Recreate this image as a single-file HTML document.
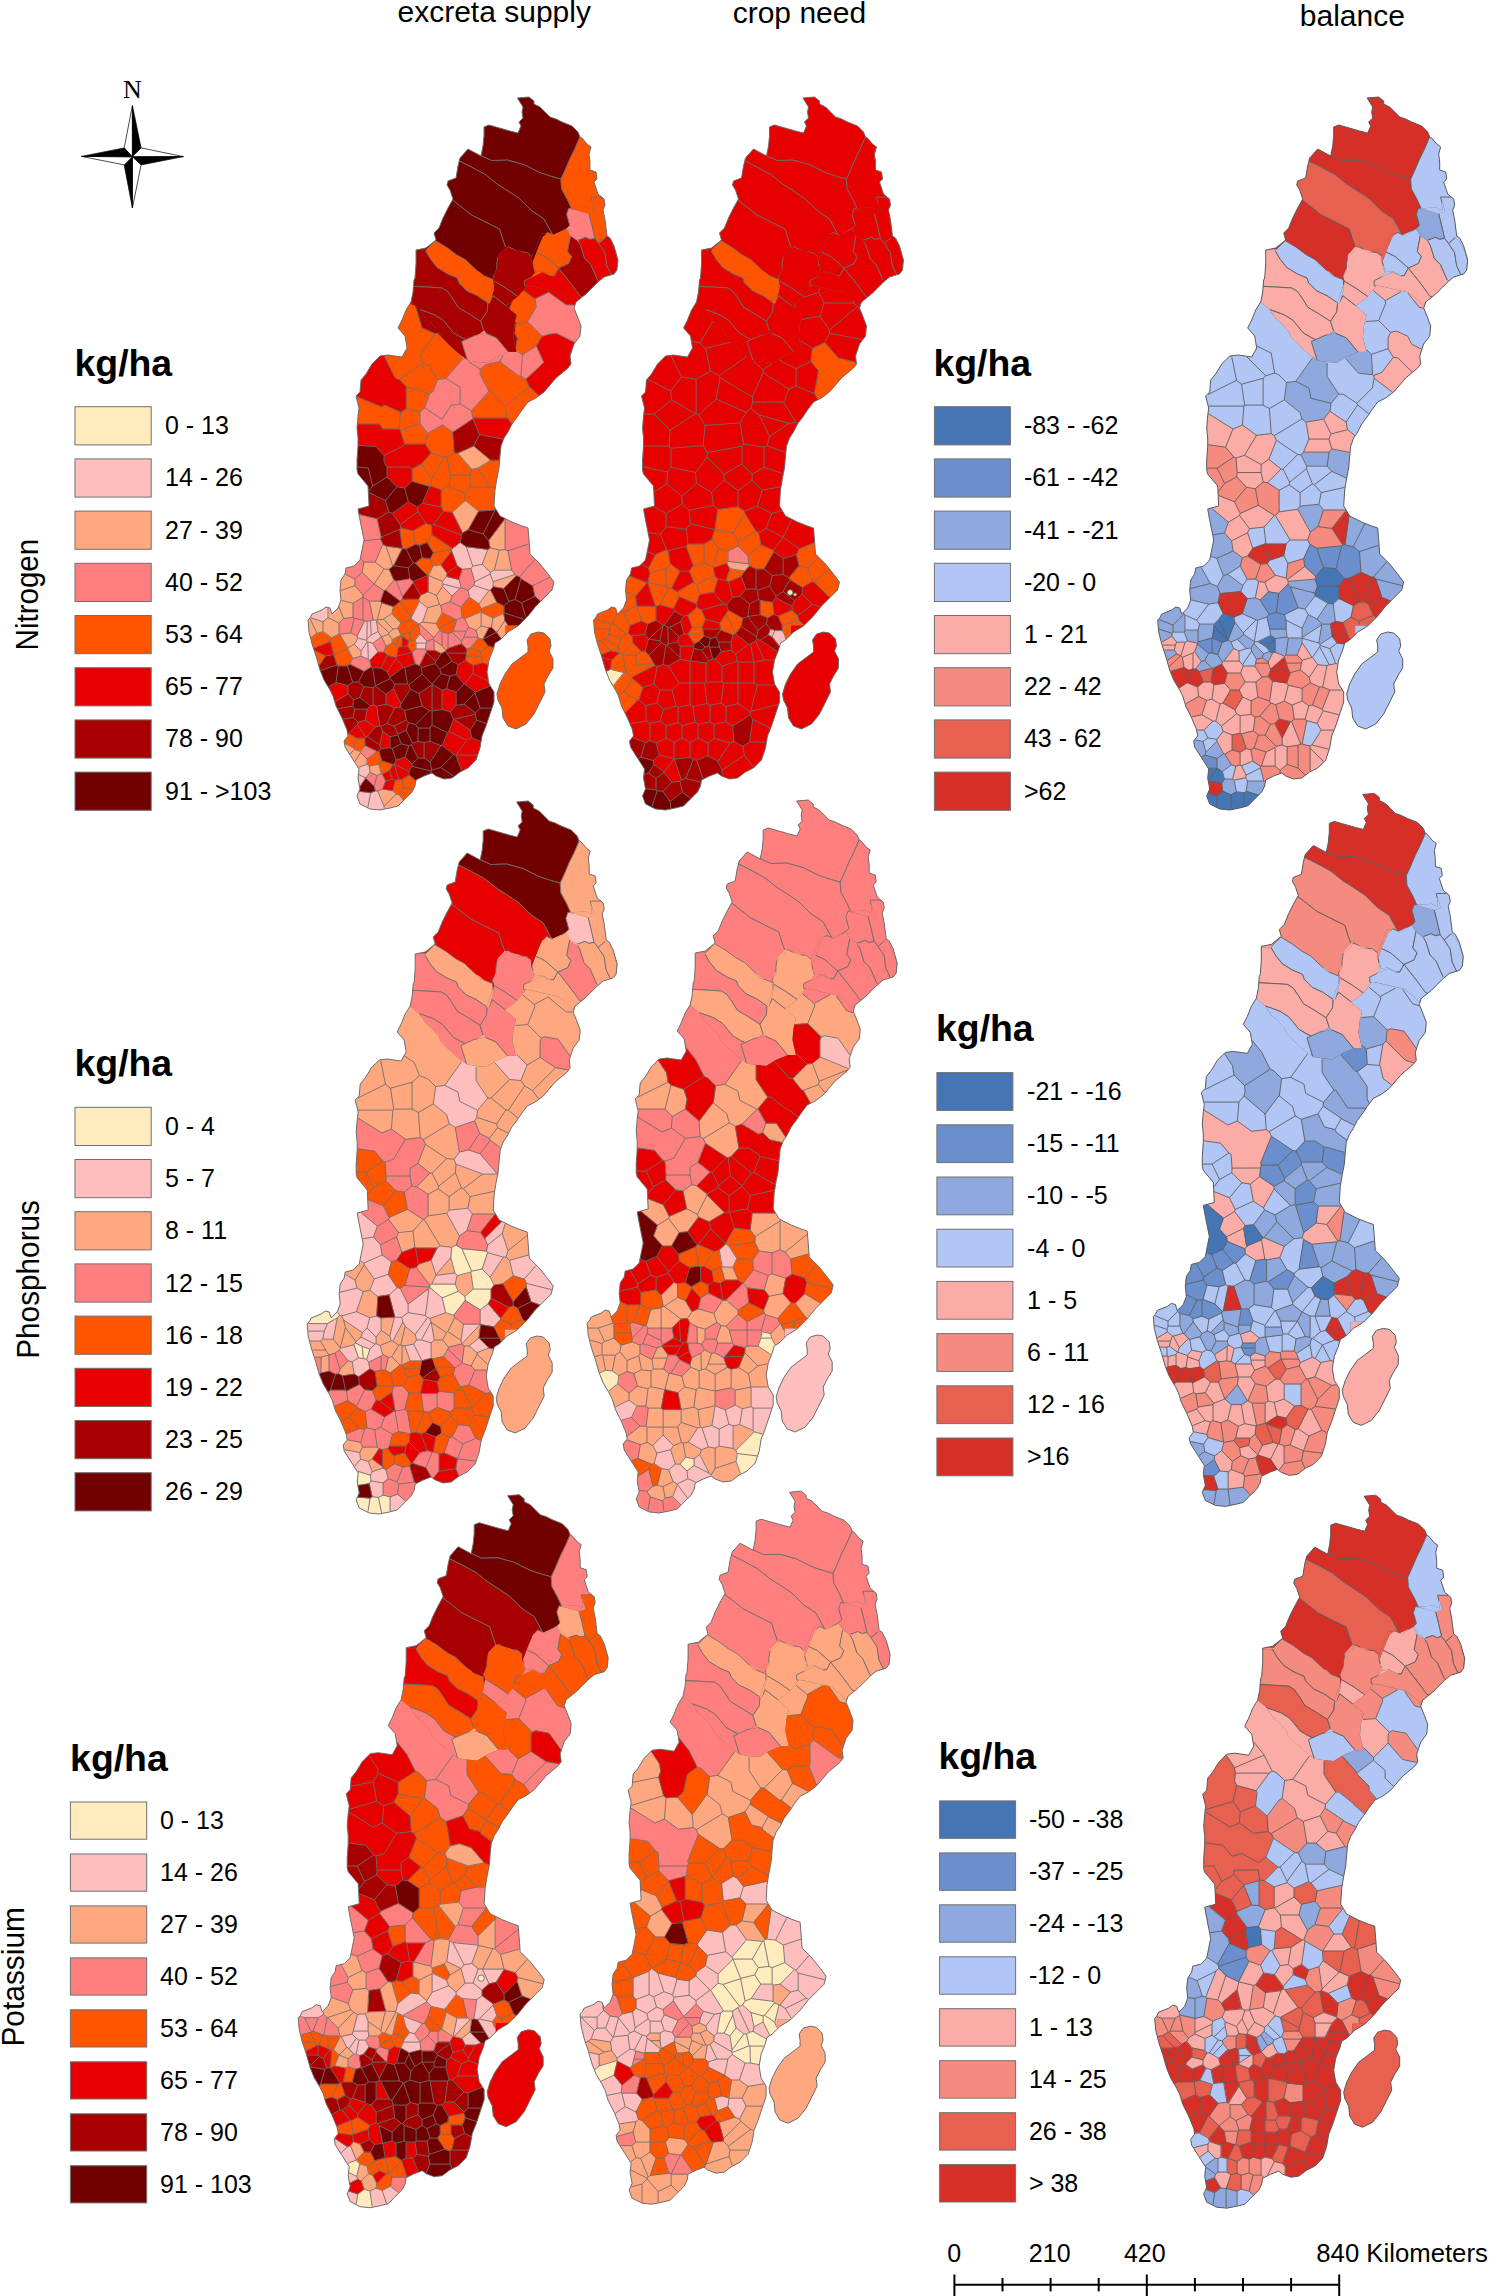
<!DOCTYPE html><html><head><meta charset="utf-8"><style>
html,body{margin:0;padding:0;background:#fff;}
svg{display:block;font-family:"Liberation Sans",sans-serif;}
</style></head><body>
<svg width="1489" height="2296" viewBox="0 0 1489 2296" xmlns="http://www.w3.org/2000/svg">
<defs><path id="swe" d="M517.4,98 L522,97.6 L529,97 L534,101 L534,104 L540,107 L545,112 L550,117 L556,119 L562,122 L572,126 L578,132 L580,137 L582,138 L587,144 L591,147 L589,154 L590,162 L590,170 L596,172 L597,179 L594,182 L598,194 L604,199 L605,205 L603,210 L605,220 L607,236 L610,238 L614,246 L618,260 L617,270 L614,274 L604,277 L598,282 L586,294 L576,302 L574,308 L578,318 L581,326 L580,336 L574,344 L572,350 L570,356 L571,364 L568,368 L556,378 L544,392 L536,398 L528,402 L522,410 L518,416 L512,424 L508,432 L504,438 L501,446 L500,456 L499,468 L497,478 L495,490 L494,506 L500,516 L512,522 L522,526 L528,528 L529,540 L530,554 L540,564 L548,574 L554,582 L552,590 L544,598 L536,606 L528,616 L518,626 L508,632 L500,640 L495,643 L493,650 L489,660 L487,672 L489,684 L494,692 L494,702 L490,714 L486,726 L482,736 L480,748 L476,760 L468,768 L460,772 L452,778 L444,779 L436,776 L432,773 L424,776 L416,780 L415,786 L412,792 L404,800 L398,806 L390,808 L380,810 L370,809 L360,804 L357,796 L360,789 L358,778 L359,769 L352,758 L345,747 L344,741 L348,736 L347,730 L342,718 L336,706 L333,696 L330,690 L324,680 L320,670 L316,656 L312,644 L309,632 L308,620 L310,618 L312,614 L322,610 L326,607 L330,608 L332,614 L338,608 L341,600 L340,590 L341,580 L345,574 L346,568 L354,566 L360,560 L362,550 L364,540 L362,530 L360,520 L358,509 L369,506 L368,486 L358,474 L357,470 L357,460 L358,446 L358,438 L357,428 L358,416 L359,408 L356,396 L360,392 L361,380 L366,374 L372,364 L380,356 L388,355 L402,357 L407,348 L406,342 L405,336 L398,328 L402,320 L406,310 L411,302 L413,292 L414,280 L415,278 L416,264 L416,250 L426,248 L436,240 L434,233 L439,228 L443,218 L448,208 L453,199 L450,190 L447,185 L448,181 L456,178 L458,166 L460,158 L468,149 L481,156 L483,146 L484,136 L484,127 L489,125 L496,127 L510,131 L518,133 L521,126 L519,122 L523,118 L522,112 L523,107Z M538,632 L544,633 L550,639 L551,646 L549,651 L553,659 L553,668 L548,676 L544,684 L545,692 L540,702 L534,714 L526,724 L516,729 L508,726 L503,718 L502,708 L498,700 L497,694 L500,684 L505,674 L512,664 L520,658 L528,652 L528,646 L527,640 L531,634Z"/><clipPath id="cl"><use href="#swe"/></clipPath></defs>
<g transform="translate(0,0)"><g clip-path="url(#cl)"><use href="#swe" fill="#FF5500"/><path d="M451.2,90 592.2,90 580.1,136.7 575.1,148.4 570.1,158.5 565,170.6 561,179.1 551.9,176.6 539.8,172.6 523.7,164.5 507.6,160.1 491.5,160.5 480.4,155.5 471.3,140.4Z" fill="#730000" stroke="#6e6e6e" stroke-width="0.9"/><path d="M451.2,150.4 471.3,140.4 480.4,155.5 491.5,160.5 507.6,160.1 523.7,164.5 539.8,172.6 551.9,176.6 561,179.1 561.6,188.7 567.6,199.8 571.7,208.9 567,214.9 570.5,227.4 552.9,235.5 543.9,218.9 531.8,210.9 519.7,198.8 507.6,190.7 497.5,184.3 485.4,174.6 471.3,167 459.2,160.9Z" fill="#730000" stroke="#6e6e6e" stroke-width="0.9"/><path d="M439.1,190.7 443.1,174.6 459.2,160.9 471.3,167 485.4,174.6 497.5,184.3 507.6,190.7 519.7,198.8 531.8,210.9 543.9,218.9 552.9,235.5 541.9,233.5 535.8,249.2 531.8,257.2 519.7,251.2 505.6,247.2 502.6,239.1 499.5,229 483.4,221 471.3,214.9 461.3,206.9 450.8,198.8Z" fill="#730000" stroke="#6e6e6e" stroke-width="0.9"/><path d="M414.9,231 431,210.9 450.8,198.8 461.3,206.9 471.3,214.9 483.4,221 499.5,229 502.6,239.1 505.6,247.2 498.5,255.2 497.5,267.3 493.9,276.4 493.9,284.4 479.4,272.3 467.3,266.3 451.2,258.2 435.1,251.2 419,249.2Z" fill="#730000" stroke="#6e6e6e" stroke-width="0.9"/><path d="M580.1,136.7 612.4,120.2 612.4,198.8 592.2,198.8 593.2,210.9 586.2,207.9 571.7,208.9 567.6,199.8 561.6,188.7 561,179.1 565,170.6 570.1,158.5 575.1,148.4Z" fill="#FF5500" stroke="#6e6e6e" stroke-width="0.9"/><path d="M590.8,197.1 611,197.1 611,236.4 605.9,237.4 598.9,243.5 594.8,238.4 591.8,225.3 588.8,213.2 594.8,211.2Z" fill="#FF5500" stroke="#6e6e6e" stroke-width="0.9"/><path d="M568.7,208.2 574.7,209.2 588.8,213.2 591.8,225.3 594.8,238.4 589.8,239.4 585.8,237.4 577.7,240.4 570.7,234.4 566.6,228.4 569.7,225.3 566.6,214.3Z" fill="#FF7F7F" stroke="#6e6e6e" stroke-width="0.9"/><path d="M547.5,232.4 554.5,235.4 566.6,228.4 570.7,235.4 568.7,245.5 567.6,251.5 571.7,256.6 568.7,263.6 558.6,268.1 545.5,256.6 535.9,252 539.9,242.5 542.5,236.4Z" fill="#FF5500" stroke="#6e6e6e" stroke-width="0.9"/><path d="M535.9,252 545.5,256.6 558.6,268.1 554.5,275.7 550.5,275.7 542.5,271.7 535.4,272.7 532.4,261.6Z" fill="#FF5500" stroke="#6e6e6e" stroke-width="0.9"/><path d="M570.7,235.4 577.7,240.4 580.7,245.5 584.8,258.6 590.8,264.6 597.9,280.7 604.9,295.8 590.8,300.9 578.7,295.8 575.7,290 568.7,280.7 558.6,268.1 568.7,263.6 571.7,256.6 567.6,251.5 568.7,245.5Z" fill="#A80000" stroke="#6e6e6e" stroke-width="0.9"/><path d="M577.7,240.4 585.8,237.4 589.8,239.4 594.8,238.4 598.9,243.5 604.9,252.5 606.9,265.6 612,276.2 600.9,281.7 597.9,280.7 590.8,264.6 584.8,258.6 580.7,245.5Z" fill="#E60000" stroke="#6e6e6e" stroke-width="0.9"/><path d="M598.9,243.5 605.9,237.4 610,240.4 615,250.5 618,260.6 617,270.7 612,276.2 606.9,265.6 604.9,252.5Z" fill="#E60000" stroke="#6e6e6e" stroke-width="0.9"/><path d="M493.1,276.3 496.7,271.4 496.7,264.2 497.9,256.9 503.9,252.1 508.2,246.5 518.3,251.5 527.3,252.5 532.4,256.6 532.4,261.6 535.4,272.7 532.4,276.7 526.9,285.9 518.4,296.8 506.4,288.4 494.3,281.1Z" fill="#A80000" stroke="#6e6e6e" stroke-width="0.9"/><path d="M524.3,280.7 532.4,276.7 542.5,271.7 550.5,275.7 554.5,275.7 558.6,268.1 568.6,280.7 575,289 580,296 590,300 576,302 574,306 568,300 558.9,292.8 544.8,289.8 532.7,286.8 524.6,285.8Z" fill="#E60000" stroke="#6e6e6e" stroke-width="0.9"/><path d="M425.4,250.6 435.5,240.6 446.8,247.4 456.5,254.7 465.3,259.5 481.4,274.8 493.5,279.6 494.3,284.5 491.1,294.1 487.9,303 477.4,295.8 466.9,290.9 458.9,282.9 457.2,278 447.6,274 437.1,267.5 430.6,259.5Z" fill="#FF5500" stroke="#6e6e6e" stroke-width="0.9"/><path d="M505,625 565,625 565,740 505,740 500,725 495.6,705 495.6,690 498,675 505,660Z" fill="#FF5500" stroke="#6e6e6e" stroke-width="0.9"/><path d="M405,250 425.4,250.6 430.6,259.5 437.1,267.5 447.6,274 457.2,278 458.9,282.9 466.9,290.9 477.4,295.8 487.9,303 487.2,311.7 480.8,321.3 477.5,319.2 469,313.8 458.2,307.4 452.8,298.8 447.5,291.3 442.1,288 426,287 405,286Z" fill="#A80000" stroke="#6e6e6e" stroke-width="0.9"/><path d="M405,286 426,287 442.1,288 447.5,291.3 452.8,298.8 458.2,307.4 469,313.8 477.5,319.2 480.8,321.3 484,331 479.7,334.2 467.9,340.7 461.4,337.5 453.9,333.2 448.5,326.7 443.2,320.3 434.6,314.9 426,311.7 419.5,309.5 411.5,303.1 405,303Z" fill="#A80000" stroke="#6e6e6e" stroke-width="0.9"/><path d="M419.5,309.5 426,311.7 434.6,314.9 443.2,320.3 448.5,326.7 453.9,333.2 461.4,337.5 467.9,340.7 462.5,341.8 467.7,360.9 458.2,353.6 448.5,345 441,337.5 438.9,332.1 432.4,324.6 426,319.2Z" fill="#A80000" stroke="#6e6e6e" stroke-width="0.9"/><path d="M461.6,341.5 474.9,335.5 485.8,333.1 496.7,337.9 508.8,352.4 496.7,357.3 487,363.3 474.9,362.1 467.7,360.9Z" fill="#FF7F7F" stroke="#6e6e6e" stroke-width="0.9"/><path d="M493.1,295.6 506.4,305.9 517.2,315 514.8,324.6 513.6,336.7 517.2,352.4 508.8,352.4 496.7,337.9 485.8,333.1 484,331 480.8,321.3 487.2,311.7 487.9,303 489.4,302.9Z" fill="#A80000" stroke="#6e6e6e" stroke-width="0.9"/><path d="M494.3,281.1 506.4,288.4 518.4,296.8 506.4,305.9 493.1,295.6 489.4,302.9 493.1,290.8Z" fill="#A80000" stroke="#6e6e6e" stroke-width="0.9"/><path d="M592.4,201.4 592,201.5 592.8,210.3 586.2,207.5 570.4,208.6 570.3,208.9 574.6,209.6 588.8,213.7 595.3,211.5Z" fill="#FF5500"/><path d="M532,256.8 532,263.5 532.1,263.5 536.3,252.2 540.3,242.6 542.8,236.7 546.3,233.9 541.6,233 535.4,249 531.7,256.5Z" fill="#730000"/><path d="M618.4,260 614.4,245.9 610.3,237.7 608.5,236.5 605,237.2 609.6,240.7 614.6,250.7 618.1,262.4 618.2,262.4Z" fill="#E60000"/><path d="M498,257.4 504.2,252.4 508,247.4 505.5,246.7 498.1,255Z" fill="#A80000"/><path d="M494.3,284.6 493.9,284.5 490.7,294 487.3,303.4 489.7,303.3 493.5,290.9Z" fill="#FF5500"/><path d="M535,272.6 531.1,277.8 542.5,272.1 550.4,276.1 552.2,276.1 542.5,271.3 535.7,272.2 534,265.8 533.2,266Z" fill="#FF5500"/><path d="M486.5,333.3 484.1,330.5 479.5,333.9 477.1,335.2 477.1,335.4Z" fill="#FF7F7F"/><path d="M415.6,249.7 415.6,250.7 425.6,251 426.8,249.7 419.7,248.9Z" fill="#A80000"/><path d="M567.2,228.5 566.4,228.8 570.4,235.7 579.1,241.9 579.5,241.4 571,234.1Z" fill="#FF7F7F"/><path d="M476.6,270.5 476.5,270.7 481.2,275.1 484.9,276.6 485,276.5 479.6,272Z" fill="#FF5500"/><path d="M518.2,251.9 522.8,252.4 522.8,252.3 519.8,250.8 513.1,248.9 512.9,249.3Z" fill="#A80000"/><path d="M562,231.5 561.7,231 552.8,235.1 554.6,235.9Z" fill="#FF5500"/><path d="M497.1,267.4 497.1,267.4 493.8,275.5 494.1,275.7 497.1,271.5Z" fill="#A80000"/><path d="M493.8,277.5 493.5,277.5 493.5,282.1 494,285 494.2,285 494.7,281.1Z" fill="#730000"/><path d="M605.8,276 605.3,275.4 599,280.7 597.1,280.1 597.8,281.6 596.2,283 596.7,283.6Z" fill="#E60000"/><path d="M515.6,346.6 516.7,351.4 522.4,355.2 536.7,346.4 536.7,346.1 542.6,336 528,321.5 536.6,307.2 535.4,298.8 523.6,290 522.8,290.7 518.2,296.6 511.7,301.5 509.1,308.6 516.9,315.1 514.9,322.8 515.6,323.3 514.1,332.6 516.9,338.3ZM518.5,375.5 500,361.1 486,364.1 479.8,369 479.8,374.8 488.6,391.2 471,410.7 472.7,418.4 507.2,418.4 511.9,424.9 512.3,424.2 518.2,416.2 522.2,410.2 528.2,402.2 536.2,398.3 539.6,395.7 529.4,386.2 526.1,378.9 521.1,375.8ZM504.4,612.8 504.4,605.9 496.8,602.1 481.3,608.3 479.3,603.7 469.2,596.5 460.6,606.9 461.8,617.9 464.5,619.1 480.8,612.1 480.9,612.3 493,618.4 504,613.6ZM381.1,406.3 355.6,395.7 358.7,408 357.7,416 357,424.4 379.2,424.4 382.7,429.4 398.9,429.4 399.8,430.3 404.5,444.4 424.8,444.4 430.7,452.8 421.4,463.4 411.8,468.8 411.8,481.5 429.6,486.9 430.7,486.5 440.8,489.9 440.8,507.1 443.2,511.8 452.3,512.6 465.5,501.1 478.5,511.5 495.1,510.4 496.7,509.9 494.3,505.9 495.3,490 495.6,488.4 497.3,478.1 499.3,468 500,459.8 490.6,459.8 477.8,467.8 471.9,469 457.8,452.9 454.6,452.4 453,431.9 442.6,424.6 427.6,432.9 420.4,423.3 420.4,411.8 425,408.1 429.7,394 433.1,391.9 437.9,379.8 446.1,378.6 463.6,358.3 462.8,356.7 458.4,353.4 448.7,344.8 441.3,337.3 440.5,335.4 437.9,333 435.3,333.3 422.3,327.4 415.9,306.3 414.2,304.9 410.1,302.9 405.7,309.9 401.7,319.9 397.6,328 404.7,336.1 406.7,347.9 401.8,356.7 388,354.7 383.3,355.3 394.5,377.6 396.5,379.3 399.3,379.8 405.8,386.9 405.8,408.7 400.7,411.7 385,404.8ZM466.9,648.8 466,653 465.7,656 465.2,660.7 473.1,665.7 482.8,663.2 488.5,665.1 489.3,660.1 493.3,650.1 494.1,647.2 488.5,645.8 483.1,639 483,639 478.3,637.7 470.2,647.7ZM441.8,632.1 448.2,633.9 452.6,632.7 453.4,631.2 457.3,619.6 456,619.2 442.1,612.3 435.6,623.6 438.6,628.4 439.3,630.7ZM399.4,529.3 402.1,548.6 406.1,549.4 415.3,544.8 419.6,545.7 427,542.9 432.9,552.7 430,558.6 421.9,557.2 414.6,563 427.4,575.8 428.1,575.8 428.7,575.6 433.4,566.2 441.1,565.1 452,551.4 452.1,549.7 452.9,548.2 432.3,534.5 431.6,525.2 426,523 413,530.5 400.5,527.3ZM391.3,613.8 400.5,623 397.4,628.4 400.7,635 400.6,635 391.8,639.3 391.8,642.9 385.8,645.9 383.7,652.1 387.2,655.7 396,657.9 397.2,656.2 398.5,648.1 402.3,646.3 402.5,637.1 408.3,640.9 407,646.1 411.7,652.5 412.1,652.7 416.4,649.2 416.4,643 415.7,640.2 420.3,634.1 419,623.7 418.5,623.5 411.7,618.8 411.5,617.9 419.8,601.4 418.8,598.8 402,598.8 400.1,600.9 400,601.2 393.2,606.4ZM399,778.8 395,780.1 392.3,790.8 395.9,794.4 399.4,795.3 403.5,801 404.2,800.2 412.2,792.2 415.3,786.1 416.2,780.4 409.1,774.4 401.9,779.2ZM393.5,764.3 382,760.4 379.3,751 376.9,751.3 366.7,758.9 366.7,764.6 369.2,766.6 378.6,764.7 381,774.1 382.1,774.4 389.7,770.6ZM344.1,743.5 353.3,748 354.3,749.8 360.4,751.9 365.3,745.7 365.3,737.8 356.8,737.8 348.9,733 347.2,733.2 347.7,735.9 343.7,740.9ZM310.1,637.6 311.7,644.1 313.3,648.8 330.2,642.1 333.3,654.4 333.2,654.6 336.8,665.2 338.2,666.3 347.5,666.3 350.3,664.2 353.1,658.5 348.2,648.7 348.4,648 340.1,634.1 339,633.7 331.6,637.4 323.1,631.3 316.9,633.1ZM315.7,656.1 318.8,666.9 326.2,655.8 313.5,649.4Z" fill="#FF5500"/><path d="M515.3,574 492.8,581.5 492.8,587 503.8,588.8 517.1,575.5ZM488.3,540.3 489.8,547.7 487.5,549.2 481.9,564.2 490.4,572.7 494.5,570.4 512.1,570.4 508.2,550.6 505.4,549.4 505.4,518.4 504.9,518.1ZM501.2,639.3 505.3,635.1 505.3,625.3 508.7,625.3 505.1,620.5 504,613 493,617.7 481.3,611.9 481,611.4 464.1,618.7 468.4,627.4 475.8,630.6 477.7,637.2 478.2,638.3 483,639.6 489.1,628.1 491.3,627.7 496.2,632.6 496.6,632.8ZM481,609.1 497.2,602.6 490.8,589.7 489,590.1 478.7,603.8ZM471.7,469.7 478.1,468.4 491.2,460.2 473.7,445.6 457.2,453.1ZM462.5,533.4 468.5,529.9 479,511.1 465.5,500.3 451.9,512.2ZM427.8,575.3 427.8,591.6 420.4,594.8 418.3,599.1 419.2,601.6 427.2,607.9 422.5,621.9 418.7,623.6 433.9,638 439.9,630.6 439.1,628.2 436.3,623.6 442.5,612.7 441.1,605.4 450.5,601.9 452.4,596 442.8,586.4 443.4,584.1 442.8,581.5 446.9,576.6 447.4,573 441,564.5 433,565.6 428.2,575.1ZM433.9,650.3 441.1,653.9 445.6,651.6 446,650.4 442.5,645.7 433.6,639.7ZM399.7,794.7 396.2,793.8 392.8,790.4 382.3,788.7 377.3,791.1 383.8,806.2 383.8,809.6 390.1,808.3 398.2,806.3 403.9,800.5ZM361.7,572.2 373.7,584.2 373.7,584.2 383.8,590.9 386,590.4 394.3,580 389.6,569.5 392.9,566.5 394,566 402.9,548.1 386.1,545.8 382.6,544 375,561.8 363.8,561.8ZM373,620.2 376.1,620.7 376.1,620.9 377.8,631.7 381.1,637.1 381.3,637.2 385.9,646.5 392.4,643.3 392.4,639.7 401,635.5 401.4,635.1 398.1,628.4 401.3,622.9 392,613.6 393.8,606.4 381.8,602.4 380.5,600.8 369.1,600.8ZM381.6,774 379.1,764 368.9,766 370,772.4 376.9,775.9ZM351.7,758.2 354.2,762.1 357.9,767.8 367.3,764.6 367.3,759 360.9,752.5 360.5,751.3 354.7,749.3 353.7,747.6 344,742.7 344.7,747.1 349.5,754.6ZM340.7,600 340.6,600.2 338.4,606.1 337.7,607.8 332.1,613.4 330.2,607.7 327.7,607.1 327.7,617.5 323,621.4 310.1,617.1 309.8,617.8 307.7,619.9 308.7,632 310.2,638.2 317.1,633.6 323,631.9 331.6,638.1 339.3,634.2 339.3,623.2 343.7,618.8 353.3,617.6 353.3,603.5 363.1,597.4 363.3,597.4 363.3,595 355.3,585.6 355.3,578.9 344.9,573.7 340.7,579.9 339.7,590ZM347.5,648.7 352.6,658.9 361.3,656.4 361.3,651 354.7,644.2 358.5,638 357.3,635.8 350.7,632.5 339.4,634.1 347.7,648.1Z" fill="#FFA77F"/><path d="M473.7,585.2 467.8,590.4 469,597.1 479.1,604.3 489.3,590.7 490.8,590.3 493.4,586.8 493.4,582 515.7,574.5 511.9,569.8 494.3,569.8 490.5,572 482.6,564.1 488.2,549.1 466.4,546.4 460.2,542 452.2,548.1 451.5,549.5 451.4,551.4 456.8,565.8 462.3,569.7 470.7,568.7 474.4,581.8ZM442.2,581.3 442.8,584.1 442.2,586.6 452.1,596.5 460.1,588.5 461.7,587.9 459.2,579.3 446.5,576.1ZM423,622.3 427.9,607.7 419.3,600.9 410.9,617.8 411.2,619.1 418.2,624.1 418.7,624.2 419.4,624ZM415.8,649.3 425.6,649.3 426.7,643.1 427.4,641 419.9,633.5 415,640 415.8,643.1ZM358.8,791 356.7,796 359.8,804.2 367.6,808.1 369.9,809.3 380,810.3 384.4,809.4 384.4,806.1 377.9,791 375.5,790.4 370.7,792.5ZM373.2,619.6 370.4,620.4 367.2,620.9 364.4,620.7 356.7,636 357.8,638 353.9,644.3 360.7,651.3 360.7,656.4 368.1,659.6 369.7,660.8 378.4,652.1 373.2,643.4 381.7,636.9 378.4,631.5 376.7,620.8 376.6,620.2ZM359.5,788 366,778.3 366.1,778.2 370.5,772.3 369.5,766.1 367.1,764.1 357.5,767.3 358.7,769.1 358.1,774.3 357.7,778ZM321.9,609.7 311.8,613.8 309.8,617.7 323.1,622.1 328.3,617.7 328.3,607.3 325.9,606.7Z" fill="#FFBEBE"/><path d="M574.6,304.2 574.9,306.3 576.8,300.7 576.4,300.5ZM521.8,291.9 522,292.1 524,290.5 523.8,289.4ZM513.3,336.7 515.9,348.1 515.9,348.1 517.6,338.2 514.7,332.5 516.3,323.1 515.1,322.1 514.5,324.5ZM509.6,309 512.6,300.8 505.9,305.9ZM501.3,446.1 504,439 479.7,434.1 473,418.1 452.4,431.9 454,452.9 457.7,453.5 473.6,446.3 490.6,460.4 499.9,460.4 500.3,456ZM449.9,711.8 453.4,719.5 453.9,719.6 470.2,730.5 477,720.3 475.4,714.1 475.7,712.7 464.1,703.9 456,704.9ZM445.4,650.3 445.1,651.4 446.6,653.3 451.9,661.3 458.3,665 465.8,660.8 466.3,656.1 466.6,653.1 467.4,648.9 461.7,643.2 447.8,647.9ZM418.6,693.3 421.8,706.3 429.5,710.8 432.1,711.2 442.4,709.7 442.4,690 432.1,684.2 431.9,684.5ZM425.8,652 419,665.4 421.4,667.8 435.5,663.8 436,661.8 441.5,653.4 434.3,649.8 425.8,649.8ZM430.1,741 424.1,742.2 418.1,741 412.6,743.2 411,744.7 417.9,758.4 424,758.4 430.2,762.5 441.5,745.5ZM411.6,302.8 410.2,302.8 409.7,303.4 415.2,306 415.2,306 421.8,327.9 435.2,334 437.7,333.6 441,336.6 439.2,331.9 432.6,324.4 426.2,319 419.7,309.3 415.4,305.8ZM401.8,599.4 418.8,599.4 421,595 413.1,581.9 402.2,596.4ZM394.6,683.7 393.1,688.8 400.9,704.4 410.9,689.3 409,684.7 407.7,683.7ZM373,705.2 376.3,706.5 379.5,725.8 375.1,726.6 367,736.3 365.6,737 364.7,738 364.7,745.8 377,751.9 379.3,751.6 381.3,748.9 380.2,745 382.8,731.8 390,737.2 398,735.1 398.3,734.3 406.3,730.3 408.9,722.6 406.7,719.8 404.8,710.3 400.4,706.7 394.6,707.7 386.4,704 386.4,694.1 375.3,685.9 373,687.4 364.1,686.4 358.7,681.7 352.6,681.7 347.7,685.4 347.7,693.9 334.4,701.9 335.7,706.1 341.7,718.1 342.2,719.3 346.7,730.1 347.3,733.8 348.9,733.6 357.7,724.8 358.4,722.4 365.5,720.4 367.4,708.8 354.9,708.8 352.9,705.9 353.8,699.8 359.6,697.8 370.4,706ZM358.7,514.8 376.8,519.3 380.8,537.3 380,539.1 382.5,544.6 386,546.3 402.4,548.7 402.7,548.7 400,529.4 401,527.8 400.5,524.6 392.7,512.9 389,511.8 385.6,500.5 368,491.6 368.7,505.8 357.7,508.8ZM325.6,655.6 318.6,666.1 319.7,670.1 320.1,671 337.4,665.2 333.8,654.3Z" fill="#A80000"/><path d="M543.3,362.3 525.5,379 528.9,386.6 539.1,396 544.2,392.2 556.2,378.2 568.2,368.2 571.3,364.1 570.3,356 574.3,344.1 575.6,342.4 556.9,333.1 551.4,333.5 551.2,333.4 542,335.8 536.1,345.9 536.1,346.3ZM575,303.3 574,305.3 575.2,305.3 575.3,305ZM559,292.5 544.9,289.5 532.8,286.5 526.6,285.7 523.3,290 523.4,290.6 535.1,299.4 548.5,292.7 566.3,305.3 573.7,305.3 568.2,299.8ZM512.2,424.3 507.5,417.8 472.7,417.8 472.6,418.6 479.2,434.6 503.7,439.5 504.3,438.1 508.3,432.2ZM458,664.5 455.8,674.6 464,684.3 464.6,684.3 475.3,692.3 490.7,686.1 489.3,683.9 488.8,681.2 487.3,672 488.6,664.5 482.8,662.6 473.2,665 465.6,660.2ZM448.5,731.2 447.2,732.6 442,745.6 453.5,754.8 455.6,755.4 461.5,771.6 468.2,768.2 476.3,760.2 477.9,755.2 480.3,748.1 481.4,741.6 471.9,737.3 470.4,729.9 454.1,719.1 453.5,718.9ZM422.2,503.1 417.2,506.8 408.4,501.4 392.1,513.1 399.9,524.8 400.4,527.9 413.1,531.1 426,523.7 431,525.6 431.8,534.9 452.5,548.7 460.4,542.6 461.7,535.3 462.9,533 452.4,512 443.6,511.3 441.4,507 441.4,489.5 430.7,485.9 429.3,486.3ZM446.3,576.7 459.1,579.9 462.7,569.3 457.3,565.4 451.8,550.7 440.5,564.8 446.8,573.1ZM441.8,690 441.8,709.7 450.3,712.1 456.4,705.3 456.4,691.8 446.6,688.6ZM383,428.8 379.5,423.8 357,423.8 356.7,428 357.7,438 357.7,445.6 375.7,446.9 383.7,455.7 383.7,461.6 386.7,467.2 386.8,477.1 396.7,487.1 404.7,488.3 412.4,481.4 412.4,469.2 421.8,463.9 431.4,452.9 425.1,443.8 404.9,443.8 400.3,429.9 399.2,428.8ZM412.8,582.5 420.5,595.4 428.4,592 428.4,575.3 427.4,575.2 412.8,581.4ZM384.1,651.7 377.9,651.7 369.4,660.3 370.8,667.2 372.5,668.3 381,668.3 386.8,672.2 390,677.7 403.6,667.5 404.8,667.9 415.6,663.9 412.3,652.1 412.1,652.1 407.7,646 409,640.6 401.9,636 401.7,645.9 398,647.7 396.7,655.9 395.8,657.2 387.5,655.1ZM392.9,791.1 395.5,780.6 399.1,779.4 402,779.8 409.4,774.9 409.4,771.7 412.4,766.4 412.4,764 405.2,756.7 395.9,759.8 393.9,763.9 392.9,764.2 389.3,770.2 381.7,774 385.2,781 381.9,789.2ZM399.6,379.3 396.8,378.7 395,377.2 383.9,355.2 379.9,355.7 371.8,363.8 365.8,373.8 360.7,379.9 359.7,391.9 355.7,395.9 355.8,396.4 381.1,406.9 385,405.4 400.8,412.4 406.4,409.1 406.4,386.7ZM385.8,694.1 385.8,704.4 394.6,708.3 400.5,707.3 401.2,703.7 393.5,688.3ZM380.8,749.2 390.4,748 390.4,736.7 382.4,730.7 379.6,745ZM375.4,727.1 380.2,726.3 376.9,706.1 373.1,704.5 370.3,705.4 366.8,708.9 364.9,719.9 357.9,721.9 357.2,724.5 348.3,733.4 356.6,738.4 365.2,738.4 366,737.4 367.4,736.7ZM332.7,696.1 334.6,702.4 348.3,694.2 348.3,685.3 335.9,682.2 327.7,686.8 329.7,690.1ZM313.8,650.2 325.7,656.2 333.8,654.9 333.9,654.4 330.6,641.2 313.1,648.3Z" fill="#E60000"/><path d="M520,576.4 516.6,575.2 503.6,588.2 493,586.4 490.3,590 496.6,602.6 503.8,606.3 503.8,612.7 503.4,613.3 504.5,620.7 507.9,625.3 519.1,625.3 528.2,616.2 536.2,606.2 541.2,601.2 535.3,596 533.2,585.5 521.2,578.4ZM461.2,535.1 459.8,542.5 466.2,547 487.8,549.7 490.4,548 488.9,540.5 505.5,518.4 500.2,515.8 496.4,509.4 495,509.8 478.4,510.9 468.1,529.5 462.4,532.8ZM488.2,646.3 493.9,647.8 495.3,643.2 500.2,640.2 501.6,638.8 497,632.4 496.6,632.1 491.5,627.1 488.7,627.5 482.5,639.3ZM337.1,664.7 319.9,670.4 323.7,680.1 328,687.3 336,682.8 348.1,685.9 352.8,682.3 358.4,682.3 363.9,687 373.1,688 375.3,686.6 386.1,694.7 393.7,689 395,684.3 407.5,684.3 408.6,685.1 410.2,689.3 400.6,703.7 399.9,707.1 404.3,710.6 406.2,720 408.2,722.7 405.8,729.9 397.8,733.9 397.6,734.6 389.8,736.6 389.8,747.4 380.8,748.6 378.8,751.3 381.5,760.9 393.1,764.7 394.3,764.3 396.3,760.3 405,757.4 411.8,764.2 411.8,766.3 408.8,771.5 408.8,774.9 416.1,781 416.3,780.2 424.1,776.3 431.2,773.6 432,773.3 435.9,776.3 444,779.3 452.1,778.3 454.3,776.7 460.2,772.3 462,771.3 456.1,754.9 453.8,754.3 442.7,745.4 447.7,732.9 449,731.6 454,719.2 450.4,711.6 442.1,709.2 432.1,710.6 429.7,710.3 422.3,705.9 419.3,693.6 432.3,684.9 442.1,690.5 446.6,689.2 455.8,692.3 455.8,705.5 463.9,704.5 475.1,712.9 474.8,714.1 476.3,720.2 469.8,730 471.3,737.7 481.3,742.2 482.3,736.1 486.3,726.1 487.1,723.7 490.3,714.1 494.3,702 494.3,691.9 490.4,685.6 475.4,691.6 464.8,683.7 464.3,683.7 456.4,674.5 458.6,664.5 452.3,660.8 447,652.9 445.5,651 440.9,653.3 435.4,661.5 435,663.3 421.6,667.1 419.6,665.1 415.3,663.4 404.8,667.3 403.5,666.9 390.2,676.8 387.3,671.8 381.1,667.7 372.6,667.7 371.1,666.7 364,670.7 350,663.7 347.3,665.7 338.4,665.7ZM412.9,743.7 418.1,741.6 424.1,742.8 430.1,741.6 440.6,745.8 430,761.7 424.2,757.8 418.3,757.8 411.8,744.8ZM393.5,565.5 392.6,566 388.8,569.3 393.7,580.2 396.3,581.5 409.8,579.3 413,582 428,575.6 415.5,563.1 422.1,557.9 430.3,559.2 433.6,552.7 427.3,542.1 419.5,545.1 415.3,544.1 406,548.7 402.4,548.1 402.2,548.1ZM357.7,445 357.7,446 356.7,460 356.7,470 357.7,474.1 367.7,486.1 368,491.7 368,492.3 385.1,500.9 388.5,512.3 392.5,513.5 408.4,502.2 417.3,507.5 422.6,503.5 430,486.4 412,481 404.5,487.7 397,486.5 387.4,476.9 387.3,467 384.3,461.5 384.3,455.5 376,446.3ZM380,601.2 381.5,602.9 393.5,606.9 400.5,601.6 400.8,601 385.9,589.8 383.6,590.4ZM366,777.6 365.6,777.7 359.4,787.1 359.7,789 358.6,791.6 370.8,793.1 375.9,790.9 374.5,786.2ZM352.3,706 354.5,709.4 367.2,709.4 370.9,705.6 359.7,697.2 353.3,699.3Z" fill="#730000"/><path d="M575.4,304.7 574.3,304.7 573.9,305.5 573.1,304.7 566.5,304.7 548.6,292 534.8,298.8 536,307 527.3,321.6 542.1,336.4 551.1,334 551.4,334.1 556.8,333.7 575.2,342.9 580.3,336.1 581.3,326 578.3,317.9 574.3,308ZM512.1,521.7 504.8,518.1 504.8,549.8 507.6,551 511.5,570.2 515,574.6 516.5,575.8 519.6,576.9 520.8,578.8 532.6,585.9 534.7,596.3 540.8,601.6 552.3,590.2 554.3,581.9 548.2,573.8 540.2,563.8 530.3,553.9 529.6,543.7 529.3,540 528.3,527.8 522.1,525.7ZM419.8,411.5 419.8,423.5 427.4,433.7 442.5,425.3 452.7,432.4 473.1,418.8 473.3,418.1 471.7,410.9 489.3,391.3 480.4,374.6 480.4,369.3 486.2,364.7 499.8,361.8 518.2,376.1 520.9,376.4 525.9,379.4 544,362.4 536.5,345.8 522.4,354.5 516.5,350.6 516.8,352.1 508.7,352.1 503.2,354.3 496.6,357 486.9,363 486.1,362.9 474.9,361.8 467.8,360.6 461.7,355.9 462.8,358.2 445.8,378.1 437.5,379.3 432.6,391.5 429.2,393.6 424.5,407.7ZM450,601.4 440.4,605 441.9,612.9 455.8,619.8 456.5,620 452.8,630.9 452.2,632.2 448.2,633.3 442,631.5 439.5,630.1 433.8,637.2 419.3,623.4 418.4,623.7 419.7,634.1 426.7,641.2 426.1,643 425.1,648.7 416,648.7 411.7,652.2 415,663.9 419.6,665.7 426.4,652.1 426.4,650.4 434.5,650.4 434.3,640.8 442,646.1 445.6,650.9 448.2,648.4 461.5,643.9 467,649.4 470.5,648.2 478.8,638.1 478.3,637 476.3,630.1 468.9,627 464.7,618.6 462.3,617.5 461.2,607.1 469.6,597 468.4,590.6 474.2,585.5 475.1,581.8 471.1,568.1 462.1,569.1 458.6,579.5 460.9,587.6 459.7,588 451.8,595.9ZM396.4,580.9 393.8,579.6 385.4,590.2 400.4,601.5 402.5,599.2 402.7,596.7 413.4,582.5 413.4,581.5 410,578.6ZM377.9,652.3 384.2,652.3 386.4,646.1 381.8,636.7 381.2,636.5 372.4,643.2ZM377.7,791.6 382.5,789.2 385.8,781 382.3,773.9 381.2,773.5 377,775.2 370.1,771.8 365.5,778 374,786.5 375.3,790.9ZM344.7,573.9 344.5,574.2 354.7,579.3 354.7,585.9 362.7,595.2 362.7,596.9 352.7,603.2 352.7,617.1 343.5,618.2 338.7,623 338.7,634.3 339.8,634.7 350.6,633.1 357.2,636.4 364.7,621.3 367.2,621.6 370.5,621 373.6,620.1 369.8,601.4 380.6,601.4 384.2,590.5 374.2,583.8 362.4,572 364.3,562.4 375.4,562.4 383.1,544.4 380.7,539.1 381.4,537.3 377.3,518.8 358.6,514.1 359.7,520.1 363.7,540 363.6,540.7 361.7,549.9 360,558.3 359.7,559.9 353.8,565.7 345.7,567.8ZM360.4,752.8 367,759.5 377.6,751.5 365,745.2 360,751.4ZM368.4,659.1 361,655.9 352.6,658.3 349.6,664.2 364.1,671.4 371.4,667.2 370,660.2Z" fill="#FF7F7F"/><path d="M325.8,655.9 314.8,650.4M319.3,665.5 325.8,655.9M317,633.4 310.1,618.8M311,637.4 317,633.4M323,621.8 328,617.6M328,617.6 328,608.1M310.8,617.7 323,621.8M314,648.2 330.4,641.7M330.4,641.7 331.6,637.8M331.6,637.8 323,631.6M323,631.6 317,633.4M323,631.6 323,621.8M331.6,637.8 339,634M339,634 339,623.1M339,623.1 328,617.6M355,585.7 355,579.1M355,579.1 345.5,574.3M340.7,590.5 355,585.7M379.3,424.1 382.8,429.1M382.8,429.1 399,429.1M399,429.1 400.7,412.1M400.7,412.1 385,405.1M385,405.1 381.1,406.6M381.1,406.6 356.7,396.5M357.9,424.1 379.3,424.1M320.8,670.4 337,665M337,665 333.5,654.6M333.5,654.6 325.8,655.9M354.5,749.6 353.5,747.8M353.5,747.8 345,743.6M350.1,754 354.5,749.6M330.4,641.7 333.6,654.4M333.6,654.4 347.9,648.7M347.9,648.7 348,648M348,648 339.8,634.4M339.8,634.4 339,634M336,682.5 338.3,666M338.3,666 337,665M328.6,686.6 336,682.5M338.3,666 347.4,666M347.4,666 350,664M350,664 352.8,658.5M352.8,658.5 347.9,648.7M348,694 348,685.5M348,685.5 336,682.5M335.3,701.7 348,694M348,694 353.5,699.6M353.5,699.6 359.7,697.5M359.7,697.5 364,686.7M364,686.7 358.5,682M358.5,682 352.7,682M352.7,682 348,685.5M352.7,682 347.4,666M339.8,634.4 350.7,632.8M350.7,632.8 354.1,618.2M354.1,618.2 353,617.3M353,617.3 343.6,618.5M343.6,618.5 339,623.1M343.6,618.5 339,607M353,617.3 353,603.3M353,603.3 341.5,600.4M348,648 354.3,644.2M354.3,644.2 358.2,638M358.2,638 357,636M357,636 350.7,632.8M355,585.7 363,595.1M363,595.1 374,584.1M374,584.1 362,572.1M362,572.1 355,579.1M362,572.1 364,562.1M364,562.1 360.8,558.9M353,603.3 363,597.1M363,597.1 363,595.1M352.8,658.5 361,656.2M361,656.2 361,651.1M361,651.1 354.3,644.2M353.3,717.4 354.7,709.1M354.7,709.1 352.6,705.9M352.6,705.9 338.1,708.8M343.1,719.1 353.3,717.4M352.6,705.9 353.5,699.6M354.9,761.4 360.6,752.7M360.6,752.7 360.3,751.5M360.3,751.5 354.5,749.6M358.5,682 364,671M364,671 350,664M370.7,792.8 359.6,791.4M367.8,807.2 370.7,792.8M348.8,733.3 357.4,724.7M357.4,724.7 358.2,722.2M358.2,722.2 353.3,717.4M348.2,733.4 348.8,733.3M354.1,618.2 363,620.2M363,620.2 363,597.1M357,636 364.5,621M364.5,621 363,620.2M380.4,539.1 381.1,537.3M381.1,537.3 377.1,519M377.1,519 359.6,514.7M364.5,540.7 380.4,539.1M372.6,486.1 368.4,468.2M368.4,468.2 357.6,466.9M368.8,491 372.6,486.1M353.5,747.8 356.7,738.1M356.7,738.1 348.8,733.3M365.8,778 359,774.6M360.1,786.5 365.8,778M360.3,751.5 365,745.6M365,745.6 365,738.1M365,738.1 356.7,738.1M358.6,767.2 367,764.4M367,764.4 367,759.1M367,759.1 360.6,752.7M364,671 371,667M371,667 369.7,660.4M369.7,660.4 368.3,659.3M368.3,659.3 361,656.2M354.7,709.1 367,709.1M367,709.1 370.5,705.6M370.5,705.6 359.7,697.5M358.2,638 366.5,640.3M366.5,640.3 366.9,639.2M366.9,639.2 367.2,621.3M367.2,621.3 364.5,621M358.2,722.2 365.2,720.2M365.2,720.2 367,709.1M361,651.1 367.4,641.6M367.4,641.6 366.5,640.3M365,738.1 365.8,737.2M365.8,737.2 357.4,724.7M364,686.7 373,687.7M373,687.7 375.3,686.2M375.5,685.8 372.5,668M372.5,668 371,667M365.8,737.2 367.2,736.5M367.2,736.5 375.2,726.9M375.2,726.9 365.2,720.2M367.2,621.3 370.5,620.7M370.5,620.7 373.2,619.9M373.2,619.9 369.4,601.1M369.4,601.1 363,597.1M368.3,659.3 367.8,641.9M367.8,641.9 367.4,641.6M370.5,705.6 373,704.9M373,704.9 373,687.7M375.2,726.9 379.9,726M379.9,726 376.6,706.3M376.6,706.3 373,704.9M365,745.6 377.1,751.6M377.1,751.6 379.1,751.3M379.1,751.3 381,748.8M381,748.8 379.9,745M379.9,745 367.2,736.5M384.1,806.1 377.7,791.3M377.7,791.3 375.5,790.7M375.5,790.7 370.7,792.8M384.1,808.6 384.1,806.1M367,759.1 377.1,751.6M369.4,601.1 380.4,601.1M380.4,601.1 383.9,590.6M383.9,590.6 374,584.1M365.9,778 370.2,772.2M370.2,772.2 369.2,766.3M369.2,766.3 367,764.4M375.5,790.7 374.2,786.3M374.2,786.3 365.9,778M364,562.1 375.2,562.1M375.2,562.1 382.8,544.4M382.8,544.4 380.4,539.1M367.8,641.9 372.8,643.3M372.8,643.3 381.3,636.8M381.3,636.8 378.1,631.6M378.1,631.6 371.2,635M371.2,635 366.9,639.2M369.7,660.4 378.1,652M378.1,652 372.8,643.3M369.2,766.3 378.9,764.3M378.9,764.3 381.8,760.7M381.8,760.7 379.1,751.3M371.2,635 370.5,620.7M374.2,786.3 376.9,775.5M376.9,775.5 370.2,772.2M372.6,486.1 387.1,477M387.1,477 387,467.1M387,467.1 384,461.6M384,461.6 384,455.6M384,455.6 375.8,446.6M375.8,446.6 358.6,445.4M384,455.6 403.5,445.9M403.5,445.9 404.7,444.1M404.7,444.1 400,430.1M400,430.1 399,429.1M400.7,412.1 406.1,408.9M406.1,408.9 406.1,386.8M406.1,386.8 399.5,379.6M399.5,379.6 396.6,379M396.6,379 394.7,377.4M394.7,377.4 384.1,356.1M374,584.1 384.1,569M384.1,569 375.2,562.1M377.1,519 388.8,512M388.8,512 385.4,500.7M385.4,500.7 368.9,492.5M378.1,631.6 376.4,620.8M376.3,620.4 373.2,619.9M372.5,668 381.1,668M381.1,668 387.4,655.4M387.4,655.4 384,652M384,652 378.1,652M384,652 386,646.1M386,646.1 381.5,636.9M383.9,590.6 385.8,590.1M385.8,590.1 393.9,580M393.9,580 389.2,569.4M389.2,569.4 384.1,569M375.5,685.8 390.1,678.5M390.1,678.5 390.1,677.3M390.1,677.3 387.1,672M387.1,672 381.1,668M379.9,745 382.6,731.2M382.6,731.2 380.8,726.3M380.8,726.3 379.9,726M376.9,775.5 381.2,773.8M381.2,773.8 378.9,764.3M399.5,379.6 422.9,363.1M422.9,363.1 420,354.9M420,354.9 435.2,333.6M435.2,333.6 422.1,327.7M422.1,327.7 416,307.5M411.7,304 411,303.7M376.3,620.4 377.3,619.9M377.3,619.9 381.7,602.6M381.7,602.6 380.4,601.1M382.8,544.4 386.1,546.1M386.1,546.1 402.4,548.4M402.4,548.4 399.7,529.3M399.7,529.3 381.1,537.3M377.7,791.3 382.3,789M382.3,789 385.5,781M385.5,781 382.1,774.1M382.1,774.1 381.2,773.8M392.7,790.7 396.1,794.1M396.1,794.1 399.5,795M399.5,795 403.7,788.1M403.7,788.1 402,779.5M402,779.5 399.1,779.1M399.1,779.1 395.2,780.4M395.2,780.4 392.7,790.7M395.2,780.4 392.4,779.3M392.4,779.3 385.5,781M382.3,789 392.7,790.7M389.2,569.4 392.8,566.2M392.8,566.2 386.1,546.1M385.4,500.7 396.9,486.8M396.9,486.8 387.1,477M381.7,602.6 393.4,606.6M393.4,606.6 400.3,601.4M400.4,601.1 385.8,590.1M376.4,620.8 389.1,632.9M389.1,632.9 393,629.1M393,629.1 383.3,619.2M383.3,619.2 377.3,619.9M399.7,529.3 400.7,527.7M400.7,527.7 400.2,524.7M400.2,524.7 392.5,513.2M392.5,513.2 388.8,512M381.5,636.9 388.4,634.2M388.4,634.2 389.1,632.9M381,748.8 390.1,747.7M390.1,747.7 390.1,736.8M390.1,736.8 382.6,731.2M376.6,706.3 386.1,704.2M386.1,704.2 386.1,694.3M386.1,694.3 375.3,686.2M380.8,726.3 386.8,723.6M386.8,723.6 394.6,708M394.6,708 386.1,704.2M382.1,774.1 389.5,770.4M389.5,770.4 393.1,764.4M393.1,764.4 381.8,760.7M383.3,619.2 391.7,613.7M391.7,613.7 393.4,606.6M386,646.1 392.1,643.1M392.1,643.1 392.1,639.5M392.1,639.5 388.4,634.2M386.1,694.3 393.4,688.8M393.4,688.8 394.8,684M394.8,684 390.1,678.5M392.4,779.3 389.5,770.4M387,467.1 409.6,467M409.6,467 412.1,469M412.1,469 421.6,463.6M421.6,463.6 431,452.9M431,452.9 425,444.1M425,444.1 404.7,444.1M393.1,764.4 394.1,764.1M394.1,764.1 396.1,760.1M396.1,760.1 392.2,748.5M392.2,748.5 390.1,747.7M387.1,672 396.2,658.4M396.2,658.4 395.9,657.5M395.9,657.5 387.4,655.4M393.9,580 396.3,581.2M396.3,581.2 409.9,578.9M409.9,578.9 408.3,567.8M408.3,567.8 393.7,565.7M393.7,565.7 392.8,566.2M393,629.1 397.8,628.4M397.8,628.4 400.9,622.9M400.9,622.9 391.7,613.7M394.6,708 400.3,707M400.3,707 400.9,703.8M400.9,703.8 393.4,688.8M392.1,639.5 400.8,635.3M401,635 397.8,628.4M390.1,736.8 397.8,734.9M397.8,734.9 398.1,734.1M398.1,734.1 394.1,726.1M394.1,726.1 386.8,723.6M395.9,657.5 397,656.1M397,656.1 398.2,647.9M398.2,647.9 396.1,645.1M396.1,645.1 392.1,643.1M394.8,684 407.6,684M407.6,684 404.8,667.6M404.8,667.6 403.5,667.2M403.5,667.2 390.1,677.3M392.5,513.2 408.4,501.8M408.4,501.8 404.6,488M404.6,488 396.9,486.8M393.7,565.7 402.4,548.4M400.9,622.9 411.4,619M411.4,619 411.2,617.8M411.2,617.8 400.3,601.4M403.5,667.2 396.2,658.4M400.4,601.1 402.2,599.1M402.2,599.1 402.5,596.6M402.5,596.6 396.3,581.2M399.1,779.1 394.1,764.1M384.1,806.1 396.1,794.1M403.1,800 399.5,795M396.1,645.1 400.8,635.3M392.2,748.5 401.4,743.9M401.4,743.9 397.8,734.9M394.1,726.1 406.4,719.9M406.4,719.9 404.5,710.4M404.5,710.4 400.3,707M404.6,488 412.1,481.3M412.1,481.3 412.1,469M404.8,667.6 415.3,663.7M415.3,663.7 412,652.3M411.9,652.3 397,656.1M401.1,635.1 410.2,632M410.2,632 418.4,623.8M418.4,623.8 411.4,619M398.2,647.9 402,646.1M402,646.1 402.2,636.5M402.2,636.5 401.1,635.1M400.9,703.8 410.6,689.3M410.6,689.3 408.8,684.9M408.8,684.9 407.6,684M396.1,760.1 405.1,757.1M405.1,757.1 408.8,745.8M408.8,745.8 401.4,743.9M440.7,767.5 431.7,770.1M431.7,770.1 431.2,771.1M431.2,771.1 431.1,772.7M453.6,776.1 440.7,767.5M431.2,771.1 412.1,766.3M412.1,766.3 409.1,771.6M409.1,771.6 409.1,774.8M409.1,774.8 415.4,780M400.2,524.7 418,511.4M418,511.4 417.3,507.1M417.3,507.1 408.4,501.8M400,430.1 420.1,423.4M420.1,423.4 420.1,411.7M420.1,411.7 406.1,408.9M398.1,734.1 406.1,730.1M406.1,730.1 408.5,722.7M408.5,722.7 406.4,719.9M408.3,567.8 413.1,563.1M413.1,563.1 406.1,549.1M406.1,549.1 402.4,548.4M411.9,652.3 407.3,646.1M407.3,646.1 402,646.1M417.3,507.1 422.4,503.3M422.4,503.3 429.6,486.6M429.6,486.6 412.1,481.3M403.7,788.1 413.3,788.1M409.1,774.8 402,779.5M408.8,745.8 411.4,744.8M411.4,744.8 412.7,743.4M412.7,743.4 406.1,730.1M411.2,617.8 419.4,601.4M419.4,601.4 418.6,599.1M418.6,599.1 402.2,599.1M402.5,596.6 413.1,582.4M413.1,582.4 413.1,581.6M413.1,581.6 409.9,578.9M418.6,599.1 420.6,595M420.6,595 413.1,582.4M404.5,710.4 422.1,706.1M422.1,706.1 418.9,693.5M418.9,693.5 410.6,689.3M407.3,646.1 408.7,640.8M408.7,640.8 402.2,636.5M394.1,764.1 409.1,771.6M412.1,766.3 412.1,764.1M412.1,764.1 405.1,757.1M406.1,549.1 415.3,544.4M415.3,544.4 413,530.8M413,530.8 400.7,527.7M413.1,581.6 427.5,575.5M427.5,575.5 415.1,563.1M415.1,563.1 413.1,563.1M408.5,722.7 415.7,724.5M415.7,724.5 429.6,710.6M429.6,710.6 422.1,706.1M408.7,640.8 410,640.1M410,640.1 410.2,632M412,652.3 416.1,649M416.1,649 416.1,643.1M416.1,643.1 415.3,640.1M415.3,640.1 410,640.1M408.8,684.9 422.2,674.1M422.2,674.1 421.5,667.5M421.5,667.5 419.4,665.4M419.4,665.4 415.3,663.7M415.3,640.1 419.9,634M419.9,634 418.7,623.9M412.1,764.1 418.1,758.1M418.1,758.1 411.4,744.8M420.1,411.7 424.8,407.9M424.8,407.9 429.5,393.8M429.5,393.8 406.1,386.8M425,444.1 427.5,433.3M427.5,433.3 420.1,423.4M413,530.8 426,523.4M426,523.4 418,511.4M418.7,623.9 419.3,623.7M419.3,623.7 422.7,622.1M422.7,622.1 427.5,607.8M427.5,607.8 419.4,601.4M415.1,563.1 422,557.5M422,557.5 419.5,545.4M419.5,545.4 415.3,544.4M429.5,393.8 432.8,391.7M432.8,391.7 437.7,379.6M437.7,379.6 429.4,366.2M429.4,366.2 422.9,363.1M419.5,545.4 427.2,542.5M427.2,542.5 432.1,534.7M432.1,534.7 431.3,525.4M431.3,525.4 426,523.4M420.6,595 428.1,591.8M428.1,591.8 428.1,575.5M428.1,575.5 427.5,575.5M412.7,743.4 418.1,741.3M418.1,741.3 418.1,728.1M418.1,728.1 415.7,724.5M416.1,649 425.4,649M425.4,649 426.4,643.1M426.4,643.1 416.1,643.1M426.4,643.1 427.1,641.1M427.1,641.1 419.9,634M418.9,693.5 432.1,684.7M432.2,684.1 422.2,674.1M418.1,758.1 424.1,758.1M424.1,758.1 424.1,742.5M424.1,742.5 418.1,741.3M429.6,486.6 430.7,486.2M430.7,486.2 431.6,479M431.6,479 421.6,463.6M427.5,607.8 439.5,604.4M439.5,604.4 436.5,595.4M436.5,595.4 428.1,591.8M473,418.1 471.4,410.8M471.4,410.8 460.1,403.9M460.1,403.9 451,405.3M451,405.3 442.1,419.4M442.1,419.4 424.8,407.9M427.5,433.3 442.6,424.9M442.6,424.9 452.7,432M452.7,432 472.9,418.6M431.3,525.4 433.6,524.1M433.6,524.1 443.4,511.5M443.4,511.5 441.1,507M441.1,507 422.4,503.3M428.4,575.4 433.2,565.9M433.2,565.9 430.2,558.9M430.2,558.9 422,557.5M431,452.9 444.5,457.1M444.5,457.1 446.8,457.1M446.8,457.1 454.3,452.6M454.3,452.6 452.7,432M431.7,770.1 430.1,762.1M430.1,762.1 424.1,758.1M435.2,333.6 437.8,333.3M437.8,333.3 439.2,334.6M437.7,379.6 446,378.4M446,378.4 463.2,358.3M441.1,507 441.1,489.7M441.1,489.7 430.7,486.2M419.4,665.4 426.1,652M426.1,652 426.1,650.1M426.1,650.1 425.4,649M436.5,595.4 442.5,586.5M442.5,586.5 443.1,584.1M443.1,584.1 442.5,581.4M442.5,581.4 428.4,575.4M427.1,641.1 433.1,639.1M433.1,639.1 433.8,637.6M433.8,637.6 419.3,623.7M426.1,650.1 434.2,650.1M434.2,650.1 433.9,640.3M433.9,640.3 433.1,639.1M429.6,710.6 432.1,710.9M432.1,710.9 432.1,684.7M418.1,728.1 430.1,728.1M430.1,728.1 432.1,725.1M432.1,725.1 432.1,710.9M421.5,667.5 435.2,663.6M435.2,663.6 435.7,661.6M435.7,661.6 426.1,652M440.7,767.5 453.7,754.5M453.7,754.5 442.3,745.5M442.3,745.5 441,745.7M441,745.7 430.1,762.1M424.1,742.5 430.1,741.3M430.1,741.3 430.1,728.1M430.2,558.9 433.3,552.7M433.3,552.7 427.2,542.5M432.1,725.1 447.4,732.7M447.4,732.7 448.8,731.4M448.8,731.4 453.6,719.2M453.6,719.2 450.2,711.8M450.2,711.8 442.1,709.5M442.1,709.5 432.1,710.9M441,745.7 430.1,741.3M431.6,479 444.5,457.1M460.1,387.2 446,378.4M460.1,403.9 460.1,387.2M433.3,552.7 451.8,549.6M451.8,549.6 452.5,548.3M452.5,548.3 432.1,534.7M432.2,684.1 441,673.6M441,673.6 439.9,669.2M439.9,669.2 435.2,663.6M433.8,637.6 439.6,630.5M439.6,630.5 438.9,628.3M438.9,628.3 436,623.6M436,623.6 422.7,622.1M436,623.6 442.2,612.7M442.2,612.7 440.7,605.2M440.7,605.2 439.5,604.4M442.3,745.5 447.4,732.7M435.7,661.6 441.1,653.5M441.1,653.5 434.2,650.1M433.9,640.3 442.2,645.9M442.2,645.9 441.9,631.8M441.9,631.8 439.6,630.5M452.5,548.3 460.2,542.4M460.2,542.4 461.4,535.2M461.4,535.2 433.6,524.1M441.1,489.7 449.2,486.3M449.2,486.3 450.3,475.1M450.3,475.1 446.8,457.1M433.2,565.9 440.9,564.8M440.9,564.8 451.7,551.3M451.7,551.3 451.8,549.6M441.1,653.5 445.4,651.4M445.4,651.4 445.7,650.4M445.7,650.4 442.2,645.9M442.1,709.5 442.1,690.2M442.1,690.2 432.2,684.5M442.1,690.2 446.6,688.9M446.6,688.9 449.8,676.1M449.8,676.1 441,673.6M439.9,669.2 452.1,661.1M452.1,661.1 446.8,653.1M446.8,653.1 445.4,651.4M440.7,605.2 450.2,601.7M450.2,601.7 452.1,596.1M452.1,596.1 442.5,586.5M441.9,631.8 448.2,633.6M448.2,633.6 452.4,632.4M452.4,632.4 453.1,631.1M453.1,631.1 456.9,619.8M456.9,619.8 455.9,619.5M455.9,619.5 438.9,628.3M442.5,581.4 446.6,576.5M446.6,576.5 447.1,573.1M447.1,573.1 440.9,564.8M445.7,650.4 448,648.1M448,648.1 448.2,633.6M450.2,711.8 456.1,705.2M456.1,705.2 456.1,692M456.1,692 446.6,688.9M443.4,511.5 452.2,512.3M452.2,512.3 465.5,500.7M465.5,500.7 464.5,493.3M464.5,493.3 449.2,486.3M461.4,535.2 462.6,533M462.6,533 452.2,512.3M450.3,475.1 470.1,475M470.1,475 471.8,469.3M471.8,469.3 457.7,453.2M457.7,453.2 454.3,452.6M451.7,551.3 457.1,565.6M457.1,565.6 462.3,569.4M462.3,569.4 470.9,568.4M470.9,568.4 472.8,566.2M472.8,566.2 466.3,546.7M466.3,546.7 460.2,542.4M455.9,619.5 442.2,612.7M453.7,754.5 455.9,755.2M456,755.1 466.5,740.3M466.5,740.3 448.8,731.4M447.1,573.1 457.1,565.6M452.1,596.1 459.9,588.3M459.9,588.3 443.1,584.1M446.8,653.1 466.3,653.1M466.3,653.1 467.1,649M467.1,649 461.6,643.5M461.6,643.5 448,648.1M461.5,770.6 455.9,755.2M449.8,676.1 456.1,674.5M456.1,674.5 458.3,664.6M458.3,664.6 452.1,661.1M477,755.1 456,755.1M459.9,588.3 461.3,587.8M461.3,587.8 459,579.5M459,579.5 446.6,576.5M456.9,619.8 462.1,617.7M462.1,617.7 460.9,607M460.9,607 450.2,601.7M459,579.5 462.3,569.4M460.9,607 469.3,596.9M469.3,596.9 468.1,590.5M468.1,590.5 461.3,587.8M461.6,643.5 461.4,641.3M461.4,641.3 452.4,632.4M456.1,692 464.2,684M464.2,684 456.1,674.5M480.5,741.5 471.6,737.5M471.6,737.5 466.5,740.3M471.4,410.8 488.9,391.3M488.9,391.3 480.1,374.7M480.1,374.7 480.1,369.1M480.1,369.1 468.4,361.6M463.7,358.6 463.2,358.3M466.3,546.7 487.8,549.4M487.8,549.4 490.1,547.9M490.1,547.9 488.6,540.4M488.6,540.4 483.2,533.9M483.2,533.9 468.3,529.7M468.3,529.7 462.6,533M453.1,631.1 466.3,631.1M466.3,631.1 468.7,627.2M468.7,627.2 464.5,618.8M464.5,618.8 462.1,617.7M464.2,684 464.7,684M464.7,684 473.1,673.5M473.1,673.5 473.1,665.3M473.1,665.3 465.6,660.6M465.6,660.6 458.3,664.6M471.6,737.5 470.1,730.1M470.1,730.1 454,719.3M465.6,660.6 466,656.1M466,656.1 466.3,653.1M464.5,493.3 470.1,487M470.1,487 470.1,475M468.1,590.5 473.9,585.4M473.9,585.4 474.7,581.8M474.7,581.8 470.9,568.4M468.3,529.7 478.6,511.2M478.6,511.2 465.5,500.7M461.4,641.3 463.9,637.1M463.9,637.1 466.3,631.1M467.1,649 470.4,647.9M470.4,647.9 478.4,638M478.4,638 478,637.1M478,637.1 463.9,637.1M454,719.3 475.1,714.1M475.1,714.1 475.4,712.8M475.4,712.8 464,704.2M464,704.2 456.1,705.2M464,704.2 475.1,693M475.1,693 475.3,692M475.3,692 464.7,684M457.7,453.2 473.7,445.9M473.7,445.9 479.5,434.4M479.5,434.4 472.9,418.6M471.8,469.3 477.9,468.1M477.9,468.1 490.7,460.1M490.7,460.1 473.7,445.9M464.5,618.8 480.9,611.8M480.9,611.8 481.2,608.7M481.2,608.7 479,603.9M479,603.9 469.3,596.9M478,637.1 476,630.4M476,630.4 468.7,627.2M478.6,511.2 495.1,510.1M495.1,510.1 495.7,509.9M494.7,488.2 490.2,487M490.2,487 470.1,487M475.4,712.8 480.1,708.1M480.1,708.1 475.1,693M473,418.1 507.3,418.1M507.3,418.1 505,406.5M505,406.5 492.1,392.2M492.1,392.2 488.9,391.3M490.2,487 477.9,468.1M475.1,714.1 476.7,720.2M476.7,720.2 486.2,723.4M491.3,708.1 480.1,708.1M470.1,730.1 476.7,720.2M524,290.6 535.1,299M535.1,299 548.6,292.3M548.6,292.3 566.4,305M566.4,305 572.2,305M480.1,369.1 486.1,364.4M486.1,364.4 486.1,363.8M505,406.5 529.2,386.4M529.2,386.4 525.9,379.1M525.9,379.1 521,376.1M521,376.1 518.4,375.8M518.4,375.8 499.9,361.5M499.9,361.5 486.1,364.4M472.8,566.2 482.2,564.2M482.2,564.2 487.8,549.4M474.7,581.8 490.2,574M490.2,574 490.4,572.3M490.4,572.3 482.2,564.2M479,603.9 489.1,590.4M489.1,590.4 473.9,585.4M490.7,460.1 499.1,460.1M503,439.1 479.5,434.4M466,656.1 481.3,656.1M481.3,656.1 480.5,652M480.5,652 470.4,647.9M476,630.4 481.1,626.2M481.1,626.2 481.1,612.1M475.3,692 489.7,686.2M487.9,680.9 473.1,673.5M473.1,665.3 482.8,662.9M482.8,662.9 481.3,656.1M517.3,338.3 514.6,332.9M515,328.9 515.9,323.2M516.1,345 517.3,338.3M478.4,638 482.9,639.3M482.9,639.3 488.9,627.8M488.9,627.8 481.1,626.2M490.4,572.3 494.4,570.1M494.4,570.1 499.4,550M499.4,550 490.1,547.9M480.5,652 488.4,646.1M488.4,646.1 482.9,639.3M481.1,612.1 493,618M493,618 503.8,613.4M503.8,613.4 504.1,612.8M504.1,612.8 504.1,606.1M504.1,606.1 496.8,602.4M496.8,602.4 481.2,608.7M487.6,664.5 482.8,662.9M511.5,423.7 507.3,418.1M483.2,533.9 495.1,510.1M489.1,590.4 490.6,590.1M490.6,590.1 493.1,586.7M493.1,586.7 493.1,581.7M493.1,581.7 490.2,574M493.2,647.3 488.4,646.1M488.9,627.8 491.4,627.4M491.4,627.4 493,618M488.6,540.4 504.7,519M496.8,602.4 490.6,590.1M482.9,639.3 496.4,632.3M496.4,632.3 491.4,627.4M500.8,638.3 496.8,632.6M496.8,632.6 496.4,632.3M505.1,549.6 507.9,550.8M507.9,550.8 528.7,543.9M505.1,519.2 505.1,549.6M493.1,581.7 515.2,574.4M515.2,574.4 511.7,570.1M511.7,570.1 494.4,570.1M507.6,624.4 504.8,620.6M504.8,620.6 496.8,632.6M504.8,620.6 503.8,613.4M538.7,395.2 529.2,386.4M499.4,550 505.1,549.6M499.9,361.5 502.9,355.4M509.7,307.9 511.6,302.7M511.7,570.1 507.9,550.8M504.1,606.1 508.9,601.4M508.9,601.4 503.7,588.5M503.7,588.5 493.1,586.7M508.9,601.4 515,599.5M515,599.5 521,578.6M521,578.6 519.8,576.6M519.8,576.6 516.6,575.6M516.6,575.6 503.7,588.5M515.9,323.2 527.6,321.5M527.6,321.5 536.3,307.1M536.3,307.1 535.1,299M516.6,575.6 515.2,574.4M519.8,576.6 534.7,559.6M523.8,619.3 504.1,612.8M521,376.1 522.4,354.9M522.4,354.9 517.7,351.7M525.8,617.4 521.6,602.8M521.6,602.8 515,599.5M522.4,354.9 536.4,346.2M536.4,346 542.2,336.1M542.2,336.1 527.6,321.5M521.6,602.8 535,596.2M535,596.2 532.9,585.7M532.9,585.7 521,578.6M525.9,379.1 543.7,362.4M543.7,362.4 536.4,346.2M532.9,585.7 549.7,577.3M540.3,600.8 535,596.2M556.8,333.4 574.6,342.2M542.2,336.1 551.1,333.7M551.4,333.8 556.8,333.4" fill="none" stroke="#6e6e6e" stroke-width="0.9"/></g><use href="#swe" fill="none" stroke="#6e6e6e" stroke-width="1"/></g><g transform="translate(285.5,0)"><g clip-path="url(#cl)"><use href="#swe" fill="#E60000"/><path d="M451.2,90 592.2,90 580.1,136.7 575.1,148.4 570.1,158.5 565,170.6 561,179.1 551.9,176.6 539.8,172.6 523.7,164.5 507.6,160.1 491.5,160.5 480.4,155.5 471.3,140.4Z" fill="#E60000" stroke="#6e6e6e" stroke-width="0.9"/><path d="M451.2,150.4 471.3,140.4 480.4,155.5 491.5,160.5 507.6,160.1 523.7,164.5 539.8,172.6 551.9,176.6 561,179.1 561.6,188.7 567.6,199.8 571.7,208.9 567,214.9 570.5,227.4 552.9,235.5 543.9,218.9 531.8,210.9 519.7,198.8 507.6,190.7 497.5,184.3 485.4,174.6 471.3,167 459.2,160.9Z" fill="#E60000" stroke="#6e6e6e" stroke-width="0.9"/><path d="M439.1,190.7 443.1,174.6 459.2,160.9 471.3,167 485.4,174.6 497.5,184.3 507.6,190.7 519.7,198.8 531.8,210.9 543.9,218.9 552.9,235.5 541.9,233.5 535.8,249.2 531.8,257.2 519.7,251.2 505.6,247.2 502.6,239.1 499.5,229 483.4,221 471.3,214.9 461.3,206.9 450.8,198.8Z" fill="#E60000" stroke="#6e6e6e" stroke-width="0.9"/><path d="M414.9,231 431,210.9 450.8,198.8 461.3,206.9 471.3,214.9 483.4,221 499.5,229 502.6,239.1 505.6,247.2 498.5,255.2 497.5,267.3 493.9,276.4 493.9,284.4 479.4,272.3 467.3,266.3 451.2,258.2 435.1,251.2 419,249.2Z" fill="#E60000" stroke="#6e6e6e" stroke-width="0.9"/><path d="M580.1,136.7 612.4,120.2 612.4,198.8 592.2,198.8 593.2,210.9 586.2,207.9 571.7,208.9 567.6,199.8 561.6,188.7 561,179.1 565,170.6 570.1,158.5 575.1,148.4Z" fill="#E60000" stroke="#6e6e6e" stroke-width="0.9"/><path d="M590.8,197.1 611,197.1 611,236.4 605.9,237.4 598.9,243.5 594.8,238.4 591.8,225.3 588.8,213.2 594.8,211.2Z" fill="#E60000" stroke="#6e6e6e" stroke-width="0.9"/><path d="M568.7,208.2 574.7,209.2 588.8,213.2 591.8,225.3 594.8,238.4 589.8,239.4 585.8,237.4 577.7,240.4 570.7,234.4 566.6,228.4 569.7,225.3 566.6,214.3Z" fill="#E60000" stroke="#6e6e6e" stroke-width="0.9"/><path d="M547.5,232.4 554.5,235.4 566.6,228.4 570.7,235.4 568.7,245.5 567.6,251.5 571.7,256.6 568.7,263.6 558.6,268.1 545.5,256.6 535.9,252 539.9,242.5 542.5,236.4Z" fill="#E60000" stroke="#6e6e6e" stroke-width="0.9"/><path d="M535.9,252 545.5,256.6 558.6,268.1 554.5,275.7 550.5,275.7 542.5,271.7 535.4,272.7 532.4,261.6Z" fill="#E60000" stroke="#6e6e6e" stroke-width="0.9"/><path d="M570.7,235.4 577.7,240.4 580.7,245.5 584.8,258.6 590.8,264.6 597.9,280.7 604.9,295.8 590.8,300.9 578.7,295.8 575.7,290 568.7,280.7 558.6,268.1 568.7,263.6 571.7,256.6 567.6,251.5 568.7,245.5Z" fill="#E60000" stroke="#6e6e6e" stroke-width="0.9"/><path d="M577.7,240.4 585.8,237.4 589.8,239.4 594.8,238.4 598.9,243.5 604.9,252.5 606.9,265.6 612,276.2 600.9,281.7 597.9,280.7 590.8,264.6 584.8,258.6 580.7,245.5Z" fill="#E60000" stroke="#6e6e6e" stroke-width="0.9"/><path d="M598.9,243.5 605.9,237.4 610,240.4 615,250.5 618,260.6 617,270.7 612,276.2 606.9,265.6 604.9,252.5Z" fill="#E60000" stroke="#6e6e6e" stroke-width="0.9"/><path d="M493.1,276.3 496.7,271.4 496.7,264.2 497.9,256.9 503.9,252.1 508.2,246.5 518.3,251.5 527.3,252.5 532.4,256.6 532.4,261.6 535.4,272.7 532.4,276.7 526.9,285.9 518.4,296.8 506.4,288.4 494.3,281.1Z" fill="#E60000" stroke="#6e6e6e" stroke-width="0.9"/><path d="M524.3,280.7 532.4,276.7 542.5,271.7 550.5,275.7 554.5,275.7 558.6,268.1 568.6,280.7 575,289 580,296 590,300 576,302 574,306 568,300 558.9,292.8 544.8,289.8 532.7,286.8 524.6,285.8Z" fill="#E60000" stroke="#6e6e6e" stroke-width="0.9"/><path d="M425.4,250.6 435.5,240.6 446.8,247.4 456.5,254.7 465.3,259.5 481.4,274.8 493.5,279.6 494.3,284.5 491.1,294.1 487.9,303 477.4,295.8 466.9,290.9 458.9,282.9 457.2,278 447.6,274 437.1,267.5 430.6,259.5Z" fill="#FF5500" stroke="#6e6e6e" stroke-width="0.9"/><path d="M505,625 565,625 565,740 505,740 500,725 495.6,705 495.6,690 498,675 505,660Z" fill="#E60000" stroke="#6e6e6e" stroke-width="0.9"/><path d="M405,250 425.4,250.6 430.6,259.5 437.1,267.5 447.6,274 457.2,278 458.9,282.9 466.9,290.9 477.4,295.8 487.9,303 487.2,311.7 480.8,321.3 477.5,319.2 469,313.8 458.2,307.4 452.8,298.8 447.5,291.3 442.1,288 426,287 405,286Z" fill="#E60000" stroke="#6e6e6e" stroke-width="0.9"/><path d="M405,286 426,287 442.1,288 447.5,291.3 452.8,298.8 458.2,307.4 469,313.8 477.5,319.2 480.8,321.3 484,331 479.7,334.2 467.9,340.7 461.4,337.5 453.9,333.2 448.5,326.7 443.2,320.3 434.6,314.9 426,311.7 419.5,309.5 411.5,303.1 405,303Z" fill="#E60000" stroke="#6e6e6e" stroke-width="0.9"/><path d="M419.5,309.5 426,311.7 434.6,314.9 443.2,320.3 448.5,326.7 453.9,333.2 461.4,337.5 467.9,340.7 462.5,341.8 467.7,360.9 458.2,353.6 448.5,345 441,337.5 438.9,332.1 432.4,324.6 426,319.2Z" fill="#E60000" stroke="#6e6e6e" stroke-width="0.9"/><path d="M461.6,341.5 474.9,335.5 485.8,333.1 496.7,337.9 508.8,352.4 496.7,357.3 487,363.3 474.9,362.1 467.7,360.9Z" fill="#E60000" stroke="#6e6e6e" stroke-width="0.9"/><path d="M493.1,295.6 506.4,305.9 517.2,315 514.8,324.6 513.6,336.7 517.2,352.4 508.8,352.4 496.7,337.9 485.8,333.1 484,331 480.8,321.3 487.2,311.7 487.9,303 489.4,302.9Z" fill="#E60000" stroke="#6e6e6e" stroke-width="0.9"/><path d="M494.3,281.1 506.4,288.4 518.4,296.8 506.4,305.9 493.1,295.6 489.4,302.9 493.1,290.8Z" fill="#E60000" stroke="#6e6e6e" stroke-width="0.9"/><path d="M592.4,201.4 592,201.5 592.8,210.3 586.2,207.5 570.4,208.6 570.3,208.9 574.6,209.6 588.8,213.7 595.3,211.5Z" fill="#E60000"/><path d="M532,256.8 532,263.5 532.1,263.5 536.3,252.2 540.3,242.6 542.8,236.7 546.3,233.9 541.6,233 535.4,249 531.7,256.5Z" fill="#E60000"/><path d="M618.4,260 614.4,245.9 610.3,237.7 608.5,236.5 605,237.2 609.6,240.7 614.6,250.7 618.1,262.4 618.2,262.4Z" fill="#E60000"/><path d="M498,257.4 504.2,252.4 508,247.4 505.5,246.7 498.1,255Z" fill="#E60000"/><path d="M494.3,284.6 493.9,284.5 490.7,294 487.3,303.4 489.7,303.3 493.5,290.9Z" fill="#FF5500"/><path d="M535,272.6 531.1,277.8 542.5,272.1 550.4,276.1 552.2,276.1 542.5,271.3 535.7,272.2 534,265.8 533.2,266Z" fill="#E60000"/><path d="M486.5,333.3 484.1,330.5 479.5,333.9 477.1,335.2 477.1,335.4Z" fill="#E60000"/><path d="M415.6,249.7 415.6,250.7 425.6,251 426.8,249.7 419.7,248.9Z" fill="#E60000"/><path d="M567.2,228.5 566.4,228.8 570.4,235.7 579.1,241.9 579.5,241.4 571,234.1Z" fill="#E60000"/><path d="M476.6,270.5 476.5,270.7 481.2,275.1 484.9,276.6 485,276.5 479.6,272Z" fill="#FF5500"/><path d="M518.2,251.9 522.8,252.4 522.8,252.3 519.8,250.8 513.1,248.9 512.9,249.3Z" fill="#E60000"/><path d="M562,231.5 561.7,231 552.8,235.1 554.6,235.9Z" fill="#E60000"/><path d="M497.1,267.4 497.1,267.4 493.8,275.5 494.1,275.7 497.1,271.5Z" fill="#E60000"/><path d="M493.8,277.5 493.5,277.5 493.5,282.1 494,285 494.2,285 494.7,281.1Z" fill="#E60000"/><path d="M605.8,276 605.3,275.4 599,280.7 597.1,280.1 597.8,281.6 596.2,283 596.7,283.6Z" fill="#E60000"/><path d="M568.2,368.2 571.3,364.1 571.1,362.1 553,357.6 539.4,342 526.7,348 524.9,361.4 532.6,371 528.5,393.6 532.5,400.1 536.2,398.3 544.2,392.2 556.2,378.2ZM510.5,554.7 513.2,565.5 503.1,577.7 504.2,579.9 516.9,587.9 526.5,582.1 528.4,582.3 544.3,598.1 552.3,590.2 554.3,581.9 548.2,573.8 544.3,568.9 540.2,563.8 530.3,553.9 529.4,542 513.5,548.6ZM496.3,625.5 496.4,630.6 499,635.3 500.2,640.2 505.3,635.1 505.3,625.3 519.8,625.3 514.3,620.6 513.7,619.6 512.5,615.5 506.7,609.7 492.2,615.9ZM474.3,614.9 482.2,618.2 488.8,614.6 487.3,601.9 474.3,600ZM339.9,591.7 340.7,600 337.7,607.8 332.1,613.4 332.1,613.4 330.2,607.7 325.9,606.7 321.9,609.7 311.8,613.8 309.8,617.8 307.7,619.9 308.5,629.1 308.7,632 311.7,644.1 315.5,655.4 325.5,651.3 333.3,653 333.3,653.1 325.6,660 324.6,669.6 337.9,672.8 327.1,685.8 329.7,690.1 332.7,696.1 335.7,706.1 339.4,713.6 352.4,700.6 353.4,700.3 357.8,687.2 347.1,678 346.8,677.2 370.4,665.4 368.8,663.9 363.8,655 359.6,650.8 355.7,650.8 347.8,643 346.8,635.8 343.1,633.1 344.9,625.6 356.1,621.1 362,624.5 370.8,620.6 370.8,606.7 374.7,605.2 388,608.9 393.9,597 410.9,604.3 414.4,594.7 428.6,592.7 432.6,578.7 429.4,575.2 428.2,567.8 441.5,563.4 442.9,561.5 442.9,551.2 452.5,546.4 462.2,556.1 462.8,564 463.5,566.1 470.5,569.4 478.7,569.4 488.6,551.9 488.2,550.1 475.8,544.6 473.4,532.4 470.9,531.3 459.4,512.9 459.2,511 452.7,506.3 431.8,509.3 429,529.2 428.7,529.5 425.9,539.3 418.5,543.7 402.2,543.7 400.2,546.3 407.4,565.4 403.4,571 407.7,581.8 391.7,591.5 386.4,588 394.9,571 385.1,563.6 382.9,550.6 380.9,549.3 369.6,554.3 362.6,568.3 364.1,573.4 362,582.2 361.8,582.3 343.6,575.5 340.7,579.9 339.7,590ZM361.8,582.9 369.5,605.8 351.5,605.8 350.5,596ZM456.2,576.6 459.4,570.8 444.2,568.3 440.1,580.6 443,582.2ZM440.4,613.4 433.8,623.1 434.7,629.1 435,630.2 447.6,635.3 449.9,634.3 450.4,634.1 455.8,626.5 457.6,618.1 442.5,609.7ZM406.4,627 402.2,634.1 408.5,644.5 413.7,641.4 419.1,635.9 418.3,634 417.6,629 417.1,627.1 420.4,619.2 416.3,609.9 411.4,606.8 401.8,615.2Z" fill="#FF5500"/><path d="M360.7,379.9 359.7,391.9 355.7,395.9 358.7,408 357.9,414.1 357.7,416 356.7,428 357.7,438 357.7,446 357.7,446.1 356.7,460 356.7,470 357.7,474.1 367.7,486.1 368,492.4 368.7,505.8 368.1,505.9 357.7,508.8 359.7,520.1 363.7,540 359.7,559.9 353.8,565.7 345.7,567.8 344.7,573.9 343.3,576 361.1,582.7 349.9,595.9 351,606.4 370.2,606.4 370.2,620.5 377.5,625.4 378.7,625.4 389.1,611.5 397.6,616.3 394.9,621.8 398.1,633.9 393.1,636.7 391.3,641.6 394.3,646.2 394.3,657.8 394.5,659.1 382.8,665.6 377.5,664.5 371.7,666 369.9,665 346.1,676.9 346.6,678.3 357.1,687.4 353,699.8 352.1,700 339.2,713 341.7,718.1 344.3,724.2 346.7,730.1 347.7,735.9 346.3,737.7 359.7,742.7 364.5,740.8 370.5,743.2 373.4,754.8 367.7,760.5 368.2,764.4 378.3,772 378.3,772.5 386.3,782.5 394.5,781.7 396.1,779.9 389.3,759.2 404.5,757.7 407.6,759.9 411.3,760.5 422.6,756 432.1,761.7 436.3,770.2 436.3,776.4 444,779.3 452.1,778.3 460.2,772.3 468.2,768.2 468.7,767.7 476.3,760.2 480.3,748.1 481.3,742.1 482.3,736.1 485.4,728.4 486.3,726.1 490.3,714.1 493.5,704.5 494.3,702 494.3,691.9 489.3,683.9 487.3,672 489.3,660.1 489.3,660.1 492.6,651.8 474.9,639.9 471.2,639.1 469.6,640.7 465,643.8 463,643.8 450.3,633.5 449.7,633.7 447.3,634.7 445.3,642 445.3,650 435.7,651.3 429.4,658.7 427.1,658.7 423,660.4 420.5,662.6 405.4,660.7 408.9,648.3 408.4,646.1 408.9,644.1 402.9,634.1 407.1,627.1 402.5,615.4 411.5,607.6 415.8,610.3 419.7,619.2 416.4,627 417.1,629.4 435.3,629.4 434.4,623.3 440.9,613.7 442.9,610.1 441.5,605 447.1,597.9 454.6,596.4 460.6,589.1 456.2,575.9 443.1,581.5 440.8,580.3 444.7,568.6 441.4,562.8 427.5,567.4 428.8,575.4 431.9,578.9 428.1,592.1 414,594.2 410.6,603.5 393.7,596.2 387.7,608.2 374.7,604.5 370.3,606.3 362.4,582.6 362.5,582.5 364.8,573.4 363.2,568.3 370.1,554.7 380.8,549.9 382.4,551 384.6,563.9 394.2,571.2 385.7,588.2 391.7,592.2 408.5,582.1 404.1,571.1 408,565.5 400.9,546.4 402.5,544.3 418.7,544.3 426.4,539.7 429.3,529.8 429.5,529.5 432.4,509.8 452.5,506.9 458.7,511.3 458.8,513.1 470.5,531.8 472.9,532.9 475.3,545 487.7,550.5 488.1,552 497.6,558.8 511,555 514,549.1 529.5,542.6 529.3,540 528.3,527.8 522.1,525.7 512.1,521.7 506.7,519 500.2,515.8 497.2,510.7 494.3,505.9 495.3,490 495.9,486.7 497.3,478.1 499.3,468 500.3,456 500.6,452.7 501.3,446.1 504.3,438.1 508.3,432.2 512.3,424.2 512.8,423.5 518.2,416.2 522.2,410.2 528.2,402.2 533.1,399.8 529.1,393.5 533.3,370.9 525.5,361.2 527.2,348.4 539.2,342.8 552.7,358.1 571.1,362.7 570.3,356 574.3,344.1 577.4,339.9 580.3,336.1 581.3,326 578.3,317.9 574.3,308 576.8,300.7 576.4,300.5 573.9,305.5 568.2,299.8 568,299.6 559,292.5 544.9,289.5 534,286.8 532.8,286.5 526.6,285.7 518.2,296.6 516.8,297.7 510.8,302.2 508.1,304.2 505.9,305.9 509.5,308.9 516.9,315.1 515.8,319.4 514.5,324.5 513.3,336.7 514.2,340.6 516.8,352.1 508.7,352.1 496.6,357 492.7,359.4 490.2,361 486.9,363 474.9,361.8 467.8,360.6 465.4,358.7 461.8,356 458.4,353.4 448.7,344.8 441.3,337.3 439.2,331.9 432.6,324.4 428,320.5 426.2,319 419.7,309.3 411.6,302.8 410.2,302.8 405.7,309.9 401.7,319.9 397.6,328 404.7,336.1 405.6,341.3 405.7,342 406.7,347.9 401.8,356.7 388,354.7 379.9,355.7 371.8,363.8 365.8,373.8ZM464.5,715.6 467,719.5 463.8,741.9 457.5,745.9 448.8,741.2 447.5,726.3ZM526.4,581.5 516.6,587.4 516.3,593.9 509,600.7 506.5,605.7 490.2,597.5 486.8,602.1 488.2,614.6 492.6,616.4 506.6,610.4 511.9,615.8 513.2,619.9 513.9,621 518.8,625.3 519.1,625.3 528.2,616.2 535.5,607.2 536.2,606.2 544.7,597.7 528.7,581.7ZM346.3,636.2 347.3,643.3 355.5,651.4 359.7,651.4 363.3,639 359.8,634.1 362.3,624 356.1,620.5 344.4,625.2 342.4,633.3ZM325.2,669.6 326.1,660.3 334.1,653.2 333.7,652.5 325.4,650.6 315.3,654.8 315.7,656.1 316.2,657.9 319.7,670.1 320.5,672Z" fill="#E60000"/><path d="M423.8,647.2 427,659.3 429.7,659.3 436.2,651.7 434.3,647 433.2,642 430.2,636.9 425,638.2 418.7,635.5 413.3,640.9 408.3,643.9 407.8,646.1 408.4,648.6 416.5,650.6 419.8,647.3 423.3,646.2ZM359.7,789 356.7,796 359.8,804.2 366.1,807.4 369.9,809.3 380,810.3 385.4,809.2 390.1,808.3 398.2,806.3 404.2,800.2 405.6,798.8 397,791.6 384.6,800.9 377.5,791 371.8,790.5 370.7,789.6 359.6,788.4ZM363.5,773.2 368.8,764.3 368.3,760.4 355.5,756.8 352.1,758.7 358.7,769.1 358.1,774.7Z" fill="#730000"/><path d="M442.3,610.3 457,618.4 455.2,626.3 449.8,633.9 462.8,644.4 465.1,644.4 470,641.2 471.4,639.8 474.6,640.5 492.4,652.3 493.3,650.1 494.4,646.1 486.9,636.4 483.4,634.7 485.1,629.8 489.4,630.9 497,630.9 496.9,625.4 492.9,615.9 488.4,614.1 482.2,617.6 474.9,614.5 474.9,600.7 487.2,602.5 490.4,598.3 506.8,606.5 509.5,601.1 516.9,594.2 517.2,587.4 504.7,579.4 503.8,577.7 513.9,565.7 511,554.3 497.7,558.2 488.2,551.4 478.3,568.8 470.7,568.8 463.7,565.6 458.7,570.9 455.7,576.3 459.9,589 454.2,595.9 446.8,597.3 440.8,604.9ZM457.5,746.6 464.3,742.3 467.6,719.3 464.7,714.8 446.8,725.9 448.3,741.6ZM417,628.8 417.7,634.1 418.5,636.1 424.9,638.8 429.9,637.6 432.7,642.2 433.7,647.2 435.6,651.9 445.9,650.5 445.9,642.1 447.9,634.8 435.5,629.8 435.2,628.8ZM358.1,774 357.7,778 359.7,789 370.4,790.2 371.6,791.1 377.2,791.6 384.5,801.8 397,792.4 405.2,799.2 412.2,792.2 415.3,786.1 415.9,782.4 416.3,780.2 417.7,779.5 424.1,776.3 432,773.3 435.9,776.3 436.9,776.7 436.9,770 432.5,761.3 422.6,755.4 411.2,759.9 407.9,759.3 404.7,757.1 388.6,758.7 388.5,759 395.5,779.8 394.2,781.1 386.6,781.9 378.9,772.2 378.9,771.7 368.4,763.8 363.1,772.6ZM416.3,650 408.4,647.9 404.6,661.2 420.7,663.2 423.3,660.9 427.6,659.2 424.3,647 423.6,645.4 419.5,646.8ZM378.4,624.8 377.7,624.8 370.6,620 361.7,624 359.2,634.2 362.7,639.1 359.2,651.2 363.4,655.4 368.4,664.3 369.7,665.6 371.6,666.7 377.5,665.1 382.9,666.3 395.1,659.4 394.9,657.7 394.9,646 391.9,641.5 393.6,637.1 398.8,634.2 395.5,621.8 398.3,616.1 389,610.7ZM352.4,759.2 355.6,757.4 368.1,761 374.1,755 371,742.7 364.5,740.2 359.7,742.1 346.7,737.2 343.7,740.9 344.7,747.1 351.7,758.2Z" fill="#A80000"/><path d="M320.3,671.4 323.7,680.1 327.5,686.4 338.9,672.4 324.9,669Z" fill="#FFEBBE"/><path d="M444.2,568.9 459.1,571.4 464.1,566 463.3,563.7 442.5,561.1 440.9,563.1Z" fill="#FFA77F"/><path d="M442.3,550.9 442.3,561.6 463.4,564.3 462.8,555.8 452.7,545.7Z" fill="#FF7F7F"/><path d="M486.5,636.9 494.2,646.8 495.3,643.2 500.2,640.2 500.7,639.7 499.6,635.1 496.8,630.3 489.5,630.3 484.7,629.1 482.6,635Z" fill="#FFBEBE"/><path d="M315.1,640.8 325.5,651M325.5,651 333.5,652.7M333.5,652.7 332.8,647.3M332.8,647.3 319.7,638.5M319.7,638.5 315.1,640.8M319.7,638.5 323.1,634.5M323.1,634.5 323.8,629.1M323.8,629.1 309.4,629.1M312,641.4 315.1,640.8M323.8,629.1 325.2,624.3M325.2,624.3 309.7,619.1M332.8,647.3 336,637.7M336,637.7 323.1,634.5M324.9,669.4 325.9,660.1M325.9,660.1 317.2,657.9M321.2,671.3 324.9,669.4M325.2,624.3 327,623.1M327,623.1 331.4,614.2M350.2,596 361.6,582.6M361.6,582.6 344.3,576.1M340.8,591.9 350.2,596M368.5,414.1 386.3,399.9M386.3,399.9 385.1,390.9M385.1,390.9 362.3,379.4M358.8,414.1 368.5,414.1M324.9,669.4 338.4,672.6M338.4,672.6 341,671.8M341,671.8 336.8,655.1M336.8,655.1 336.1,654.3M336.1,654.3 333.7,653.1M333.7,653.1 325.9,660.1M316.2,654.7 325.5,651M371.7,790.8 370.5,789.9M370.5,789.9 360.6,788.8M366.4,806.5 371.7,790.8M336.1,654.3 347.5,643.1M347.5,643.1 346.5,636M346.5,636 342.8,633.2M342.8,633.2 340.8,633.6M340.8,633.6 336,637.7M340.8,633.6 327,623.1M355.5,757.1 359.7,742.4M359.7,742.4 347.4,737.8M353,758.5 355.5,757.1M327.9,685.3 338.4,672.6M332.5,693.6 338.5,692M338.5,692 346.9,678.2M346.9,678.2 346.5,677.1M346.5,677.1 342.2,672.3M342.2,672.3 341,671.8M342.8,633.2 344.7,625.4M344.7,625.4 338,612M338,612 335.3,611.6M352.3,700.3 338.5,692M340,712.6 352.3,700.3M342.2,672.3 350.5,664.1M350.5,664.1 350.6,655.1M350.6,655.1 336.8,655.1M344.7,625.4 356.1,620.8M356.1,620.8 351.2,606.1M351.2,606.1 338,612M351.2,606.1 350.2,596M350.6,655.1 355.6,651.1M355.6,651.1 347.5,643.1M346.5,636 359.5,634.2M359.5,634.2 362,624.2M362,624.2 356.1,620.8M351.2,606.1 369.9,606.1M369.9,606.1 362,582.5M362.2,582.3 364.5,573.4M364.5,573.4 362.9,568.3M362.9,568.3 356.7,564.2M355.6,651.1 359.5,651.1M359.5,651.1 363,639.1M363,639.1 359.5,634.2M350.5,664.1 368.6,664.1M368.6,664.1 363.6,655.2M363.6,655.2 359.5,651.1M352.3,700.3 353.2,700.1M353.2,700.1 357.5,687.3M357.5,687.3 346.9,678.2M346.5,677.1 369.9,665.4M369.9,665.4 368.6,664.1M345.1,723.9 360.5,720.9M360.5,720.9 360.5,705.6M360.5,705.6 353.2,700.1M359,774.1 363.3,772.9M363.3,772.9 368.4,764.3M368.4,764.3 368,760.6M368,760.6 355.5,757.1M362,624.2 370.5,620.4M370.5,620.4 370.5,606.5M370.5,606.5 369.9,606.1M369.8,554.5 380.8,549.6M380.8,549.6 375,534.3M375,534.3 363.1,532.5M362.2,551.9 369.8,554.5M360.5,705.6 371.3,702.9M371.3,702.9 374.5,690M374.5,690 368.5,684M368.5,684 357.5,687.3M359.7,742.4 364.5,740.5M364.5,740.5 364.5,723.3M364.5,723.3 360.5,720.9M369.9,665.4 371.7,666.3M371.7,666.3 377.5,664.8M377.5,664.8 380.4,645.3M380.4,645.3 375.8,642.7M375.8,642.7 363.6,655.2M368.5,684 371.7,666.3M364.5,723.3 374.8,721.2M374.8,721.2 377.8,709.3M377.8,709.3 371.3,702.9M375.8,642.7 374.4,640.9M374.4,640.9 363.2,639.1M362.9,568.3 369.8,554.5M381.2,484.1 382,472.1M382,472.1 357.6,466.6M368.9,492 381.2,484.1M364.5,573.4 380.6,568.1M380.6,568.1 384.8,563.8M384.8,563.8 382.7,550.8M382.7,550.8 380.8,549.6M363.2,639.1 377.5,625.5M377.6,625.1 370.5,620.4M377.6,625.1 378.6,625.1M378.6,625.1 389.1,611.1M389.1,611.1 387.8,608.6M387.8,608.6 374.7,604.8M374.7,604.8 370.5,606.5M368,760.6 373.7,754.9M373.7,754.9 370.8,743M370.8,743 364.5,740.5M370.5,778.4 363.3,772.9M370.5,789.9 370.5,778.4M371.7,790.8 377.4,791.3M377.4,791.3 386.4,782.2M386.4,782.2 378.6,772.4M378.6,772.4 370.5,778.4M375,534.3 380.6,526.7M380.6,526.7 380.6,513.6M380.6,513.6 368.9,506.6M374.7,604.8 383.1,588.1M383.1,588.1 380.6,586.4M380.6,586.4 362.2,582.3M378.6,772.4 378.6,771.9M378.6,771.9 368.4,764.3M383.6,446.1 384.7,430.3M384.7,430.3 368.5,414.1M358.6,446.1 383.6,446.1M382,472.1 385.5,467.5M385.5,467.5 385.5,448.2M385.5,448.2 383.6,446.1M380.6,513.6 396.9,503.8M396.9,503.8 396.4,496.3M396.4,496.3 381.2,484.1M374.4,640.9 377.5,625.5M370.8,743 380.6,738.1M380.6,738.1 380.6,725.6M380.6,725.6 374.8,721.2M374.5,690 386.6,690M386.6,690 393.6,683M393.6,683 382.9,665.9M382.9,665.9 377.5,664.8M378.6,771.9 388.9,759M388.6,758.6 373.7,754.9M396.4,496.3 410.9,483.4M410.9,483.4 410.1,472.4M410.1,472.4 385.5,467.5M385.5,448.2 417.6,445.7M417.6,445.7 419.6,425.4M419.6,425.4 413,414.9M413,414.9 410.6,413.6M410.6,413.6 409.8,413.6M409.8,413.6 384.7,430.3M382.7,550.8 400.5,546.3M400.5,546.3 402.4,544M402.4,544 401,529.2M401,529.2 380.6,526.7M409.8,413.6 386.3,399.9M380.6,586.4 380.6,568.1M380.4,645.3 381.2,645M381.2,645 382.8,644.1M382.8,644.1 382.3,627M382.3,627 378.6,625.1M384.6,801.4 377.4,791.3M385.3,808.3 384.6,801.4M384.6,801.4 397,792M397,792 394.4,781.4M394.4,781.4 386.4,782.2M383.1,588.1 386.1,588.1M386.1,588.1 394.6,571.1M394.6,571.1 384.8,563.8M388.6,758.6 388.6,742.1M388.6,742.1 380.6,738.1M377.8,709.3 390.6,706.1M390.6,706.1 386.6,690M394.4,781.4 395.8,779.8M395.8,779.8 388.9,759M385.1,390.9 396.1,377.1M396.1,377.1 385.5,355.9M414.3,343.1 427.5,321.2M406.5,341.3 414.3,343.1M387.8,608.6 393.8,596.6M393.8,596.6 391.7,591.8M391.7,591.8 386.1,588.1M382.3,627 384,627.4M384,627.4 395.2,621.8M395.2,621.8 397.9,616.2M397.9,616.2 389.1,611.1M380.6,725.6 392.6,722.6M392.6,722.6 392.6,707.3M392.6,707.3 390.6,706.1M382.8,644.1 391.6,641.6M391.6,641.6 393.4,636.9M393.4,636.9 384,627.4M382.9,665.9 394.8,659.3M394.8,659.3 394.6,657.7M394.6,657.7 381.2,645M388.9,759 404.6,757.4M404.6,757.4 404.6,742.1M404.6,742.1 396.6,738.1M396.6,738.1 388.6,742.1M397.9,616.2 402.2,615.3M402.2,615.3 411.5,607.2M411.5,607.2 410.7,603.9M410.7,603.9 393.8,596.6M392.6,707.3 404.6,704.9M404.6,704.9 404.6,683M404.6,683 393.6,683M404.6,683 404.6,661.2M404.6,661.2 394.8,659.3M396.6,738.1 396.6,725.6M396.6,725.6 392.6,722.6M401,529.2 405,523.6M405,523.6 403.8,510.2M403.8,510.2 396.9,503.8M410.6,413.6 410.6,379.2M410.6,379.2 396.1,377.1M394.6,657.7 394.6,646.1M394.6,646.1 391.6,641.6M397,792 404.7,798.4M415,782.2 400.2,778.5M400.2,778.5 395.8,779.8M394.6,571.1 403.8,571.1M403.8,571.1 407.7,565.4M407.7,565.4 400.5,546.3M393.4,636.9 398.4,634.1M398.4,634.1 395.2,621.8M394.6,646.1 408.1,646.1M408.1,646.1 408.6,644.1M408.6,644.1 402.5,634.1M402.5,634.1 398.4,634.1M404.6,661.2 405,661M405,661 408.6,648.3M408.6,648.3 408.1,646.1M391.7,591.8 408.1,581.9M408.1,581.9 403.8,571.1M402.4,544 418.6,544M418.6,544 426.2,539.5M426.2,539.5 429,529.6M429,529.6 405,523.6M400.2,778.5 407.8,759.6M407.8,759.6 404.6,757.4M458.8,755.3 436.6,770.1M436.6,770.1 436.6,775.6M468.1,767 458.8,755.3M410.1,472.4 421.6,457M421.6,457 421.6,452.6M421.6,452.6 417.6,445.7M403.8,510.2 427.9,505.4M427.9,505.4 426.1,492.5M426.1,492.5 410.9,483.4M402.5,634.1 406.7,627.1M406.7,627.1 402.2,615.3M410.7,603.9 414.2,594.4M414.2,594.4 411.1,584.3M411.1,584.3 408.1,581.9M396.6,725.6 409.5,722.3M409.5,722.3 407.5,706.6M407.5,706.6 404.6,704.9M404.6,742.1 412.6,738.1M412.6,738.1 412.6,724.4M412.6,724.4 409.5,722.3M407.7,565.4 418.6,563.3M418.6,563.3 418.6,544M413,414.9 430.6,399.2M430.6,399.2 434.6,377.7M434.6,377.7 433.7,375.8M433.7,375.8 425,371M425,371 410.6,379.2M421.6,452.6 456.6,446.2M456.6,446.2 458.1,444M458.1,444 454.5,422.9M454.5,422.9 419.6,425.4M406.7,627.1 416.7,627.1M416.7,627.1 420.1,619.2M420.1,619.2 416,610.1M416,610.1 411.5,607.2M411.1,584.3 429.1,575.3M429.1,575.3 427.8,567.6M427.8,567.6 427.1,566.7M427.1,566.7 418.6,563.3M402.5,634.1 418,634.1M418,634.1 417.3,629.1M417.3,629.1 416.7,627.1M408.6,648.3 416.4,650.3M416.4,650.3 419.7,647M419.7,647 413.5,641.2M413.5,641.2 408.6,644.1M413.5,641.2 418.7,635.8M418.7,635.8 418,634.1M404.6,683 419.1,683M419.1,683 420.6,682M420.6,682 420.6,662.9M420.6,662.9 405,661M425,371 420,348.4M420,348.4 414.3,343.1M416,610.1 437.9,603.9M437.9,603.9 428.4,592.4M428.4,592.4 414.2,594.4M407.8,759.6 411.3,760.2M411.3,760.2 422.6,755.7M422.6,755.7 422.6,743.1M422.6,743.1 412.6,738.1M436.6,770.1 432.3,761.5M432.3,761.5 422.6,755.7M411.3,760.2 417.4,778.6M426.1,492.5 438.6,480M438.6,480 438.6,474.1M438.6,474.1 421.6,457M407.5,706.6 421.6,703.5M421.6,703.5 419.1,683M420.6,662.9 423.2,660.7M423.2,660.7 416.4,650.3M429.3,529.4 432.1,509.5M432.1,509.5 427.9,505.4M427.1,566.7 433.1,548.7M433.1,548.7 426.2,539.5M423.2,660.7 427.2,659M427.2,659 424.1,647.1M424.1,647.1 423.4,645.8M423.4,645.8 419.7,647M412.6,724.4 424.6,721.7M424.6,721.7 424.6,705.3M424.6,705.3 421.6,703.5M423.4,645.8 425,638.5M425,638.5 418.7,635.8M427.2,659 429.6,659M429.6,659 435.8,651.6M435.8,651.6 434,647.1M434,647.1 424.1,647.1M420,348.4 444.9,342.2M428.4,592.4 432.2,578.8M432.2,578.8 429.1,575.3M425,638.5 430.1,637.2M430.1,637.2 435.2,630M435.2,630 435,629.1M435,629.1 417.3,629.1M420.6,682 436.6,682M436.6,682 436.6,666.1M436.6,666.1 429.6,659M435,629.1 434.1,623.2M434.1,623.2 420.1,619.2M422.6,743.1 428.6,738.6M428.6,738.6 428.6,724.4M428.6,724.4 424.6,721.7M433.7,375.8 461.1,356.6M458.8,755.3 457.5,746.3M457.5,746.3 448.5,741.4M448.5,741.4 444.9,742.7M444.9,742.7 432.3,761.5M444.9,742.7 428.6,738.6M432.1,509.5 452.6,506.6M452.6,506.6 452.6,490.5M452.6,490.5 438.6,480M433.1,548.7 442.6,551.1M442.6,551.1 452.6,546.1M452.6,546.1 452.6,540.5M452.6,540.5 447.6,533M447.6,533 429.3,529.4M454.5,422.9 460.8,412.2M460.8,412.2 430.6,399.2M427.8,567.6 441.3,563.2M441.3,563.2 442.6,561.4M442.6,561.4 442.6,551.1M432.2,578.8 440.5,580.4M440.5,580.4 444.4,568.6M444.4,568.6 441.3,563.2M434,647.1 433,642.1M433,642.1 430.1,637.2M437.9,603.9 441.1,604.9M441.1,604.9 447,597.6M447,597.6 443,581.9M443,581.9 440.5,580.4M435.2,630 447.6,634.9M447.6,634.9 449.8,634M449.8,634 440.7,613.6M440.7,613.6 434.1,623.2M440.7,613.6 442.6,610.1M442.6,610.1 441.1,604.9M424.6,705.3 435.6,703.1M435.6,703.1 438.1,683M438.1,683 436.6,682M433,642.1 445.6,642.1M445.6,642.1 447.6,634.9M435.8,651.6 445.6,650.2M445.6,650.2 445.6,642.1M428.6,724.4 440.6,721.7M440.6,721.7 440.6,706.4M440.6,706.4 435.6,703.1M436.6,666.1 451.6,661.1M451.6,661.1 450.2,654.1M450.2,654.1 445.6,650.2M448.5,741.4 447.1,726.1M447.1,726.1 440.6,721.7M460.8,412.2 465.2,408.2M465.2,408.2 467.3,402.1M467.3,402.1 466.8,397M466.8,397 434.6,377.7M438.6,474.1 456.6,464M456.6,464 456.6,446.2M447.1,726.1 464.6,715.2M464.6,715.2 464.8,711.9M464.8,711.9 452.6,703.7M452.6,703.7 440.6,706.4M438.1,683 452.6,683M452.6,683 452.6,662.1M452.6,662.1 451.6,661.1M466.8,397 477.6,372.8M477.6,372.8 477.6,369.7M477.6,369.7 468.2,361.6M458.1,444 478.6,447M478.6,447 481.4,445.8M481.4,445.8 484.2,436.4M484.2,436.4 473.4,414.8M473.4,414.8 465.2,408.2M452.6,490.5 466.6,480M466.6,480 466.6,474.1M466.6,474.1 456.6,464M450.2,633.9 455.5,626.4M455.5,626.4 457.3,618.3M457.3,618.3 442.6,610.1M447.6,533 459.1,513M459.1,513 458.9,511.1M458.9,511.1 452.6,506.6M450.2,654.1 462.9,644.1M462.9,644.1 450.2,633.9M444.4,568.6 459,571M459,571 463.8,565.9M463.8,565.9 463.1,563.9M463.1,563.9 442.6,561.4M452.6,703.7 452.6,683M463.1,563.9 462.5,556M462.5,556 452.6,546.1M452.6,540.5 470.7,531.5M470.7,531.5 459.1,513M466.6,474.1 478.6,467.4M478.6,467.4 478.6,447M458.9,511.1 471.9,506.2M471.9,506.2 476.7,490.1M476.7,490.1 466.6,480M443,581.9 456,576.3M456,576.3 459,571M452.6,662.1 468.2,662.1M468.2,662.1 465,644.1M465,644.1 462.9,644.1M457.5,746.3 464,742.1M464,742.1 467.3,719.4M467.3,719.4 464.6,715.2M447,597.6 454.4,596.1M454.4,596.1 460.3,589.1M460.3,589.1 456,576.3M457.3,618.3 462.3,616.4M462.3,616.4 464.1,603.9M464.1,603.9 454.4,596.1M460.3,589.1 470.6,589.1M470.6,589.1 470.6,569.1M470.6,569.1 463.8,565.9M470.6,569.1 478.5,569.1M478.5,569.1 488.3,551.8M488.3,551.8 487.9,550.3M487.9,550.3 475.6,544.8M475.6,544.8 462.5,556M475.6,544.8 473.1,532.6M473.1,532.6 470.7,531.5M464.8,711.9 465.3,711.4M465.3,711.4 471.9,685M471.9,685 468.6,683M468.6,683 452.6,683M480.4,742.1 464,742.1M477.6,369.7 486.4,363.8M455.5,626.4 471,636.5M471,636.5 472.5,630.4M472.5,630.4 462.3,616.4M465,644.1 469.8,640.9M469.8,640.9 471.3,639.4M471.3,639.4 471,636.5M484.5,728 467.3,719.4M464.1,603.9 473.1,599.3M473.1,599.3 472,590.3M472,590.3 470.6,589.1M468.6,683 468.6,662.4M468.6,662.4 468.2,662.1M468.6,662.4 478.9,660.1M478.9,660.1 469.8,640.9M492.5,704.6 465.3,711.4M476.7,490.1 494.9,486.8M497.3,473.6 478.6,467.4M473.1,532.6 480.6,528.5M480.6,528.5 486.3,513.3M486.3,513.3 471.9,506.2M472,590.3 484.1,586.3M484.1,586.3 486.8,575.5M486.8,575.5 478.5,569.1M478.9,660.1 488.4,660.1M491.7,651.5 474.8,640.2M474.8,640.2 471.3,639.4M472.5,630.4 480.7,623.7M480.7,623.7 482.2,617.9M482.2,617.9 474.6,614.7M474.6,614.7 462.3,616.4M474.6,614.7 474.6,600.4M474.6,600.4 473.1,599.3M473.4,414.8 503.7,423.4M503.7,423.4 510.4,422.4M510.4,422.4 498.2,402.1M498.2,402.1 467.3,402.1M471.9,685 488.9,685M482.2,617.9 488.4,614.4M488.4,614.4 487.1,602.2M487.1,602.2 474.6,600.4M474.8,640.2 483,634.8M483,634.8 484.9,629.4M484.9,629.4 480.7,623.7M528.6,582 543.9,597.3M543.6,569.5 528.6,582M568.5,303 571.8,306.6M571.8,306.6 573.5,307.5M568,300.9 568.5,303M499.8,452.4 481.4,445.8M486.3,513.3 496.3,511M487.1,602.2 490.3,597.9M490.3,597.9 490.6,596.1M490.6,596.1 484.1,586.3M498.2,402.1 503.5,389M503.5,389 477.6,372.8M487.9,550.3 497.7,537.3M497.6,537 480.6,528.5M484.9,629.4 489.4,630.6M489.4,630.6 496.7,630.6M496.7,630.6 496.6,625.4M496.6,625.4 492.6,616.1M492.6,616.1 488.4,614.4M486.7,636.6 483,634.8M493.6,645.6 486.7,636.6M503.5,389 510.6,386M510.6,386 510.6,368.6M510.6,368.6 493.5,360M486.8,575.5 497.6,574.5M497.6,574.5 497.6,558.5M497.6,558.5 488.3,551.8M484.2,436.4 503.7,423.4M504.4,630.2 499.3,635.2M499.3,635.2 500.2,639M514.1,620.8 510.4,624.4M518.3,624.4 514.1,620.8M499.3,635.2 496.7,630.6M489.4,630.6 486.7,636.6M497.6,537 506.3,519.8M492.6,616.1 506.6,610.1M506.6,610.1 506.6,606.1M506.6,606.1 490.3,597.9M512,423 510.4,422.4M497.6,558.5 510.8,554.7M510.8,554.7 513.7,548.8M513.7,548.8 497.7,537.3M513.7,548.8 528.6,542.7M496.6,625.4 513.4,619.7M513.4,619.7 512.2,615.7M512.2,615.7 506.6,610.1M514.1,620.8 513.4,619.7M509.6,307.8 509.1,304.8M532.3,399.2 528.8,393.6M528.8,393.6 510.6,386M490.6,596.1 497.5,591.5M497.5,591.5 504.4,579.7M504.4,579.7 503.4,577.7M503.4,577.7 497.6,574.5M503.4,577.7 513.5,565.6M513.5,565.6 510.8,554.7M510.6,368.6 525.2,361.3M525.2,361.3 526.9,348.2M526.9,348.2 515.2,340.9M526.9,348.2 539.3,342.4M539.3,342.4 544.2,333.2M544.2,333.2 543.9,329.9M543.9,329.9 534.8,316.3M534.8,316.3 516.7,319.3M506.6,606.1 509.2,600.9M509.2,600.9 497.5,591.5M509.2,600.9 516.6,594.1M516.6,594.1 516.9,587.5M516.9,587.5 504.4,579.7M534.6,606.8 527.1,604.5M527.1,604.5 512.2,615.7M527.1,604.5 516.6,594.1M533.4,292.4 533.9,287.7M518.7,297.3 533.4,292.4M509.1,304.8 509.5,304.3M516.9,587.5 526.4,581.8M526.4,581.8 522.5,568.2M522.5,568.2 513.5,565.6M528.8,393.6 532.9,370.9M532.9,370.9 525.2,361.3M534.8,316.3 538.6,303M538.6,303 533.4,292.4M570.2,362.2 552.8,357.9M552.8,357.9 539.3,342.4M522.5,568.2 532.9,557.8M528.6,582 526.4,581.8M538.6,303 568.5,303M543.9,329.9 571.8,306.6M576.5,339.6 544.2,333.2" fill="none" stroke="#6e6e6e" stroke-width="0.9"/><circle cx="504.6" cy="592.5" r="2.8" fill="#FFEBBE" stroke="#6e6e6e" stroke-width="0.9"/><circle cx="509.6" cy="594.5" r="1.6" fill="#FFEBBE" stroke="#6e6e6e" stroke-width="0.9"/></g><use href="#swe" fill="none" stroke="#6e6e6e" stroke-width="1"/></g><g transform="translate(849.7,0)"><g clip-path="url(#cl)"><use href="#swe" fill="#B2C6F5"/><path d="M451.2,90 592.2,90 580.1,136.7 575.1,148.4 570.1,158.5 565,170.6 561,179.1 551.9,176.6 539.8,172.6 523.7,164.5 507.6,160.1 491.5,160.5 480.4,155.5 471.3,140.4Z" fill="#D62F27" stroke="#5e5e5e" stroke-width="0.9"/><path d="M451.2,150.4 471.3,140.4 480.4,155.5 491.5,160.5 507.6,160.1 523.7,164.5 539.8,172.6 551.9,176.6 561,179.1 561.6,188.7 567.6,199.8 571.7,208.9 567,214.9 570.5,227.4 552.9,235.5 543.9,218.9 531.8,210.9 519.7,198.8 507.6,190.7 497.5,184.3 485.4,174.6 471.3,167 459.2,160.9Z" fill="#D62F27" stroke="#5e5e5e" stroke-width="0.9"/><path d="M439.1,190.7 443.1,174.6 459.2,160.9 471.3,167 485.4,174.6 497.5,184.3 507.6,190.7 519.7,198.8 531.8,210.9 543.9,218.9 552.9,235.5 541.9,233.5 535.8,249.2 531.8,257.2 519.7,251.2 505.6,247.2 502.6,239.1 499.5,229 483.4,221 471.3,214.9 461.3,206.9 450.8,198.8Z" fill="#E8604F" stroke="#5e5e5e" stroke-width="0.9"/><path d="M414.9,231 431,210.9 450.8,198.8 461.3,206.9 471.3,214.9 483.4,221 499.5,229 502.6,239.1 505.6,247.2 498.5,255.2 497.5,267.3 493.9,276.4 493.9,284.4 479.4,272.3 467.3,266.3 451.2,258.2 435.1,251.2 419,249.2Z" fill="#D62F27" stroke="#5e5e5e" stroke-width="0.9"/><path d="M580.1,136.7 612.4,120.2 612.4,198.8 592.2,198.8 593.2,210.9 586.2,207.9 571.7,208.9 567.6,199.8 561.6,188.7 561,179.1 565,170.6 570.1,158.5 575.1,148.4Z" fill="#B2C6F5" stroke="#5e5e5e" stroke-width="0.9"/><path d="M590.8,197.1 611,197.1 611,236.4 605.9,237.4 598.9,243.5 594.8,238.4 591.8,225.3 588.8,213.2 594.8,211.2Z" fill="#B2C6F5" stroke="#5e5e5e" stroke-width="0.9"/><path d="M568.7,208.2 574.7,209.2 588.8,213.2 591.8,225.3 594.8,238.4 589.8,239.4 585.8,237.4 577.7,240.4 570.7,234.4 566.6,228.4 569.7,225.3 566.6,214.3Z" fill="#8FA9DE" stroke="#5e5e5e" stroke-width="0.9"/><path d="M547.5,232.4 554.5,235.4 566.6,228.4 570.7,235.4 568.7,245.5 567.6,251.5 571.7,256.6 568.7,263.6 558.6,268.1 545.5,256.6 535.9,252 539.9,242.5 542.5,236.4Z" fill="#B2C6F5" stroke="#5e5e5e" stroke-width="0.9"/><path d="M535.9,252 545.5,256.6 558.6,268.1 554.5,275.7 550.5,275.7 542.5,271.7 535.4,272.7 532.4,261.6Z" fill="#B2C6F5" stroke="#5e5e5e" stroke-width="0.9"/><path d="M570.7,235.4 577.7,240.4 580.7,245.5 584.8,258.6 590.8,264.6 597.9,280.7 604.9,295.8 590.8,300.9 578.7,295.8 575.7,290 568.7,280.7 558.6,268.1 568.7,263.6 571.7,256.6 567.6,251.5 568.7,245.5Z" fill="#FCACA6" stroke="#5e5e5e" stroke-width="0.9"/><path d="M577.7,240.4 585.8,237.4 589.8,239.4 594.8,238.4 598.9,243.5 604.9,252.5 606.9,265.6 612,276.2 600.9,281.7 597.9,280.7 590.8,264.6 584.8,258.6 580.7,245.5Z" fill="#B2C6F5" stroke="#5e5e5e" stroke-width="0.9"/><path d="M598.9,243.5 605.9,237.4 610,240.4 615,250.5 618,260.6 617,270.7 612,276.2 606.9,265.6 604.9,252.5Z" fill="#B2C6F5" stroke="#5e5e5e" stroke-width="0.9"/><path d="M493.1,276.3 496.7,271.4 496.7,264.2 497.9,256.9 503.9,252.1 508.2,246.5 518.3,251.5 527.3,252.5 532.4,256.6 532.4,261.6 535.4,272.7 532.4,276.7 526.9,285.9 518.4,296.8 506.4,288.4 494.3,281.1Z" fill="#FCACA6" stroke="#5e5e5e" stroke-width="0.9"/><path d="M524.3,280.7 532.4,276.7 542.5,271.7 550.5,275.7 554.5,275.7 558.6,268.1 568.6,280.7 575,289 580,296 590,300 576,302 574,306 568,300 558.9,292.8 544.8,289.8 532.7,286.8 524.6,285.8Z" fill="#FCACA6" stroke="#5e5e5e" stroke-width="0.9"/><path d="M425.4,250.6 435.5,240.6 446.8,247.4 456.5,254.7 465.3,259.5 481.4,274.8 493.5,279.6 494.3,284.5 491.1,294.1 487.9,303 477.4,295.8 466.9,290.9 458.9,282.9 457.2,278 447.6,274 437.1,267.5 430.6,259.5Z" fill="#B2C6F5" stroke="#5e5e5e" stroke-width="0.9"/><path d="M505,625 565,625 565,740 505,740 500,725 495.6,705 495.6,690 498,675 505,660Z" fill="#B2C6F5" stroke="#5e5e5e" stroke-width="0.9"/><path d="M405,250 425.4,250.6 430.6,259.5 437.1,267.5 447.6,274 457.2,278 458.9,282.9 466.9,290.9 477.4,295.8 487.9,303 487.2,311.7 480.8,321.3 477.5,319.2 469,313.8 458.2,307.4 452.8,298.8 447.5,291.3 442.1,288 426,287 405,286Z" fill="#FCACA6" stroke="#5e5e5e" stroke-width="0.9"/><path d="M405,286 426,287 442.1,288 447.5,291.3 452.8,298.8 458.2,307.4 469,313.8 477.5,319.2 480.8,321.3 484,331 479.7,334.2 467.9,340.7 461.4,337.5 453.9,333.2 448.5,326.7 443.2,320.3 434.6,314.9 426,311.7 419.5,309.5 411.5,303.1 405,303Z" fill="#FCACA6" stroke="#5e5e5e" stroke-width="0.9"/><path d="M419.5,309.5 426,311.7 434.6,314.9 443.2,320.3 448.5,326.7 453.9,333.2 461.4,337.5 467.9,340.7 462.5,341.8 467.7,360.9 458.2,353.6 448.5,345 441,337.5 438.9,332.1 432.4,324.6 426,319.2Z" fill="#FCACA6" stroke="#5e5e5e" stroke-width="0.9"/><path d="M461.6,341.5 474.9,335.5 485.8,333.1 496.7,337.9 508.8,352.4 496.7,357.3 487,363.3 474.9,362.1 467.7,360.9Z" fill="#8FA9DE" stroke="#5e5e5e" stroke-width="0.9"/><path d="M493.1,295.6 506.4,305.9 517.2,315 514.8,324.6 513.6,336.7 517.2,352.4 508.8,352.4 496.7,337.9 485.8,333.1 484,331 480.8,321.3 487.2,311.7 487.9,303 489.4,302.9Z" fill="#FCACA6" stroke="#5e5e5e" stroke-width="0.9"/><path d="M494.3,281.1 506.4,288.4 518.4,296.8 506.4,305.9 493.1,295.6 489.4,302.9 493.1,290.8Z" fill="#FCACA6" stroke="#5e5e5e" stroke-width="0.9"/><path d="M592.4,201.4 592,201.5 592.8,210.3 586.2,207.5 570.4,208.6 570.3,208.9 574.6,209.6 588.8,213.7 595.3,211.5Z" fill="#B2C6F5"/><path d="M532,256.8 532,263.5 532.1,263.5 536.3,252.2 540.3,242.6 542.8,236.7 546.3,233.9 541.6,233 535.4,249 531.7,256.5Z" fill="#E8604F"/><path d="M618.4,260 614.4,245.9 610.3,237.7 608.5,236.5 605,237.2 609.6,240.7 614.6,250.7 618.1,262.4 618.2,262.4Z" fill="#B2C6F5"/><path d="M498,257.4 504.2,252.4 508,247.4 505.5,246.7 498.1,255Z" fill="#FCACA6"/><path d="M494.3,284.6 493.9,284.5 490.7,294 487.3,303.4 489.7,303.3 493.5,290.9Z" fill="#B2C6F5"/><path d="M535,272.6 531.1,277.8 542.5,272.1 550.4,276.1 552.2,276.1 542.5,271.3 535.7,272.2 534,265.8 533.2,266Z" fill="#B2C6F5"/><path d="M486.5,333.3 484.1,330.5 479.5,333.9 477.1,335.2 477.1,335.4Z" fill="#8FA9DE"/><path d="M415.6,249.7 415.6,250.7 425.6,251 426.8,249.7 419.7,248.9Z" fill="#FCACA6"/><path d="M567.2,228.5 566.4,228.8 570.4,235.7 579.1,241.9 579.5,241.4 571,234.1Z" fill="#8FA9DE"/><path d="M476.6,270.5 476.5,270.7 481.2,275.1 484.9,276.6 485,276.5 479.6,272Z" fill="#B2C6F5"/><path d="M518.2,251.9 522.8,252.4 522.8,252.3 519.8,250.8 513.1,248.9 512.9,249.3Z" fill="#FCACA6"/><path d="M562,231.5 561.7,231 552.8,235.1 554.6,235.9Z" fill="#B2C6F5"/><path d="M497.1,267.4 497.1,267.4 493.8,275.5 494.1,275.7 497.1,271.5Z" fill="#FCACA6"/><path d="M493.8,277.5 493.5,277.5 493.5,282.1 494,285 494.2,285 494.7,281.1Z" fill="#D62F27"/><path d="M605.8,276 605.3,275.4 599,280.7 597.1,280.1 597.8,281.6 596.2,283 596.7,283.6Z" fill="#B2C6F5"/><path d="M522.1,525.7 515.4,523 512.1,521.7 500.2,515.8 499.3,514.2 494.9,545 503.4,547.1 509.5,551.8 510.9,572.4 521.7,577.4 523.6,577.4 525.8,579.2 532.1,597.9 541.1,601.3 552.3,590.2 553.4,585.8 554.3,581.9 548.2,573.8 540.2,563.8 530.3,553.9 529.7,545.1 529.3,540 528.3,527.8ZM496.6,357 495,358 508.9,373.5 523.2,375 522,354.2 515.9,348.1 516.8,352.1 508.7,352.1ZM499.3,468 500.3,456 500.7,452.3 482,448.5 479.1,451.8 453.7,451.8 450.9,454.8 456.7,466.4 477.4,466.4 482,471.6 497.2,478.6 497.3,478.1ZM477.7,362.1 474.9,361.8 467.8,360.6 463.1,357 445.8,381.1 436.6,382.3 434.3,400 450.2,412.8 451.9,419.2 456.3,422.4 474.1,419.4 480.5,411.4 481.7,403.5 489.4,394.1 477.7,376.5ZM425.1,638.7 425.1,638.7 425.1,652.4 435,656.6 436.4,655.4 447.5,655.4 452.7,642.8 452.7,638.1 452.6,637.9 471.6,625.4 468.8,643.1 470.2,644.8 482.7,636.6 482.7,635 481,624.2 486,621.5 483.8,603.5 477.9,602.8 467.3,618.7 458.5,614.2 452.1,628.3 452.1,637.7 438.8,637.7 437.7,636.9 436.7,628.8 419.8,628.8 420.6,635.5ZM450.2,506 447.6,509.2 460.6,532.6 468.5,526.8 474.1,510 469.3,503.8ZM468.1,586.1 465.6,578.8 438.1,581.1 438.1,584.2 440.3,587 448.2,608.1 455.3,609.4 465.7,596 465.7,593.1ZM351.2,661.4 345.5,669.2 349.5,671.8 362.4,668.6 363.5,668.9 372.3,664.4 372.9,662.1 374.4,661.3 384.3,648.4 381.6,642.1 387.7,639.6 396.5,648.9 401.2,648.2 401.6,651.3 406.6,659.6 412.4,658.1 418.6,662.2 423.4,652.7 419.8,651.3 413.9,653.2 404.6,643.7 405.2,642 404.9,641.3 394.3,634.4 393.9,632.8 385.1,621.6 378.1,639.5 378.1,639.7 378.1,640 371.9,642.3 367.9,654.3 362.6,652.8 359,652.8 347.5,643.6 344.5,651.6ZM405.7,597.6 397.3,598.4 392.2,613.8 406.3,620.1 408.2,620.4 417.3,617.4 419.8,614.4 410.7,599.8ZM414.3,780.8 397.7,780.8 396.1,791.6 409.1,795.3 412.2,792.2 415.3,786.1 415.9,782.6ZM361.7,530.1 362.7,535 363.7,540 360.4,556.4 366.8,558.5 373.2,575.6 367.6,586 360.9,583.2 351.3,566.4 345.7,567.8 344.7,573.9 340.7,579.9 339.8,588.6 339.7,590 340.7,600 359,604.6 368.5,602.8 370.7,593.9 391.4,591.8 393.5,585.5 378.5,574.2 390.9,566.3 393,557.6 383.8,550.8 382.1,540.7 375.2,532.9 379.1,522.1 361.8,507.7 357.7,508.8 359.7,520.1ZM381.4,795.2 387,791.9 384.6,779.9 382.9,778.8 374.6,778.8 371.5,783.1 372.6,791.4ZM351.4,757.6 355.4,755.4 367,758.7 367,768.3 372.7,772 382,765 375.3,753.8 374,753.6 367.4,740.6 356.3,751.7 353.7,741.2 344.8,739.5 343.7,740.9 344.7,747.1ZM321.9,609.7 311.8,613.8 309.8,617.8 307.7,619.9 308.4,628.9 308.7,632 311.4,643 322.5,636.4 322.8,633.5 323.5,632.4 334.3,632.4 337.8,641.3 347.7,643.5 348.6,642.1 362.3,638.3 362.9,637.9 364.6,626.4 364.6,623.8 349.6,623.8 348.1,629.8 335.6,629.8 335.5,614.8 334.6,613.9 333.9,611.6 332.1,613.4 330.2,607.7 325.9,606.7ZM327.4,654 324.9,649.8 313.6,649.8 315.7,656.1 317.1,661Z" fill="#8FA9DE"/><path d="M477.9,603.4 483.6,604.1 489.7,598.7 489.7,586.2 495.3,578.5 486.4,568.5 473.4,567.2 465.6,576.1 465.1,579.1 467.4,586.1 465.1,593 465.1,596.1ZM425.7,652.4 425.7,638.8 425.7,638.4 420.9,635 407.6,641.6 416.8,647.8 419.6,651.8 422.9,653.2ZM367.2,807.9 369.9,809.3 380,810.3 390.1,808.3 394.4,807.2 398.2,806.3 409.6,794.9 396.4,791.1 394.3,792.4 386.6,791.5 381.3,794.5 372.8,790.8 367.3,795.4 358.2,792.4 356.7,796 359.8,804.2ZM373.2,612.9 368.6,619.3 364,623.9 364,626.4 362.3,637.9 372.2,642.8 378.7,640.4 378.7,639.8 378.7,639.7 385.5,622.3 384.4,616.9ZM357.7,778 358.3,781.4 358.8,781.3 372,783.5 375.1,779.2 372.9,771.4 367.4,767.8 357.9,767.8 358.7,769.1Z" fill="#4575B5"/><path d="M514.5,324.5 513.3,336.7 516.2,349.2 521.4,354.4 522.6,374.4 509.2,373 495.5,357.7 486.9,363 477.1,362 477.1,376.7 488.7,394.1 481.1,403.2 479.9,411.5 496.1,422.3 497.7,429.9 505.6,436.2 508.3,432.2 512.3,424.2 518.2,416.2 519.6,414.2 522.2,410.2 528.2,402.2 536.2,398.3 543.8,392.5 524.7,378.1 524.3,375.6 532.5,372.5 543.9,357.3 538.7,348.6 538.7,337.9 541.1,332.8 546.5,331.3 557.8,336.4 561.9,344.6 572.4,349.8 574.3,344.1 580.3,336.1 581.3,326 578.3,317.9 574.4,308.2 569.5,306.8 557.8,292.3 552,291 535.7,300.1 523.3,290 518.2,296.6 505.9,305.9 516.9,315.1 515.3,321.6ZM483.2,603.6 485.4,621.6 493.3,622.9 501.7,617.2 504,605.6 489.4,598.2ZM360.7,379.9 359.7,391.9 355.7,395.9 358.2,406.2 358.7,408 358,413.6 383.1,429.3 392.7,425.4 406.8,435.6 421.5,433.9 424.3,435.8 426.4,440.3 418.7,459.4 430.8,469.1 417.4,482.7 429.1,490.5 429.1,512.2 448.1,509.5 450.6,506.5 469.1,504.5 473.6,510.3 496.9,510.3 494.3,505.9 495.3,490 495.8,487.3 497.3,478 482.3,471.1 477.7,465.8 457.1,465.8 451.6,454.9 454.1,452.3 459.5,439.1 456.7,421.9 452.4,418.9 450.8,412.4 434.9,399.7 437.2,382.9 446.2,381.7 463.6,357.3 458.4,353.4 448.7,344.8 441.3,337.3 439.2,331.9 432.6,324.4 426.2,319 419.7,309.3 411.6,302.8 410.2,302.8 405.7,309.9 401.7,319.9 397.6,328 404.7,336.1 405.7,342 406.3,345.7 406.7,347.9 401.8,356.7 396.6,355.9 388,354.7 381.8,355.5 379.9,355.7 371.8,363.8 365.8,373.8ZM436.1,620.3 436.1,629.1 437.2,637.2 438.6,638.3 452.1,638.3 452.1,642.8 462.2,657.6 462.6,657.7 467.8,665 477.3,666 479.6,665.1 486.1,663.9 488.6,664.5 489.3,660.1 493.3,650.1 495.1,643.8 487.6,642.7 482.5,636 470.3,644 469.5,642.9 472.5,624.1 452.7,637.1 452.7,628.4 458.8,615 467.5,619.5 478.5,603.1 465.3,595.6 455.1,608.7 448.4,607.5 434.3,614.5ZM452.1,744.2 460,746.4 462.4,745.3 471.9,730.1 467.5,723 456.8,720.4ZM417.2,563.7 425.6,575.4 436.8,578.5 438.3,563.6 454.3,558.9 460.7,544.3 458,539.7 440.6,539.7 425.8,515.1 424.6,515.2 414.1,526.9 399.6,528.3 397.6,532.7 403,548.8 416.1,543.9 416.8,544.3 436,544.3 433.8,555.3 419.4,560.1ZM392.5,613.3 383.8,616.9 384.9,622.4 393.4,633.1 393.8,634.7 404.4,641.7 404.5,642 403.9,643.8 413.8,653.9 420.2,651.7 417.2,647.3 408.8,641.7 421.2,635.5 420.4,629 417.4,616.7 408.2,619.8 406.5,619.5ZM396.1,775.2 395.8,777.5 384,779.9 386.4,792.1 394.4,793.1 396.7,791.6 398.2,781.4 414.5,781.4 411.1,767.9 411.4,766.4 403.1,760.9 391.3,765.6ZM397.4,599 405.9,598.1 409.2,581.4 406.1,578.8 397.7,578.8 390.7,565.7 377.5,574.2 392.8,585.7 390.9,591.6ZM389.1,661.2 392.7,664.8 393.3,666.3 405.3,666.3 406.3,663.2 407,659.2 402.2,651.1 401.7,647.6 396.7,648.3 387.8,638.9 380.8,641.7 383.7,648.6 389,651.2ZM383.1,779.4 386.5,766 381.6,764.6 372.3,771.5 374.6,779.4ZM350.7,566.5 360.5,583.7 367.8,586.8 373.9,575.7 367.3,558.1 360.5,555.8 359.7,559.9 353.8,565.7ZM354.2,729.8 346.7,729.8 347.7,735.9 344.4,740 353.2,741.8 356,752.9 367.6,741.2 367.6,739.5 373.8,731.4 371.9,725.8 366.2,720.8 363.2,720.8ZM337.7,607.8 333.4,612.1 334.1,614.3 334.9,615.1 335,630.4 348.6,630.4 350.1,624.4 364.5,624.4 369.1,619.7 373.6,613.2 368.5,602.2 359,603.9 340.6,599.4 340.7,600ZM323.1,631.8 322.2,633.3 321.9,636.3 326.8,642.4 335.6,642.4 338.4,641.2 334.7,631.8Z" fill="#B2C6F5"/><path d="M559,292.5 556.9,292.1 569.1,307.4 574.7,308.9 574.3,308 576.8,300.7 576.4,300.5 573.9,305.5 568.2,299.8ZM570.3,356 572.3,350.1 572.6,349.3 562.3,344.2 558.3,336 546.6,330.7 540.7,332.3 538.1,337.8 538.1,348.8 543.2,357.2 532.1,372 523.7,375.3 524.1,378.5 543.3,392.9 544.2,392.2 556.2,378.2 568.2,368.2 571.3,364.1ZM535.6,300.8 552.9,291.2 544.9,289.5 532.8,286.5 526.6,285.7 523,290.5ZM458.9,439.1 453.3,452.4 479.4,452.4 482.2,449.2 500.6,452.9 501.3,446.1 504.3,438.1 505.9,435.7 498.2,429.6 496.7,421.9 480.2,410.9 473.8,418.9 456,421.8ZM456.9,721 467.1,723.6 471.2,730.1 462,744.8 459.7,745.9 460.1,748.1 460.1,772.3 468.2,768.2 474.4,762.1 476.3,760.2 479.8,749.5 480.3,748.1 482.3,736.1 486.3,726.1 490,715 490.3,714.1 494.3,702 494.3,691.9 489.3,683.9 487.3,672 488.6,663.9 486.1,663.3 479.5,664.5 477.2,665.4 468.1,664.4 463,657.1 462.6,657.1 452.3,642.1 447,655.1 452.1,660.3 451.4,663 450.4,669.9 459.3,677.4 460.4,683.1 469.7,687.3 473,687.3 479.8,690.2 472.4,708.9 462.7,704.7 459.3,705.4 452.7,700.8 452.7,688.1 438.8,685 437.2,682.8 422.6,680.6 419.6,701.3 420.9,703.2 426,704.9 434.6,701.5 442.3,705.3 444.3,719.4 455.3,719.4ZM425.7,574.8 415,582 408.6,581.2 405.3,598 410.5,600.4 418.9,592 429.2,593.7 438.7,584.2 438.7,581.6 465.7,579.4 466.2,576.1 455.1,566.2 437.8,579.2 436.7,577.8ZM425.2,515.3 440.2,540.3 458.1,540.3 461,532.1 448.1,508.9 429.3,511.6ZM440.4,721.4 432.1,738 432.1,744.8 426.4,746 425.2,747.3 416.1,751.9 411.3,766.4 425.3,766.4 430.4,770.7 437.7,764.6 437.7,747.1 448.5,745.5 451.4,744.3 442.1,721ZM422.8,652.6 418.2,661.7 418.4,663.2 420.6,669.7 435.1,657.5 435.2,656.1 425.4,651.8ZM357.7,444.9 375.7,447.5 383.9,457.2 386.1,458.3 387.2,472.6 386.7,476.9 396.7,487.5 405.8,489 413.5,482.3 418,483 431.7,469 419.4,459.2 427,440.3 424.8,435.4 421.6,433.2 406.9,435 392.8,424.7 383.2,428.7 358.1,413 357.7,416 356.7,428 357.7,438ZM361.1,507.9 378.4,522.3 374.5,533 381.5,541 383.2,551.2 392.6,558 398.1,556.4 403.5,548.4 398.3,532.8 400,528.9 414.4,527.4 425.2,515.5 408.7,505 390.7,513 384.9,501.5 368.1,494.8 368.7,505.8ZM371.8,664.2 377.4,673.3 390.7,673.3 395,682 389,690 392.6,697.1 385.2,709.5 373.8,702.9 381.1,690 375.2,683 364.3,684.4 361.3,681.7 353.6,681.7 347.8,686.6 337.6,682.3 328.4,688 329.7,690.1 332.7,696.1 335.3,704.6 349,696.7 356.5,700.5 351.9,714.4 341.1,716.8 341.7,718.1 346.7,730.1 346.8,730.4 354.5,730.4 363.5,721.4 366,721.4 371.4,726.2 373.1,731.3 367,739.3 367,741.2 373.6,754.2 375.2,754.4 382.7,750.1 382.7,735.1 390.3,733.6 391.6,734.1 403.9,731 405.7,716.9 401.7,714.2 401.7,700.9 408.5,697 406.4,682.2 412.8,677.2 405.2,665.7 393.7,665.7 393.2,664.5 389.7,661 389.6,650.9 383.8,648 374.1,660.8 372.4,661.7ZM385.8,765.9 382.5,779.2 384.3,780.4 396.3,778 396.7,775.1 392.1,765.9 403.4,761.4 401.4,749.5 396.5,748.4 390.1,752.1 390.1,764.9ZM326.8,654.1 330.7,656.1 331,656.2 332.5,657.4 334,667.6 339.1,670.8 343.2,669.4 346.1,669.4 352,661.4 345.2,651.5 348,644.1 347.8,642.9 338,640.7 335.5,641.8 327.1,641.8 322.2,635.8 311.3,642.4 311.7,644.1 312.1,645.2 313.8,650.4 324.5,650.4Z" fill="#FCACA6"/><path d="M523.8,576.8 521.8,576.8 511.2,571.8 499.7,577.6 494.8,578.2 489.1,586 489.1,598.8 503.7,606.1 509.6,602.5 514.6,602.1 518.7,604.6 523.5,615.6 526.5,617.9 528.2,616.2 536.2,606.2 541.6,600.8 532.6,597.4 526.3,578.8ZM482.1,635.1 482.1,636.5 487.3,643.3 494.9,644.4 495.3,643.2 500.2,640.2 500.7,639.8 498.2,634.9 493.4,622.3 485.6,621 480.4,623.9ZM496.5,509.7 481.6,528.3 493,545.4 495.5,545 499.7,515ZM420.5,669 420,671.7 417.9,676.7 422.7,681.3 437.2,683.4 441.1,672.6 438.2,668 437.1,663 434.9,656.8ZM441.1,721.4 429.5,718.5 424.7,723.3 432.4,738.8ZM416.1,543.2 403,548.1 397.5,556.3 410.9,564.6 417.7,563.9 419.8,560.6 434.4,555.7 436.8,543.7 417,543.7ZM397.8,598.6 391.3,591.2 370.2,593.3 368,602.6 373.1,613.5 384.2,617.4 392.8,613.8ZM372.2,663.8 363.2,668.3 360.9,682.2 364.2,685 375.3,683.6 377.9,673ZM359.7,789 358,793 367.4,796.1 373.2,791.3 372.1,782.9 358.7,780.7 358.2,780.8ZM328.8,688.5 337.7,682.9 347.9,687.3 354.1,682.1 349.8,671.3 346,668.8 343.1,668.8 339.2,670.1 334.3,667 320.1,671.1 323.7,680.1Z" fill="#D62F27"/><path d="M460.4,531.9 457.5,540.1 460.2,544.5 467.1,548.5 492.1,546.2 493.5,545.2 482.3,528.4 496.9,510.2 496.6,509.7 473.5,509.7 468,526.5ZM438.4,685.6 452.1,688.6 452.1,701.1 459.1,706.1 462.6,705.3 472.7,709.7 480.6,689.9 473.1,686.7 469.9,686.7 460.9,682.7 459.9,677.1 451,669.7 452,663.1 452.8,660.1 447.5,654.8 436.1,654.8 434.6,656.1 434.5,657.4 436.5,663.2 437.7,668.3 440.4,672.7 436.7,683.2ZM404.7,666.1 412,677 405.8,681.9 407.9,696.7 401.1,700.6 401.1,714.6 405,717.2 403.4,730.5 391.2,733.6 396.3,748.9 400.9,750 402.8,761.4 410.7,766.7 410.5,767.9 413.9,781.3 415.7,783.4 416.3,780.2 424.1,776.3 432,773.3 435.9,776.3 444,779.3 452.1,778.3 455.8,775.5 460.2,772.3 460.7,772 460.7,748.1 460.3,745.8 452.8,743.8 457.4,720.6 455.5,718.8 444.8,718.8 442.8,704.9 434.6,700.8 426,704.3 421.3,702.7 420.2,701.2 423.1,680.9 418.6,676.6 420.6,671.8 421.1,669.2 419,663 418.8,661.6 412.5,657.5 406.4,659 405.7,663ZM416.6,752.3 425.6,747.8 426.7,746.5 432.7,745.3 432.7,738 425.4,723.5 429.7,719.2 440.6,721.9 441.7,721.7 450.6,743.9 448.3,744.9 437.1,746.5 437.1,764.3 430.4,769.9 425.5,765.8 412.1,765.8ZM437.7,580 455.4,566.7 454.3,558.2 437.8,563.2 436.2,578.2ZM356.7,470 357.7,474.1 367.7,486.1 368,492.1 368.2,495.5 384.5,502 390.4,513.8 408.7,505.7 424.7,515.8 425.7,515.7 429.7,512 429.7,490.2 418,482.4 413.4,481.7 405.6,488.4 397,487 387.3,476.7 387.8,472.6 386.6,457.9 384.2,456.7 376.1,446.9 357.7,444.3 357.7,446 356.7,460ZM392.5,557.4 390.3,566.1 397.4,579.4 405.9,579.4 408.8,581.8 415.1,582.6 426.2,575.2 417.7,563.3 411,564 398,555.9ZM377.4,672.7 374.7,683.4 380.6,690.3 389.5,690.3 395.7,682.1 391,672.7ZM374.7,754 381.4,765.1 386.1,766.5 390.7,765.3 390.7,752 382.3,749.6ZM349,696 335.1,704 335.7,706.1 341.3,717.4 352.4,714.9 357.3,700.2ZM333,657.1 331.3,655.7 330.9,655.6 327,653.6 316.9,660.4 318.8,667 319.7,670.1 320.4,671.7 334.6,667.6Z" fill="#F58A7F"/><path d="M460.3,543.9 453.7,558.6 454.8,566.7 465.9,576.7 473.7,567.8 486.1,569 494.8,578.8 499.9,578.2 511.5,572.4 510.1,551.5 503.7,546.6 495.2,544.4 493,544.8 491.9,545.6 467.2,547.9ZM440.8,586.7 438.4,583.6 429,593 418.7,591.3 410.1,600 419.1,614.3 416.8,617 419.9,629.4 436.7,629.4 436.7,620.2 435,614.9 448.8,608ZM368.3,655.1 372.6,642.4 362.6,637.4 362,637.7 348.2,641.6 347.2,643 347.4,644.2 358.8,653.4 362.5,653.4ZM367.6,768.4 367.6,758.3 355.3,754.8 351.1,757.1 351.7,758.2 358.3,768.4Z" fill="#6B8FCC"/><path d="M514.7,601.5 509.4,602 503.4,605.5 501.2,616.8 492.8,622.4 497.7,635.2 500.2,640.2 505.3,635.1 505.3,625.3 519.1,625.3 527,617.5 524,615.2 519.1,604.2ZM391.8,733.5 390.4,733 382.1,734.6 382.1,750.2 390.4,752.6 396.9,748.8ZM380.6,689.7 372.9,703.2 385.4,710.3 393.2,697.2 389.5,689.7ZM363.8,668.3 362.4,667.9 349.1,671.3 353.5,682.3 361.4,682.3Z" fill="#E8604F"/><path d="M322.2,636.2 322.5,633.4M322.5,633.4 309.4,629.1M312.2,642.2 322.2,636.2M367.3,795.8 358.9,793M367.3,807 367.3,795.8M322.2,636.2 326.9,642.1M326.9,642.1 335.5,642.1M335.5,642.1 338,641M338,641 334.5,632.1M334.5,632.1 323.3,632.1M323.3,632.1 322.5,633.4M323.3,632.1 323.3,625.1M323.3,625.1 309.4,619.5M313,645.1 325.7,645.1M325.7,645.1 326.9,642.1M386.8,380.3 382,356.4M358.2,394.6 386.8,380.3M323.3,625.1 334.3,614.1M334.3,614.1 334,612.9M334.3,614.1 335.2,615M335.2,615 347,620.2M347,620.2 359,604.2M359,604.2 341.6,599.9M314.7,650.1 324.7,650.1M324.7,650.1 325.7,645.1M324.7,650.1 327,653.9M327,653.9 330.8,655.8M331.1,655.9 335.5,642.1M334.5,632.1 335.3,630.1M335.3,630.1 335.2,615M317.8,660.1 327,653.9M337.6,682.6 339.2,670.4M339.2,670.4 334.3,667.4M334.3,667.4 321.1,671.2M329.4,687.8 337.6,682.6M319.6,666.5 330.8,655.8M334.3,667.4 332.7,657.3M332.7,657.3 331.1,655.9M332.7,657.3 343.4,653M343.4,653 344.9,651.6M344.9,651.6 347.7,644.1M347.7,644.1 347.5,643.1M347.5,643.1 338,641M347.5,643.1 348.4,641.9M348.4,641.9 348.3,630.1M348.3,630.1 335.3,630.1M355.3,755.1 356.1,752.3M356.1,752.3 353.4,741.5M353.4,741.5 345.6,739.9M352,756.9 355.3,755.1M342.1,716.9 352.1,714.7M352.1,714.7 356.9,700.3M356.9,700.3 349,696.4M349,696.4 336,703.8M349,696.4 347.8,687M347.8,687 337.6,682.6M343.4,653 343.2,669.1M343.2,669.1 345.9,669.1M345.9,669.1 351.6,661.4M351.6,661.4 344.9,651.6M339.2,670.4 343.2,669.1M348.3,630.1 349.8,624.1M349.8,624.1 347,620.2M349.8,624.1 364.3,624.1M364.3,624.1 368.9,619.5M368.9,619.5 373.3,613.2M373.3,613.2 368.3,602.6M368.3,602.6 359,604.2M351.6,661.4 355,660.7M355,660.7 358.9,653.1M358.9,653.1 347.7,644.1M347.8,687 353.7,682M353.7,682 349.5,671.5M349.5,671.5 345.9,669.1M358.9,653.1 362.5,653.1M362.5,653.1 362.1,638M362.1,638 348.4,641.9M362.1,638 362.6,637.7M362.6,637.7 364.3,626.4M364.3,626.4 364.3,624.1M374.9,483.5 367.4,468.1M367.4,468.1 357.6,468.1M368.9,491.3 374.9,483.5M360.7,583.5 351.4,567.3M340.8,588.5 360.7,583.5M367.4,468.1 384.1,457M384.1,457 375.9,447.2M375.9,447.2 358.6,444.7M368.3,602.6 370.4,593.6M370.4,593.6 367.7,586.4M367.7,586.4 360.7,583.5M349.5,671.5 362.4,668.3M362.4,668.3 355,660.7M356.9,700.3 362.2,699.3M362.2,699.3 364.3,684.7M364.3,684.7 361.2,682M361.2,682 353.7,682M354.3,730.1 363.3,721.1M363.3,721.1 352.1,714.7M347.6,730.1 354.3,730.1M356.1,752.3 367.3,741.1M367.3,741.1 367.3,739.4M367.3,739.4 358.2,737.9M358.2,737.9 353.4,741.5M358.2,737.9 354.3,730.1M368.9,619.5 378.4,639.6M378.4,639.6 385.2,622.2M385.2,622.2 384.2,617.1M384.2,617.1 373.3,613.2M361.2,682 363.4,668.5M363.4,668.5 362.4,668.3M363.3,721.1 366.1,721.1M366.1,721.1 370.4,703.9M370.4,703.9 362.2,699.3M362.6,637.7 372.2,642.5M372.2,642.5 378.4,640.2M378.4,639.8 364.3,626.4M363.4,668.5 372.1,664.2M372.1,664.2 372.6,661.9M372.6,661.9 368.1,654.7M368.1,654.7 362.5,653.1M367.3,739.4 373.4,731.3M373.4,731.3 371.7,726M371.7,726 366.1,721.1M359.1,768.1 367.3,768.1M367.3,768.1 367.3,758.5M367.3,758.5 355.3,755.1M367.3,758.5 373.8,753.9M373.8,753.9 367.3,741.1M368.1,654.7 372.2,642.5M364.3,684.7 375,683.3M375,683.3 377.6,673M377.6,673 372.1,664.2M371.7,726 387,713.8M387,713.8 385.3,709.9M385.3,709.9 373.3,703.1M373.3,703.1 370.4,703.9M373.8,753.9 375.1,754.1M375.1,754.1 382.4,749.9M382.4,749.9 382.4,734.9M382.4,734.9 373.4,731.3M381.4,794.8 372.9,791.2M372.9,791.2 367.3,795.8M381.4,809.1 381.4,794.8M372.9,791.2 371.9,783.2M371.9,783.2 359.2,781.1M359.1,780.5 367.3,768.1M374.8,533 378.7,522.2M378.7,522.2 362.3,508.5M363.6,534.8 374.8,533M367.7,586.4 373.6,575.7M373.6,575.7 367.1,558.3M367.1,558.3 361.3,556.4M367.1,558.3 383.5,551M383.5,551 381.8,540.8M381.8,540.8 374.8,533M371.9,783.2 374.8,779.1M374.8,779.1 372.6,771.6M372.6,771.6 367.3,768.1M372.6,771.6 381.6,764.9M381.6,764.9 375.1,754.1M373.3,703.1 380.8,690M380.8,690 375,683.3M394.4,792.7 386.7,791.8M386.7,791.8 381.4,794.8M394.4,806.3 394.4,792.7M386.7,791.8 384.4,780.1M384.4,780.1 382.9,779.1M382.9,779.1 374.8,779.1M378.7,522.2 389.9,515.5M389.9,515.5 390.5,513.4M390.5,513.4 384.7,501.8M384.7,501.8 369.1,495.5M375.9,447.2 383.2,429M383.2,429 358.9,413.8M374.9,483.5 387,476.8M387,476.8 387.5,472.6M387.5,472.6 386.3,458.1M386.3,458.1 384.1,457M372.6,661.9 374.2,661.1M374.2,661.1 383.9,648.4M383.9,648.4 381.2,641.9M381.2,641.9 378.4,640.2M421.5,353.1 424.9,373.1M424.9,373.1 429,374.7M429,374.7 436.9,382.6M436.9,382.6 446,381.4M446,381.4 462.8,357.9M407.3,346 421.5,353.1M386.3,458.1 394.8,455.3M394.8,455.3 406.8,435.3M406.8,435.3 392.7,425M392.7,425 383.2,429M381.2,641.9 387.7,639.3M387.7,639.3 394.1,634.6M394.1,634.6 393.6,632.9M393.6,632.9 385.2,622.2M384.2,617.1 392.5,613.6M392.5,613.6 397.5,598.7M397.5,598.7 391.2,591.5M391.2,591.5 370.4,593.6M377.6,673 390.9,673M390.9,673 393.5,666M393.5,666 393,664.6M393,664.6 389.4,661.1M389.4,661.1 374.2,661.1M373.6,575.7 378,574.2M378,574.2 390.6,566.1M390.6,566.1 392.7,557.7M392.7,557.7 383.5,551M391.2,591.5 393.2,585.6M393.2,585.6 378,574.2M392.7,425 394.2,406.1M394.2,406.1 359.1,406.1M381.8,540.8 397.9,532.8M397.9,532.8 399.8,528.6M399.8,528.6 389.9,515.5M394.2,406.1 395,405.1M395,405.1 391.8,384.2M391.8,384.2 386.8,380.3M382.9,779.1 386.1,766.2M386.1,766.2 381.6,764.9M384.7,501.8 396.8,487.3M396.8,487.3 387,476.8M389.4,661.1 389.3,651M389.3,651 383.9,648.4M385.3,709.9 392.9,697.1M392.9,697.1 389.4,690M389.4,690 380.8,690M382.4,734.9 390.4,733.3M390.4,733.3 390.4,715.6M390.4,715.6 387,713.8M392.7,557.7 398,556.2M398,556.2 403.1,548.4M403.1,548.4 397.9,532.8M406.8,435.3 421.5,433.6M421.5,433.6 419.7,408.5M419.7,408.5 413.4,405.1M413.4,405.1 395,405.1M389.4,690 395.4,682M395.4,682 390.9,673M386.1,766.2 390.4,765.1M390.4,765.1 390.4,752.2M390.4,752.2 382.4,749.9M448.4,768.1 437.4,764.4M437.4,764.4 430.4,770.3M430.4,770.3 430.4,773M455.2,774.9 448.4,768.1M396.5,791.4 394.4,792.7M408.3,794.8 396.5,791.4M387.5,472.6 411.4,472.5M411.4,472.5 411.4,464.5M411.4,464.5 394.8,455.3M393.2,585.6 397.5,579.1M397.5,579.1 390.6,566.1M389.3,651 396.6,648.6M396.6,648.6 387.7,639.3M393,664.6 401.9,651.2M401.9,651.2 401.5,647.9M401.5,647.9 396.6,648.6M390.4,715.6 401.4,714.4M401.4,714.4 401.4,700.8M401.4,700.8 392.9,697.1M384.4,780.1 396,777.8M396,777.8 396.4,775.1M396.4,775.1 391.7,765.8M391.7,765.8 390.4,765.1M390.4,752.2 396.6,748.7M396.6,748.7 391.6,733.8M391.6,733.8 390.4,733.3M401.5,647.9 404.2,643.7M404.2,643.7 404.9,642M404.9,642 404.6,641.5M404.6,641.5 394.1,634.6M393.6,632.9 406.4,619.8M406.4,619.8 392.5,613.6M397.5,598.7 405.6,597.9M405.6,597.9 408.9,581.5M408.9,581.5 406,579.1M406,579.1 397.5,579.1M390.5,513.4 408.7,505.3M408.7,505.3 405.7,488.7M405.7,488.7 396.8,487.3M391.7,765.8 403.1,761.2M403.1,761.2 401.1,749.7M401.1,749.7 396.6,748.7M396.5,791.4 397.9,781.1M397.9,781.1 396,777.8M399.8,528.6 414.3,527.1M414.3,527.1 424.7,515.5M424.7,515.5 408.7,505.3M413.4,405.1 413.4,378.3M413.4,378.3 391.8,384.2M393.5,666 405,666M405,666 406,663.1M406,663.1 406.7,659.2M406.7,659.2 401.9,651.2M406,579.1 411,564.3M411,564.3 398,556.2M397.9,781.1 414.1,781.1M414.1,781.1 410.8,767.9M410.8,767.9 396.4,775.1M401.4,700.8 408.2,696.9M408.2,696.9 406.1,682M406.1,682 395.4,682M404.6,641.5 408.2,620.1M408.2,620.1 406.4,619.8M391.6,733.8 403.7,730.8M403.7,730.8 405.4,717.1M405.4,717.1 401.4,714.4M406.7,659.2 412.4,657.8M412.4,657.8 413.9,653.6M413.9,653.6 404.2,643.7M406.1,682 412.4,677.1M412.4,677.1 405,666M405.7,488.7 413.5,482M413.5,482 411.4,472.5M403.1,548.4 416.1,543.5M416.1,543.5 414.3,527.1M410.8,767.9 411.1,766.6M411.1,766.6 403.1,761.2M401.1,749.7 404.4,748.1M404.4,748.1 408.7,735.1M408.7,735.1 403.7,730.8M413.4,378.3 416.1,375.8M416.1,375.8 397.2,356.9M416.1,375.8 424.9,373.1M424.7,515.5 425.6,515.4M425.6,515.4 429.4,511.9M429.4,511.9 429.4,490.3M429.4,490.3 417.9,482.7M417.9,482.7 413.5,482M411.4,464.5 419.1,459.3M419.1,459.3 426.7,440.3M426.7,440.3 424.6,435.6M424.6,435.6 421.5,433.6M408.2,620.1 417.2,617.1M417.2,617.1 419.4,614.4M419.4,614.4 410.5,600M410.5,600 405.6,597.9M404.9,642 408.2,641.6M408.2,641.6 420.9,635.3M420.9,635.3 420.1,629.1M420.1,629.1 417.2,617.1M405.4,717.1 410.2,716.1M410.2,716.1 421.1,703M421.1,703 419.9,701.3M419.9,701.3 408.2,696.9M406,663.1 418.7,663.1M418.7,663.1 418.5,661.8M418.5,661.8 412.4,657.8M412.4,677.1 418.2,676.7M418.2,676.7 420.3,671.7M420.3,671.7 420.8,669.2M420.8,669.2 418.7,663.1M408.7,735.1 415.4,735.1M415.4,735.1 420.7,724.5M420.7,724.5 410.2,716.1M411.1,766.6 411.7,766.1M411.7,766.1 416.4,752.1M416.4,752.1 404.4,748.1M408.9,581.5 415.1,582.3M415.1,582.3 425.7,575.2M425.7,575.2 417.5,563.6M417.5,563.6 411,564.3M417.9,482.7 431.3,469.1M431.3,469.1 419.1,459.3M417.5,563.6 419.6,560.3M419.6,560.3 416.9,544M416.9,544 416.1,543.5M415,782.1 414.1,781.1M430.4,770.3 425.4,766.1M425.4,766.1 411.7,766.1M419.7,408.5 434.6,399.9M434.6,399.9 436.9,382.6M425.4,766.1 425.4,747.6M425.4,747.6 416.4,752.1M535.6,300.5 551.2,291.8M523.8,290.8 535.6,300.5M569.3,307.1 573.4,308.2M558.3,293.3 569.3,307.1M416.9,544 436.4,544M436.4,544 440.4,540M440.4,540 425.6,515.4M410.5,600 418.8,591.7M418.8,591.7 415.1,582.3M413.9,653.6 419.8,651.6M419.8,651.6 417,647.5M417,647.5 408.2,641.6M417,647.5 425.4,638.7M425.4,638.6 420.9,635.3M419.9,701.3 422.8,681M422.8,681 418.2,676.7M419.4,614.4 426.7,612.4M426.7,612.4 429.1,593.4M429.1,593.4 418.8,591.7M418.5,661.8 423,652.9M423,652.9 419.8,651.6M425.4,747.6 426.6,746.3M426.6,746.3 415.4,735.1M420.1,629.1 436.4,629.1M436.4,629.1 436.4,620.2M436.4,620.2 434.7,614.7M434.7,614.7 426.7,612.4M420.7,724.5 425.1,723.4M425.1,723.4 429.6,718.9M429.6,718.9 426,704.6M426,704.6 421.1,703M423,652.9 425.4,652.2M425.4,652.2 425.4,638.7M420.8,669.2 434.8,657.3M434.8,657.3 434.9,656.2M434.9,656.2 425.4,652.2M429.1,593.4 438.4,584.1M438.4,584.1 438.4,581.4M438.4,581.4 437.7,579.6M437.7,579.6 436.5,578.1M436.5,578.1 425.7,575.2M509,373.3 522.9,374.7M522.9,374.7 521.7,354.3M521.7,354.3 517.2,349.9M495.8,358.5 509,373.3M424.6,435.6 452.1,419M452.1,419 450.5,412.6M450.5,412.6 434.6,399.9M431.3,469.1 433.4,469.1M433.4,469.1 448,454.5M448,454.5 426.7,440.3M419.6,560.3 434.1,555.5M434.1,555.5 436.4,544M425.4,638.6 437.4,637M437.4,637 436.4,629.1M426,704.6 434.6,701.2M434.6,701.2 438.6,685.3M438.6,685.3 437,683.1M437,683.1 422.8,681M436.5,578.1 438.1,563.4M438.1,563.4 434.1,555.5M426.6,746.3 432.4,745M432.4,745 432.4,738.1M432.4,738.1 425.1,723.4M420.3,671.7 438,668.1M438,668.1 436.8,663.1M436.8,663.1 434.8,657.3M429.4,490.3 439.4,484.8M439.4,484.8 439.9,482.3M439.9,482.3 433.4,469.1M438.1,563.4 454,558.6M454,558.6 460.4,544.3M460.4,544.3 457.9,540M457.9,540 440.4,540M434.9,656.2 436.2,655.1M436.2,655.1 438.7,638M438.7,638 437.4,637M437.4,764.4 437.4,746.8M437.4,746.8 432.4,745M432.4,738.1 440.6,721.6M440.6,721.6 429.6,718.9M457.9,540 460.7,532.1M460.7,532.1 448,509.2M448,509.2 429.4,511.9M434.7,614.7 448.4,607.8M448.4,607.8 440.6,586.9M440.6,586.9 438.4,584.1M438.7,638 452.3,638M452.4,637.6 452.4,628.4M452.4,628.4 436.4,620.2M437,683.1 440.7,672.7M440.7,672.7 438,668.1M448,454.5 451.3,454.9M451.3,454.9 453.8,452.1M453.8,452.1 459.2,439.1M459.2,439.1 456.4,422.1M456.4,422.1 452.1,419M448,509.2 450.4,506.2M450.4,506.2 450.4,492.6M450.4,492.6 439.4,484.8M437.7,579.6 455.1,566.5M455.1,566.5 454,558.6M436.2,655.1 447.3,655.1M447.3,655.1 452.4,642.7M452.4,642.7 452.4,638.2M436.8,663.1 451.7,663.1M451.7,663.1 452.5,660.2M452.5,660.2 447.3,655.1M460.4,771.1 460.4,748.1M460.4,748.1 460,746M460,746 452.4,744M452.4,744 451,744.1M451,744.1 448.4,745.2M448.4,745.2 448.4,768.1M439.9,482.3 456.7,468.7M456.7,468.7 456.9,466.1M456.9,466.1 451.3,454.9M440.6,721.6 441.9,721.4M441.9,721.4 444.5,719.1M444.5,719.1 442.5,705.1M442.5,705.1 434.6,701.2M437.4,746.8 448.4,745.2M451,744.1 441.9,721.4M529,320.6 536,303.1M536,303.1 535.6,300.5M516.2,321.6 529,320.6M440.7,672.7 450.7,669.8M450.7,669.8 451.7,663.1M452.4,628.4 458.6,614.6M458.6,614.6 455.2,609M455.2,609 448.4,607.8M473.7,761.4 460.4,748.1M450.4,492.6 462.7,483.8M462.7,483.8 456.7,468.7M456.4,422.1 473.9,419.2M473.9,419.2 480.2,411.3M480.2,411.3 481.4,403.3M481.4,403.3 461.2,398.3M461.2,398.3 459.2,388M459.2,388 446,381.4M455.1,566.5 465.9,576.2M465.9,576.2 473.6,567.5M473.6,567.5 467.1,548.2M467.1,548.2 460.4,544.3M438.6,685.3 452.4,688.4M452.4,688.4 460.7,682.9M460.7,682.9 459.6,677.2M459.6,677.2 450.7,669.8M440.6,586.9 465.4,593.1M465.4,593.1 467.7,586.1M467.7,586.1 465.4,579.1M465.4,579.1 438.4,581.4M442.5,705.1 452.4,700.9M452.4,700.9 452.4,688.4M452.4,638.2 469.2,643M469.2,643 472,624.7M472,624.7 452.4,637.6M452.5,660.2 462.4,657.4M462.4,657.4 452.4,642.7M444.5,719.1 455.4,719.1M455.4,719.1 459.2,705.8M459.2,705.8 452.4,700.9M452.4,744 457.1,720.7M457.1,720.7 455.4,719.1M481.4,403.3 489.1,394.1M489.1,394.1 477.4,376.6M477.4,376.6 477.4,363M467.1,548.2 492,545.9M492,545.9 493.1,545.1M493.1,545.1 482,528.4M482,528.4 468.2,526.6M468.2,526.6 460.7,532.1M459.6,677.2 468,664.7M468,664.7 462.8,657.4M450.4,506.2 469.2,504.2M469.2,504.2 471.5,492.6M471.5,492.6 464.7,484.7M464.7,484.7 462.7,483.8M465.4,579.1 465.9,576.2M455.2,609 465.4,595.9M465.4,595.9 465.4,593.1M453.8,452.1 479.3,452.1M479.3,452.1 482.1,448.9M482.1,448.9 479.2,439.1M479.2,439.1 459.2,439.1M468.2,526.6 473.7,510M473.7,510 469.2,504.2M472,624.7 472.4,624.1M472.4,624.1 467.4,619.1M467.4,619.1 458.6,614.6M459.2,705.8 462.6,705M462.6,705 469.8,687M469.8,687 460.7,682.9M462.2,745 460,746M479,749.2 462.2,745M479.2,439.1 481.3,433.9M481.3,433.9 473.9,419.2M462.8,657.4 470,646.7M470,646.7 470.5,645.4M470.5,645.4 470.2,644.4M470.2,644.4 469.2,643M467.4,619.1 478,603.2M478,603.2 465.4,595.9M469.8,687 473,687M473,687 477.3,665.7M477.3,665.7 468,664.7M457.1,720.7 467.3,723.3M467.3,723.3 473.5,710.8M473.5,710.8 472.5,709.3M472.5,709.3 462.6,705M456.9,466.1 477.5,466.1M477.5,466.1 479.3,452.1M462.2,745 471.5,730.1M471.5,730.1 467.3,723.3M477.3,665.7 479.5,664.8M479.5,664.8 470,646.7M464.7,484.7 482.1,471.4M482.1,471.4 477.5,466.1M467.7,586.1 489.4,586.1M489.4,586.1 494.9,578.5M494.9,578.5 486.3,568.7M486.3,568.7 473.6,567.5M478,603.2 483.5,603.8M483.5,603.8 489.4,598.6M489.4,598.6 489.4,586.1M479.5,664.8 486.1,663.6M486.1,663.6 480.1,648.6M480.1,648.6 470.5,645.4M489.1,394.1 493.4,394.1M493.4,394.1 507.2,403.3M507.2,403.3 522.8,387.7M522.8,387.7 524.4,378.3M524.4,378.3 524,375.5M524,375.5 522.9,374.7M482.1,448.9 499.8,452.4M505,435.4 497.9,429.7M497.9,429.7 481.3,433.9M471.5,492.6 494.8,487.4M496.4,477.9 482.1,471.4M497.9,429.7 496.4,422.1M496.4,422.1 480.2,411.3M473.7,510 495.7,510M472.4,624.1 480.7,624.1M480.7,624.1 485.7,621.3M485.7,621.3 483.5,603.8M472.5,709.3 480.2,690M480.2,690 473,687M480.2,690 492.1,690M487.7,664 486.1,663.6M470.2,644.4 482.4,636.4M482.4,636.4 482.4,635.1M482.4,635.1 480.7,624.1M471.5,730.1 483.7,730.1M489.1,714.7 473.5,710.8M532.3,597.7 518.9,604.4M518.9,604.4 523.8,615.4M523.8,615.4 526,617.1M540.4,600.7 532.3,597.7M482.4,635.1 498,635.1M498,635.1 493.2,622.6M493.2,622.6 485.7,621.3M480.1,648.6 487.4,643M487.4,643 482.4,636.4M523.8,615.4 508.9,621.3M508.9,621.3 509.9,624.4M482,528.4 496.1,510.7M486.3,568.7 492,545.9M487.4,643 494.1,644M500,639.1 498,635.1M493.1,545.1 495.2,544.7M495.2,544.7 499.3,516M493.2,622.6 501.4,617M501.4,617 503.7,605.7M503.7,605.7 489.4,598.6M495.2,544.7 503.5,546.8M503.5,546.8 515,523.9M508.9,621.3 501.4,617M496.4,422.1 507.9,404.9M507.9,404.9 507.2,403.3M494.9,578.5 499.8,577.9M499.8,577.9 511.2,572.2M511.2,572.2 509.8,551.6M509.8,551.6 503.5,546.8M503.7,605.7 509.5,602.3M509.5,602.3 499.8,577.9M518.9,413.6 507.9,404.9M509.5,602.3 514.7,601.8M514.7,601.8 521.7,577.1M521.7,577.1 511.2,572.2M509.8,551.6 528.8,545.3M518.9,604.4 514.7,601.8M521.7,577.1 523.7,577.1M523.7,577.1 537,561.9M542.8,392.1 524.4,378.3M532.3,597.7 526.1,579M526.1,579 523.7,577.1M524,375.5 532.3,372.3M532.3,372.3 543.6,357.2M543.6,357.2 538.4,348.7M538.4,348.7 521.7,354.3M538.4,348.7 538.4,337.9M538.4,337.9 540.9,332.5M540.9,332.5 529,320.6M543.6,357.2 548.4,358.1M548.4,358.1 562.3,371.9M571.7,349.1 562.1,344.4M562.1,344.4 558,336.2M558,336.2 546.6,331M546.6,331 540.9,332.5M526.1,579 552.5,585.6" fill="none" stroke="#5e5e5e" stroke-width="0.9"/></g><use href="#swe" fill="none" stroke="#5a5a5a" stroke-width="1"/></g><g transform="translate(-0.8,704)"><g clip-path="url(#cl)"><use href="#swe" fill="#FFA77F"/><path d="M451.2,90 592.2,90 580.1,136.7 575.1,148.4 570.1,158.5 565,170.6 561,179.1 551.9,176.6 539.8,172.6 523.7,164.5 507.6,160.1 491.5,160.5 480.4,155.5 471.3,140.4Z" fill="#730000" stroke="#6e6e6e" stroke-width="0.9"/><path d="M451.2,150.4 471.3,140.4 480.4,155.5 491.5,160.5 507.6,160.1 523.7,164.5 539.8,172.6 551.9,176.6 561,179.1 561.6,188.7 567.6,199.8 571.7,208.9 567,214.9 570.5,227.4 552.9,235.5 543.9,218.9 531.8,210.9 519.7,198.8 507.6,190.7 497.5,184.3 485.4,174.6 471.3,167 459.2,160.9Z" fill="#730000" stroke="#6e6e6e" stroke-width="0.9"/><path d="M439.1,190.7 443.1,174.6 459.2,160.9 471.3,167 485.4,174.6 497.5,184.3 507.6,190.7 519.7,198.8 531.8,210.9 543.9,218.9 552.9,235.5 541.9,233.5 535.8,249.2 531.8,257.2 519.7,251.2 505.6,247.2 502.6,239.1 499.5,229 483.4,221 471.3,214.9 461.3,206.9 450.8,198.8Z" fill="#E60000" stroke="#6e6e6e" stroke-width="0.9"/><path d="M414.9,231 431,210.9 450.8,198.8 461.3,206.9 471.3,214.9 483.4,221 499.5,229 502.6,239.1 505.6,247.2 498.5,255.2 497.5,267.3 493.9,276.4 493.9,284.4 479.4,272.3 467.3,266.3 451.2,258.2 435.1,251.2 419,249.2Z" fill="#E60000" stroke="#6e6e6e" stroke-width="0.9"/><path d="M580.1,136.7 612.4,120.2 612.4,198.8 592.2,198.8 593.2,210.9 586.2,207.9 571.7,208.9 567.6,199.8 561.6,188.7 561,179.1 565,170.6 570.1,158.5 575.1,148.4Z" fill="#FFA77F" stroke="#6e6e6e" stroke-width="0.9"/><path d="M590.8,197.1 611,197.1 611,236.4 605.9,237.4 598.9,243.5 594.8,238.4 591.8,225.3 588.8,213.2 594.8,211.2Z" fill="#FFA77F" stroke="#6e6e6e" stroke-width="0.9"/><path d="M568.7,208.2 574.7,209.2 588.8,213.2 591.8,225.3 594.8,238.4 589.8,239.4 585.8,237.4 577.7,240.4 570.7,234.4 566.6,228.4 569.7,225.3 566.6,214.3Z" fill="#FFBEBE" stroke="#6e6e6e" stroke-width="0.9"/><path d="M547.5,232.4 554.5,235.4 566.6,228.4 570.7,235.4 568.7,245.5 567.6,251.5 571.7,256.6 568.7,263.6 558.6,268.1 545.5,256.6 535.9,252 539.9,242.5 542.5,236.4Z" fill="#FFA77F" stroke="#6e6e6e" stroke-width="0.9"/><path d="M535.9,252 545.5,256.6 558.6,268.1 554.5,275.7 550.5,275.7 542.5,271.7 535.4,272.7 532.4,261.6Z" fill="#FFA77F" stroke="#6e6e6e" stroke-width="0.9"/><path d="M570.7,235.4 577.7,240.4 580.7,245.5 584.8,258.6 590.8,264.6 597.9,280.7 604.9,295.8 590.8,300.9 578.7,295.8 575.7,290 568.7,280.7 558.6,268.1 568.7,263.6 571.7,256.6 567.6,251.5 568.7,245.5Z" fill="#FF7F7F" stroke="#6e6e6e" stroke-width="0.9"/><path d="M577.7,240.4 585.8,237.4 589.8,239.4 594.8,238.4 598.9,243.5 604.9,252.5 606.9,265.6 612,276.2 600.9,281.7 597.9,280.7 590.8,264.6 584.8,258.6 580.7,245.5Z" fill="#FFA77F" stroke="#6e6e6e" stroke-width="0.9"/><path d="M598.9,243.5 605.9,237.4 610,240.4 615,250.5 618,260.6 617,270.7 612,276.2 606.9,265.6 604.9,252.5Z" fill="#FFA77F" stroke="#6e6e6e" stroke-width="0.9"/><path d="M493.1,276.3 496.7,271.4 496.7,264.2 497.9,256.9 503.9,252.1 508.2,246.5 518.3,251.5 527.3,252.5 532.4,256.6 532.4,261.6 535.4,272.7 532.4,276.7 526.9,285.9 518.4,296.8 506.4,288.4 494.3,281.1Z" fill="#FF7F7F" stroke="#6e6e6e" stroke-width="0.9"/><path d="M524.3,280.7 532.4,276.7 542.5,271.7 550.5,275.7 554.5,275.7 558.6,268.1 568.6,280.7 575,289 580,296 590,300 576,302 574,306 568,300 558.9,292.8 544.8,289.8 532.7,286.8 524.6,285.8Z" fill="#FFA77F" stroke="#6e6e6e" stroke-width="0.9"/><path d="M425.4,250.6 435.5,240.6 446.8,247.4 456.5,254.7 465.3,259.5 481.4,274.8 493.5,279.6 494.3,284.5 491.1,294.1 487.9,303 477.4,295.8 466.9,290.9 458.9,282.9 457.2,278 447.6,274 437.1,267.5 430.6,259.5Z" fill="#FFA77F" stroke="#6e6e6e" stroke-width="0.9"/><path d="M505,625 565,625 565,740 505,740 500,725 495.6,705 495.6,690 498,675 505,660Z" fill="#FFA77F" stroke="#6e6e6e" stroke-width="0.9"/><path d="M405,250 425.4,250.6 430.6,259.5 437.1,267.5 447.6,274 457.2,278 458.9,282.9 466.9,290.9 477.4,295.8 487.9,303 487.2,311.7 480.8,321.3 477.5,319.2 469,313.8 458.2,307.4 452.8,298.8 447.5,291.3 442.1,288 426,287 405,286Z" fill="#FF7F7F" stroke="#6e6e6e" stroke-width="0.9"/><path d="M405,286 426,287 442.1,288 447.5,291.3 452.8,298.8 458.2,307.4 469,313.8 477.5,319.2 480.8,321.3 484,331 479.7,334.2 467.9,340.7 461.4,337.5 453.9,333.2 448.5,326.7 443.2,320.3 434.6,314.9 426,311.7 419.5,309.5 411.5,303.1 405,303Z" fill="#FF7F7F" stroke="#6e6e6e" stroke-width="0.9"/><path d="M419.5,309.5 426,311.7 434.6,314.9 443.2,320.3 448.5,326.7 453.9,333.2 461.4,337.5 467.9,340.7 462.5,341.8 467.7,360.9 458.2,353.6 448.5,345 441,337.5 438.9,332.1 432.4,324.6 426,319.2Z" fill="#FF7F7F" stroke="#6e6e6e" stroke-width="0.9"/><path d="M461.6,341.5 474.9,335.5 485.8,333.1 496.7,337.9 508.8,352.4 496.7,357.3 487,363.3 474.9,362.1 467.7,360.9Z" fill="#FFA77F" stroke="#6e6e6e" stroke-width="0.9"/><path d="M493.1,295.6 506.4,305.9 517.2,315 514.8,324.6 513.6,336.7 517.2,352.4 508.8,352.4 496.7,337.9 485.8,333.1 484,331 480.8,321.3 487.2,311.7 487.9,303 489.4,302.9Z" fill="#FF7F7F" stroke="#6e6e6e" stroke-width="0.9"/><path d="M494.3,281.1 506.4,288.4 518.4,296.8 506.4,305.9 493.1,295.6 489.4,302.9 493.1,290.8Z" fill="#FF7F7F" stroke="#6e6e6e" stroke-width="0.9"/><path d="M592.4,201.4 592,201.5 592.8,210.3 586.2,207.5 570.4,208.6 570.3,208.9 574.6,209.6 588.8,213.7 595.3,211.5Z" fill="#FFA77F"/><path d="M532,256.8 532,263.5 532.1,263.5 536.3,252.2 540.3,242.6 542.8,236.7 546.3,233.9 541.6,233 535.4,249 531.7,256.5Z" fill="#E60000"/><path d="M618.4,260 614.4,245.9 610.3,237.7 608.5,236.5 605,237.2 609.6,240.7 614.6,250.7 618.1,262.4 618.2,262.4Z" fill="#FFA77F"/><path d="M498,257.4 504.2,252.4 508,247.4 505.5,246.7 498.1,255Z" fill="#FF7F7F"/><path d="M494.3,284.6 493.9,284.5 490.7,294 487.3,303.4 489.7,303.3 493.5,290.9Z" fill="#FFA77F"/><path d="M535,272.6 531.1,277.8 542.5,272.1 550.4,276.1 552.2,276.1 542.5,271.3 535.7,272.2 534,265.8 533.2,266Z" fill="#FFA77F"/><path d="M486.5,333.3 484.1,330.5 479.5,333.9 477.1,335.2 477.1,335.4Z" fill="#FFA77F"/><path d="M415.6,249.7 415.6,250.7 425.6,251 426.8,249.7 419.7,248.9Z" fill="#FF7F7F"/><path d="M567.2,228.5 566.4,228.8 570.4,235.7 579.1,241.9 579.5,241.4 571,234.1Z" fill="#FFBEBE"/><path d="M476.6,270.5 476.5,270.7 481.2,275.1 484.9,276.6 485,276.5 479.6,272Z" fill="#FFA77F"/><path d="M518.2,251.9 522.8,252.4 522.8,252.3 519.8,250.8 513.1,248.9 512.9,249.3Z" fill="#FF7F7F"/><path d="M562,231.5 561.7,231 552.8,235.1 554.6,235.9Z" fill="#FFA77F"/><path d="M497.1,267.4 497.1,267.4 493.8,275.5 494.1,275.7 497.1,271.5Z" fill="#FF7F7F"/><path d="M493.8,277.5 493.5,277.5 493.5,282.1 494,285 494.2,285 494.7,281.1Z" fill="#E60000"/><path d="M605.8,276 605.3,275.4 599,280.7 597.1,280.1 597.8,281.6 596.2,283 596.7,283.6Z" fill="#FFA77F"/><path d="M559,292.5 544.9,289.5 532.8,286.5 526.6,285.7 522.9,290.5 518.2,296.6 505.9,305.9 516.9,315.1 515.3,321.5 514.5,324.5 513.3,336.7 516.3,349.9 527.5,361.1 521.4,376.2 510.6,375.2 495.2,357.9 486.9,363 476.6,362 476.6,376.7 488.2,394.1 478.1,406.2 477.2,413.2 475.1,416.9 480.2,429.6 489.8,434.4 490.8,436.5 501.9,444.5 504.3,438.1 508.3,432.2 509.6,429.4 512.3,424.2 518.2,416.2 522.2,410.2 528.2,402.2 536.2,398.3 544.2,392.2 556.2,378.2 568.2,368.2 570,365.8 556.5,363.4 541.2,353.2 541.2,337.4 542.4,334.4 545.3,333 558.6,335.5 571.3,353.2 572.3,350.1 574.3,344.1 580.3,336.1 581.3,326 578.3,317.9 574.3,308 576.8,300.7 576.4,300.5 573.9,305.5 568.2,299.8ZM528.3,527.8 522.1,525.7 512.1,521.7 505.9,518.6 502.7,529.4 508.5,546.7 506.7,552.8 504.1,552.8 490.6,573 494.8,581.4 503.8,580.1 514.5,572 510.6,556.6 530.1,551 529.3,540 528.6,531.2ZM365.8,373.8 360.7,379.9 359.7,391.9 355.7,395.9 358.2,406.2 358.7,408 358,413.9 382.6,429.3 392.2,425.4 406.3,435.6 421,433.9 423.8,435.8 425.9,440.3 418.2,459.4 430.3,469.1 416.9,482.7 428.6,490.5 428.6,511.8 425,515.1 424.3,515.2 408.2,505 389.8,513.2 389.1,515.5 398.9,528.6 397.1,532.7 402.5,548.8 415.6,543.9 416.3,544.3 438,544.3 441.1,542.3 452.6,543.5 457.2,541.3 460.5,532.1 447.8,509.3 450.1,506.5 468.6,504.5 473.1,510.3 496.2,510.3 496.8,510.1 494.3,505.9 495.3,490 495.8,487.2 497.3,478.1 498.9,470 498.3,469.7 483.4,469.8 457,459.9 455.2,455.4 460.5,448.1 456.4,423.2 450.4,419.7 447.7,410.4 434.4,399.7 436.7,382.9 445.7,381.7 463.2,357.1 458.4,353.4 448.7,344.8 441.3,337.3 439.2,331.9 432.6,324.4 426.2,319 419.7,309.3 411.6,302.8 410.2,302.8 405.7,309.9 401.7,319.9 397.6,328 404.7,336.1 406.7,347.9 404.7,351.6 401.8,356.7 388,354.7 381.4,355.5 379.9,355.7 371.8,363.8ZM446.5,608.4 430.4,614.2 431.5,618 431.7,618.5 434.8,635.9 431.6,638.7 431.6,654.5 433.4,655.3 444.5,652.8 448.9,645.2 449.6,643.5 462.5,640.2 464.7,642.1 462.6,658.7 462.6,659.3 471.7,662.3 475.8,666.4 488.2,666.4 489.2,660.9 489.3,660.1 493.3,650.1 494.8,644.7 489.7,643.6 478,648.3 470.1,642 480.1,634.1 481.8,620.5 481.1,619.9 462.8,639.2 462.1,636.2 464.6,620 455.9,613.2 454.8,610.9ZM455.7,580.1 459,587.5 465.7,592.8 474.4,585.2 471.9,567.8 457.7,571.3ZM416.7,563.5 430.9,581.9 432.6,580.3 436.9,571.7 456.1,569.3 451.7,552.9 436.9,570.2 432.1,555.7 418.9,560.1ZM381.6,626.2 376.6,633 376.6,639.9 380.8,641.7 383.3,650.6 388.9,653.4 385.9,666.2 391.1,669.2 401,661.3 402.7,661.3 402.9,661.4 411.3,657.2 406.1,642.2 414.6,640.3 417.7,636.1 416.2,630.2 406.2,622.1 403.8,617.2 393.4,636.9 392.3,636.5 390.9,632.3 395.5,612.8 381.6,613.6ZM360.3,748.9 361,755.5 368.8,757.7 372.9,768.1 384.2,764.3 383.6,762.4 373.5,754.9 380.3,744.7 378.1,742.8 363.6,742.8 361.8,738.2 347.6,735.3 347.7,735.9 343.7,740.9 344.5,745.7ZM345.7,567.8 345.3,570.1 355.6,576.3 357.6,584.3 363.6,587.9 356.9,607.8 370.4,614 377.7,612.3 379,592.3 371,586.1 375.4,575 365.3,560.7 365,559 360.5,555.7 359.7,559.9 353.8,565.7ZM340.3,611 337.8,613.6 333.8,634.8 323.4,634.8 321.1,636.7 309.9,636.7 311.7,644.1 312.4,646.2 314.8,653.4 321.7,653.4 321.3,669.5 330.2,667.3 330,651.2 335.8,649.4 340.6,646.3 341.4,644.5 354.9,641.1 356.5,639.2 357,637.6 362.2,633.3 363.6,628.6 344.5,615.7 342.6,611.7ZM343.3,672.1 355.4,670.4 353.3,657.7 348.9,656.5 340.5,665 338.9,669.9Z" fill="#FFA77F"/><path d="M462.8,544.3 457,540.8 452.2,543 451.3,553.5 455.5,569.2 457.8,571.9 471.4,568.5 473.7,585 465.7,592 459.5,587.2 456.2,579.8 432.3,579.8 430.6,581.3 430,583 430,583.3 442.6,594.1 446.3,608.9 454.7,611.5 466.1,596.9 480.9,606.2 489.3,599.9 492.2,594.4 492.2,585.2 495.3,581.1 491.2,572.9 483.3,565 488.7,548.7 487.5,546.8ZM391.2,792.6 383.8,790.8 379.3,793.1 372.9,792.4 370.9,793.8 358,792.8 356.7,796 359.8,804.2 368.5,808.6 369.9,809.3 380,810.3 382.6,809.8 390.1,808.3 391.2,808ZM357.1,766.6 358.7,769.1 357.7,778 358.4,781.8 370.2,779.9 372.1,777 371.4,770.9ZM371.2,644.9 363.1,642.2 356.1,638.7 354.4,640.8 359.1,654 364.1,654.9 367.6,655.8ZM338.1,606.9 337.7,607.8 332.1,613.4 330.2,607.7 325.9,606.7 321.9,609.7 311.8,613.8 309.8,617.8 307.7,619.9 328.3,619.9 338.3,614 340.8,611.4Z" fill="#FFEBBE"/><path d="M524.8,575.3 527,579.5 526.5,582.7 531.6,597.9 541,601.4 552.3,590.2 553.3,585.9 554.3,581.9 548.2,573.8 540.2,563.8 530.3,553.9 530,550.4 509.9,556.2 513.9,572.1ZM496.6,357 494.7,358.2 510.4,375.8 521.8,376.8 528.2,360.9 516.1,348.8 516.8,352.1 508.7,352.1ZM487,547.2 488,548.8 482.6,565.1 491,573.5 504.4,553.4 507.2,553.4 509.1,546.7 503.4,529.4 506.5,518.9 502.6,517 485.2,534.4 488.1,541.1ZM489.1,599.3 480.6,605.7 480.6,619.8 464,619.8 461.5,636.3 462.4,640.4 481.1,620.7 481.3,620.9 495,623.2 501.5,615.7 501.8,614.1ZM454.5,455.3 456.6,460.3 483.3,470.4 498.9,470.3 481.1,449.5 469.4,445.6 460,447.8ZM477.9,649 490.3,644 480.1,633.8 479.8,633.6 469.2,642ZM477.2,362 474.9,361.8 467.8,360.6 462.8,356.7 445.3,381.1 436.1,382.3 433.8,400 447.2,410.7 449.9,420.1 456.1,423.7 475.6,417.2 477.8,413.4 478.7,406.4 488.9,394.1 477.2,376.5ZM447.1,509.2 460.1,532.6 468,526.8 473.6,510 468.8,503.8 449.7,506ZM431.6,556 436.6,571.1 436.5,571.1 431.9,580.4 456.3,580.4 458.2,571.5 455.9,568.7 436.9,571.1 451.9,553.6 452.8,543 441,541.6 437.7,543.8ZM361.7,530.1 362.7,534.9 363.7,540 361.7,549.9 360.4,556.4 364.4,559.3 364.7,561 374.7,575 370.2,586.3 378.6,592.8 389.7,591.3 395.3,612.8 394.9,612.9 390.3,632.3 391.9,637 393.7,637.6 403.7,618.5 405.7,622.5 415.7,630.5 417.1,635.9 414.2,639.7 405.3,641.7 410.7,657.3 422.5,657.3 422.9,656.9 432.2,654.5 432.2,638.9 435.4,636.1 432.3,618.3 432,617.7 431.1,614.6 446.9,608.9 443.1,593.7 430.2,582.7 429.5,584.3 409,599.6 401.1,584 398.2,583.5 389.4,570.3 392.5,557.6 383.3,550.8 381.6,540.7 374.7,532.9 378.6,522.1 361.4,507.8 357.7,508.8 359.7,520.1ZM407.2,797.3 398.4,789.7 390.6,792.7 390.6,808.2 398.2,806.3 404.2,800.2ZM354.7,762.8 357.6,767.4 370.8,771.4 371.5,776.9 369.7,779.6 372.7,793 379.4,793.7 384.2,791.3 384.2,779.1 389.3,774.8 387,765.3 383.9,763.8 373.3,767.3 369.2,757.2 361.6,755 360.8,748.4 344.4,745.1 344.7,747.1 351.7,758.2ZM339.7,590 340.7,600 337.8,607.6 340.2,611.6 342.1,612.2 344.1,616.1 362.9,628.8 361.7,633 356.5,637.3 355.8,639.2 362.9,642.7 370.4,645.3 367.2,655 364.3,654.3 359.6,653.4 355,640.5 341,644 340,646.1 348.9,657.1 352.7,658.2 354.7,670.3 359.4,673.3 371.1,664.9 369.8,658.4 382.2,652.2 383.9,650.5 381.2,641.3 377.2,639.5 377.2,633.2 382.2,626.4 382.2,613.7 377.5,611.7 370.5,613.3 357.7,607.5 364.3,587.6 358.1,583.9 356.1,575.9 345.4,569.5 344.7,573.9 340.7,579.9 339.9,588.5ZM321.3,637.3 323.7,635.4 334.3,635.4 338.5,613.2 328.1,619.3 308.3,619.3 307.7,619.9 308.3,627.1 308.7,632 310,637.3Z" fill="#FFBEBE"/><path d="M571.5,352.5 558.9,334.9 545.3,332.4 541.9,334 540.6,337.3 540.6,353.5 556.2,363.9 569.6,366.3 571.3,364.1 570.3,356ZM498.8,470.6 499.3,468 500.3,456 501.3,446.1 502.1,443.9 491.2,436.1 490.3,434 480.6,429.1 475.6,416.5 455.8,423.2 460,448.4 469.3,446.2 480.7,450 498.1,470.3ZM456.6,541.2 462.6,544.9 487.5,547.4 488.7,541.1 485.8,534.3 481.8,528.4 496.8,509.7 473,509.7 467.5,526.5 459.9,531.9ZM443.9,652.6 454.7,663.3 455.4,664 453.8,670 461,683 462.3,683.1 469.5,681.2 486.5,689.7 492.4,688.9 489.3,683.9 487.3,672 488.3,665.8 476,665.8 472,661.7 463.2,658.8 463.2,658.7 465.4,641.9 462.7,639.5 449.1,643 448.4,645ZM449.9,733.2 444.6,749.1 457.9,755 456.2,764.5 459.5,772.8 460.2,772.3 468.2,768.2 476.3,760.2 477.3,757.2 480.3,748.1 482.2,736.5 476.8,734.1 470.5,721.6 458.9,720.3 452.8,732.6ZM455.4,613.6 464.1,620.4 481.2,620.4 481.2,605.7 465.9,596.1 454.3,611.1ZM424,707.2 425,707.9 429.2,708.6 437.9,703.7 451.6,708.3 455.2,704.2 455.2,688.8 439.7,686.8 437.7,689.2 421.5,689.2ZM426.4,763.9 431.8,773.4 432,773.3 433.9,774.8 440.2,767.4 440.2,749.6 434.1,747.4 433,747.6 428.3,746.2 420.1,748.2 412.7,759.3ZM382.7,428.7 358,413.2 357.7,416 356.7,428 357.7,438 357.7,445 375.2,447.5 383.4,457.2 385.6,458.3 386.6,472.1 386.3,476.8 396.5,487.1 404.8,488.4 407.9,505.5 424.2,515.8 425.2,515.7 429.2,512 429.2,490.2 417.9,482.6 431.2,469 418.9,459.2 426.5,440.3 424.3,435.4 421.1,433.2 406.4,435 392.3,424.7ZM430.6,583.2 430.6,583.1 431.2,581.4 417.2,563.2 410.5,564.2 405.2,581.3 400.6,584.1 408.8,600.5 430,584.7ZM395.5,759.3 386.4,765.4 388.7,774.5 383.6,778.8 383.6,791.3 390.9,793.2 398.3,790.4 406.7,797.7 412.2,792.2 415.3,786.1 416.3,780.2 417.9,779.4 415.4,777.7 410.7,761.3 403.7,762.8ZM328.3,687.8 329.7,690.1 332.7,696.1 334.7,702.8 348.5,696.9 357.1,702.3 357.8,703.9 365.7,707.8 367.5,723.5 365.3,724.8 360.2,724.2 346.5,729.7 346.7,730.1 347.7,736 361.4,738.7 363.1,743.4 377.9,743.4 379.8,745 383.3,745.8 388.6,744.9 390.6,742.2 393.6,730.4 399.3,727.9 410.9,730.2 412.2,729.2 408.5,706.9 405.9,705.3 410,689 403.6,681.7 394.1,681.7 392.5,688.4 395.5,706.8 394.4,707 385.4,712.6 372.4,704.9 377.4,696.2 373.6,686.2 365.6,685.4 360.2,680 347.3,686.5 346.3,685.7 331.1,685.7ZM377.9,522.3 374,533 381,541 382.7,551.2 392.1,558 397.6,556.4 403,548.4 397.8,532.8 399.6,528.6 389.8,515.4 390.4,513.4 384.4,501.5 368.2,495 368.7,505.8 360.7,508ZM369.1,658 370.5,665 375.7,667.9 381.7,666.4 386.4,666.4 389.6,653.1 383.5,650.1 381.8,651.7ZM329.6,667.2 336.4,670.6 339.5,670 341,665.4 349.4,656.8 340.4,645.7 335.6,648.9 329.4,650.7ZM322.3,652.8 314.6,652.8 315.7,656.1 319.8,670.4 321.9,669.3Z" fill="#FF7F7F"/><path d="M518.2,604.6 523,615.6 526.3,618.1 528.2,616.2 536.2,606.2 541.5,601 532.1,597.4 527,582.1 513.6,597.3 513.6,601.9ZM494.6,645.3 495.3,643.2 500.2,640.2 502.7,637.8 500.7,633.9 495.1,622.6 481.2,620.3 479.5,634.1 479.7,634.3 489.6,644.2ZM433.3,718 425.3,728.7 436.6,733.3 442.7,729.2 441.8,722.2ZM437,664.7 436.6,663 433.7,654.7 431.9,654 422.5,656.4 422.1,656.9 420.8,664 419.7,670.6 423.1,674.3ZM390.1,590.6 378.4,592.2 377.2,612.2 381.8,614.2 395.2,613.4 396,613.2ZM371.1,794.4 373.3,792.8 370.2,779.3 358.3,781.2 359.7,789 357.8,793.4ZM328.6,688.3 331.3,686.3 346.1,686.3 347.3,687.2 360.5,680.5 359.7,672.7 355.1,669.8 343.4,671.5 339.3,669.4 336.4,670 329.9,666.7 321.5,668.9 319.6,669.8 319.7,670.1 323.7,680.1Z" fill="#730000"/><path d="M514.1,571.5 503.3,579.7 513.9,598 527.1,582.8 527.6,579.4 525.2,574.8ZM501.2,614.1 501,615.4 494.5,622.8 500.2,634.2 502.2,638.2 505.3,635.1 505.3,625.3 519.1,625.3 526.8,617.7 523.5,615.2 518.6,604.2 514,601.4 509.7,603.1ZM400.8,660.7 391,668.5 386.3,665.8 381.6,665.8 375.4,667.3 377.5,681.9 373,686.4 376.8,696.5 380.5,697 393,688.6 394.6,682.3 403.4,682.3 409.3,689.1 405.2,705.6 407.9,707.2 411.6,729.4 416.8,728.6 421.5,730 425.9,728.9 433.5,718.7 441.3,722.6 442.1,728.9 436.3,732.8 433.8,747.9 439.9,750.1 445.2,749.2 450.3,733.7 453.2,733.1 459.3,721 470.1,722.2 476.3,734.6 482.1,737.1 482.3,736.1 486.3,726.1 494.3,702 494.3,691.9 492,688.3 486.6,689.1 469.6,680.5 462.3,682.5 461.4,682.5 454.4,669.9 456.1,663.7 455.1,662.9 444.4,652.2 433,654.7 436,663.2 436.4,664.7 440.7,673.2 437.9,677.6 439.6,687.4 454.6,689.3 454.6,703.9 451.4,707.6 437.9,703.1 429.1,708 425.2,707.3 424.6,706.9 422.1,689.4 421.6,688.9 424.5,675.4 423.4,673.7 420.4,670.4 421.4,664.1 422.7,656.7 410.9,656.7 402.9,660.8 402.8,660.7ZM394.5,751.4 388.6,744.3 383.1,745.3 383.1,762.6 383.6,764.3 386.7,765.9 395.5,760 403.6,763.5 410.6,761.9 412.4,759.7 405.7,748.6ZM393.1,730 390,742.4 406.8,742.4 410.3,738.3 411.1,729.6 399.2,727.2ZM397.5,555.9 392,557.4 388.7,570.4 397.8,584.1 401,584.5 405.7,581.7 411.1,564.3ZM356.7,470 357.7,474.1 367.7,486.1 368,491.5 368.2,495.7 384,502 389.9,513.8 408.5,505.5 405.3,487.9 396.8,486.5 386.9,476.6 387.2,472.1 386.1,457.9 383.7,456.7 375.6,446.9 357.7,444.4 357.7,446 356.7,460ZM335.7,706.1 341.7,718.1 346.8,730.2 360.3,724.8 365.5,725.5 368.1,723.9 366.3,707.5 358.2,703.4 357.6,701.9 348.6,696.3 334.6,702.3Z" fill="#FF5500"/><path d="M514.2,601.9 514.2,597.4 503.8,579.5 494.8,580.8 491.6,585 491.6,594.5 509.9,603.6ZM422.8,673.8 424,675.8 438.4,678 441.3,673.3 436.8,664.1ZM411.8,759.4 410.1,761.6 414.9,778.1 417.2,779.7 424.1,776.3 432.4,773.2 426.9,763.4 413.1,758.9ZM373.5,686.8 378.2,682.1 376.1,667.4 370.8,664.4 359.1,672.8 359.9,680.5 365.4,686Z" fill="#A80000"/><path d="M488.7,599.7 501.5,614.7 510.3,603.2 491.8,593.9ZM496.5,509.6 496,509.8 481.1,528.3 485.5,534.9 503.2,517.2 500.2,515.8ZM439.6,767.2 433.4,774.4 435.9,776.3 444,779.3 452.1,778.3 460,772.4 456.8,764.5 458.6,754.6 445,748.6 439.6,749.6ZM438.5,677.4 423.9,675.2 420.9,689.1 421.7,689.8 438,689.8 440.1,687.2ZM419.3,560.6 432.1,556.3 438.4,543.7 416.5,543.7 415.6,543.2 402.5,548.1 397,556.3 410.6,564.8 417.3,563.8ZM416.8,727.9 411.8,728.8 410.5,729.7 409.7,738 406.6,741.8 390.2,741.8 388.1,744.6 394.3,752 405.4,749.3 411.9,760 413.3,759.4 420.5,748.7 428.2,746.8 432.9,748.2 434.4,748 436.9,732.8 425.8,728.3 421.5,729.4ZM376.9,695.9 371.6,705.1 385.4,713.3 394.6,707.6 396.2,707.3 393,687.9 380.3,696.4ZM383.7,763.2 383.7,745.3 379.8,744.4 372.7,755Z" fill="#E60000"/><path d="M322,653.1 329.6,650.9M329.6,650.9 326.6,646.1M326.6,646.1 313.3,646.1M315.7,653.1 322,653.1M329.7,650.9 335.7,649.2M335.7,649.2 340.3,646.1M340.3,646.1 341.2,644.2M341.2,644.2 341,643.8M341,643.8 334.1,635.1M334.1,635.1 323.6,635.1M323.6,635.1 321.2,637M321.2,637 326.6,646.1M328.2,619.6 338.1,613.8M338.1,613.8 340.4,611.3M340.4,611.3 338.6,608.2M309.2,619.6 328.2,619.6M340.4,611.3 342.4,611.9M342.4,611.9 357.3,607.7M357.3,607.7 364,587.7M364,587.7 357.8,584.1M357.8,584.1 340.8,588.3M334.1,635.1 338.1,613.8M328.2,619.6 325.2,627.1M325.2,627.1 323.6,635.1M325.2,627.1 309.2,627.1M310.9,637 321.2,637M322,653.1 321.6,669.1M321.6,669.1 329.9,667.1M329.9,667.1 329.7,650.9M371,794.1 358.9,793.2M368.7,807.7 371,794.1M320.5,669.7 321.6,669.1M329.2,687.5 331.2,686M331.2,686 336.4,670.3M336.4,670.3 329.9,667.1M361.3,755.2 360.6,748.6M360.6,748.6 345.4,745.6M355.4,762.2 361.3,755.2M331.2,686 346.2,686M346.2,686 343.4,671.8M343.4,671.8 339.3,669.7M339.3,669.7 336.4,670.3M341,643.8 346.3,623.8M346.3,623.8 344.3,615.9M344.3,615.9 342.4,611.9M339.3,669.7 340.8,665.2M340.8,665.2 335.7,649.2M340.8,665.2 349,656.8M349,656.8 340.3,646.1M349,656.8 353,657.9M353,657.9 359.3,653.7M359.3,653.7 354.8,640.8M354.8,640.8 341.2,644.2M343.4,671.8 355,670.1M355,670.1 353,657.9M346.2,686 347.3,686.8M347.3,686.8 360.2,680.4M360.2,680.4 359.4,672.9M359.4,672.9 355,670.1M349.6,713.8 358,703.6M358,703.6 357.3,702.1M357.3,702.1 348.5,696.6M348.5,696.6 335.5,702.2M342,716.6 349.6,713.8M348.5,696.6 347.3,686.8M354.8,640.8 356.2,639M356.2,639 356.7,637.5M356.7,637.5 346.3,623.8M357.3,702.1 365.5,685.7M365.5,685.7 360.2,680.4M355.8,576.1 346.2,570.3M357.8,584.1 355.8,576.1M364,587.7 370.6,586.2M370.6,586.2 375.1,575M375.1,575 365,560.8M365,560.8 355.8,576.1M374.4,483.5 366.9,468.1M366.9,468.1 357.6,468.1M368.8,490.7 374.4,483.5M356.7,637.5 361.9,633.1M361.9,633.1 363.2,628.7M363.2,628.7 344.3,615.9M359.4,672.9 370.8,664.8M370.8,664.8 369.5,658.2M369.5,658.2 367.4,655.4M367.4,655.4 364.2,654.6M364.2,654.6 359.3,653.7M363.2,628.7 367.9,624M367.9,624 370.5,613.6M370.5,613.6 357.3,607.7M358.7,767.4 371.1,771.1M371.1,771.1 373.1,767.7M373.1,767.7 369,757.4M369,757.4 361.3,755.2M347.5,729.6 360.3,724.5M360.3,724.5 349.6,713.8M360.6,748.6 363.3,743.1M363.3,743.1 361.6,738.4M361.6,738.4 348.6,735.8M374.3,533 378.2,522.2M378.2,522.2 361.9,508.6M363.6,534.8 374.3,533M365,560.8 364.7,559.1M364.7,559.1 361.3,556.7M366.9,468.1 383.6,457M383.6,457 375.4,447.2M375.4,447.2 358.6,444.8M369,757.4 373.1,754.9M373.1,754.9 379.9,744.8M379.9,744.8 378,743.1M378,743.1 363.3,743.1M364.2,654.6 363,642.4M363,642.4 356.2,639M365.5,685.7 373.4,686.5M373.4,686.5 377.9,682M377.9,682 375.8,667.5M375.8,667.5 370.8,664.8M360.3,724.5 365.4,725.1M365.4,725.1 367.8,723.7M367.8,723.7 366,707.6M366,707.6 358,703.6M361.6,738.4 365.4,725.1M378,743.1 375.5,725.8M375.5,725.8 367.8,723.7M366,707.6 372,705M372,705 377,696.2M377,696.2 373.4,686.5M370.5,613.6 377.5,612M377.5,612 378.6,592.5M378.6,592.5 370.6,586.2M367.4,655.4 370.8,645.1M370.8,645.1 363,642.4M370.8,645.1 375.9,640M375.9,640 361.9,633.1M370,779.7 371.8,776.9M371.8,776.9 371.1,771.1M359.2,781.3 370,779.7M371,794.1 373,792.7M373,792.7 370,779.7M364.7,559.1 383,551M383,551 381.3,540.8M381.3,540.8 374.3,533M375.9,640 376.9,639.7M376.9,639.7 376.9,633.1M376.9,633.1 367.9,624M373,792.7 379.3,793.4M379.3,793.4 383.9,791.1M383.9,791.1 383.9,778.9M383.9,778.9 371.8,776.9M373.1,767.7 383.9,764.1M383.9,764.1 383.4,762.6M383.4,762.6 373.1,754.9M378.2,522.2 389.4,515.5M389.4,515.5 390,513.4M390,513.4 384.2,501.8M384.2,501.8 369.1,495.7M386.3,380.3 381.5,356.4M358.7,394.1 386.3,380.3M383.6,457 385.8,458.1M385.8,458.1 394.3,455.3M394.3,455.3 406.3,435.3M406.3,435.3 392.2,425M392.2,425 382.7,429M382.7,429 358.8,414.1M374.4,483.5 386.6,476.7M386.6,476.7 386.9,472.1M386.9,472.1 385.8,458.1M375.1,575 389,570.3M389,570.3 392.2,557.7M392.2,557.7 383,551M383.9,778.9 389,774.7M389,774.7 386.7,765.5M386.7,765.5 383.9,764.1M375.5,725.8 381.5,723.4M381.5,723.4 385.4,713M385.4,713 372,705M369.5,658.2 382,651.9M382,651.9 383.5,650.4M383.5,650.4 381,641.5M381,641.5 376.9,639.7M415,358.5 420.3,371.5M420.3,371.5 428.5,374.7M428.5,374.7 436.4,382.6M436.4,382.6 445.5,381.4M445.5,381.4 462.5,357.6M405.4,352.1 415,358.5M393.7,406.1 394.5,405.1M394.5,405.1 391.3,384.2M391.3,384.2 386.3,380.3M359.1,406.1 393.7,406.1M381.3,540.8 397.4,532.8M397.4,532.8 399.3,528.6M399.3,528.6 389.4,515.5M378.6,592.5 389.9,590.9M389.9,590.9 398,583.8M398,583.8 389,570.3M376.9,633.1 381.9,626.3M381.9,626.3 381.9,613.9M381.9,613.9 377.5,612M385.4,713 394.5,707.3M394.5,707.3 380.4,696.7M380.4,696.7 377,696.2M392.2,425 393.7,406.1M384.2,501.8 396.7,486.8M396.7,486.8 386.6,476.7M375.8,667.5 381.7,666.1M381.7,666.1 382,651.9M381,641.5 392.1,636.8M392.1,636.8 390.6,632.3M390.6,632.3 381.9,626.3M379.9,744.8 383.4,745.5M383.4,745.5 388.5,744.6M388.5,744.6 390.4,742.1M390.4,742.1 393.3,730.2M393.3,730.2 381.5,723.4M383.4,762.6 383.4,745.5M382.4,808.9 379.3,793.4M383.9,791.1 390.9,792.9M390.9,792.9 398.3,790.1M398.3,790.1 399.4,780.2M399.4,780.2 397.7,777.9M397.7,777.9 389,774.7M390.9,807.2 390.9,792.9M380.4,696.7 392.8,688.4M392.8,688.4 394.4,682M394.4,682 377.9,682M406.3,435.3 421,433.6M421,433.6 419.2,408.5M419.2,408.5 412.9,405.1M412.9,405.1 394.5,405.1M381.9,613.9 395.2,613.1M395.2,613.1 395.7,613M395.7,613 389.9,590.9M386.7,765.5 395.5,759.7M395.5,759.7 394.4,751.7M394.4,751.7 388.5,744.6M394.4,682 391.1,668.9M391.1,668.9 386.2,666.1M386.2,666.1 381.7,666.1M426.2,440.3 424.1,435.6M424.1,435.6 421,433.6M386.9,472.1 410.9,472M410.9,472 410.9,464.5M410.9,464.5 418.6,459.3M418.6,459.3 426.2,440.3M392.2,557.7 397.5,556.2M397.5,556.2 402.6,548.4M402.6,548.4 397.4,532.8M386.2,666.1 389.2,653.3M389.2,653.3 383.5,650.4M390.6,632.3 395.2,613.1M389.2,653.3 392.6,652.8M392.6,652.8 399.6,641.1M399.6,641.1 393.6,637.2M393.6,637.2 392.1,636.8M391.1,668.9 400.9,661M400.9,661 392.6,652.8M393.3,730.2 399.3,727.6M399.3,727.6 395.9,707.1M395.9,707.1 394.5,707.3M395.9,707.1 392.8,688.4M406.3,796.9 398.3,790.1M399.4,780.2 415.1,777.9M415.1,777.9 410.5,761.6M410.5,761.6 403.7,763.1M403.7,763.1 397.7,777.9M395.9,707.1 405.5,705.4M405.5,705.4 409.6,689M409.6,689 403.5,682M403.5,682 394.4,682M393.6,637.2 403.7,617.9M403.7,617.9 402.4,613.4M402.4,613.4 395.7,613M398,583.8 400.9,584.2M400.9,584.2 405.5,581.5M405.5,581.5 410.7,564.5M410.7,564.5 397.5,556.2M390,513.4 408.2,505.3M408.2,505.3 405.1,488.1M405.1,488.1 396.7,486.8M403.5,682 408.9,673.3M408.9,673.3 404.4,664.1M404.4,664.1 402.9,661.1M402.7,661 400.9,661M399.3,528.6 413.8,527.1M413.8,527.1 424.2,515.5M424.2,515.5 408.2,505.3M412.9,405.1 412.9,378.3M412.9,378.3 391.3,384.2M402.4,613.4 408.9,608.6M408.9,608.6 408.9,600.1M408.9,600.1 400.9,584.2M403.7,763.1 395.5,759.7M390.4,742.1 406.7,742.1M406.7,742.1 410,738.2M410,738.2 410.8,729.9M410.8,729.9 399.3,727.6M394.4,751.7 405.6,748.9M405.6,748.9 406.7,742.1M399.6,641.1 401.5,641.1M401.5,641.1 406,622.3M406,622.3 403.7,617.9M405.1,488.1 412.6,482M412.6,482 410.9,472M402.7,661 403,641.7M403,641.7 401.5,641.1M416.7,779 415.1,777.9M402.6,548.4 415.6,543.5M415.6,543.5 413.8,527.1M412.9,378.3 420.3,371.5M424.2,515.5 425.1,515.4M425.1,515.4 428.9,511.9M428.9,511.9 428.9,490.3M428.9,490.3 417.4,482.7M417.4,482.7 412.6,482M402.9,661.1 411,657M411,657 405.7,641.9M405.7,641.9 403,641.7M406,622.3 416,630.4M416,630.4 428.5,613.4M428.5,613.4 426.3,611.5M426.3,611.5 408.9,608.6M410.8,729.9 411.9,729.1M411.9,729.1 408.2,707.1M408.2,707.1 405.5,705.4M405.6,748.9 412,759.6M412,759.6 413.1,759.2M413.1,759.2 420.3,748.5M420.3,748.5 410,738.2M410.5,761.6 412,759.6M404.4,664.1 421.1,664.1M421.1,664.1 422.4,657M422.4,657 411,657M405.7,641.9 414.4,640M414.4,640 417.4,636M417.4,636 416,630.4M417.4,482.7 430.8,469.1M430.8,469.1 418.6,459.3M422.4,657 422.7,656.7M422.7,656.7 414.4,640M410.7,564.5 417.1,563.5M417.1,563.5 419.1,560.3M419.1,560.3 416.4,544M416.4,544 415.6,543.5M416.4,544 437.9,544M437.9,544 441,542M441,542 425.1,515.4M419.2,408.5 434.1,399.9M434.1,399.9 436.4,382.6M409.6,689 421.3,689M421.3,689 424.2,675.5M424.2,675.5 423.2,673.9M423.2,673.9 420.1,670.5M420.1,670.5 408.9,673.3M408.9,600.1 429.7,584.5M429.7,584.5 430.3,583.2M430.3,583.1 405.5,581.5M420.1,670.5 421.1,664.1M426.6,763.7 413.1,759.2M431.7,772.5 426.6,763.7M456.5,764.5 439.9,767.3M439.9,767.3 434.2,773.9M459.4,771.7 456.5,764.5M439.9,767.3 439.9,749.8M439.9,749.8 434.1,747.7M434.1,747.7 433,747.9M433,747.9 426.6,763.7M535.1,300.5 548.8,292.9M548.8,292.9 567,308M567,308 573.4,308M523.6,291 535.1,300.5M430.3,583.1 430.9,581.4M430.9,581.4 417.1,563.5M417.4,636 422.2,636M422.2,636 431.8,617.9M431.8,617.9 430.8,614.4M430.8,614.4 428.5,613.4M426.3,611.5 429.7,584.5M420.3,748.5 428.2,746.5M428.2,746.5 421.5,729.7M421.5,729.7 416.8,728.3M416.8,728.3 411.9,729.1M422.7,656.7 431.9,654.3M431.9,654.3 431.9,638.8M431.9,638.8 422.2,636M408.2,707.1 424.3,707.1M424.3,707.1 421.8,689.5M421.8,689.5 421.3,689M423.2,673.9 436.7,664.6M436.7,664.6 436.3,663.1M436.3,663.1 433.4,654.9M433.4,654.9 431.9,654.3M430.8,614.4 446.5,608.7M446.5,608.7 442.9,593.9M442.9,593.9 430.3,583.2M416.8,728.3 425.1,707.6M425.1,707.6 424.3,707.1M419.1,560.3 431.9,556.1M431.9,556.1 437.9,544M510.5,375.5 521.6,376.5M521.6,376.5 527.9,361M527.9,361 517.4,350.5M495.5,358.7 510.5,375.5M424.1,435.6 450.1,419.9M450.1,419.9 447.4,410.5M447.4,410.5 434.1,399.9M430.8,469.1 432.9,469.1M432.9,469.1 447.5,454.5M447.5,454.5 426.2,440.3M430.9,581.4 432.4,580.1M432.4,580.1 436.7,571.4M436.7,571.4 436.8,570.8M436.8,570.8 431.9,556.1M421.5,729.7 425.7,728.6M425.7,728.6 433.4,718.3M433.4,718.3 429.1,708.3M429.1,708.3 425.1,707.6M433,747.9 428.2,746.5M428.9,490.3 438.9,484.8M438.9,484.8 439.4,482.3M439.4,482.3 432.9,469.1M421.8,689.5 437.9,689.5M437.9,689.5 439.8,687.2M439.8,687.2 438.2,677.7M438.2,677.7 424.2,675.5M442.9,593.9 459.2,587.3M459.2,587.3 456,580.1M456,580.1 432.4,580.1M431.9,638.8 435.1,636M435.1,636 432,618.4M432,618.4 431.8,617.9M456.5,764.5 458.2,754.8M458.2,754.8 445,748.9M445,748.9 439.9,749.8M429.1,708.3 437.9,703.4M437.9,703.4 437.9,689.5M434.1,747.7 436.6,733M436.6,733 425.7,728.6M441,542 452.5,543.2M452.5,543.2 457,541.1M457,541.1 460.2,532.1M460.2,532.1 447.5,509.2M447.5,509.2 428.9,511.9M436.8,570.8 451.6,553.5M451.6,553.5 452.5,543.2M432,618.4 447.1,628.6M447.1,628.6 448.6,627.6M448.6,627.6 455.6,613.4M455.6,613.4 454.6,611.2M454.6,611.2 446.5,608.7M439.4,482.3 456.2,468.7M456.2,468.7 456.8,460.1M456.8,460.1 454.9,455.3M454.9,455.3 447.5,454.5M447.5,509.2 449.9,506.2M449.9,506.2 449.9,492.6M449.9,492.6 438.9,484.8M454.9,455.3 460.2,448M460.2,448 456.1,423.4M456.1,423.4 450.1,419.9M433.4,654.9 444.3,652.5M444.3,652.5 448.6,645.1M448.6,645.1 449.3,643.2M449.3,643.2 443.4,636M443.4,636 435.1,636M439.8,687.2 454.9,689M454.9,689 461.2,682.8M461.2,682.8 454.1,670M454.1,670 441,673.3M441,673.3 438.2,677.7M441,673.3 436.7,664.6M433.4,718.3 441.6,722.4M441.6,722.4 451.8,712.1M451.8,712.1 451.5,707.9M451.5,707.9 437.9,703.4M436.6,733 442.4,729.1M442.4,729.1 441.6,722.4M443.4,636 447.1,628.6M528.5,320.6 535.5,303.1M535.5,303.1 535.1,300.5M516.2,321.5 528.5,320.6M454.1,670 455.8,663.9M455.8,663.9 454.9,663.1M454.9,663.1 436.3,663.1M445,748.9 450.1,733.5M450.1,733.5 442.4,729.1M436.7,571.4 455.7,569M455.7,569 451.6,553.5M454.9,663.1 444.3,652.5M456,580.1 457.9,571.6M457.9,571.6 455.7,569M449.9,492.6 462.2,483.8M462.2,483.8 456.2,468.7M456.1,423.4 475.4,416.9M475.4,416.9 477.5,413.3M477.5,413.3 478.4,406.3M478.4,406.3 460.6,397.4M460.6,397.4 458.7,388M458.7,388 445.5,381.4M450.1,733.5 453,732.8M453,732.8 459.1,720.6M459.1,720.6 451.8,712.1M449.3,643.2 462.6,639.9M462.6,639.8 461.8,636.3M461.8,636.3 448.6,627.6M454.6,611.2 466,596.5M466,596.5 465.7,592.4M465.7,592.4 459.2,587.3M451.5,707.9 454.9,704.1M454.9,704.1 454.9,689M457.9,571.6 471.6,568.1M471.6,568.1 472.4,567.2M472.4,567.2 462.7,544.6M462.7,544.6 457,541.1M478.4,406.3 488.6,394.1M488.6,394.1 476.9,376.6M476.9,376.6 476.9,362.9M449.9,506.2 468.7,504.2M468.7,504.2 471,492.6M471,492.6 464.2,484.7M464.2,484.7 462.2,483.8M459.1,720.6 470.3,721.9M470.3,721.9 475.1,711.1M475.1,711.1 472.3,704.1M472.3,704.1 454.9,704.1M460.2,532.1 467.7,526.6M467.7,526.6 473.2,510M473.2,510 468.7,504.2M455.8,663.9 462.9,659M462.9,658.7 448.6,645.1M465.7,592.4 474.1,585.1M474.1,585.1 471.6,568.1M458.3,754.8 463.8,740M463.8,740 453,732.8M476.4,757 458.3,754.8M456.8,460.1 483.4,470.1M483.4,470.1 498,470M498,469.8 480.9,449.8M480.9,449.8 469.3,445.9M469.3,445.9 460.2,448M455.6,613.4 464.3,620.1M464.3,620.1 480.9,620.1M480.9,620.1 480.9,605.8M480.9,605.8 466,596.5M461.8,636.3 464.3,620.1M461.2,682.8 462.3,682.8M462.3,682.8 469.6,680.9M469.6,680.9 475.9,666.1M475.9,666.1 471.9,662M471.9,662 462.9,659M462.9,658.7 465,642M465,642 462.6,639.9M472.3,704.1 472.6,703.4M472.6,703.4 462.3,682.8M464.2,484.7 483.4,470.1M462.6,639.8 481.1,620.3M463.8,740 476.6,734.3M476.6,734.3 470.3,721.9M469.3,445.9 480.4,429.4M480.4,429.4 475.4,416.9M462.7,544.6 487.3,547.1M487.3,547.1 488.4,541.1M488.4,541.1 485.5,534.4M485.5,534.4 481.5,528.4M481.5,528.4 467.7,526.6M481.3,736.4 476.6,734.3M489.7,712.9 475.1,711.1M471,492.6 494.8,487.3M471.9,662 477.9,650.2M477.9,650.2 477.9,648.7M477.9,648.7 469.7,642M469.7,642 465,642M491.2,688.7 486.6,689.4M486.6,689.4 472.6,703.4M531.8,597.7 518.4,604.4M518.4,604.4 523.3,615.4M523.3,615.4 525.8,617.3M540.3,600.8 531.8,597.7M488.6,394.1 491.9,394.1M491.9,394.1 510.5,375.5M480.9,605.8 489.1,599.7M489.1,599.7 491.9,594.3M491.9,594.3 491.9,585.1M491.9,585.1 474.1,585.1M480.4,429.4 490.1,434.2M490.1,434.2 498.3,423.8M498.3,423.8 497.4,419.9M497.4,419.9 477.5,413.3M469.7,642 479.8,634M479.8,634 481.5,620.6M472.4,567.2 482.9,565.1M482.9,565.1 488.4,548.7M488.4,548.7 487.3,547.1M473.2,510 495.7,510M481.5,620.6 494.9,622.9M494.9,622.9 501.2,615.5M501.2,615.5 501.5,614.2M501.5,614.2 489.1,599.7M486.6,689.4 469.6,680.9M491.9,585.1 494.9,581.1M494.9,581.1 490.9,573.1M490.9,573.1 482.9,565.1M477.9,648.7 489.7,643.9M489.7,643.9 479.9,634.1M475.9,666.1 487.4,666.1M488.3,660.3 477.9,650.2M480.9,449.8 491,436.3M491,436.3 490.1,434.2M488.4,541.1 503,529.4M503,529.4 506,519.6M502.2,517.8 485.5,534.4M481.5,528.4 495.9,510.3M501.2,443.6 491,436.3M491.9,594.3 509.9,603.3M509.9,603.3 513.9,601.7M513.9,601.7 513.9,597.4M513.9,597.4 503.7,579.8M503.7,579.8 494.9,581.1M479.9,634.1 500.5,634.1M500.5,634.1 494.9,622.9M493.9,644.8 489.7,643.9M502,637.1 500.5,634.1M488.4,548.7 504.3,553.1M504.3,553.1 506.9,553.1M506.9,553.1 508.8,546.7M508.8,546.7 503,529.4M501.2,615.5 512,619.9M512,619.9 523.3,615.4M518.4,604.4 513.9,601.7M509.9,603.3 501.5,614.2M512,619.9 511.9,624.4M508.8,429 498.3,423.8M497.4,419.9 506.7,405.9M506.7,405.9 491.9,394.1M490.9,573.1 504.3,553.1M508.8,546.7 527.7,531.6M503.7,579.8 514.1,571.8M514.1,571.8 510.3,556.4M510.3,556.4 506.9,553.1M518.7,413.9 509.1,406.3M509.1,406.3 506.7,405.9M510.3,556.4 529.2,551M513.9,597.4 526.8,582.7M526.8,582.7 527.3,579.4M527.3,579.4 525,575.1M525,575.1 514.1,571.8M533.4,386.6 525.5,381.8M525.5,381.8 509.1,406.3M539.3,394.8 533.4,386.6M525.5,381.8 521.6,376.5M531.8,597.7 526.8,582.7M525,575.1 536.7,561.6M533.4,386.6 556.4,363.7M556.4,363.7 540.9,353.4M540.9,353.4 527.9,361M540.9,337.4 540.9,353.4M556.4,363.7 568.9,365.9M570.7,351.9 558.8,335.2M558.8,335.2 545.3,332.7M545.3,332.7 542.1,334.2M542.1,334.2 540.9,337.4M542.1,334.2 528.5,320.6M527.3,579.4 552.5,585.7" fill="none" stroke="#6e6e6e" stroke-width="0.9"/></g><use href="#swe" fill="none" stroke="#6e6e6e" stroke-width="1"/></g><g transform="translate(279.2,703)"><g clip-path="url(#cl)"><use href="#swe" fill="#FF7F7F"/><path d="M451.2,90 592.2,90 580.1,136.7 575.1,148.4 570.1,158.5 565,170.6 561,179.1 551.9,176.6 539.8,172.6 523.7,164.5 507.6,160.1 491.5,160.5 480.4,155.5 471.3,140.4Z" fill="#FF7F7F" stroke="#6e6e6e" stroke-width="0.9"/><path d="M451.2,150.4 471.3,140.4 480.4,155.5 491.5,160.5 507.6,160.1 523.7,164.5 539.8,172.6 551.9,176.6 561,179.1 561.6,188.7 567.6,199.8 571.7,208.9 567,214.9 570.5,227.4 552.9,235.5 543.9,218.9 531.8,210.9 519.7,198.8 507.6,190.7 497.5,184.3 485.4,174.6 471.3,167 459.2,160.9Z" fill="#FF7F7F" stroke="#6e6e6e" stroke-width="0.9"/><path d="M439.1,190.7 443.1,174.6 459.2,160.9 471.3,167 485.4,174.6 497.5,184.3 507.6,190.7 519.7,198.8 531.8,210.9 543.9,218.9 552.9,235.5 541.9,233.5 535.8,249.2 531.8,257.2 519.7,251.2 505.6,247.2 502.6,239.1 499.5,229 483.4,221 471.3,214.9 461.3,206.9 450.8,198.8Z" fill="#FF7F7F" stroke="#6e6e6e" stroke-width="0.9"/><path d="M414.9,231 431,210.9 450.8,198.8 461.3,206.9 471.3,214.9 483.4,221 499.5,229 502.6,239.1 505.6,247.2 498.5,255.2 497.5,267.3 493.9,276.4 493.9,284.4 479.4,272.3 467.3,266.3 451.2,258.2 435.1,251.2 419,249.2Z" fill="#FF7F7F" stroke="#6e6e6e" stroke-width="0.9"/><path d="M580.1,136.7 612.4,120.2 612.4,198.8 592.2,198.8 593.2,210.9 586.2,207.9 571.7,208.9 567.6,199.8 561.6,188.7 561,179.1 565,170.6 570.1,158.5 575.1,148.4Z" fill="#FF7F7F" stroke="#6e6e6e" stroke-width="0.9"/><path d="M590.8,197.1 611,197.1 611,236.4 605.9,237.4 598.9,243.5 594.8,238.4 591.8,225.3 588.8,213.2 594.8,211.2Z" fill="#FF7F7F" stroke="#6e6e6e" stroke-width="0.9"/><path d="M568.7,208.2 574.7,209.2 588.8,213.2 591.8,225.3 594.8,238.4 589.8,239.4 585.8,237.4 577.7,240.4 570.7,234.4 566.6,228.4 569.7,225.3 566.6,214.3Z" fill="#FF7F7F" stroke="#6e6e6e" stroke-width="0.9"/><path d="M547.5,232.4 554.5,235.4 566.6,228.4 570.7,235.4 568.7,245.5 567.6,251.5 571.7,256.6 568.7,263.6 558.6,268.1 545.5,256.6 535.9,252 539.9,242.5 542.5,236.4Z" fill="#FF7F7F" stroke="#6e6e6e" stroke-width="0.9"/><path d="M535.9,252 545.5,256.6 558.6,268.1 554.5,275.7 550.5,275.7 542.5,271.7 535.4,272.7 532.4,261.6Z" fill="#FF7F7F" stroke="#6e6e6e" stroke-width="0.9"/><path d="M570.7,235.4 577.7,240.4 580.7,245.5 584.8,258.6 590.8,264.6 597.9,280.7 604.9,295.8 590.8,300.9 578.7,295.8 575.7,290 568.7,280.7 558.6,268.1 568.7,263.6 571.7,256.6 567.6,251.5 568.7,245.5Z" fill="#FF7F7F" stroke="#6e6e6e" stroke-width="0.9"/><path d="M577.7,240.4 585.8,237.4 589.8,239.4 594.8,238.4 598.9,243.5 604.9,252.5 606.9,265.6 612,276.2 600.9,281.7 597.9,280.7 590.8,264.6 584.8,258.6 580.7,245.5Z" fill="#FF7F7F" stroke="#6e6e6e" stroke-width="0.9"/><path d="M598.9,243.5 605.9,237.4 610,240.4 615,250.5 618,260.6 617,270.7 612,276.2 606.9,265.6 604.9,252.5Z" fill="#FF7F7F" stroke="#6e6e6e" stroke-width="0.9"/><path d="M493.1,276.3 496.7,271.4 496.7,264.2 497.9,256.9 503.9,252.1 508.2,246.5 518.3,251.5 527.3,252.5 532.4,256.6 532.4,261.6 535.4,272.7 532.4,276.7 526.9,285.9 518.4,296.8 506.4,288.4 494.3,281.1Z" fill="#FFA77F" stroke="#6e6e6e" stroke-width="0.9"/><path d="M524.3,280.7 532.4,276.7 542.5,271.7 550.5,275.7 554.5,275.7 558.6,268.1 568.6,280.7 575,289 580,296 590,300 576,302 574,306 568,300 558.9,292.8 544.8,289.8 532.7,286.8 524.6,285.8Z" fill="#FF7F7F" stroke="#6e6e6e" stroke-width="0.9"/><path d="M425.4,250.6 435.5,240.6 446.8,247.4 456.5,254.7 465.3,259.5 481.4,274.8 493.5,279.6 494.3,284.5 491.1,294.1 487.9,303 477.4,295.8 466.9,290.9 458.9,282.9 457.2,278 447.6,274 437.1,267.5 430.6,259.5Z" fill="#FFA77F" stroke="#6e6e6e" stroke-width="0.9"/><path d="M505,625 565,625 565,740 505,740 500,725 495.6,705 495.6,690 498,675 505,660Z" fill="#FFBEBE" stroke="#6e6e6e" stroke-width="0.9"/><path d="M405,250 425.4,250.6 430.6,259.5 437.1,267.5 447.6,274 457.2,278 458.9,282.9 466.9,290.9 477.4,295.8 487.9,303 487.2,311.7 480.8,321.3 477.5,319.2 469,313.8 458.2,307.4 452.8,298.8 447.5,291.3 442.1,288 426,287 405,286Z" fill="#FF7F7F" stroke="#6e6e6e" stroke-width="0.9"/><path d="M405,286 426,287 442.1,288 447.5,291.3 452.8,298.8 458.2,307.4 469,313.8 477.5,319.2 480.8,321.3 484,331 479.7,334.2 467.9,340.7 461.4,337.5 453.9,333.2 448.5,326.7 443.2,320.3 434.6,314.9 426,311.7 419.5,309.5 411.5,303.1 405,303Z" fill="#FFA77F" stroke="#6e6e6e" stroke-width="0.9"/><path d="M419.5,309.5 426,311.7 434.6,314.9 443.2,320.3 448.5,326.7 453.9,333.2 461.4,337.5 467.9,340.7 462.5,341.8 467.7,360.9 458.2,353.6 448.5,345 441,337.5 438.9,332.1 432.4,324.6 426,319.2Z" fill="#FF7F7F" stroke="#6e6e6e" stroke-width="0.9"/><path d="M461.6,341.5 474.9,335.5 485.8,333.1 496.7,337.9 508.8,352.4 496.7,357.3 487,363.3 474.9,362.1 467.7,360.9Z" fill="#FF7F7F" stroke="#6e6e6e" stroke-width="0.9"/><path d="M493.1,295.6 506.4,305.9 517.2,315 514.8,324.6 513.6,336.7 517.2,352.4 508.8,352.4 496.7,337.9 485.8,333.1 484,331 480.8,321.3 487.2,311.7 487.9,303 489.4,302.9Z" fill="#FFA77F" stroke="#6e6e6e" stroke-width="0.9"/><path d="M494.3,281.1 506.4,288.4 518.4,296.8 506.4,305.9 493.1,295.6 489.4,302.9 493.1,290.8Z" fill="#FFA77F" stroke="#6e6e6e" stroke-width="0.9"/><path d="M592.4,201.4 592,201.5 592.8,210.3 586.2,207.5 570.4,208.6 570.3,208.9 574.6,209.6 588.8,213.7 595.3,211.5Z" fill="#FF7F7F"/><path d="M532,256.8 532,263.5 532.1,263.5 536.3,252.2 540.3,242.6 542.8,236.7 546.3,233.9 541.6,233 535.4,249 531.7,256.5Z" fill="#FF7F7F"/><path d="M618.4,260 614.4,245.9 610.3,237.7 608.5,236.5 605,237.2 609.6,240.7 614.6,250.7 618.1,262.4 618.2,262.4Z" fill="#FF7F7F"/><path d="M498,257.4 504.2,252.4 508,247.4 505.5,246.7 498.1,255Z" fill="#FFA77F"/><path d="M494.3,284.6 493.9,284.5 490.7,294 487.3,303.4 489.7,303.3 493.5,290.9Z" fill="#FFA77F"/><path d="M535,272.6 531.1,277.8 542.5,272.1 550.4,276.1 552.2,276.1 542.5,271.3 535.7,272.2 534,265.8 533.2,266Z" fill="#FF7F7F"/><path d="M486.5,333.3 484.1,330.5 479.5,333.9 477.1,335.2 477.1,335.4Z" fill="#FF7F7F"/><path d="M415.6,249.7 415.6,250.7 425.6,251 426.8,249.7 419.7,248.9Z" fill="#FF7F7F"/><path d="M567.2,228.5 566.4,228.8 570.4,235.7 579.1,241.9 579.5,241.4 571,234.1Z" fill="#FF7F7F"/><path d="M476.6,270.5 476.5,270.7 481.2,275.1 484.9,276.6 485,276.5 479.6,272Z" fill="#FFA77F"/><path d="M518.2,251.9 522.8,252.4 522.8,252.3 519.8,250.8 513.1,248.9 512.9,249.3Z" fill="#FFA77F"/><path d="M562,231.5 561.7,231 552.8,235.1 554.6,235.9Z" fill="#FF7F7F"/><path d="M497.1,267.4 497.1,267.4 493.8,275.5 494.1,275.7 497.1,271.5Z" fill="#FFA77F"/><path d="M493.8,277.5 493.5,277.5 493.5,282.1 494,285 494.2,285 494.7,281.1Z" fill="#FF7F7F"/><path d="M605.8,276 605.3,275.4 599,280.7 597.1,280.1 597.8,281.6 596.2,283 596.7,283.6Z" fill="#FF7F7F"/><path d="M515.2,321.9 528.4,320.9 542.1,334.6 545.3,333 558.6,335.5 571.3,353.2 572.3,350.1 574.3,344.1 580.3,336.1 581.3,326 578.3,317.9 575,309.7 567.7,307.5 556.9,292.1 551.6,290.9 535.2,300.1 523.1,290.2 518.2,296.6 505.9,305.9 516.9,315.1ZM521.9,387.1 523.8,387.7 531.2,400.7 536.2,398.3 544.2,392.2 546.2,389.8 556.2,378.2 568.2,368.2 569.3,366.8 570.1,365.7 540.9,353.5 533,360.1 527.8,360.8 512.9,375.7ZM525.4,590.2 515.3,600.3 526.2,614.3 528.6,615.7 536.2,606.2 542.2,600.3ZM505.7,549.3 511.4,556.4 530.1,551 529.3,540 528.6,531.2 528.3,527.8 522.1,525.7 512.1,521.7 501.7,516.5 500.2,515.8 496.6,509.7 472.8,509.7 470.6,527.1 475.7,533.7 475.3,539.3 479.4,548 493,550.1 500.9,547.1ZM483.9,607.2 484.8,610.2 486.3,611.9 498.6,616 512.4,599.8 504.1,590.4 506.9,574.8 492.9,570.6 488.9,572.2 484.7,586.9 489.5,593.3ZM486.4,419.8 483.1,429.7 490.5,437.1 503.6,440 504.3,438.1 507,434.1 497.4,419.8ZM505.3,635.1 505.3,628.1 502.2,621.1 501.2,620.2 491,630.6 492.2,635.2 496,642.8 500.2,640.2ZM307.7,619.9 308.1,625.1 308.7,632 311.7,644.1 315.7,656.1 319.7,670.1 320,670.7 326.4,667.6 333,668.3 339.6,673 347.9,668.9 354.5,670.8 358,683.1 349.8,689.8 338.5,680.4 328.6,688.3 329.7,690.1 332.7,696.1 335.3,704.7 349.8,697.4 357.7,703.4 366.5,703.4 368.8,705.2 366.6,722.8 360.7,722.8 347.3,733.5 347.7,735.9 347,736.7 360.7,741.9 358.5,755.5 372.7,761.6 375.1,760.6 378,750.1 373.8,742.6 383.9,732.5 394,742.7 391.1,746.6 396,761.4 401,761.4 406.5,754.5 415,756.2 420.4,751.8 429.6,770.3 431.6,772.2 431.6,773.5 432,773.3 435.9,776.3 444,779.3 452.1,778.3 460.2,772.3 461.9,771.4 457.2,758.4 458.4,750.4 457.1,747.4 475.5,728.9 474.1,727.3 460.5,721.2 453.6,722.6 453.6,745.1 439.8,742.8 435.8,744.8 429.1,743.7 422.3,746.4 409.5,739.1 418.8,725.2 421,724.3 422.7,725 432.9,722.7 436.2,702.8 436.2,702.7 436.2,688.3 451.8,685.2 455.6,687.4 455.6,702.2 463.1,706 472.2,704 472.2,684.3 489.6,684.3 489.3,683.9 487.3,672 489.2,660.7 489.3,660.1 492.6,651.8 479,642.8 467.8,642.8 465.5,644.4 465.3,649.6 463.5,653.5 459.2,664.3 451.9,666 448.3,664.2 447,661 444.8,654.1 435.4,649.5 432.5,650 425.1,646.3 421.6,649.9 412.5,654.4 410.3,661.9 411.2,664.3 402.6,672.9 391.5,670.1 389.8,670.3 384.9,665.9 388,655.2 389.4,652 382.7,642.8 377.6,644.5 373.4,654.9 372.6,656.1 361.1,650.4 361.1,641.8 352.9,638.6 342,641.8 335.1,634.9 335.1,630.1 335.1,620.9 334.1,619.9 330,607.7 325.9,606.7 321.9,609.7 311.8,613.8 309.8,617.8ZM382.4,704.9 385.8,687 398.5,689.9 401.6,706.3 384,706.3ZM425.9,440.5 447.4,454.8 449.1,455 452.3,453.7 460,445.2 456.4,423.6 463.1,421.4 478,406.4 478.9,406.2 488.9,394.1 477.2,376.5 477.2,362 474.9,361.8 467.8,360.6 462.8,356.7 445.3,381.1 436.1,382.3 433.8,399.7 432.9,400.2 419.6,417.9 420.7,433.7 423.8,435.8ZM459.6,577.4 453.9,564 442.7,563.6 442,564.5 445.2,577.4ZM393,625.4 400.5,617.9 401.9,616.3 408.1,615.8 410.3,620 417.4,624 417.8,640.3 422.6,641.5 426.2,636.2 426.2,626.4 437.6,619.8 441.5,622.6 436.9,636.1 438.3,640.4 453.8,640.4 450.4,626.9 447.2,623.2 459.2,611.2 459.2,607.2 447,596.8 443.8,596.8 443.2,597.1 434.5,610.1 419.1,605.4 413,608.2 406.3,597.4 398.7,594.2 398.7,580.6 394.8,578.7 381.5,592 383.8,603.1 381.7,604.5 371.4,606.2 366.6,622.9 368.4,625.4ZM377.9,522.3 374,533 383.2,543.3 392.6,543.3 400.1,529.8 408.5,529 419.5,514.4 429.9,519.2 445.9,509.6 428.2,491.9 428.2,490.8 417.5,482.4 412.5,481.3 403.5,487.8 407.1,505.5 390.2,513 384.4,501.5 368.2,495 368.7,505.8 360.7,508ZM359.7,391.9 355.7,395.9 358.3,406.4 385.7,406.4 393.1,413.7 406.4,406.4 408.2,396.2 404.8,386.1 392,381.8 389.1,378.9 387.6,369.6 378.9,356.7 371.8,363.8 365.8,373.8 360.7,379.9ZM383.6,798.3 386.2,795.2 393.7,794 398.6,781.7 398.5,780.8 394.2,778.4 389.7,766.6 382.1,765 377.9,781.8 373.7,782.8 367.3,788.4 370.9,794.1Z" fill="#FFA77F"/><path d="M516.8,352.1 508.7,352.1 496.6,357 495,358 486.9,363 476.6,362 476.6,376.7 488.2,394.1 478.3,405.9 486.4,420.4 497.1,420.4 506.6,434.7 508.3,432.2 512.3,424.2 518.2,416.2 519.4,414.4 522.2,410.2 528.2,402.2 531.8,400.4 524.2,387.2 522.3,386.5 513.7,375.8 528.1,361.3 533.3,360.6 541.2,354 541.2,337.4 542.5,334.1 528.6,320.3 515.3,321.3 514.5,324.5 513.3,336.7 516.3,349.8ZM506.3,574.8 503.4,590.6 511.9,600.1 515.8,600.7 525.7,590.7 528,579.5 525.5,574.5 512.7,570.5ZM418.2,459.4 430.3,469.1 416.9,482.8 427.6,491 427.6,492.1 444.9,509.5 429.8,518.5 419.3,513.7 408,528.7 417.6,542.1 418.8,541.9 434.9,548.8 440.3,547.3 446.9,541.3 446.8,540.7 455.3,525.4 471.2,527.4 473.3,510.3 496.9,510.3 494.3,505.9 495.3,490 495.8,487.2 496.7,481.8 497.3,478.1 499.3,468 500.2,457.8 500.3,456 501.3,446.1 503.8,439.4 490.8,436.5 483.5,429.3 479.4,430.6 462.9,420.8 455.8,423.2 459.4,445 451.9,453.2 449,454.4 447.6,454.2 426,439.9ZM484.4,607.7 490.2,593.3 485.2,586.6 467.4,584.3 469.2,600ZM446.4,661.2 447.8,664.6 451.9,666.6 459.6,664.8 464.1,653.7 465.9,649.7 466.2,644.3 454.8,641.6 445,653.4 444.2,654.3ZM421.1,578.5 428.6,582.3 428.6,590.3 443.4,597.7 444,597.4 447,597.4 464.2,580.2 459.3,576.8 445.3,576.8 441,579.6 435,577.9 433.3,567.5 425.2,562.9 421.1,563.6ZM405.8,342.5 406.7,347.9 401.8,356.7 388,354.7 379.9,355.7 378.5,357.1 387,369.8 388.6,379.2 391.7,382.3 404.4,386.6 407.6,396.3 405.8,406.3 420,418.4 433.3,400.7 434.4,400 436.7,382.5 428.7,374.4 425.2,373.1 417.2,357 417.2,356.7ZM419.4,606 422,594.8 412.5,584.1 405.8,597.7 412.7,609ZM382.3,643.2 388.9,652.4 396.5,652.4 398.6,654.7 400.1,657 410.8,662.3 413,654.6 410.6,648.4 408.9,639.9 407.9,639.3 410.9,619.7 408.4,615.2 401.6,615.7 400,617.5 392.6,624.9 394.1,634.8 382.8,641.5 382.4,643ZM377.3,553.2 366.5,558 360.5,556 359.7,559.9 353.8,565.7 350.6,566.5 345.7,567.8 344.7,573.9 340.7,579.9 339.9,588.5 339.7,590 340.6,598.8 347.8,602.4 360.9,602.4 362.1,601.8 362.1,589.8 376.7,587.4 381.9,592.5 394.9,579.4 398.3,581.1 406.3,579.9 411.1,564.3 400.4,557.7 399.8,550.9 392.6,542.7 383.1,542.7ZM356.7,470 357.7,474.1 367.7,486.1 368,491.5 368.2,495.7 384,502 389.9,513.8 407.7,505.9 404.1,487.7 396.8,486.5 386.9,476.6 387.2,472.1 386.1,457.9 383.7,456.7 375.6,446.9 357.7,444.4 357.7,446 356.7,460ZM381.7,705.2 383.7,706.9 402,706.9 402.2,706.6 399,689.5 385.7,686.3 385.2,686.6Z" fill="#E60000"/><path d="M559,292.5 556,291.9 567.3,308 575.3,310.4 574.3,308 576.8,300.7 576.4,300.5 573.9,305.5 568.2,299.8ZM522.8,290.7 535.1,300.8 552.5,291.1 544.9,289.5 532.8,286.5 526.6,285.7ZM463.6,579.9 463.6,579.9 446.5,597.1 458.9,607.8 469.8,600 468.1,585 485.2,587.2 489.4,572.6 492.9,571.2 506.6,575.3 513.1,571 511.8,555.9 506.1,548.8 500.9,546.4 492.9,549.5 479.4,547.4 473.1,557.3 473.9,566.7ZM425.6,636 422.3,640.8 418.4,639.8 418,623.7 410.3,619.3 407.3,639.6 408.4,640.3 410,648.6 412.6,655 421.9,650.4 425.2,647.1 432.4,650.7 435.3,650.1 444.6,654.7 445.5,653.8 455,642.3 465.9,644.9 468,643.4 479.1,643.4 481.9,635.1 483,628.9 491.4,631 501.6,620.7 498.7,615.4 486.7,611.4 485.1,609.7 468,618.2 458.9,610.7 446.4,623.2 449.8,627.2 453.1,639.8 438.8,639.8 437.5,636.1 442.2,622.4 437.7,619.1 425.6,626ZM462.4,421.2 479.3,431.3 483.6,429.8 486.9,420.1 478.9,405.6 477.8,405.8ZM463.2,357.1 458.4,353.4 448.7,344.8 441.3,337.3 439.2,331.9 432.6,324.4 426.2,319 419.7,309.3 411.6,302.8 410.2,302.8 405.7,309.9 401.7,319.9 397.6,328 404.7,336.1 405.7,342 406,343.7 416.6,356.9 416.6,357.1 424.8,373.6 428.3,375 436.3,382.9 445.7,381.7ZM435.6,702.9 435.7,703.1 446.1,707.3 456.2,702.2 456.2,687.1 452,684.5 435.6,687.8ZM434.8,610.8 443.8,597.2 428.9,589.7 421.4,594.7 418.7,606ZM358,413.7 357.7,416 356.7,428 357.7,438 357.7,445 375.2,447.5 383.4,457.2 385.6,458.3 386.6,472.1 386.3,476.8 396.5,487.1 403.9,488.2 412.6,481.9 417.5,483.1 431.2,469 418.9,459.2 426.5,440.3 424.3,435.4 421.3,433.4 420.2,417.9 406.1,405.8 393.2,413 386,405.8 358.1,405.8 358.7,408ZM388.8,651.8 387.5,655 384.2,666.1 389.6,670.9 391.4,670.7 402.8,673.6 411.9,664.4 410.8,661.7 400.5,656.5 399.1,654.3 396.7,651.8ZM359.8,804.2 368.5,808.6 369.9,809.3 380,810.3 384.9,809.3 390.1,808.3 398.2,806.3 402.3,802.1 393.5,793.4 385.9,794.6 383.4,797.6 371.3,793.6 368.1,788.5 374.2,783.2 369.8,765.8 358.2,773.5 357.7,778 359.4,787.1 359.7,789 356.7,796ZM372.9,656.9 373.9,655.2 378.1,645 382.8,643.4 383,643.2 383.3,641.9 394.8,635.1 393.2,624.8 368.7,624.8 367.1,622.5 365.1,622.3 353.9,619.1 350.2,620.3 351.7,630.1 352.6,635.4 352.6,639.1 360.5,642.2 360.5,650.8ZM341.3,717.2 341.7,718.1 346.7,730.1 347.4,734.2 360.9,723.4 367.1,723.4 369.4,704.9 366.7,702.8 357.7,702.8 352,714.1ZM351.8,758.3 359.1,755.6 361.4,741.5 347.4,736.2 343.7,740.9 344.7,747.1ZM347.8,668.2 339.4,672.4 338.2,680.9 349.8,690.6 358.6,683.3 355,670.4Z" fill="#FF7F7F"/><path d="M511.2,555.8 512.5,571.1 525.1,575 527.4,579.5 525.1,590.7 541.7,600.7 552.3,590.2 553.3,585.9 554.3,581.9 548.2,573.8 540.2,563.8 530.3,553.9 530,550.4ZM505.3,625.3 519.1,625.3 528.2,616.2 529,615.3 526.6,613.9 515.9,600.1 511.9,599.5 498.1,615.6 501,620.8 501.7,621.5 505.3,629.6ZM458.6,607.2 458.6,611.2 467.9,619 485.4,610.2 484.5,607 469.4,599.5ZM459,577.3 463.6,580.5 463.9,580.6 474.5,566.9 473.8,557.5 479.9,547.8 475.9,539.2 476.3,533.5 471.1,526.8 454.9,524.7 446.2,540.6 446.3,541.4 449.4,543.2 457.3,555.4 453.4,564.2ZM417.5,541.5 416.1,543.6 399.2,550.9 399.8,558 410.6,564.8 419.5,563.4 421.3,564.2 425.1,563.5 432.7,567.9 434.5,578.4 441.1,580.3 445.7,577.2 442.6,564.7 443.2,564 440.4,546.7 434.9,548.2 418.9,541.3ZM412.3,583.3 406.1,579.4 398.1,580.6 398.1,594.6 406.2,598 412.6,585.2 421.6,595.3 429.2,590.2 429.2,581.9 421.4,578ZM377,586.8 361.5,589.3 361.5,601.4 360.8,601.8 347.9,601.8 340.5,598.1 340.7,600 337.7,607.8 332.1,613.4 330.2,607.7 329.3,607.5 333.6,620.3 334.5,621.2 334.5,630.1 334.5,635.2 341.8,642.5 353.2,639.1 353.2,635.3 352.3,630 350.8,620.8 353.9,619.7 364.9,622.9 367.1,623.1 371.8,606.7 382,605 384.4,603.4 382.1,591.9ZM373.6,783.5 378.4,782.3 382.6,765.3 374.9,760.1 372.7,761 358.8,755 351.5,757.8 351.7,758.2 358.7,769.1 358.1,774.3 369.4,766.7Z" fill="#FF5500"/><path d="M482.5,628.2 481.3,635 478.5,643.2 492.4,652.4 493.3,650.1 495.3,643.2 496.5,642.5 492.7,635 491.6,630.5ZM482.3,736.1 484.3,731 475,728.5 456.3,747.2 457.8,750.5 456.5,758.5 461.3,771.7 468.2,768.2 476.3,760.2 478.6,753.1 480.3,748.1ZM415.2,755.6 406.3,753.9 400.5,761.1 407.7,768.4 415.2,762.7ZM326.3,667 319.7,670.1 323.7,680.1 328.9,688.8 338.8,680.9 340,672.5 333.2,667.7Z" fill="#FFEBBE"/><path d="M570.3,356 571.5,352.5 558.9,334.9 545.3,332.4 541.9,334 540.6,337.3 540.6,354.1 569.7,366.2 571.3,364.1ZM421,723.7 418.4,724.7 408.7,739.3 422.2,747.1 429.2,744.3 435.9,745.4 439.9,743.4 454.2,745.8 454.2,723.1 460.5,721.9 473.7,727.8 475,729.1 484.1,731.6 486.3,726.1 494.3,702 494.3,691.9 489.2,683.7 471.6,683.7 471.6,703.5 463.2,705.4 455.9,701.7 446.1,706.6 435.7,702.5 432.4,722.2 422.8,724.3ZM449.8,542.7 446.5,540.8 439.8,547 442.6,564.2 453.9,564.6 457.9,555.4ZM377.3,750.2 374.5,760.6 382.2,765.7 389.3,767.1 393.7,778.8 397.9,781.1 398,781.6 393.1,793.8 401.9,802.6 404.2,800.2 408.8,795.6 412.2,792.2 415.3,786.1 416.3,780.2 417.3,779.7 424.1,776.3 432.2,773.2 432.2,772 430.1,769.9 420.6,750.9 414.6,755.7 414.6,762.4 407.8,767.6 401,760.8 396.4,760.8 391.7,746.8 394.8,742.6 383.9,731.7 373,742.5ZM358.2,703 349.9,696.7 335.1,704.1 335.7,706.1 341.5,717.7 352.4,714.6Z" fill="#FFBEBE"/><path d="M421.7,563.7 419.6,562.8 410.5,564.2 405.7,579.8 412.3,584 421.7,578.5ZM416.5,544.1 418.1,541.8 408.5,528.4 399.8,529.2 392.1,543.1 399.5,551.4ZM377.8,553.7 383.7,543 374.7,532.9 378.6,522.1 361.4,507.8 357.7,508.8 359.7,520.1 363.7,540 361.7,549.9 360.4,556.6 366.6,558.6Z" fill="#730000"/><path d="M326.4,667.3 323.5,652.1M323.5,652.1 322.9,651.6M322.9,651.6 315.8,653.6M320.7,670 326.4,667.3M322.9,651.6 322.8,640.5M322.8,640.5 310.9,637.1M325.4,638.6 319,625.1M319,625.1 309,625.1M322.8,640.5 325.4,638.6M323.5,652.1 336.2,652.1M336.2,652.1 340.7,648.8M340.7,648.8 341.9,642.2M341.9,642.2 334.8,635M334.8,635 325.4,638.6M319,625.1 333.8,620.1M333.8,620.1 332,614.6M358.1,584 358.7,580.8M358.7,580.8 351,567.4M340.8,588.3 358.1,584M334.8,635 334.8,630.1M334.8,630.1 334.8,621.1M334.8,621.1 333.8,620.1M371.1,793.9 367.7,788.4M367.7,788.4 360.3,787.2M368.7,807.7 371.1,793.9M334.8,630.1 352,630.1M352,630.1 350.5,620.5M350.5,620.5 347.8,619.7M347.8,619.7 334.8,621.1M338.5,680.8 339.6,672.6M339.6,672.6 333.1,668M333.1,668 326.4,667.3M329.5,688 338.5,680.8M338.5,680.8 349.8,690.2M349.8,690.2 358.3,683.2M358.3,683.2 354.7,670.6M354.7,670.6 347.8,668.5M347.8,668.5 339.6,672.6M347.8,668.5 347.8,657.5M347.8,657.5 340.7,648.8M336.2,652.1 333.1,668M347.8,619.7 347.8,602.1M347.8,602.1 341.5,598.9M341.9,642.2 352.9,638.9M352.9,638.9 352.9,635.3M352.9,635.3 352,630.1M349.8,697.1 349.8,690.2M336,704 349.8,697.1M360.8,723.1 352.2,714.4M352.2,714.4 342.3,717.2M348.1,733.2 360.8,723.1M347.8,602.1 360.8,602.1M360.8,602.1 361.8,601.6M361.8,601.6 361.8,589.6M361.8,589.6 358.1,584M350.5,620.5 353.9,619.4M353.9,619.4 360.8,602.1M347.8,657.5 359.6,652.7M359.6,652.7 360.8,650.6M360.8,650.6 360.8,642M360.8,642 352.9,638.9M374.4,483.5 366.9,468.1M366.9,468.1 357.6,468.1M368.8,490.7 374.4,483.5M366.9,468.1 383.6,457M383.6,457 375.4,447.2M375.4,447.2 358.6,444.8M352.2,714.4 357.8,703.1M357.8,703.1 349.8,697.1M357.8,703.1 366.6,703.1M366.6,703.1 368.8,685.8M368.8,685.8 358.3,683.2M354.7,670.6 362.3,666.8M362.3,666.8 359.6,652.7M353.9,619.4 365,622.6M365,622.6 366.9,622.8M366.9,622.8 371.6,606.5M371.6,606.5 361.8,601.6M352.9,635.3 365,622.6M360.8,642 363.5,640.7M363.5,640.7 367.9,630.7M367.9,630.7 368.6,625.1M368.6,625.1 366.9,622.8M358.8,755.4 361.1,741.7M361.1,741.7 348.1,736.8M352.5,757.7 358.8,755.4M358.8,755.4 372.7,761.3M372.7,761.3 374.9,760.4M374.9,760.4 377.7,750.1M377.7,750.1 373.4,742.5M373.4,742.5 367.8,739.4M367.8,739.4 361.1,741.7M367.8,739.4 367.8,724.1M367.8,724.1 366.8,723.1M366.8,723.1 360.8,723.1M362.3,666.8 371.8,667.9M371.8,667.9 374.2,666M374.2,666 372.8,656.5M372.8,656.5 360.8,650.6M366.8,723.1 369.1,705.1M369.1,705.1 366.6,703.1M368.8,685.8 371.8,683.7M371.8,683.7 371.8,667.9M369.1,705.1 382.1,705.1M382.1,705.1 385.5,686.7M385.5,686.7 371.8,683.7M359.1,773.2 369.6,766.2M369.6,766.2 372.7,761.3M366.6,558.3 377.5,553.4M377.5,553.4 383.3,543M383.3,543 374.3,533M374.3,533 378.2,522.2M378.2,522.2 361.9,508.6M361.3,556.5 366.6,558.3M361.8,589.6 376.9,587.1M376.9,587.1 376.9,574.4M376.9,574.4 371.7,572.1M371.7,572.1 358.7,580.8M371.7,572.1 366.6,558.3M367.8,724.1 383.9,724.1M383.9,724.1 383.9,706.6M383.9,706.6 382.1,705.1M372.8,656.5 373.6,655.1M373.6,655.1 377.8,644.8M377.8,644.8 363.5,640.7M393.4,793.7 386,794.9M386,794.9 383.5,798M383.5,798 384.8,808.4M401.4,801.7 393.4,793.7M386,794.9 383.8,783.7M383.8,783.7 378.1,782M378.1,782 373.8,783.1M373.8,783.1 367.7,788.4M371.1,793.9 383.5,798M383.6,457 385.8,458.1M385.8,458.1 394.3,455.3M394.3,455.3 406.3,435.3M406.3,435.3 392.2,425M392.2,425 382.7,429M382.7,429 358.8,414.1M388.8,379.1 387.3,369.7M387.3,369.7 379.2,357.6M358.7,394.1 388.8,379.1M374.4,483.5 386.6,476.7M386.6,476.7 386.9,472.1M386.9,472.1 385.8,458.1M378.2,522.2 389.4,515.5M389.4,515.5 390,513.4M390,513.4 384.2,501.8M384.2,501.8 369.1,495.7M373.8,783.1 369.6,766.2M374.2,666 384.5,666M384.5,666 387.7,655.1M387.7,655.1 373.6,655.1M378.1,782 382.3,765.4M382.3,765.4 374.9,760.4M416.9,357.1 425,373.3M425,373.3 428.5,374.7M428.5,374.7 436.4,382.6M436.4,382.6 445.5,381.4M445.5,381.4 462.5,357.6M407,344.5 416.9,356.8M371.6,606.5 381.9,604.8M381.9,604.8 384.1,603.3M384.1,603.3 381.9,592.1M381.9,592.1 376.9,587.1M377.8,644.8 382.6,643.2M382.7,643.1 383.1,641.7M383.1,641.7 381.9,637.5M381.9,637.5 367.9,630.7M376.9,574.4 389,570.3M389,570.3 389.5,568.4M389.5,568.4 377.5,553.4M387.7,655.1 389,652.1M389,652.1 382.6,643.2M368.6,625.1 381.9,625.1M381.9,625.1 381.9,604.8M392.2,425 393.1,413.4M393.1,413.4 385.8,406.1M385.8,406.1 359.1,406.1M383.3,543 392.4,543M392.4,543 400,529.5M400,529.5 389.4,515.5M385.8,406.1 391.8,382.1M391.8,382.1 388.8,379.1M381.9,637.5 381.9,625.1M384.2,501.8 396.7,486.8M396.7,486.8 386.6,476.7M392.9,625.1 400.2,617.7M400.2,617.7 401.7,616M401.7,616 384.9,603.4M384.9,603.4 384.1,603.3M381.9,625.1 392.9,625.1M381.9,592.1 394.9,579.1M394.9,579.1 389,570.3M383.1,641.7 394.5,634.9M394.5,634.9 392.9,625.1M385.7,686.6 389.7,670.6M389.7,670.6 384.5,666M373.4,742.5 383.9,732.1M383.9,732.1 383.9,724.1M383.9,706.6 401.9,706.6M401.9,706.5 398.8,689.7M398.8,689.7 385.7,686.6M377.7,750.1 391.4,746.7M391.4,746.7 394.4,742.7M394.4,742.7 383.9,732.1M391.8,382.1 404.6,386.3M404.6,386.3 425,373.3M398.4,724.1 401.9,719.4M401.9,719.4 401.9,706.6M383.9,724.1 398.4,724.1M384.9,603.4 398.4,594.4M398.4,594.4 398.4,580.8M398.4,580.8 394.9,579.1M382.3,765.4 389.5,766.8M389.5,766.8 396.2,761.1M396.2,761.1 391.4,746.7M389,652.1 396.6,652.1M396.6,652.1 401.6,643.1M401.6,643.1 382.7,643.1M393.4,793.7 398.3,781.6M398.3,781.6 398.2,781M398.2,781 393.9,778.6M393.9,778.6 383.8,783.7M393.9,778.6 389.5,766.8M426.2,440.3 424.1,435.6M424.1,435.6 421,433.6M421,433.6 406.3,435.3M386.9,472.1 410.9,472M410.9,472 410.9,464.5M410.9,464.5 418.6,459.3M418.6,459.3 426.2,440.3M398.4,580.8 406,579.7M406,579.7 410.7,564.5M410.7,564.5 400.1,557.8M400.1,557.8 389.5,568.4M400.1,557.8 399.5,551.1M399.5,551.1 392.4,543M401.6,643.1 403.8,640M403.8,640 401.3,638.3M401.3,638.3 394.5,634.9M398.2,781 408.7,775.7M408.7,775.7 407.7,768M407.7,768 400.9,761.1M400.9,761.1 396.2,761.1M399.5,551.1 416.3,543.8M416.3,543.8 417.7,541.8M417.7,541.8 408.4,528.7M408.4,528.7 400,529.5M390,513.4 407.4,505.7M407.4,505.7 403.9,487.9M403.9,487.9 396.7,486.8M389.7,670.6 391.4,670.4M391.4,670.4 400.3,656.8M400.3,656.8 398.8,654.5M398.8,654.5 396.6,652.1M401.3,638.3 400.2,617.7M393.1,413.4 406.1,406.2M406.1,406.2 407.9,396.3M407.9,396.3 404.6,386.3M408.4,528.7 419.4,514M419.4,514 418.1,511.5M418.1,511.5 407.4,505.7M394.4,742.7 402.2,739.5M402.2,739.5 398.4,724.1M403.9,487.9 412.5,481.6M412.5,481.6 410.9,472M398.8,689.7 405.4,684M405.4,684 402.7,673.2M402.7,673.2 391.4,670.4M400.9,761.1 406.4,754.2M406.4,754.2 404,740.1M404,740.1 402.2,739.5M398.3,781.6 408.2,794.9M416.4,779.1 408.7,775.7M401.7,616 408.3,615.5M408.3,615.5 412.9,608.6M412.9,608.6 406.1,597.6M406.1,597.6 398.4,594.4M401.9,706.5 414.7,704.2M414.7,704.2 416.9,686.6M416.9,686.6 405.4,684M401.9,719.4 418.6,725M418.6,725 421,724M421,724 418.8,706.6M418.8,706.6 414.7,704.2M421,433.6 419.9,418M419.9,418 406.1,406.2M398.8,654.5 410.3,648.5M410.3,648.5 408.7,640.1M408.7,640.1 407.6,639.4M407.6,639.4 403.8,640M402.7,673.2 411.6,664.3M411.6,664.3 410.6,661.9M410.6,661.9 400.3,656.8M404,740.1 409.1,739.2M409.1,739.2 418.6,725M418.1,511.5 427.9,492M427.9,492 427.9,490.9M427.9,490.9 417.4,482.7M417.4,482.7 412.5,481.6M407.6,639.4 410.6,619.8M410.6,619.8 408.3,615.5M410.6,661.9 412.7,654.6M412.7,654.6 410.3,648.5M416.9,686.6 419.9,684.8M419.9,684.8 419.9,667.7M419.9,667.7 411.6,664.3M407.7,768 414.9,762.6M414.9,762.6 414.9,755.9M414.9,755.9 406.4,754.2M406.1,597.6 412.6,584.7M412.6,584.7 412.3,583.6M412.3,583.6 406,579.7M417.4,482.7 430.8,469.1M430.8,469.1 418.6,459.3M410.6,619.8 417.7,623.8M417.7,623.8 425.9,626.2M425.9,626.2 437.7,619.4M437.7,619.4 434.7,610.4M434.7,610.4 419.1,605.8M419.1,605.8 412.9,608.6M419.1,605.8 421.7,594.9M421.7,594.9 412.6,584.7M410.7,564.5 419.6,563.1M419.6,563.1 416.3,543.8M412.3,583.6 421.4,578.3M421.4,578.3 421.4,563.9M421.4,563.9 419.6,563.1M408.7,640.1 418.1,640.1M418.1,640.1 417.7,623.8M419.9,418 433.1,400.5M433.1,400.5 434.1,399.9M434.1,399.9 436.4,382.6M417.7,541.8 418.8,541.6M418.8,541.6 431.6,525.7M431.6,525.7 429.8,518.9M429.8,518.9 419.4,514M419.9,667.7 422.2,666.8M422.2,666.8 421.7,650.2M421.7,650.2 412.7,654.6M456.9,758.4 435.9,765.4M435.9,765.4 431.9,772.1M461.3,770.7 456.9,758.4M429.9,770.1 414.9,762.6M431.9,772.1 429.9,770.1M435.9,765.4 435.9,745.1M435.9,745.1 429.2,744M429.2,744 422.3,746.7M422.3,746.7 420.5,751.4M420.5,751.4 429.9,770.1M535.1,300.5 550.9,291.7M523.6,291 535.1,300.5M567.5,307.8 574,309.7M557.2,293 567.5,307.8M414.9,755.9 420.5,751.4M422.3,746.7 409.1,739.2M421.7,650.2 425.2,646.7M425.2,646.7 422.4,641.2M422.4,641.2 418.1,640.1M418.8,706.6 435.9,702.8M435.9,702.8 435.9,688M435.9,688 419.9,684.8M429.2,744 422.7,724.7M422.7,724.7 421,724M421.4,563.9 425.1,563.2M425.1,563.2 434.9,548.5M434.9,548.5 418.8,541.6M421.7,594.9 428.9,590.1M428.9,590.1 428.9,582.1M428.9,582.1 421.4,578.3M430.8,469.1 432.9,469.1M432.9,469.1 447.5,454.5M447.5,454.5 426.2,440.3M424.1,435.6 450.1,419.9M450.1,419.9 447.4,410.5M447.4,410.5 434.1,399.9M422.4,641.2 425.9,636.1M425.9,636.1 425.9,626.2M429.8,518.9 445.4,509.5M445.4,509.5 427.9,492M510.5,375.5 513.3,375.7M513.3,375.7 527.9,361.1M527.9,361.1 517.4,350.5M495.5,358.7 510.5,375.5M435.9,688 435.9,671.4M435.9,671.4 426.4,665.9M426.4,665.9 422.2,666.8M426.4,665.9 428.9,661.1M428.9,661.1 432.4,650.4M432.4,650.4 425.2,646.7M432.4,650.4 435.4,649.8M435.4,649.8 438.5,640.1M438.5,640.1 437.2,636.1M437.2,636.1 425.9,636.1M435.9,745.1 439.9,743.1M439.9,743.1 439.9,726.1M439.9,726.1 432.7,722.5M432.7,722.5 422.7,724.7M427.9,490.9 438.9,484.8M438.9,484.8 439.4,482.3M439.4,482.3 432.9,469.1M434.7,610.4 443.4,597.3M443.4,597.3 428.9,590.1M428.9,582.1 434.7,578.2M434.7,578.2 433,567.7M433,567.7 425.1,563.2M437.2,636.1 441.8,622.5M441.8,622.5 437.7,619.4M432.7,722.5 435.9,702.9M434.9,548.5 440.2,547.1M440.2,547.1 446.5,541.2M446.5,541.2 446.5,540.6M446.5,540.6 431.6,525.7M433,567.7 442.3,564.6M442.3,564.6 442.9,563.9M442.9,563.9 440.2,547.1M435.9,702.9 446.1,706.9M446.1,706.9 455.9,702.1M455.9,702.1 455.9,687.2M455.9,687.2 451.9,684.8M451.9,684.8 435.9,688M439.9,743.1 453.9,745.4M453.9,745.4 453.9,722.9M453.9,722.9 449.7,721.2M449.7,721.2 439.9,726.1M447.5,454.5 449.1,454.7M449.1,454.7 452.1,453.4M452.1,453.4 459.7,445.1M459.7,445.1 456.1,423.4M456.1,423.4 450.1,419.9M445.4,509.5 449.9,508.9M449.9,508.9 449.9,492.6M449.9,492.6 438.9,484.8M443.4,597.3 443.9,597.1M443.9,597.1 441,580M441,580 434.7,578.2M441.8,622.5 446.8,623.2M446.8,623.2 458.9,611.1M458.9,611.1 458.9,607.4M458.9,607.4 446.9,597.1M446.9,597.1 443.9,597.1M428.9,661.1 446.7,661.1M446.7,661.1 444.6,654.4M444.6,654.4 435.4,649.8M439.4,482.3 451.1,472.9M451.1,472.9 449.1,454.7M446.5,540.6 455.1,525.1M455.1,525.1 450.3,509.1M435.9,671.4 448.1,664.4M448.1,664.4 446.7,661.1M438.5,640.1 453.4,640.1M453.4,640.1 450.1,627.1M450.1,627.1 446.8,623.2M456.9,758.4 458.1,750.5M458.1,750.5 456.7,747.3M456.7,747.3 453.9,745.4M528.5,320.6 535.5,303.1M535.5,303.1 535.1,300.5M516.2,321.5 528.5,320.6M441,580 445.4,577.1M445.4,577.1 442.3,564.6M444.6,654.4 445.3,653.6M445.3,653.6 454.9,642M454.9,642 453.4,640.1M449.7,721.2 446.1,706.9M445.4,577.1 459.2,577.1M459.2,577.1 453.7,564.2M453.7,564.2 442.9,563.9M453.7,564.2 457.6,555.4M457.6,555.4 449.6,542.9M449.6,542.9 446.5,541.2M451.9,684.8 451.9,666.3M451.9,666.3 448.1,664.4M449.9,492.6 462.9,483.3M462.9,482.8 451.1,472.9M456.1,423.4 462.9,421.1M462.9,421.1 477.9,406.1M477.9,406.1 460.6,397.4M460.6,397.4 458.7,388M458.7,388 445.5,381.4M446.9,597.1 463.7,580.3M463.7,580.3 459.2,577.1M451.9,666.3 459.4,664.6M459.4,664.6 463.8,653.6M463.8,653.6 445.3,653.6M454.9,642 465.8,644.6M465.8,644.6 467.9,643.1M467.9,643.1 467.9,627.1M467.9,627.1 450.1,627.1M456.7,747.3 475.1,728.9M475.1,728.9 473.9,727.5M473.9,727.5 460.5,721.6M460.5,721.6 453.9,722.9M477.9,406.1 478.7,405.9M478.7,405.9 488.6,394.1M488.6,394.1 476.9,376.6M476.9,376.6 476.9,362.9M450.3,509.1 468.3,505.9M468.3,505.9 471,492.6M471,492.6 462.9,483.3M463.8,580.3 474.2,566.8M474.2,566.8 473.4,557.4M473.4,557.4 457.6,555.4M449.6,542.9 475.6,539.2M475.6,539.2 476,533.6M476,533.6 470.9,527M470.9,527 455.1,525.1M458.9,607.4 469.4,599.9M469.4,599.9 467.8,584.7M467.8,584.7 463.8,580.3M463.8,653.6 465.6,649.6M465.6,649.6 465.8,644.6M460.5,721.6 463.1,705.7M463.1,705.7 455.9,702.1M477.7,752.9 458.1,750.5M483.3,731.1 475.1,728.9M467.9,627.1 467.9,618.6M467.9,618.6 458.9,611.1M462.9,482.8 472.2,470.2M472.2,470.2 452.1,453.4M455.9,687.2 471.9,684M471.9,684 469.3,670.7M469.3,670.7 459.4,664.6M463.1,705.7 471.9,703.7M471.9,703.7 471.9,684M470.9,527 473,510M473,510 468.3,505.9M471,492.6 494.8,487.3M495.8,481.4 474.7,469.6M474.7,469.6 472.2,470.2M469.3,670.7 478.7,662.9M478.7,662.9 465.6,649.6M467.9,618.6 485,610M485,610 484.3,607.3M484.3,607.3 469.4,599.9M484.3,607.3 489.8,593.3M489.8,593.3 485,586.8M485,586.8 467.8,584.7M474.7,469.6 480.7,453.5M480.7,453.5 479.6,451.6M479.6,451.6 469.9,445.1M469.9,445.1 459.7,445.1M480.7,453.5 499.3,457.6M502.8,439.5 490.6,436.8M490.6,436.8 483.4,429.6M483.4,429.6 479.3,431M479.3,431 462.9,421.1M473.4,557.4 479.6,547.8M479.6,547.8 475.6,539.2M478.7,662.9 488.3,660.8M491.7,651.6 478.9,643.1M478.9,643.1 467.9,643.1M476,533.6 500.9,518M500.9,518 501.3,517.3M495.7,510 473,510M473.9,727.5 473.9,705.1M473.9,705.1 471.9,703.7M467.9,627.1 482.1,627.1M482.1,627.1 486.5,611.6M486.5,611.6 485,610M492.3,705.1 473.9,705.1M488.6,394.1 491.9,394.1M491.9,394.1 506.7,405.9M506.7,405.9 509.1,406.3M509.1,406.3 518.7,413.9M531.1,399.8 524,387.4M524,387.4 522.1,386.8M522.1,386.8 513.3,375.7M483.4,429.6 486.6,420.1M486.6,420.1 478.7,405.9M485,586.8 489.1,572.4M489.1,572.4 474.2,566.8M471.9,684 488.4,684M525.5,590.6 515.7,600.3M515.7,600.3 526.4,614.1M526.4,614.1 528,615M541.2,600 525.5,590.6M506.2,433.6 497.2,420.1M497.2,420.1 486.6,420.1M478.9,643.1 481.6,635.1M481.6,635.1 482.7,628.6M482.7,628.6 482.1,627.1M482.7,628.6 491.3,630.7M491.3,630.7 501.2,620.6M501.2,620.6 498.5,615.6M498.5,615.6 486.5,611.6M495.8,641.8 492.5,635.1M492.5,635.1 481.6,635.1M498.5,615.6 512,599.8M512,599.8 503.8,590.5M503.8,590.5 489.8,593.3M479.6,547.8 492.9,549.8M492.9,549.8 500.9,546.7M500.9,546.7 500.9,518M500.9,546.7 505.9,549.1M505.9,549.1 527.7,531.6M489.1,572.4 492.9,570.9M492.9,570.9 492.9,549.8M503.8,590.5 506.6,575M506.6,575 492.9,570.9M526.4,614.1 515.2,618.6M515.2,618.6 514.9,624.4M492.5,635.1 491.3,630.7M501.9,621.3 501.2,620.6M504.4,626.8 501.9,621.3M506.6,575 512.8,570.9M512.8,570.9 511.5,556M511.5,556 505.9,549.1M515.2,618.6 501.9,621.3M515.7,600.3 512,599.8M525.5,590.6 527.7,579.5M527.7,579.5 525.3,574.7M525.3,574.7 512.8,570.9M511.5,556 529.2,551M539.2,381.7 524,387.4M545.6,389.2 539.2,381.7M525.3,574.7 536.7,561.6M552.5,585.7 527.7,579.5M539.2,381.7 539.9,378.3M539.9,378.3 533.2,360.4M533.2,360.4 527.9,361.1M533.2,360.4 540.9,353.9M540.9,353.9 540.9,337.4M540.9,337.4 542.1,334.2M542.1,334.2 528.5,320.6M540.9,353.9 569.1,365.6M570.7,351.9 558.8,335.2M558.8,335.2 545.3,332.7M545.3,332.7 542.1,334.2M539.9,378.3 568,367.1" fill="none" stroke="#6e6e6e" stroke-width="0.9"/></g><use href="#swe" fill="none" stroke="#6e6e6e" stroke-width="1"/></g><g transform="translate(845.3,696.4)"><g clip-path="url(#cl)"><use href="#swe" fill="#B2C6F5"/><path d="M451.2,90 592.2,90 580.1,136.7 575.1,148.4 570.1,158.5 565,170.6 561,179.1 551.9,176.6 539.8,172.6 523.7,164.5 507.6,160.1 491.5,160.5 480.4,155.5 471.3,140.4Z" fill="#D62F27" stroke="#5e5e5e" stroke-width="0.9"/><path d="M451.2,150.4 471.3,140.4 480.4,155.5 491.5,160.5 507.6,160.1 523.7,164.5 539.8,172.6 551.9,176.6 561,179.1 561.6,188.7 567.6,199.8 571.7,208.9 567,214.9 570.5,227.4 552.9,235.5 543.9,218.9 531.8,210.9 519.7,198.8 507.6,190.7 497.5,184.3 485.4,174.6 471.3,167 459.2,160.9Z" fill="#D62F27" stroke="#5e5e5e" stroke-width="0.9"/><path d="M439.1,190.7 443.1,174.6 459.2,160.9 471.3,167 485.4,174.6 497.5,184.3 507.6,190.7 519.7,198.8 531.8,210.9 543.9,218.9 552.9,235.5 541.9,233.5 535.8,249.2 531.8,257.2 519.7,251.2 505.6,247.2 502.6,239.1 499.5,229 483.4,221 471.3,214.9 461.3,206.9 450.8,198.8Z" fill="#F58A7F" stroke="#5e5e5e" stroke-width="0.9"/><path d="M414.9,231 431,210.9 450.8,198.8 461.3,206.9 471.3,214.9 483.4,221 499.5,229 502.6,239.1 505.6,247.2 498.5,255.2 497.5,267.3 493.9,276.4 493.9,284.4 479.4,272.3 467.3,266.3 451.2,258.2 435.1,251.2 419,249.2Z" fill="#F58A7F" stroke="#5e5e5e" stroke-width="0.9"/><path d="M580.1,136.7 612.4,120.2 612.4,198.8 592.2,198.8 593.2,210.9 586.2,207.9 571.7,208.9 567.6,199.8 561.6,188.7 561,179.1 565,170.6 570.1,158.5 575.1,148.4Z" fill="#B2C6F5" stroke="#5e5e5e" stroke-width="0.9"/><path d="M590.8,197.1 611,197.1 611,236.4 605.9,237.4 598.9,243.5 594.8,238.4 591.8,225.3 588.8,213.2 594.8,211.2Z" fill="#B2C6F5" stroke="#5e5e5e" stroke-width="0.9"/><path d="M568.7,208.2 574.7,209.2 588.8,213.2 591.8,225.3 594.8,238.4 589.8,239.4 585.8,237.4 577.7,240.4 570.7,234.4 566.6,228.4 569.7,225.3 566.6,214.3Z" fill="#8FA9DE" stroke="#5e5e5e" stroke-width="0.9"/><path d="M547.5,232.4 554.5,235.4 566.6,228.4 570.7,235.4 568.7,245.5 567.6,251.5 571.7,256.6 568.7,263.6 558.6,268.1 545.5,256.6 535.9,252 539.9,242.5 542.5,236.4Z" fill="#B2C6F5" stroke="#5e5e5e" stroke-width="0.9"/><path d="M535.9,252 545.5,256.6 558.6,268.1 554.5,275.7 550.5,275.7 542.5,271.7 535.4,272.7 532.4,261.6Z" fill="#B2C6F5" stroke="#5e5e5e" stroke-width="0.9"/><path d="M570.7,235.4 577.7,240.4 580.7,245.5 584.8,258.6 590.8,264.6 597.9,280.7 604.9,295.8 590.8,300.9 578.7,295.8 575.7,290 568.7,280.7 558.6,268.1 568.7,263.6 571.7,256.6 567.6,251.5 568.7,245.5Z" fill="#B2C6F5" stroke="#5e5e5e" stroke-width="0.9"/><path d="M577.7,240.4 585.8,237.4 589.8,239.4 594.8,238.4 598.9,243.5 604.9,252.5 606.9,265.6 612,276.2 600.9,281.7 597.9,280.7 590.8,264.6 584.8,258.6 580.7,245.5Z" fill="#B2C6F5" stroke="#5e5e5e" stroke-width="0.9"/><path d="M598.9,243.5 605.9,237.4 610,240.4 615,250.5 618,260.6 617,270.7 612,276.2 606.9,265.6 604.9,252.5Z" fill="#B2C6F5" stroke="#5e5e5e" stroke-width="0.9"/><path d="M493.1,276.3 496.7,271.4 496.7,264.2 497.9,256.9 503.9,252.1 508.2,246.5 518.3,251.5 527.3,252.5 532.4,256.6 532.4,261.6 535.4,272.7 532.4,276.7 526.9,285.9 518.4,296.8 506.4,288.4 494.3,281.1Z" fill="#FCACA6" stroke="#5e5e5e" stroke-width="0.9"/><path d="M524.3,280.7 532.4,276.7 542.5,271.7 550.5,275.7 554.5,275.7 558.6,268.1 568.6,280.7 575,289 580,296 590,300 576,302 574,306 568,300 558.9,292.8 544.8,289.8 532.7,286.8 524.6,285.8Z" fill="#B2C6F5" stroke="#5e5e5e" stroke-width="0.9"/><path d="M425.4,250.6 435.5,240.6 446.8,247.4 456.5,254.7 465.3,259.5 481.4,274.8 493.5,279.6 494.3,284.5 491.1,294.1 487.9,303 477.4,295.8 466.9,290.9 458.9,282.9 457.2,278 447.6,274 437.1,267.5 430.6,259.5Z" fill="#B2C6F5" stroke="#5e5e5e" stroke-width="0.9"/><path d="M505,625 565,625 565,740 505,740 500,725 495.6,705 495.6,690 498,675 505,660Z" fill="#FCACA6" stroke="#5e5e5e" stroke-width="0.9"/><path d="M405,250 425.4,250.6 430.6,259.5 437.1,267.5 447.6,274 457.2,278 458.9,282.9 466.9,290.9 477.4,295.8 487.9,303 487.2,311.7 480.8,321.3 477.5,319.2 469,313.8 458.2,307.4 452.8,298.8 447.5,291.3 442.1,288 426,287 405,286Z" fill="#FCACA6" stroke="#5e5e5e" stroke-width="0.9"/><path d="M405,286 426,287 442.1,288 447.5,291.3 452.8,298.8 458.2,307.4 469,313.8 477.5,319.2 480.8,321.3 484,331 479.7,334.2 467.9,340.7 461.4,337.5 453.9,333.2 448.5,326.7 443.2,320.3 434.6,314.9 426,311.7 419.5,309.5 411.5,303.1 405,303Z" fill="#FCACA6" stroke="#5e5e5e" stroke-width="0.9"/><path d="M419.5,309.5 426,311.7 434.6,314.9 443.2,320.3 448.5,326.7 453.9,333.2 461.4,337.5 467.9,340.7 462.5,341.8 467.7,360.9 458.2,353.6 448.5,345 441,337.5 438.9,332.1 432.4,324.6 426,319.2Z" fill="#B2C6F5" stroke="#5e5e5e" stroke-width="0.9"/><path d="M461.6,341.5 474.9,335.5 485.8,333.1 496.7,337.9 508.8,352.4 496.7,357.3 487,363.3 474.9,362.1 467.7,360.9Z" fill="#8FA9DE" stroke="#5e5e5e" stroke-width="0.9"/><path d="M493.1,295.6 506.4,305.9 517.2,315 514.8,324.6 513.6,336.7 517.2,352.4 508.8,352.4 496.7,337.9 485.8,333.1 484,331 480.8,321.3 487.2,311.7 487.9,303 489.4,302.9Z" fill="#FCACA6" stroke="#5e5e5e" stroke-width="0.9"/><path d="M494.3,281.1 506.4,288.4 518.4,296.8 506.4,305.9 493.1,295.6 489.4,302.9 493.1,290.8Z" fill="#FCACA6" stroke="#5e5e5e" stroke-width="0.9"/><path d="M592.4,201.4 592,201.5 592.8,210.3 586.2,207.5 570.4,208.6 570.3,208.9 574.6,209.6 588.8,213.7 595.3,211.5Z" fill="#B2C6F5"/><path d="M532,256.8 532,263.5 532.1,263.5 536.3,252.2 540.3,242.6 542.8,236.7 546.3,233.9 541.6,233 535.4,249 531.7,256.5Z" fill="#F58A7F"/><path d="M618.4,260 614.4,245.9 610.3,237.7 608.5,236.5 605,237.2 609.6,240.7 614.6,250.7 618.1,262.4 618.2,262.4Z" fill="#B2C6F5"/><path d="M498,257.4 504.2,252.4 508,247.4 505.5,246.7 498.1,255Z" fill="#FCACA6"/><path d="M494.3,284.6 493.9,284.5 490.7,294 487.3,303.4 489.7,303.3 493.5,290.9Z" fill="#B2C6F5"/><path d="M535,272.6 531.1,277.8 542.5,272.1 550.4,276.1 552.2,276.1 542.5,271.3 535.7,272.2 534,265.8 533.2,266Z" fill="#B2C6F5"/><path d="M486.5,333.3 484.1,330.5 479.5,333.9 477.1,335.2 477.1,335.4Z" fill="#8FA9DE"/><path d="M415.6,249.7 415.6,250.7 425.6,251 426.8,249.7 419.7,248.9Z" fill="#FCACA6"/><path d="M567.2,228.5 566.4,228.8 570.4,235.7 579.1,241.9 579.5,241.4 571,234.1Z" fill="#8FA9DE"/><path d="M476.6,270.5 476.5,270.7 481.2,275.1 484.9,276.6 485,276.5 479.6,272Z" fill="#B2C6F5"/><path d="M518.2,251.9 522.8,252.4 522.8,252.3 519.8,250.8 513.1,248.9 512.9,249.3Z" fill="#FCACA6"/><path d="M562,231.5 561.7,231 552.8,235.1 554.6,235.9Z" fill="#B2C6F5"/><path d="M497.1,267.4 497.1,267.4 493.8,275.5 494.1,275.7 497.1,271.5Z" fill="#FCACA6"/><path d="M493.8,277.5 493.5,277.5 493.5,282.1 494,285 494.2,285 494.7,281.1Z" fill="#F58A7F"/><path d="M605.8,276 605.3,275.4 599,280.7 597.1,280.1 597.8,281.6 596.2,283 596.7,283.6Z" fill="#B2C6F5"/><path d="M518.2,296.6 505.9,305.9 516.9,315.1 515.3,321.5 528.3,320.5 542,334.2 545.2,332.6 558.5,335.1 571.3,353 572.3,350.1 574.3,344.1 580.3,336.1 581.3,326 578.3,317.9 574.9,309.4 574.3,308 576.8,300.7 576.4,300.5 573.9,305.5 568.2,299.8 559,292.5 556.9,292.1 551.2,290.8 544.9,289.5 532.8,286.5 526.6,285.7 523.1,290.3ZM520.7,352.4 521.6,367.9 511.4,375.1 521.5,390.3 521.5,402.4 523.9,408 528.2,402.2 536.2,398.3 544.2,392.2 547.2,388.8 538.1,382 535.4,369.7 534.4,369 538,347.4ZM514.5,522.7 502.6,546.5 509.1,551.5 529.6,544.7 529.3,540 528.3,527.8 522.1,525.7ZM419.9,640.7 424.1,655.4 435.1,656.8 436.9,655 449,655 451.1,642.7 460.6,640.3 452.6,624.7 452.6,624.4 435.5,624.4 430.5,614.4 447.1,608.3 456.6,615.9 456.8,615.9 464.6,619.9 464.4,641.1 465.9,642.2 464.4,648 450.8,656.9 453,662.8 454.8,666.5 466.9,661.2 469.8,662.3 475.5,666.4 485.2,664.5 488.5,665 489.3,660.1 493.3,650.1 494.9,644.4 489.8,643.2 480.5,634 480.6,633.8 486.7,621.4 491.8,622.3 497.6,633.8 500.6,639.8 505.3,635.1 505.3,625.3 519.1,625.3 526.9,617.5 523.4,614.8 518.5,603.8 515.5,602 509.7,602.5 501.4,613.3 488.4,598.2 482.6,603.2 484.6,619.4 470.2,619.4 475.9,602.4 469.9,599.4 466.4,591.5 477.9,580 475.9,571.2 474.1,570 454.1,572.5 458.6,543 456.8,541 448.4,542.1 438.8,549.7 434.2,561.1 441.2,573.4 448.3,577.3 448.8,579.3 462.2,590.9 447.5,605.6 442.5,592.4 428.3,592.4 426,610.8 408.7,607.9 402.9,612.2 407.3,624.2 405.8,628.6 404.8,634.6 413.9,641.9ZM420.1,640.4 420.1,631 435.8,631 437.5,637.5 436.7,638.3ZM359.7,391.9 355.7,395.9 358.7,408 358,413.6 382.5,428.9 392.1,425 406.2,435.2 420.9,433.5 423.7,435.4 425.8,440.1 447.3,454.4 450.8,454.8 459.9,444.8 456.3,423.2 472.5,417.8 479,430.8 489.5,433.4 490.7,436.1 502,444.2 504.3,438.1 508.3,432.2 509.9,428.9 496.2,422 496.1,421.5 478.1,409.5 478.6,406 488.8,393.7 477.1,376.1 477.1,362 474.9,361.8 467.8,360.6 462.8,356.7 458.4,353.4 448.7,344.8 441.3,337.3 439.2,331.9 432.6,324.4 426.2,319 419.7,309.3 411.6,302.8 410.2,302.8 405.7,309.9 401.7,319.9 397.6,328 404.7,336.1 405.7,342 405.9,343.3 416.5,356.5 416.5,356.7 424.7,373.2 428.2,374.6 436,382.3 433.7,399.3 432.8,399.8 419.8,417.2 399.1,399.4 400.1,394.5 399.6,389.1 389,378.5 387.5,369.2 379,356.6 371.8,363.8 365.8,373.8 360.7,379.9ZM456.1,709.4 456.1,687.3 438.5,687.3 438.5,702.8 449.2,709.9ZM356.7,470 357.7,474.1 367.7,486.1 367.9,491 368.2,495.3 383.9,501.6 389.6,513 389,515.1 399.7,529.4 408.4,528.6 419.4,514 429.8,518.8 445.8,509.2 428.7,492.1 418,510.9 408.4,504.7 405.2,487.5 396.7,486.1 386.8,476.2 387.1,471.7 386,457.5 383.6,456.3 375.5,446.5 357.7,444 357.7,446 356.7,460ZM383.2,589.9 388.5,590.1 399.6,584 404.6,584.7 411,563.9 400,557 390.5,566.5 388.3,566.4 376.6,573.9 379.9,588 373.8,590 361.2,588.4 357.5,603.3 369.4,607.8 376.9,615.3 378.3,614.6ZM381.7,645 382.7,648.6 388.5,652.1 385.4,665.2 389.6,667.8 389.7,667.9 406.6,667.9 405.9,663.6 405.2,659.4 399.6,657.7 396.6,651.5 396.2,650.8 397.9,646.6 395.4,637.7 393.7,636.6 384.1,639.3 378.8,632.8 368.3,638 370.5,645ZM372.4,793 383.1,793 383.1,775.1 374.5,774.2 368,779.6ZM359.1,755.5 369.4,759.9 376.6,754.4 378.9,745.9 378.5,745.4 362.9,741 361.7,737.8 347.5,734.9 347.7,735.9 343.7,740.9 344.4,745.3 358.1,748.1ZM347.4,622.2 347.4,625.5 356.6,637.5 361.9,634.9 365.6,636.5 378.1,623.4 376.5,616 363.6,622.4 356.8,619.5ZM313.8,650.4 315.7,656.1 316.8,660 321.7,660 322.7,660.5 330.9,658.5 332.4,656.2 342.1,659.4 346.4,654.1 356.6,656.1 353.4,664.3 354.5,670.8 358.4,673.6 372,664.5 369.5,658.2 366,654.2 361.4,653.2 354.8,640.1 344.5,642.7 342.9,642 333.9,651.1 332.2,655.4 324.1,649.3 321.5,650.4ZM308.7,618.9 307.7,619.9 308.4,628.7 308.7,632 311.3,642.3 322.1,635.9 327,640 328.1,640 338.1,637.1 335,629.6 334.9,616.9 332.5,615 330,607.7 325.9,606.7 321.9,609.7 311.8,613.8 309.8,617.8Z" fill="#B2C6F5"/><path d="M569.5,366.5 560,363.4 540.8,344.2 537.4,347.7 533.8,369.3 534.8,370 537.6,382.3 546.8,389.2 556.2,378.2 568.2,368.2ZM456.4,541.3 458.1,543.3 466.5,548.1 491.5,545.8 492.9,544.8 481.7,528 496.7,509.3 472.7,509.3 470.5,526.5 458.2,536ZM489.3,683.9 487.3,672 488.6,664.4 485.2,663.9 475.7,665.8 470.1,661.8 466.9,660.6 454.7,665.9 453.7,669.6 460.9,682.6 462.2,682.7 469.4,680.8 486.4,689.3 492.2,688.5ZM444.5,748.7 458.2,754.7 458.4,754.6 463.9,739.8 476.9,734.1 466.1,712.6 462.6,712.4 452.7,732.2 449.8,732.8ZM422.5,704.5 419.5,706.5 419.5,727.2 420.2,727.3 431.8,719.9 440.8,722 449.7,709.6 439.1,702.5 439.1,687.5 434.8,682.6 430.4,682.3 420.6,689.7ZM368.7,505.8 361,507.9 377.8,521.9 373.9,532.6 380.9,540.6 381.7,545.1 399.3,552.6 399.7,557.6 410.5,564.4 419.4,563 421.2,563.8 434.7,561.3 439.4,549.7 418.8,540.9 417.4,541.1 416,543.2 401.5,549.4 398.6,531.9 400.2,529.1 389.7,515 390.3,513 384.3,501.1 368.1,494.6ZM393.9,751.1 395.1,759.5 403.5,763.1 410.5,761.5 412.5,758.9 425,763.1 431.9,773.4 432,773.3 433.5,774.5 439.1,767.1 439.1,749.4 434.1,747.1 432.9,747.2 428.2,745.8 417,748.6 412.4,757.9 403.3,748.8ZM424.2,435 421,432.8 406.3,434.6 392.2,424.3 382.6,428.3 358.1,412.9 357.7,416 356.7,428 357.7,438 357.7,444.6 375.1,447.1 383.3,456.8 385.5,457.9 386.5,471.7 386.2,476.4 396.4,486.7 404.7,488 407.8,505.1 418.2,511.7 429.1,492.7 429.1,489.8 414.5,480.1 415.6,471.6 416.4,468.7 415.7,466.6 426.4,439.9ZM359.8,696.5 368.2,706.9 367.6,707.9 352.6,710.4 351.1,712.5 340.8,716.3 341.7,718.1 346.5,729.6 346.7,730.1 347.6,735.6 361.7,738.4 365.3,725.7 367.8,724.5 375.6,726.8 382.3,723.9 392.9,729.9 389.9,742 405.1,742 410.1,738 411,729.6 411.6,729.2 407,706.5 402.9,704.4 410.2,687.3 405.8,680.6 409.5,674 420.1,670 420.1,663.7 420.1,659.4 409.8,656 404.6,659.4 405.3,663.7 405.9,667.3 389.5,667.3 392.4,680.6 392.7,680.8 391.8,688.3 401.9,704.5 395.9,707.9 386.2,707.9 379.7,702.4 373.3,685.3 365.4,685.3 359.2,680.1 347.2,686.1 346.2,685.3 331,685.3 328.1,687.5 329.7,690.1 332.7,696.1 334.6,702.5 348.4,696.5 350.5,697.8ZM397.4,646.9 409.9,646.9 414.4,641.5 405.2,634.2 394.8,637.7ZM399.6,779.7 397.8,777.3 386.4,773 387.3,764.8 376.4,753.9 369,759.3 368.6,763.1 374.4,774.7 382.5,775.6 382.5,793.1 398.4,791.1ZM373.4,665.8 381.5,664.8 386,665.3 389.2,651.8 382.9,648 381.7,649.6 368.9,658.2 371.4,664.6ZM321.6,651 324,650 331.8,655.9 330.5,657.9 322.8,659.8 321.9,659.4 316.7,659.4 319.7,670.1 320.5,672.1 322.7,670.7 330.7,669.3 335.5,672.5 340.6,671.2 343.4,672.8 355.1,670.9 354,664.4 357.4,655.7 346.1,653.5 341.9,658.7 332.7,655.6 334.4,651.4 343.4,642.4 338.9,637 337.7,636.6 328,639.4 327.2,639.4 322.1,635.1 311.1,641.7 311.7,644.1 311.9,644.8 314,651Z" fill="#FCACA6"/><path d="M515.8,347.7 516.8,352.1 508.7,352.1 496.6,357 494.8,358.1 510.3,375.4 511.9,375.5 522.2,368.2 521.3,352.5ZM415.8,468.7 415,471.5 413.8,480.3 428.8,490.3 439.1,484.6 439.6,482.1 456.4,468.4 456.6,466 476.8,466 481.4,471.2 497.2,478.5 497.3,478.1 499.3,468 500.3,456 480,450.2 478.9,450.4 469.9,444.4 459.5,444.4 450.5,454.2 447.5,453.8 425.9,439.5 415.1,466.6ZM474.4,570.5 466.8,547.6 458.1,542.6 453.4,573.1ZM473.3,509.5 468.6,505.3 471.2,492.1 464.3,484.1 462,483.1 449.5,492 449.5,508.7 450,508.9 458.3,536.7 471.1,526.8ZM422.7,585.4 428.4,593 442.5,593 449.4,579.2 448.9,576.9 441.5,572.9ZM419.5,562.4 410.4,563.8 404,584.5 408.7,587.8 421.6,585.1 421.6,563.3ZM395.5,650.8 396,651.8 399.2,658.2 405,659.9 410.1,656.5 410.1,651.7 410.1,646.3 397.4,646.3ZM396.1,612.5 395.7,612.7 393.1,629 406.3,629 407.9,624.1 403.4,612ZM381.8,544.5 377.2,552.8 366.4,557.6 360.6,555.6 359.7,559.9 353.8,565.7 345.7,567.8 344.7,573.9 340.7,579.9 339.9,588 339.7,590 340.7,600 337.7,607.8 332.1,613.4 330.2,607.7 329.3,607.5 332,615.4 334.5,617.3 343.9,619.4 347.7,622.7 356.7,620.1 363.6,623.1 376.5,616.7 377.3,614.8 369.7,607.2 358.2,602.9 361.7,589.1 373.9,590.6 380.6,588.4 377.3,574.2 388.5,567 390.7,567.1 400.3,557.5 399.9,552.2ZM368.4,780 375,774.5 369,762.6 358.5,770.5 357.7,778 357.9,779.3Z" fill="#6B8FCC"/><path d="M494.3,544.1 492.4,544.4 491.3,545.2 466.1,547.5 473.8,570.5 475.3,571.6 477.3,580.1 488.8,587 502.5,580.2 507.2,575 510.7,573.3 519.1,577 523,577 525.2,578.8 531.5,597.5 541.3,601.2 552.3,590.2 554.3,581.9 548.2,573.8 540.2,563.8 530.3,553.9 529.6,544.1 509.2,550.9 503.3,546.3 515,522.9 512.1,521.7 500.2,515.8 498.7,513.3ZM528.5,319.9 515.4,320.9 514.5,324.5 513.3,336.7 516,348.7 520.9,352.9 537.8,348.1 541.1,344.8 541.8,335.4 542.4,333.7ZM510.5,374.8 495.3,357.8 486.9,363 476.5,362 476.5,376.3 488.1,393.7 478,405.8 477.5,409.8 495.5,421.9 495.7,422.5 509.6,429.4 512.3,424.2 518.2,416.2 521.1,411.9 522.2,410.2 524.3,407.4 522.1,402.3 522.1,390.1 512,374.9ZM501.3,446.1 502.2,443.6 491.1,435.7 489.9,432.9 479.4,430.3 472.8,417 455.7,422.8 459.4,445 469.7,445 478.7,451 480,450.8 500.3,456.6 500.3,456ZM428.5,492.7 444.8,509.1 429.7,518.1 419.2,513.3 407.9,528.3 417.5,541.7 418.7,541.5 439,550.2 448.6,542.6 456.9,541.6 458.8,536.2 450.5,508.5 450.1,508.3 450.1,492.3 462.1,483.8 463.9,484.6 470.6,492.2 467.9,505.6 472.8,509.9 496.1,509.9 496.6,509.7 494.3,505.9 495.3,490 495.9,486.7 497.3,477.9 481.7,470.7 477.1,465.4 456,465.4 455.8,468.1 439.1,481.7 438.6,484.2 428.5,489.8ZM483.2,603.1 475.3,602.2 469.4,620 485.3,620ZM452,625 459.7,639.9 450.6,642.2 448.5,654.8 451.1,657.4 464.9,648.4 466.5,641.9 465,640.8 465.2,619.5 456.9,615.3 456.8,615.3 447.2,607.7 429.6,614.1 435.1,625ZM447.2,606.7 463.1,590.8 449,578.7 442,592.7ZM376.7,614.7 375.9,616.4 377.4,623.2 365.5,635.8 361.8,634.2 356.8,636.8 348,625.3 348,622.2 344.1,618.9 334.3,616.7 334.4,629.7 337.4,637.2 338.5,637.5 342.8,642.6 344.4,643.3 354.5,640.8 361,653.8 365.7,654.7 369.2,658.7 382.1,650.1 383.3,648.5 382.1,644.4 370.9,644.4 369,638.3 378.7,633.6 383.9,640 393.6,637.3 395.1,638.2 405.4,634.7 406.4,628.4 393.8,628.4 396.2,613.1 403.3,612.6 408.9,608.5 426.5,611.5 428.8,592.6 423.5,585.5 441.9,573.3 434.7,560.7 421,563.2 421,584.6 408.8,587.1 404.5,584 399.5,583.3 388.1,589.6 395.8,612.6 377.9,614.1ZM419.5,640.2 413.8,641.3 409.5,646.5 409.5,651.7 409.5,656.5 419.9,660 424.7,655.2 420.6,640.9 436.9,638.9 438.1,637.7 436.3,630.4 419.5,630.4ZM405.7,342.1 406.7,347.9 401.8,356.7 388,354.7 379.9,355.7 378.6,357 386.9,369.4 388.5,378.8 399,389.4 399.5,394.5 398.4,399.7 419.9,418 433.2,400.3 434.3,399.6 436.6,382.1 428.6,374 425.1,372.7 417.1,356.6 417.1,356.3ZM405.6,798.9 398.2,790.5 382.7,792.4 372.5,792.4 370.8,793.7 358.1,792.7 356.7,796 359.8,804.2 369.9,809.3 380,810.3 384.9,809.3 390.1,808.3 398.2,806.3 404.2,800.2ZM396.1,708.5 402.7,704.7 392.1,687.7 379.1,702.6 386,708.5ZM358.7,769.1 358.4,771.3 369.2,763.2 369.6,759.3 359.7,755 358.6,747.6 344.3,744.7 344.7,747.1 351.7,758.2 352.7,759.7Z" fill="#8FA9DE"/><path d="M506.8,574.5 502.1,579.7 488.5,586.5 488.5,597.9 506,599.7 509.8,603.1 515.4,602.6 518.1,604.2 522.9,615.2 526.5,617.9 528.2,616.2 536.2,606.2 541.7,600.7 532,597 525.7,578.4 523.2,576.4 519.2,576.4 510.7,572.7ZM479.8,634.1 489.5,643.8 494.7,645 495.3,643.2 500.2,640.2 501.1,639.3 498.1,633.5 492.2,621.8 486.4,620.8 480,633.5ZM431.7,719.3 419.6,727 420.6,727.9 436.5,733.2 442.2,728.6 440.9,721.4ZM432.4,773.2 425.4,762.6 412.3,758.2 410,761.2 414.8,777.7 417.5,779.6 424.1,776.3ZM388.7,589.5 382.7,589.2 377.6,614.8 396,613.2 396.5,613ZM357.8,778.7 359.7,789 357.8,793.3 370.9,794.4 373,792.8 368.6,779.4ZM335.6,671.9 330.8,668.7 322.5,670.1 320.3,671.6 323.7,680.1 328.4,688 331.2,685.9 346,685.9 347.2,686.8 359.5,680.6 358.6,673.1 354.8,670.3 343.6,672.2 340.7,670.6Z" fill="#D62F27"/><path d="M571.3,364.1 570.3,356 571.6,352.3 558.8,334.5 545.2,332 541.8,333.6 541.2,335.2 540.5,344.8 559.7,363.9 569.1,367.1ZM488,598.6 501.4,614.3 510.3,602.7 506.3,599.1 488.6,597.3ZM496.3,509.2 495.9,509.4 481,527.9 492.4,545 494.9,544.6 499.2,514.1ZM409.6,687.4 402.1,704.7 406.5,706.9 411,729.4 420.1,727.2 420.1,706.8 423.1,704.8 421.2,689.9 430.9,682.7 423,671.6 435.7,663.1 440.6,672.8 434.2,683 438.7,687.9 455.5,687.9 455.5,709.3 462.7,713 465.7,713.1 476,733.8 463.5,739.4 458,754 445.2,748.3 450.4,732.9 441.8,728.1 436.1,732.7 433.7,747.6 438.5,749.8 438.5,766.9 433.1,774.2 435.9,776.3 444,779.3 452.1,778.3 459.8,772.5 460.2,772.3 468.2,768.2 476.3,760.2 480.3,748.1 482.2,736.4 482.3,736.1 486.3,726.1 490.3,714.1 490.7,712.7 494.3,702 494.3,691.9 491.8,687.9 486.5,688.7 469.5,680.1 462.2,682.1 461.3,682.1 454.3,669.5 455.3,666 453.6,662.6 451.4,656.9 448.9,654.4 436.7,654.4 434.9,656.1 424.2,654.8 419.5,659.5 419.5,663.7 419.5,669.6 409,673.5 405.1,680.7ZM382.3,723.2 375.6,726.2 367.7,723.8 364.8,725.3 361.2,738 362.5,741.5 378.2,746 378.2,746.1 376,754.4 386.6,765 385.7,773.4 397.4,777.8 399,779.9 397.8,790.9 405.1,799.3 412.2,792.2 415.3,786.1 416.3,780.2 418.1,779.3 415.3,777.3 410.6,760.9 403.6,762.4 395.7,759 394.6,751.2 388.7,744.2 390.5,741.8 393.6,729.7ZM402.8,749.2 412.5,758.9 417.6,748.8 409.9,737.4 404.8,741.5ZM381.5,664.2 373.1,665.2 375.6,682.4 372.8,685.6 379.2,702.8 379.6,702.9 392.4,688.4 393.3,680.5 393,680.2 390.2,667.5 390.1,667.3 385.9,664.7ZM348.5,695.9 334.4,701.9 335.7,706.1 341.1,716.8 351.5,713 352.9,710.9 367.9,708.4 368.9,706.9 360.1,695.9 350.6,697.2Z" fill="#F58A7F"/><path d="M463.2,712.5 455.9,708.9 449.1,709.3 440.4,721.6 441.6,728.6 450,733.4 453.1,732.7ZM441.2,672.9 436.1,662.5 435.9,662.2 422.2,671.5 430.3,682.9 434.8,683.2ZM420.9,727.4 420.3,726.7 419.8,726.6 411.1,728.8 410.4,729.3 409.6,737.9 417.1,749.2 428.1,746.4 432.8,747.8 434.3,747.7 436.8,732.7ZM405.4,741.4 390.1,741.4 388,744.2 394.2,751.6 403.4,749.3ZM376.2,682.6 373.7,665.3 371.6,664 358,673.1 358.9,680.6 365.1,685.9 373.3,685.9Z" fill="#E8604F"/><path d="M483,603.7 488.6,598.8 489.1,597.7 489.1,586.5 477.5,579.5 465.7,591.4 469.4,599.8 475.4,602.8ZM416.4,543.7 418,541.4 408.4,528 399.7,528.8 398,531.8 401.1,550.3ZM377.7,553.3 382.3,544.9 381.5,540.3 374.6,532.5 378.5,521.7 361.7,507.7 357.7,508.8 359.7,520.1 363.7,540 360.5,556.2 366.5,558.2Z" fill="#4575B5"/><path d="M322.1,635.5 321.8,633M321.8,633 309.3,628.9M312,641.5 322.1,635.5M322.6,670.4 322.8,660.2M322.8,660.2 321.8,659.7M321.8,659.7 317.7,659.7M321.2,671.3 322.6,670.4M322.1,635.5 327.1,639.7M327.1,639.7 328,639.7M328,639.7 337.6,636.9M337.6,636.9 334.7,629.7M334.7,629.7 322.7,629.7M322.7,629.7 321.8,633M322.7,629.7 322.7,624.7M322.7,624.7 309.5,619.3M388.7,378.7 387.2,369.3M387.2,369.3 379.3,357.5M359.6,393.2 388.7,378.7M322.7,624.7 332.2,615.2M332.2,615.2 332,614.6M358,583.6 358.6,580.4M358.6,580.4 351.1,567.3M340.8,587.9 358,583.6M325.1,644.7 324.1,649.7M324.1,649.7 332.2,655.9M332.3,655.8 334.1,651.2M334.1,651.2 328,639.7M327.1,639.7 325.1,644.7M312.9,644.7 325.1,644.7M334.7,629.7 334.6,617.1M334.6,617.1 332.2,615.2M314.9,650.7 321.6,650.7M321.6,650.7 324.1,649.7M321.6,650.7 321.8,659.7M322.8,660.2 330.7,658.2M330.7,658.2 332.2,655.9M322.6,670.4 330.8,669M330.8,669 330.7,658.2M370.9,794.1 358.9,793.1M368.6,807.6 370.9,794.1M329,687.2 331.1,685.6M331.1,685.6 335.5,672.2M335.5,672.2 330.8,669M351.3,712.7 352.7,710.7M352.7,710.7 350.5,697.5M350.5,697.5 348.4,696.2M348.4,696.2 335.4,701.8M341.8,716.3 351.3,712.7M359.4,755.3 358.3,747.8M358.3,747.8 345.3,745.2M353.5,759.2 359.4,755.3M331.1,685.6 346.1,685.6M346.1,685.6 343.5,672.5M343.5,672.5 340.7,670.9M340.7,670.9 335.5,672.2M334.6,617.1 344,619.2M344,619.2 351.7,603.7M351.7,603.7 341.5,598.6M337.6,636.9 338.7,637.3M338.7,637.3 347.7,625.4M347.7,625.4 347.7,622.4M347.7,622.4 344,619.2M340.7,670.9 342.4,660.5M342.4,660.5 342,659M342,659 332.3,655.8M334.1,651.2 343,642.3M343,642.3 338.7,637.3M342,659 346.3,653.8M346.3,653.8 344.5,643M344.5,643 343,642.3M346.1,685.6 347.2,686.4M347.2,686.4 359.2,680.4M359.2,680.4 358.4,673.2M358.4,673.2 354.7,670.6M354.7,670.6 343.5,672.5M344.5,643 354.6,640.4M354.6,640.4 356.7,637.1M356.7,637.1 347.7,625.4M342.4,660.5 353.7,664.4M353.7,664.4 357,655.9M357,655.9 346.3,653.8M354.7,670.6 353.7,664.4M348.4,696.2 347.2,686.4M347.7,622.4 356.7,619.8M356.7,619.8 356.7,603.7M356.7,603.7 351.7,603.7M350.5,697.5 360,696.2M360,696.2 365.2,685.6M365.2,685.6 359.2,680.4M374.3,483.1 366.8,467.7M366.8,467.7 357.6,467.7M368.8,490.2 374.3,483.1M366.8,467.7 383.5,456.6M383.5,456.6 375.3,446.8M375.3,446.8 358.6,444.4M356.7,603.7 357.9,603.1M357.9,603.1 361.5,588.8M361.5,588.8 358,583.6M357,655.9 361.2,653.5M361.2,653.5 354.6,640.4M358.4,673.2 371.6,664.4M371.6,664.4 369.2,658.3M369.2,658.3 365.8,654.4M365.8,654.4 361.2,653.5M356.7,619.8 363.6,622.8M363.6,622.8 376.3,616.4M376.3,616.4 377,614.9M377,614.9 369.5,607.5M369.5,607.5 357.9,603.1M356.7,637.1 361.9,634.6M361.9,634.6 363.6,622.8M365.8,654.4 370.7,644.7M370.7,644.7 368.6,638.2M368.6,638.2 365.5,636.1M365.5,636.1 361.9,634.6M361.5,738 348.5,735.4M358.3,747.8 362.7,741.2M362.7,741.2 361.5,738M362.7,741.2 378.3,745.7M378.3,745.7 375.6,726.5M375.6,726.5 367.7,724.2M367.7,724.2 365.1,725.5M365.1,725.5 361.5,738M347.3,729.2 359.9,724.2M359.9,724.2 351.3,712.7M359.4,755.3 369.3,759.5M369.3,759.5 376.3,754.3M376.3,754.3 378.6,746M352.7,710.7 367.7,708.2M367.7,708.2 368.6,706.9M368.6,706.9 360,696.2M365.2,685.6 373.1,685.6M373.1,685.6 375.9,682.5M375.9,682.5 373.4,665.4M373.4,665.4 371.6,664.4M365.1,725.5 359.9,724.2M367.7,724.2 367.7,708.2M368.6,706.9 379.5,702.6M379.5,702.6 373.1,685.6M359.5,770.1 368.9,763.1M368.9,763.1 369.3,759.5M366.5,557.9 377.4,553M377.4,553 382,544.9M382,544.9 381.2,540.4M381.2,540.4 374.2,532.6M374.2,532.6 378.1,521.8M378.1,521.8 362.2,508.5M361.4,556.2 366.5,557.9M361.5,588.8 373.8,590.3M373.8,590.3 380.3,588.2M380.3,588.2 376.9,574.1M376.9,574.1 371.6,571.7M371.6,571.7 358.6,580.4M371.6,571.7 366.5,557.9M369.5,607.5 373.8,590.3M370.9,794.1 372.6,792.7M372.6,792.7 368.3,779.7M368.3,779.7 358.8,779.1M365.5,636.1 377.8,623.3M377.8,623.3 376.3,616.4M398.1,790.8 382.8,792.7M382.8,792.7 384.7,808.4M404.7,798.4 398.1,790.8M382.8,792.7 372.6,792.7M374.6,774.5 368.9,763.1M368.3,779.7 374.6,774.5M382.8,792.7 382.8,775.4M382.8,775.4 374.6,774.5M378.1,521.8 389.3,515.1M389.3,515.1 389.9,513M389.9,513 384.1,501.4M384.1,501.4 369.1,495.3M385.7,457.7 386.8,471.7M386.8,471.7 415.3,471.6M415.3,471.6 416.1,468.7M416.1,468.7 415.4,466.6M415.4,466.6 426.1,439.9M426.1,439.9 424,435.2M424,435.2 420.9,433.2M420.9,433.2 406.2,434.9M406.2,434.9 392.1,424.6M392.1,424.6 382.6,428.6M382.6,428.6 358.9,413.8M383.5,456.6 385.7,457.7M374.3,483.1 386.5,476.3M386.5,476.3 386.8,471.7M375.6,726.5 382.3,723.5M382.3,723.5 386.1,708.2M386.1,708.2 379.5,702.6M382.8,775.4 386,773.2M386,773.2 387,764.9M387,764.9 376.3,754.3M369.2,658.3 381.9,649.9M381.9,649.9 383,648.4M383,648.4 381.9,644.7M381.9,644.7 370.7,644.7M381.9,644.7 384,639.7M384,639.7 378.8,633.2M378.8,633.2 368.6,638.2M416.8,356.7 424.9,372.9M424.9,372.9 428.4,374.3M428.4,374.3 436.3,382.2M436.3,382.2 445.4,381M445.4,381 462.2,357.4M407,344.2 416.8,356.4M377,614.9 378,614.4M378,614.4 383,589.5M383,589.5 380.3,588.2M381.2,540.4 398.3,531.9M398.3,531.9 399.9,529.1M399.9,529.1 389.3,515.1M378.8,633.2 378.8,625.9M378.8,625.9 377.8,623.3M376.9,574.1 388.4,566.7M388.4,566.7 377.4,553M378.8,625.9 392.8,630.7M392.8,630.7 393.4,628.7M393.4,628.7 395.9,612.9M395.9,612.9 378,614.4M373.4,665.4 381.5,664.5M381.5,664.5 381.9,649.9M392.1,424.6 393.6,405.7M393.6,405.7 359,405.7M393.6,405.7 398.8,399.6M398.8,399.6 399.8,394.5M399.8,394.5 399.3,389.2M399.3,389.2 388.7,378.7M384.1,501.4 396.6,486.4M396.6,486.4 386.5,476.3M383,648.4 388.9,651.9M388.9,651.9 395.8,650.8M395.8,650.8 397.6,646.6M397.6,646.6 395.1,637.9M395.1,637.9 393.6,636.9M393.6,636.9 384,639.7M381.5,664.5 385.8,665M385.8,665 388.9,651.9M375.9,682.5 392.7,680.4M392.7,680.4 389.9,667.6M389.8,667.6 385.8,665M379.5,702.6 392.1,688.2M392.1,688.2 393,680.6M378.6,746 388.4,744.2M388.4,744.2 390.3,741.7M390.3,741.7 393.2,729.8M393.2,729.8 382.3,723.5M383,589.5 388.5,589.8M388.5,589.8 399.6,583.7M399.6,583.7 390.6,566.8M390.6,566.8 388.4,566.7M387,764.9 395.4,759.3M395.4,759.3 394.3,751.3M394.3,751.3 388.4,744.2M398.1,790.8 399.3,779.8M399.3,779.8 397.6,777.5M397.6,777.5 386,773.2M399.3,389.2 424.9,372.9M393.6,636.9 392.8,630.7M390.6,566.8 400,557.4M400,557.4 399.6,552.4M399.6,552.4 382,544.9M396.1,612.8 388.5,589.8M389.8,667.6 399.4,658M399.4,658 396.3,651.7M396.3,651.7 395.8,650.8M386.1,708.2 396,708.2M396,708.2 402.3,704.6M402.3,704.6 392.1,688.2M396.1,612.8 403.2,612.3M403.2,612.3 408.8,608.2M408.8,608.2 408.8,587.4M408.8,587.4 404.4,584.3M404.4,584.3 399.6,583.7M404.4,584.3 410.6,564.1M410.6,564.1 400,557.4M389.9,513 408.1,504.9M408.1,504.9 405,487.7M405,487.7 396.6,486.4M399.6,552.4 401.3,549.9M401.3,549.9 398.3,531.9M395.1,637.9 405.2,634.5M405.2,634.5 406.1,628.7M406.1,628.7 393.4,628.7M406.1,628.7 407.6,624.2M407.6,624.2 403.2,612.3M393.2,729.8 399.2,727.2M399.2,727.2 396,708.2M399.9,529.1 408.3,528.3M408.3,528.3 419.3,513.6M419.3,513.6 418.1,511.3M418.1,511.3 408.1,504.9M420.9,433.2 419.8,417.6M419.8,417.6 398.8,399.6M393,680.6 405.4,680.6M405.4,680.6 409.3,673.8M409.3,673.8 406.2,667.6M406.2,667.6 389.9,667.6M397.6,777.5 403.6,762.7M403.6,762.7 395.4,759.3M390.3,741.7 405,741.7M405,741.7 409.9,737.8M409.9,737.8 410.7,729.5M410.7,729.5 399.2,727.2M406.2,667.6 405.6,663.7M405.6,663.7 404.9,659.6M404.9,659.6 399.4,658M417,778.8 415,777.5M415,777.5 399.3,779.8M394.3,751.3 403.2,749.1M403.2,749.1 405,741.7M405,487.7 414.2,480.2M414.2,480.2 415.3,471.6M403.6,762.7 410.4,761.2M410.4,761.2 412.4,758.6M412.4,758.4 403.2,749.1M415,777.5 410.4,761.2M396.3,651.7 409.8,651.7M409.8,651.7 409.8,646.6M409.8,646.6 397.6,646.6M401.3,549.9 416.2,543.4M416.2,543.4 417.6,541.4M417.6,541.4 408.3,528.3M418.1,511.3 428.8,492.6M428.8,492.6 428.8,489.9M428.8,489.9 414.2,480.2M410.6,564.1 419.5,562.7M419.5,562.7 416.2,543.4M405.2,634.5 414,641.6M414,641.6 419.8,640.4M419.8,640.4 419.8,630.7M419.8,630.7 419.6,629M419.6,629 407.6,624.2M409.8,646.6 414,641.6M402.5,704.5 409.9,687.3M409.9,687.3 405.4,680.6M404.9,659.6 409.8,656.3M409.8,656.3 409.8,651.7M410.7,729.5 411.3,729.1M411.3,729.1 406.8,706.7M406.8,706.7 402.5,704.5M412.4,758.4 417.2,748.8M417.2,748.8 409.9,737.8M408.8,587.4 421.3,584.8M421.3,584.8 421.3,563.5M421.3,563.5 419.5,562.7M419.6,629 429.5,614.1M429.5,614.1 426.2,611.1M426.2,611.1 408.8,608.2M416.1,468.7 432.8,468.7M432.8,468.7 447.4,454.1M447.4,454.1 426.1,439.9M405.6,663.7 419.8,663.7M419.8,663.7 419.8,659.6M419.8,659.6 409.8,656.3M409.3,673.8 419.8,669.8M419.8,669.8 419.8,663.7M417.2,748.8 428.1,746.1M428.1,746.1 420.8,727.7M420.8,727.7 420.1,727M419.8,726.9 411.3,729.1M419.8,417.6 433,400.1M433,400.1 434,399.5M434,399.5 436.3,382.2M417.6,541.4 418.7,541.2M418.7,541.2 431.5,525.3M431.5,525.3 429.7,518.5M429.7,518.5 419.3,513.6M419.8,659.6 424.4,655.1M424.4,655.1 420.2,640.7M420.2,640.7 419.8,640.4M412.4,758.6 425.2,762.8M425.2,762.8 432.9,747.5M432.9,747.5 428.1,746.1M409.9,687.3 420.9,689.8M420.9,689.8 430.5,682.6M430.5,682.6 422.6,671.6M422.6,671.6 419.8,669.8M431.6,772.5 425.2,762.8M456.4,764.1 438.8,767M438.8,767 433.8,773.6M459.4,771.7 456.4,764.1M438.8,767 438.8,749.6M438.8,749.6 434,747.4M434,747.4 432.9,747.5M535,300.1 550.3,291.6M523.8,290.9 535,300.1M567.4,307.4 573.9,309.3M557.4,293.1 567.4,307.4M428.8,489.9 438.8,484.4M438.8,484.4 439.3,481.9M439.3,481.9 432.8,468.7M424,435.2 450,419.5M450,419.5 447.3,410.1M447.3,410.1 434,399.5M406.8,706.7 419.8,706.7M419.8,706.7 422.8,704.7M422.8,704.7 420.9,689.8M419.8,726.9 419.8,706.7M422.6,671.6 435.8,662.6M435.8,662.6 435,656.4M435,656.4 424.4,655.1M421.3,563.5 434.5,561.1M434.5,561.1 439,549.9M439,549.9 418.7,541.2M426.2,611.1 428.5,592.7M428.5,592.7 423.1,585.5M423.1,585.5 421.3,584.8M419.8,630.7 436.1,630.7M436.1,630.7 435.3,624.7M435.3,624.7 430.1,614.2M430.1,614.2 429.5,614.1M430.1,614.2 447.2,608M447.2,608 447.3,606.1M447.3,606.1 442.3,592.7M442.3,592.7 428.5,592.7M422.8,704.7 429,705.9M429,705.9 438.8,702.7M438.8,702.7 438.8,687.6M438.8,687.6 434.6,682.9M434.6,682.9 430.5,682.6M420.1,727 431.8,719.6M431.8,719.6 429,705.9M510.4,375.1 511.9,375.2M511.9,375.2 521.9,368M521.9,368 521,352.6M521,352.6 517.1,349.2M495.7,358.6 510.4,375.1M429.7,518.5 445.3,509.1M445.3,509.1 428.8,492.6M420.2,640.7 436.8,638.6M436.8,638.6 437.8,637.6M437.8,637.6 436.1,630.7M423.1,585.5 441.5,573.2M441.5,573.2 434.5,561.1M434,747.4 436.4,732.9M436.4,732.9 420.8,727.7M439,549.9 448.5,542.4M448.5,542.4 431.5,525.3M441.5,573.2 448.6,577.1M448.6,577.1 453.7,572.8M453.7,572.8 458.3,543.1M458.3,543.1 456.7,541.3M456.7,541.3 448.5,542.4M442.3,592.7 449.1,579.2M449.1,579.2 448.6,577.1M434.6,682.9 440.9,672.9M440.9,672.9 435.8,662.7M435,656.4 436.8,654.7M436.8,654.7 436.8,638.6M447.4,454.1 450.7,454.5M450.7,454.5 459.6,444.7M459.6,444.7 456,423M456,423 450,419.5M445.3,509.1 449.8,508.5M449.8,508.5 449.8,492.2M449.8,492.2 438.8,484.4M435.3,624.7 452.3,624.7M452.3,624.7 456.7,615.6M456.7,615.6 447.2,608M435.8,662.7 453.3,662.7M453.3,662.7 451.2,657M451.2,657 448.8,654.7M448.8,654.7 436.8,654.7M436.4,732.9 441.9,728.4M441.9,728.4 440.7,721.6M440.7,721.6 431.8,719.6M440.7,721.6 449.3,709.6M449.3,709.6 438.8,702.7M439.3,481.9 456.1,468.3M456.1,468.3 456.3,465.7M456.3,465.7 450.7,454.5M456.7,541.3 458.5,536.2M458.5,536.2 450.2,508.7M456.4,764.1 458.1,754.4M458.1,754.4 444.9,748.5M444.9,748.5 438.8,749.6M444.9,748.5 450,733.1M450,733.1 441.9,728.4M528.4,320.2 535.4,302.7M535.4,302.7 535,300.1M516.3,321.1 528.4,320.2M437.8,637.6 442.5,637.6M442.5,637.6 452.3,624.8M440.9,672.9 454,669.6M454,669.6 455,666.1M455,666.1 453.3,662.7M447.3,606.1 462.7,590.8M462.7,590.8 449.1,579.2M448.8,654.7 450.8,642.4M450.8,642.4 442.5,637.6M449.8,492.2 462.1,483.4M462.1,483.4 456.1,468.3M456,423 472.7,417.4M472.7,417.4 477.8,409.7M477.8,409.7 478.3,405.9M478.3,405.9 460.5,397M460.5,397 458.6,387.6M458.6,387.6 445.4,381M449.3,709.6 455.8,709.2M455.8,709.2 455.8,687.6M455.8,687.6 438.8,687.6M450,733.1 452.9,732.4M452.9,732.4 462.8,712.7M462.8,712.7 455.8,709.2M450.8,642.4 460.1,640.1M460.1,640.1 452.3,624.8M451.2,657 464.7,648.2M464.7,648.2 466.2,642.1M466.2,642.1 464.7,641M464.7,641 460.1,640.1M455,666.1 466.9,660.9M466.9,660.9 464.7,648.2M455.8,687.6 461.1,682.4M461.1,682.4 454,669.6M464.7,641 464.9,619.7M464.9,619.7 456.8,615.6M478.3,405.9 488.5,393.7M488.5,393.7 476.8,376.2M476.8,376.2 476.8,362.9M458.2,754.4 463.7,739.6M463.7,739.6 452.9,732.4M462.8,712.7 465.9,712.8M465.9,712.8 469.7,710M469.7,710 472.5,703M472.5,703 462.2,682.4M462.2,682.4 461.1,682.4M476.5,756.7 458.2,754.4M462.7,590.8 466,591.5M466,591.5 477.6,579.9M477.6,579.9 475.6,571.4M475.6,571.4 474,570.3M474,570.3 453.7,572.8M456.8,615.6 469.7,599.6M469.7,599.6 466,591.5M450.2,508.7 468.2,505.5M468.2,505.5 470.9,492.2M470.9,492.2 464.1,484.3M464.1,484.3 462.1,483.4M456.3,465.7 476.9,465.7M476.9,465.7 478.8,450.7M478.8,450.7 469.8,444.7M469.8,444.7 459.6,444.7M458.3,543.1 466.5,547.8M466.5,547.8 491.4,545.5M491.4,545.5 492.5,544.7M492.5,544.7 481.4,528M481.4,528 470.8,526.6M470.8,526.6 458.5,536.2M462.2,682.4 469.5,680.5M469.5,680.5 475.6,666.1M475.6,666.1 469.9,662.1M469.9,662.1 466.9,660.9M470.8,526.6 472.9,509.6M472.9,509.6 468.2,505.5M474,570.3 466.5,547.8M463.7,739.6 476.5,733.9M476.5,733.9 465.9,712.8M466.2,642.1 467.3,642M467.3,642 475.2,635.4M475.2,635.4 469.7,619.7M469.7,619.7 464.9,619.7M464.1,484.3 481.5,471M481.5,471 476.9,465.7M478.8,450.7 480,450.5M480,450.5 499.4,456M501.3,443.4 490.9,435.9M490.9,435.9 489.7,433.2M489.7,433.2 479.2,430.6M479.2,430.6 472.7,417.4M469.8,619.7 475.5,602.5M475.5,602.5 469.7,599.6M476.5,733.9 481.4,736.1M489.9,712.5 469.7,710M470.9,492.2 494.9,486.8M496.4,477.8 481.5,471M469.9,662.1 477.1,648.5M477.1,648.5 467.3,642M531.7,597.3 518.3,604M518.3,604 523.2,615M523.2,615 526,617.1M540.6,600.6 531.7,597.3M488.5,393.7 490.5,393.7M490.5,393.7 502.5,411.7M502.5,411.7 520.2,411.7M523.7,406.7 521.8,402.3M521.8,402.3 521.8,390.2M521.8,390.2 511.9,375.2M475.6,571.4 486.6,564.6M486.6,564.6 491.4,545.5M489.7,433.2 495.9,422.3M495.9,422.3 495.8,421.7M495.8,421.7 477.8,409.7M475.5,602.5 482.9,603.4M482.9,603.4 488.4,598.6M488.4,598.6 488.8,597.6M488.8,597.6 488.8,586.7M488.8,586.7 477.6,579.9M472.9,509.6 495.5,509.6M475.2,635.4 480.1,634M480.3,633.7 486.6,621.1M486.6,621.1 484.9,619.7M484.9,619.7 469.8,619.7M472.5,703 486.5,689M486.5,689 469.5,680.5M475.6,666.1 485.2,664.2M485.2,664.2 477.2,648.5M484.9,619.7 482.9,603.4M477.2,648.5 489.6,643.5M489.6,643.5 480.1,634M480.3,633.7 497.9,633.7M497.9,633.7 492,622M492,622 486.6,621.1M486.5,689 491,688.3M487.6,664.6 485.2,664.2M481.4,528 495.7,510M489.6,643.5 494,644.5M500.4,638.7 497.9,633.7M492.5,544.7 494.6,544.3M494.6,544.3 498.8,515.1M488.8,586.7 502.3,579.9M502.3,579.9 507,574.7M507,574.7 486.6,564.6M492,622 501.1,615.1M501.1,615.1 501.4,613.8M501.4,613.8 488.4,598.6M494.6,544.3 502.9,546.4M502.9,546.4 514.4,523.6M523.2,615 509.2,620.6M509.2,620.6 509.8,624.4M495.9,422.3 508.9,428.8M509.2,620.6 501.1,615.1M507,574.7 510.7,573M510.7,573 509.2,551.2M509.2,551.2 502.9,546.4M488.8,597.6 506.2,599.4M506.2,599.4 502.3,579.9M501.4,613.8 509.9,602.8M509.9,602.8 506.2,599.4M509.9,602.8 515.5,602.3M515.5,602.3 519.1,576.7M519.1,576.7 510.7,573M509.2,551.2 528.7,544.7M518.3,604 515.5,602.3M546.2,388.5 537.8,382.2M537.8,382.2 535.1,369.8M535.1,369.8 534.1,369.1M534.1,369.1 521.9,368M519.1,576.7 523.1,576.7M523.1,576.7 536.5,561.4M521,352.6 537.6,347.8M537.6,347.8 540.8,344.6M540.8,344.6 541.5,335.3M541.5,335.3 542,333.8M542,333.8 528.4,320.2M531.7,597.3 525.5,578.6M525.5,578.6 523.1,576.7M540.8,344.6 559.9,363.7M559.9,363.7 568.4,366.5M570.8,351.7 558.7,334.8M558.7,334.8 545.2,332.3M545.2,332.3 542,333.8M552.5,585.3 525.5,578.6M534.1,369.1 537.6,347.8" fill="none" stroke="#5e5e5e" stroke-width="0.9"/></g><use href="#swe" fill="none" stroke="#5a5a5a" stroke-width="1"/></g><g transform="translate(-9.8,1397.7)"><g clip-path="url(#cl)"><use href="#swe" fill="#FF5500"/><path d="M451.2,90 592.2,90 580.1,136.7 575.1,148.4 570.1,158.5 565,170.6 561,179.1 551.9,176.6 539.8,172.6 523.7,164.5 507.6,160.1 491.5,160.5 480.4,155.5 471.3,140.4Z" fill="#730000" stroke="#6e6e6e" stroke-width="0.9"/><path d="M451.2,150.4 471.3,140.4 480.4,155.5 491.5,160.5 507.6,160.1 523.7,164.5 539.8,172.6 551.9,176.6 561,179.1 561.6,188.7 567.6,199.8 571.7,208.9 567,214.9 570.5,227.4 552.9,235.5 543.9,218.9 531.8,210.9 519.7,198.8 507.6,190.7 497.5,184.3 485.4,174.6 471.3,167 459.2,160.9Z" fill="#730000" stroke="#6e6e6e" stroke-width="0.9"/><path d="M439.1,190.7 443.1,174.6 459.2,160.9 471.3,167 485.4,174.6 497.5,184.3 507.6,190.7 519.7,198.8 531.8,210.9 543.9,218.9 552.9,235.5 541.9,233.5 535.8,249.2 531.8,257.2 519.7,251.2 505.6,247.2 502.6,239.1 499.5,229 483.4,221 471.3,214.9 461.3,206.9 450.8,198.8Z" fill="#A80000" stroke="#6e6e6e" stroke-width="0.9"/><path d="M414.9,231 431,210.9 450.8,198.8 461.3,206.9 471.3,214.9 483.4,221 499.5,229 502.6,239.1 505.6,247.2 498.5,255.2 497.5,267.3 493.9,276.4 493.9,284.4 479.4,272.3 467.3,266.3 451.2,258.2 435.1,251.2 419,249.2Z" fill="#A80000" stroke="#6e6e6e" stroke-width="0.9"/><path d="M580.1,136.7 612.4,120.2 612.4,198.8 592.2,198.8 593.2,210.9 586.2,207.9 571.7,208.9 567.6,199.8 561.6,188.7 561,179.1 565,170.6 570.1,158.5 575.1,148.4Z" fill="#FF7F7F" stroke="#6e6e6e" stroke-width="0.9"/><path d="M590.8,197.1 611,197.1 611,236.4 605.9,237.4 598.9,243.5 594.8,238.4 591.8,225.3 588.8,213.2 594.8,211.2Z" fill="#FF5500" stroke="#6e6e6e" stroke-width="0.9"/><path d="M568.7,208.2 574.7,209.2 588.8,213.2 591.8,225.3 594.8,238.4 589.8,239.4 585.8,237.4 577.7,240.4 570.7,234.4 566.6,228.4 569.7,225.3 566.6,214.3Z" fill="#FFA77F" stroke="#6e6e6e" stroke-width="0.9"/><path d="M547.5,232.4 554.5,235.4 566.6,228.4 570.7,235.4 568.7,245.5 567.6,251.5 571.7,256.6 568.7,263.6 558.6,268.1 545.5,256.6 535.9,252 539.9,242.5 542.5,236.4Z" fill="#FF7F7F" stroke="#6e6e6e" stroke-width="0.9"/><path d="M535.9,252 545.5,256.6 558.6,268.1 554.5,275.7 550.5,275.7 542.5,271.7 535.4,272.7 532.4,261.6Z" fill="#FF7F7F" stroke="#6e6e6e" stroke-width="0.9"/><path d="M570.7,235.4 577.7,240.4 580.7,245.5 584.8,258.6 590.8,264.6 597.9,280.7 604.9,295.8 590.8,300.9 578.7,295.8 575.7,290 568.7,280.7 558.6,268.1 568.7,263.6 571.7,256.6 567.6,251.5 568.7,245.5Z" fill="#FF5500" stroke="#6e6e6e" stroke-width="0.9"/><path d="M577.7,240.4 585.8,237.4 589.8,239.4 594.8,238.4 598.9,243.5 604.9,252.5 606.9,265.6 612,276.2 600.9,281.7 597.9,280.7 590.8,264.6 584.8,258.6 580.7,245.5Z" fill="#FF5500" stroke="#6e6e6e" stroke-width="0.9"/><path d="M598.9,243.5 605.9,237.4 610,240.4 615,250.5 618,260.6 617,270.7 612,276.2 606.9,265.6 604.9,252.5Z" fill="#FF5500" stroke="#6e6e6e" stroke-width="0.9"/><path d="M493.1,276.3 496.7,271.4 496.7,264.2 497.9,256.9 503.9,252.1 508.2,246.5 518.3,251.5 527.3,252.5 532.4,256.6 532.4,261.6 535.4,272.7 532.4,276.7 526.9,285.9 518.4,296.8 506.4,288.4 494.3,281.1Z" fill="#FF5500" stroke="#6e6e6e" stroke-width="0.9"/><path d="M524.3,280.7 532.4,276.7 542.5,271.7 550.5,275.7 554.5,275.7 558.6,268.1 568.6,280.7 575,289 580,296 590,300 576,302 574,306 568,300 558.9,292.8 544.8,289.8 532.7,286.8 524.6,285.8Z" fill="#FF5500" stroke="#6e6e6e" stroke-width="0.9"/><path d="M425.4,250.6 435.5,240.6 446.8,247.4 456.5,254.7 465.3,259.5 481.4,274.8 493.5,279.6 494.3,284.5 491.1,294.1 487.9,303 477.4,295.8 466.9,290.9 458.9,282.9 457.2,278 447.6,274 437.1,267.5 430.6,259.5Z" fill="#FF5500" stroke="#6e6e6e" stroke-width="0.9"/><path d="M505,625 565,625 565,740 505,740 500,725 495.6,705 495.6,690 498,675 505,660Z" fill="#E60000" stroke="#6e6e6e" stroke-width="0.9"/><path d="M405,250 425.4,250.6 430.6,259.5 437.1,267.5 447.6,274 457.2,278 458.9,282.9 466.9,290.9 477.4,295.8 487.9,303 487.2,311.7 480.8,321.3 477.5,319.2 469,313.8 458.2,307.4 452.8,298.8 447.5,291.3 442.1,288 426,287 405,286Z" fill="#E60000" stroke="#6e6e6e" stroke-width="0.9"/><path d="M405,286 426,287 442.1,288 447.5,291.3 452.8,298.8 458.2,307.4 469,313.8 477.5,319.2 480.8,321.3 484,331 479.7,334.2 467.9,340.7 461.4,337.5 453.9,333.2 448.5,326.7 443.2,320.3 434.6,314.9 426,311.7 419.5,309.5 411.5,303.1 405,303Z" fill="#FF5500" stroke="#6e6e6e" stroke-width="0.9"/><path d="M419.5,309.5 426,311.7 434.6,314.9 443.2,320.3 448.5,326.7 453.9,333.2 461.4,337.5 467.9,340.7 462.5,341.8 467.7,360.9 458.2,353.6 448.5,345 441,337.5 438.9,332.1 432.4,324.6 426,319.2Z" fill="#FF7F7F" stroke="#6e6e6e" stroke-width="0.9"/><path d="M461.6,341.5 474.9,335.5 485.8,333.1 496.7,337.9 508.8,352.4 496.7,357.3 487,363.3 474.9,362.1 467.7,360.9Z" fill="#FFA77F" stroke="#6e6e6e" stroke-width="0.9"/><path d="M493.1,295.6 506.4,305.9 517.2,315 514.8,324.6 513.6,336.7 517.2,352.4 508.8,352.4 496.7,337.9 485.8,333.1 484,331 480.8,321.3 487.2,311.7 487.9,303 489.4,302.9Z" fill="#FF5500" stroke="#6e6e6e" stroke-width="0.9"/><path d="M494.3,281.1 506.4,288.4 518.4,296.8 506.4,305.9 493.1,295.6 489.4,302.9 493.1,290.8Z" fill="#FF7F7F" stroke="#6e6e6e" stroke-width="0.9"/><path d="M592.4,201.4 592,201.5 592.8,210.3 586.2,207.5 570.4,208.6 570.3,208.9 574.6,209.6 588.8,213.7 595.3,211.5Z" fill="#FF7F7F"/><path d="M532,256.8 532,263.5 532.1,263.5 536.3,252.2 540.3,242.6 542.8,236.7 546.3,233.9 541.6,233 535.4,249 531.7,256.5Z" fill="#A80000"/><path d="M618.4,260 614.4,245.9 610.3,237.7 608.5,236.5 605,237.2 609.6,240.7 614.6,250.7 618.1,262.4 618.2,262.4Z" fill="#FF5500"/><path d="M498,257.4 504.2,252.4 508,247.4 505.5,246.7 498.1,255Z" fill="#FF5500"/><path d="M494.3,284.6 493.9,284.5 490.7,294 487.3,303.4 489.7,303.3 493.5,290.9Z" fill="#FF5500"/><path d="M535,272.6 531.1,277.8 542.5,272.1 550.4,276.1 552.2,276.1 542.5,271.3 535.7,272.2 534,265.8 533.2,266Z" fill="#FF7F7F"/><path d="M486.5,333.3 484.1,330.5 479.5,333.9 477.1,335.2 477.1,335.4Z" fill="#FFA77F"/><path d="M415.6,249.7 415.6,250.7 425.6,251 426.8,249.7 419.7,248.9Z" fill="#E60000"/><path d="M567.2,228.5 566.4,228.8 570.4,235.7 579.1,241.9 579.5,241.4 571,234.1Z" fill="#FFA77F"/><path d="M476.6,270.5 476.5,270.7 481.2,275.1 484.9,276.6 485,276.5 479.6,272Z" fill="#FF5500"/><path d="M518.2,251.9 522.8,252.4 522.8,252.3 519.8,250.8 513.1,248.9 512.9,249.3Z" fill="#FF5500"/><path d="M562,231.5 561.7,231 552.8,235.1 554.6,235.9Z" fill="#FF7F7F"/><path d="M497.1,267.4 497.1,267.4 493.8,275.5 494.1,275.7 497.1,271.5Z" fill="#FF5500"/><path d="M493.8,277.5 493.5,277.5 493.5,282.1 494,285 494.2,285 494.7,281.1Z" fill="#A80000"/><path d="M605.8,276 605.3,275.4 599,280.7 597.1,280.1 597.8,281.6 596.2,283 596.7,283.6Z" fill="#FF5500"/><path d="M515.1,322.2 528.4,321.2 542.1,334.9 545.3,333.3 558.6,335.8 571.2,353.4 572.3,350.1 574.3,344.1 580.3,336.1 581.3,326 578.3,317.9 575.1,310 567.7,307.8 556.6,292 552,291 535.2,300.4 523,290.4 518.2,296.6 505.9,305.9 516.9,315.1ZM544.2,392.2 556.2,378.2 568.2,368.2 569.8,366 556.5,363.7 541,353.3 527.9,360.9 516.1,349.1 516.8,352.1 508.7,352.1 496.6,357 494.5,358.3 510.4,376.1 521.4,377.1 525.2,382.3 533.2,387.1 539.4,395.8ZM505.7,518.5 504.6,521.3 504.6,550.1 504.2,551 510.2,557 530.1,551.3 529.3,540 528.6,531.4 528.3,527.8 522.1,525.7 512.1,521.7ZM494.3,505.9 495.3,490 495.5,489 486.9,489 470.8,492.6 468.4,504.5 472.9,510.4 467.5,526.8 465,528.5 457.9,541.8 459.3,543.4 462.6,545.2 488.2,547.8 488.2,538.3 481.8,528.7 496.3,510.6 497,510.3ZM458.4,353.4 448.7,344.8 441.3,337.3 439.2,331.9 432.6,324.4 426.2,319 419.7,309.3 411.6,302.8 410.2,302.8 405.7,309.9 401.7,319.9 397.6,328 404.7,336.1 405.7,342 406,344.1 416.6,357.2 416.6,357.4 424.8,373.9 428.3,375.3 436.1,383 433.8,400.3 447.2,411 449.9,420.4 456.1,424 472.9,418.4 478.2,410.5 478.7,406.7 488.9,394.4 477.2,376.8 477.2,362 474.9,361.8 467.8,360.6 463.1,357ZM476.6,620.6 480,622 481.3,622.4 483.9,621.5 486.9,601.6 472.1,600.6ZM429.5,644.4 429.5,644.4 430.3,652.4 431.8,653.7 443.8,653.7 446.1,646.6 448,644.7 460.1,644.7 463,638.7 451.5,631.1 450.8,631.4 447.8,633.1 440.1,633.1 434.8,625.2 438.3,618.2 441.5,608.7 436.9,603.6 412.2,617.7 412.6,618.3 431.6,626 423.9,636ZM434.4,545.7 423.1,564.5 441,569 444.3,542.4 441.5,541.9 422.4,520 423.3,514.9 408.2,505.3 389.8,513.5 389.1,515.8 399.1,529.2 414.6,527.7 414.6,544.2 416.4,545.7ZM417,779.1 401.5,779.1 400.1,788.8 408.7,795.7 412.2,792.2 415.3,786.1 416.3,780.2 417.6,779.5ZM396.9,665 399.1,651.7 390.2,648.8 390.2,646.2 388.7,638 378.6,638 375,642.3 378.6,649.6 385.6,651.9 385.6,654.6 395.9,664.6ZM363.7,540 361.7,549.9 360.3,556.8 366.3,558.8 371.7,573.1 375.6,575.2 375.6,590.7 378.6,593.1 390,591.5 398.4,584.2 389.4,570.6 392.5,557.9 383.3,551.1 381.6,541 374.7,533.2 378.6,522.4 361.1,507.8 357.7,508.8 359.7,520.1ZM357.5,660.9 357.5,669.2 365.3,671.8 371.2,670.1 369.3,657.8 366,655.9 363.5,656.1ZM340.7,579.9 339.8,588.8 339.7,590 340.7,599.6 358.2,606.2 362.9,592 357.3,584.5 358.3,579.8 350.7,566.5 345.7,567.8 344.7,573.9ZM337.6,638.6 350.2,638.6 348.1,630.3 337.6,619.6 337.2,619.5 333.4,616.5 328.1,619.6 314.3,619.6 309.3,618.3 307.7,619.9 308.7,632 310.2,637.8 320.6,634.9 321.2,634.4 322.8,633.7 332.9,637.7 333.8,637.3Z" fill="#FF7F7F"/><path d="M559,292.5 555.7,291.8 567.3,308.3 575.4,310.7 574.3,308 576.8,300.7 576.4,300.5 573.9,305.5 568.2,299.8ZM535.1,301.1 552.9,291.2 544.9,289.5 532.8,286.5 526.6,285.7 522.6,290.9ZM541.2,353.9 541.2,337.7 542.5,334.4 528.6,320.6 515.2,321.6 514.5,324.5 513.3,336.7 516.4,350.2 527.8,361.7ZM528.2,402.2 536.2,398.3 539.9,395.4 533.6,386.6 525.7,381.9 521.7,376.5 510.6,375.5 495,358 486.9,363 476.6,362 476.6,377 488.2,394.4 478.1,406.5 477.6,410.3 472.4,418.1 479.1,431.5 489.6,434.1 490.8,436.8 501.8,444.7 504.3,438.1 508.3,432.2 509.5,429.7 512.3,424.2 518.2,416.2 519.3,414.6 522.2,410.2ZM502.6,607.4 506.1,617.9 501.7,623.9 505.3,632.9 505.3,632.9 505.3,625.3 519.1,625.3 526.6,617.8 523.5,615.5 518.6,604.5 514,601.7 502.9,606.1ZM481.1,528.6 487.9,538.8 505.2,521.5 506.2,518.8 500.2,515.8 496.6,509.8 496,510.1ZM407.6,396.5 403.2,404.4 419.6,418.5 420.7,434 423.8,436.1 425.9,440.6 418.2,459.7 430.3,469.4 416.9,483 428.6,490.8 428.6,510.2 422.7,514.8 421.8,520.2 441.2,542.4 444,542.9 448.9,541.5 458.4,542 465.6,528.7 449.1,508 450.1,506.8 468.9,504.7 471.3,493.1 487,489.6 495.4,489.6 497.3,478.1 499.3,468 499.4,466.6 493.8,464.8 478,468 457,460.2 455.2,455.7 460.5,448.4 456.4,423.5 450.4,420 447.7,410.7 434.4,400 436.7,382.8 428.7,374.7 425,373.3 407.6,384.4ZM437.7,618 434.1,625.3 439.8,633.7 448,633.7 451,631.9 451.7,631.7 456.4,614.9 466.7,620.7 477.2,620.7 472.8,600.7 465.9,596.4 454.4,611.3 440.9,608.4ZM446.9,740.4 454.4,751.7 460,753.9 461.7,752.6 464.7,740.6 461.2,736.3 461.2,727.7 472.3,727.7 475.5,720.1 473.9,715.3 458,718.4 457.3,723.8 449.6,727.7 449.6,736.3ZM456.8,583 460.3,577.2 454.2,565.8 441.6,570.1 441.9,575.7ZM405.9,582.5 401.1,584.4 407.5,606.5 421,595.7 429.2,596.6 429.2,582.2 422.9,578 411.7,583.6ZM413.6,644.5 414,642.4 419.8,634.7 415.8,628.7 413.1,617.9 412.8,617.6 407.4,615.2 402.4,636.1 400.7,637.5 394.8,635 391.3,634.8 388.2,638.2 389.6,646.3 389.6,649.2 398.8,652.3 404.1,649.2 410.3,650.6 410.6,650.5ZM389.3,773.5 395.8,776.1 386.2,785.6 385.5,790.7 392,793.2 400.7,788.8 402,779.7 417.3,779.7 411.7,762.9 411.7,762.5 405.9,758.4 395.5,759.9 395,759.6 384.8,762.5 380.5,754.1 373.7,754.1 365.7,762.1 365.6,762.6 369.5,766.5 376.7,768.5 378,776.2 382.5,778ZM397.1,533 402.5,549.1 415.2,544.3 415.2,527 399.1,528.6ZM345.9,728.2 346.7,730.1 347.6,735.5 362.6,738 363.3,736.9 378,732 380.4,727.7 367.4,719 360.8,722.8 360,722.6ZM352.7,684.6 362.3,684.6 365.7,671.3 357.8,668.7 355.6,670.2ZM330.4,686 328.4,687.8 329.7,690.1 332.7,696.1 334.4,701.8 341.2,699.8 347,702.1 355.3,697.9 351.1,685.3 349.6,685.1 347.8,686ZM337.8,651.3 339.5,652.6 340.9,652.6 340,670.6 340.7,670.7 344.8,668.3 349.1,657.3 349,657.1 343.8,652 350.5,638.6 350,638 337.7,638 333.7,636.7 332.9,637.1 322.8,633 320.9,633.9 320.3,634.3 310,637.3 311.7,644.1 311.8,644.5 315,654.1 327.3,648 327.8,648.1 328.8,647.7Z" fill="#FF5500"/><path d="M412.5,618.1 415.2,629 419.1,634.7 413.4,642.2 413.1,644.3 410,650.4 418.9,655.4 430.9,652.4 430.1,644.4 430.1,644.2 424.7,636.1 432.6,625.7 413.1,617.9 436.7,604.4 441,609 454.6,611.9 466.1,597.2 472.4,601.2 486.2,602.2 483.3,621.5 487.1,622.2 494.5,634.5 498.6,641.2 500.2,640.2 505.3,635.1 505.3,631.4 502.3,624 506.8,618 503.2,607.4 503.5,606.2 492.2,597.7 492.2,592.6 499,586.3 506.2,584.7 514.4,571.6 514.1,571.1 492.3,571.1 492.3,571.1 488.2,570.9 481.9,565.5 488.6,547.7 488.1,547.2 462.8,544.6 459.3,542.7 456.2,563.9 470.5,571 474.6,585.3 465.8,594 458.7,587.8 456.9,582.4 442.1,575.1 441.6,575.8 441.6,594.5 436.5,602.6 429,596 420.8,595.1 407.4,605.8 405.1,614 405.6,614.5 407.4,615.9ZM471.3,640.7 474.7,647.7 485.1,647.7 491.5,645.5 480.1,634.1 479.8,633.9ZM464,639.1 480.6,621.6 476.9,620.1 466.5,620.1 462.6,639ZM390.1,808.3 396.6,806.7 398.2,806.3 404.2,800.2 409.2,795.3 400.4,788.3 392,792.5 385.8,790.2 379.4,793.1 381.8,810ZM362.8,633.3 361.7,636.1 350.6,638.6 356.3,650 358.7,651.1 363.4,656.7 365.8,656.5 369,658.3 373.7,656.8 379.2,649.4 375.7,642.4 379,638.4 378.2,633.3 378.2,623.9 375.2,615.8 367,616.3ZM368.2,781.5 366.7,778.5 358.1,774.2 357.7,778 359.2,786.1ZM366.3,807.5 367.9,796.1 358,792.8 356.7,796 359.8,804.2ZM351.7,758.2 356.9,766.2 366.2,762.7 366.3,762.2 360.5,747.7 357.3,748.7 344.4,740.1 343.7,740.9 344.7,747.1 350.3,755.9ZM330.2,607.7 325.9,606.7 321.9,609.7 311.8,613.8 309.8,617.8 308.8,618.7 314.2,620.2 328.3,620.2 333.7,617 333.2,612.4 332.1,613.4Z" fill="#FFBEBE"/><path d="M570.3,356 571.4,352.7 558.9,335.2 545.3,332.7 541.9,334.3 540.6,337.6 540.6,353.8 556.2,364.2 569.4,366.6 571.3,364.1ZM505.6,584.5 513.9,596.9 527.2,583.5 528,579.8 525.5,574.8 513.9,571.2ZM502,444.1 491.2,436.4 490,433.6 479.5,431 472.9,417.7 455.8,423.5 460,448.7 469.3,446.5 480.7,450.3 493.6,465.4 499.4,467.2 500.3,456 501.3,446.1ZM462.4,638.6 459.6,644.3 459.6,645.7 462.4,654.6 460.5,659.4 456.3,661.8 455.4,669.4 458.7,682.6 461.8,682.6 473.8,694.6 477.9,695.5 492.8,689.5 489.3,683.9 488.4,678.3 487.3,672 488.1,667 489.3,660.1 493.3,650.1 494.5,645.8 490.9,645.1 485,647.1 475.1,647.1 471.9,640.5 463.9,638.5 462.9,638.4ZM454.7,704.1 451.3,707.1 458.1,719 473.9,715.9 474.2,714.3 464,704.1ZM360.4,508 377.9,522.6 374,533.3 381,541.3 382.7,551.5 392.1,558.3 397.4,556.8 410.6,565.1 405.5,583 411.8,584.3 423.2,578.6 423.2,564.7 423.7,564.5 435.4,545.1 416.6,545.1 414.9,543.8 402.8,548.3 397.8,533.1 399.6,528.9 389.8,515.7 390.4,513.7 384.4,501.8 368.2,495.3 368.7,505.8ZM365.8,373.8 360.7,379.9 360,388.7 359.7,391.9 355.7,395.9 358.7,408 358.2,411.8 357.9,414 357.7,416 356.7,428 357.7,438 357.7,445.3 375.2,447.8 383.4,457.5 385.6,458.6 386.6,472.4 386.3,477.1 396.5,487.4 405.2,488.7 412.7,482.6 417.5,483.3 431.2,469.3 418.9,459.5 426.5,440.6 424.3,435.7 421.3,433.7 420.2,418.2 404,404.3 408.2,396.6 408.2,384.7 425.4,373.7 417.2,357.3 417.2,357 405.8,342.8 406.7,347.9 401.8,356.7 388,354.7 379.9,355.7 371.8,363.8ZM411.1,762.9 416.6,779.6 417,779.8 424.1,776.3 428.5,774.6 422.8,760.5 427.1,756.9 425,744.1 415.6,744.1 415.6,760.2 411.1,762.4ZM396.3,664.7 396.8,665.4 404.1,667.2 406.6,665.6 410.6,650.1 404,648.6 398.5,651.8ZM352,712.1 349.5,712.1 341.1,716.9 341.7,718.1 346.2,728.8 360,723.2 360.8,723.4 367.3,719.7 379.6,727.9 377.6,731.5 362.9,736.4 362.3,737.3 347.5,734.9 347.7,735.9 344,740.5 357.2,749.3 360.5,748.4 363.3,744.5 369.9,746.7 379.1,742.1 384.1,747 392.3,746 394.7,760.1 395.4,760.5 406.2,758.9 406.2,745.2 401.9,743.1 392.8,745.4 389.3,727.8 387.7,725.6 386.2,724.9 386.2,714.5 381.3,706.7 376.1,705.7 375,704.4 362.4,700.2 360,701.1 358.4,707ZM385.6,701.7 399.9,701.7 390.6,683.1 388.9,682.5 385.6,684.2ZM389.2,772.8 382.1,777.6 386.4,786.3 396.8,775.9ZM367.6,796.7 374.5,791.7 371.3,783 367.9,781.1 359.1,785.5 359.7,789 357.8,793.4ZM315.7,656.1 316.2,657.7 327.7,657.7 329,659.4 333,661 336.3,670.6 340.5,670.6 349.5,685.7 351,685.8 353.3,684.5 356.2,670.1 344.6,667.8 340.6,670 341.5,652 339.7,652 338.1,650.8 328.8,647 327.7,647.5 327.2,647.4 314.8,653.5Z" fill="#E60000"/><path d="M526.2,618.3 528.2,616.2 536.2,606.2 541.2,601.2 532.1,597.7 527.1,582.8 513.6,596.3 513.6,602.2 518.2,604.9 523,615.9ZM499.1,640.9 495,634.2 487.5,621.6 483.6,621 481,621.9 479.5,634.4 479.7,634.6 490.8,645.7 494.3,646.4 495.3,643.2ZM477.6,710.2 473.6,714.2 473.4,715.6 474.8,720.1 471.7,727.4 474.2,735.8 481.7,739.6 482.3,736.1 486.3,726.1 490.3,714.1 491.5,710.5 494.3,702 494.3,691.9 492.5,689 477.6,694.9ZM446.4,655.4 443.7,653.1 432,653.1 430.7,651.9 419,654.8 410.5,649.9 410,650 406,665.2 404,666.6 396.8,664.8 389.1,680.2 381.8,665.5 371.2,669.7 370.9,669.6 365.1,671.2 361.7,684.5 367.5,687.8 374.6,687 374.6,704.8 375.8,706.3 381.3,707.3 386.2,701.5 386.2,684.5 388.9,683.1 390.1,683.6 399.1,701.6 401.4,702.9 402.8,707.3 402.6,707.7 404.2,720.3 410.3,725.5 401.8,734 388.6,727.4 392.2,745.4 384,746.4 380,754.4 384.4,763.3 395.3,760.2 392.9,745.9 401.8,743.7 405.6,745.6 405.6,758.8 411.4,763 416.2,760.6 416.2,744.7 424.8,744.7 426,743.7 436.6,743.7 438.8,756.6 437.7,758.4 439.5,766.4 435.3,775.8 435.9,776.3 444,779.3 452.1,778.3 460.2,772.3 462.6,771.1 460.2,766.3 460.2,753.4 454.8,751.2 447.6,740.4 450.2,736.5 450.2,728.1 457.9,724.2 458.5,718.6 451.8,706.8 447.2,707.2 443.8,705.2 440.2,683.6 457.5,683.6 459.2,682.5 456,669.4 456.9,661.8 447.6,657.2ZM412.9,725.9 416.2,721.9 416.2,707.5 420.1,705.3 427.6,706.9 427.6,717.1 431.6,721.9 431.6,727.5 425.8,731.4 414.1,727.5ZM404.7,488.3 407.9,505.8 423,515.4 429.2,510.5 429.2,490.5 417.5,482.7 412.5,481.9ZM334.6,671.4 319.4,668.8 319.7,670.1 323.7,680.1 328.7,688.4 330.6,686.6 347.9,686.6 350.1,685.5 340.8,670.1 340.3,670 336.4,670Z" fill="#730000"/><path d="M498.7,585.8 491.6,592.4 491.6,598 503.1,606.6 514.2,602.2 514.2,596.3 506.1,584.1ZM462,771.3 468.2,768.2 476.3,760.2 478.8,752.5 480.3,748.1 481.8,739 474.7,735.4 472.3,727.1 460.6,727.1 460.6,736.5 464,740.7 461.1,752.2 459.6,753.4 459.6,766.5ZM439.5,683 443.3,705.5 447.1,707.8 451.8,707.4 454.9,704.7 463.8,704.7 473.9,714.8 478.2,710.5 478.2,694.9 474.1,694.1 462,682 458.8,682 457.3,683ZM443.2,653.5 446,655.8 447.2,657.7 456.6,662.3 461,659.8 463.1,654.6 460.2,645.6 460.2,644.1 447.8,644.1 445.6,646.3ZM435.8,776.2 440.1,766.4 438.3,758.5 439.4,756.7 437.1,743.1 425.8,743.1 424.4,744.3 426.5,756.7 422.1,760.3 427.9,774.8 432,773.3ZM415.6,721.7 412.1,725.8 413.7,728 425.9,732 432.2,727.9 432.2,721.7 428.2,716.9 428.2,706.5 420,704.6 415.6,707.2ZM397.5,556.2 392,557.7 388.7,570.7 397.8,584.4 401.5,584.9 406.1,583 411.3,564.8ZM399.4,701.1 385.7,701.1 380.8,707 385.6,714.6 385.6,725.3 387.3,726.1 388.8,728.2 401.9,734.7 411.2,725.5 404.8,720 403.2,707.8 403.4,707.4 401.9,702.5ZM356.7,470 357.7,474.1 367.7,486.1 368,491.8 368.2,496 384,502.3 389.9,514.1 408.5,505.8 405.3,488.2 396.8,486.8 386.9,476.9 387.2,472.4 386.1,458.2 383.7,457 375.6,447.2 357.7,444.7 357.7,446 356.7,460ZM368.7,657.8 370.6,670.1 371.2,670.4 381.5,666.2 389.1,681.5 397.3,665.1 396.9,664.3 396.2,664.1 386.2,654.3 386.2,651.4 378.7,649 373.3,656.2ZM378.4,592.5 377,614.8 395.2,613.7 396,613.5 390.1,590.9ZM373.7,754.7 380.5,754.7 384.6,746.7 379.2,741.3 369.4,746.3ZM375.2,686.3 367.7,687.2 362.2,684 353,684 350.5,685.4 354.6,697.6 346.9,701.5 341.3,699.2 334.2,701.2 335.7,706.1 341.4,717.4 349.7,712.7 352.2,712.7 358.9,707.3 360.5,701.5 362.4,700.8 375.2,705.1ZM316,657.1 319.3,668.6 319.5,669.5 334.8,672 336.9,670.4 333.5,660.5 329.4,658.9 328,657.1Z" fill="#A80000"/><path d="M487.6,538.2 487.6,547.6 487.9,547.9 481.2,565.7 487.9,571.5 492.4,571.7 492.5,571.7 513.8,571.7 513.9,571.8 525.1,575.3 527.4,579.8 526.6,583.4 531.6,598.2 540.8,601.6 552.3,590.2 553.3,586.2 554.3,581.9 548.2,573.8 540.2,563.8 530.3,553.9 530.1,550.7 510.4,556.4 504.9,550.9 505.2,550.2 505.2,520.6ZM460,448.1 454.5,455.6 456.6,460.6 478,468.7 494.4,465.3 481.1,449.8 469.4,445.9ZM471.7,641.1 480.1,634.4 481.7,621.9 480,621.4 463.3,639ZM448.8,540.9 443.7,542.4 440.5,568.2 423.5,564 422.6,564.2 422.6,578.5 428.6,582.5 428.6,596.4 436.6,603.6 442.2,594.7 442.2,576 442.5,575.6 442.3,570.5 453.9,566.6 459.6,577.1 456.3,582.6 458.2,588.1 465.9,594.9 475.3,585.5 470.9,570.4 470.7,570.4 456.9,563.5 459.8,543.1 458.4,541.4ZM449.7,506.3 448.3,508 465.2,529.2 468,527.1 473.6,510.3 468.8,504.1ZM462.6,639.2 463.2,638.9 467.1,620.2 456,614 451.1,631.6ZM348.5,657.4 344.2,668.3 355.9,670.7 358.1,669.2 358.1,661.1 364,656.4 359.1,650.6 356.8,649.5 351.5,639 362.1,636.7 363.4,633.4 367.5,616.9 374.8,616.4 377.6,624 377.6,633.4 378.5,638.6 388.6,638.6 391.6,635.4 394.7,635.6 400.8,638.2 403,636.5 407.9,615.5 406,614 405.8,613.8 407.9,606 401.7,584.3 397.9,583.8 389.5,591.1 395.3,613.1 395.1,613.2 377.7,614.1 379,592.6 376.2,590.5 376.2,574.9 372.1,572.6 366.8,558.4 360.4,556.2 359.7,559.9 353.8,565.7 350.1,566.7 357.6,579.9 356.7,584.7 362.3,592.1 357.8,605.4 340.6,599 340.7,600 337.7,607.8 332.6,612.9 333.1,617 336.9,620 337.3,620.1 347.6,630.6 349.6,638.5 349.8,638.7 343.1,652.1ZM386.8,785.7 382.7,777.4 378.5,775.8 377.3,768.1 369.4,765.8 366.2,778.8 367.6,781.6 370.8,783.4 373.9,791.9 379.7,793.6 386.1,790.7ZM365.9,762.8 374.2,754.4 370.1,746.1 363,743.8 360,748.1Z" fill="#FFA77F"/><path d="M374.1,791.3 367.3,796.2 365.7,807.2 369.9,809.3 380,810.3 382.4,809.8 380,793ZM358.7,769.1 358,774.8 366.7,779.2 370,766.1 366,762.1 356.5,765.7Z" fill="#FFEBBE"/><path d="M320.5,634.6 321,634.1M321,634.1 314.3,619.9M314.3,619.9 310.1,618.8M310.9,637.3 320.5,634.6M327.2,647.7 323.9,644.4M323.9,644.4 312.8,644.4M315.8,653.4 327.2,647.7M321,634.1 322.8,633.3M322.8,633.3 328.2,619.9M328.2,619.9 314.3,619.9M328.2,619.9 333.4,616.9M333.4,616.9 333,613.8M357,584.6 358,579.8M358,579.8 350.9,567.4M340.7,588.7 357,584.6M383,384.1 388.2,375.6M388.2,375.6 387.3,370M387.3,370 379.1,357.8M360.9,388.6 383,384.1M327.2,647.7 327.7,647.8M327.7,647.8 328.8,647.3M328.8,647.3 332.9,637.4M332.9,637.4 322.8,633.3M320.5,634.6 323.9,644.4M330.5,686.3 334.7,671.7M334.7,671.7 320.4,669.3M329.2,687.5 330.5,686.3M334.7,671.7 336.5,670.3M336.5,670.3 333.3,660.7M333.3,660.7 329.2,659.1M329.2,659.1 320.1,668M329.2,659.1 327.9,657.4M327.9,657.4 317,657.4M327.9,657.4 327.7,647.8M333.3,660.7 339.6,652.3M339.6,652.3 338,651.1M338,651.1 328.8,647.3M332.9,637.4 333.7,637M333.7,637 337,619.8M337,619.8 333.4,616.9M367.6,796.3 358.8,793.4M366.1,806.4 367.6,796.3M343.5,652 350.2,638.6M349.8,638.3 337.7,638.3M337.7,638.3 338,651.1M339.6,652.3 341.2,652.3M341.2,652.3 343.5,652M341.2,652.3 340.3,670.3M340.6,670.4 344.6,668.1M344.6,668.1 348.8,657.3M348.8,657.3 343.5,652M336.5,670.3 340.3,670.3M337.4,619.9 360.6,612.1M360.6,612.1 358,605.8M358,605.8 341.6,599.7M337.7,638.3 333.7,637M350.2,638.6 351.1,638.8M351.1,638.8 361.9,636.4M361.9,636.4 363.1,633.4M363.1,633.4 367.3,616.6M367.3,616.6 363.4,614.6M363.4,614.6 347.9,630.4M347.9,630.4 349.8,638.3M347.9,630.4 337.4,619.9M363.4,614.6 360.6,612.1M347.8,686.3 330.5,686.3M335.2,701.2 341.2,699.5M341.2,699.5 347.8,686.3M341.2,699.5 346.9,701.8M346.9,701.8 355,697.8M355,697.8 350.9,685.5M350.9,685.5 349.7,685.4M349.7,685.4 347.8,686.3M349.7,685.4 340.6,670.4M349.6,712.4 346.9,701.8M342,716.7 349.6,712.4M350.9,685.5 353,684.3M353,684.3 355.8,670.3M355.8,670.3 344.6,668.1M357.2,749 344.9,740.8M351,755.3 357.2,749M348.8,657.3 356.5,649.7M356.5,649.7 351.1,638.8M374.4,483.8 366.9,468.4M366.9,468.4 357.6,468.4M368.9,491 374.4,483.8M358,605.8 362.6,592.1M362.6,592.1 357,584.6M366.9,468.4 383.6,457.3M383.6,457.3 375.4,447.5M375.4,447.5 358.6,445.1M355,697.8 360.3,701.3M360.3,701.3 362.4,700.5M362.4,700.5 367.6,687.5M367.6,687.5 362.1,684.3M362.1,684.3 353,684.3M355.8,670.3 357.8,669M357.8,669 357.8,661M357.8,661 348.8,657.3M349.6,712.4 352.1,712.4M352.1,712.4 358.6,707.1M358.6,707.1 360.3,701.3M357.6,765.6 365.9,762.5M366,762.3 360.3,748.1M360.3,748.1 357.2,749M361.9,636.4 366.1,640.6M366.1,640.6 368.8,642.4M368.8,642.4 375.4,642.4M375.4,642.4 378.7,638.3M378.7,638.3 377.9,633.4M377.9,633.4 363.1,633.4M367.3,616.6 375,616.1M375,616.1 377.3,614.4M377.3,614.4 378.6,592.8M378.6,592.8 375.9,590.6M375.9,590.6 362.6,592.1M357.8,661 363.6,656.4M363.6,656.4 358.9,650.9M358.9,650.9 356.5,649.7M346.9,728.2 360,722.9M360,722.9 352.1,712.4M362.1,684.3 365.3,671.5M365.3,671.5 357.8,669M348.5,735.3 362.4,737.6M362.4,737.6 363.1,736.6M363.1,736.6 360.8,723.1M360.8,723.1 360,722.9M362.4,737.6 363.2,744.2M363.2,744.2 369.8,746.4M369.8,746.4 379.2,741.7M379.2,741.7 377.8,731.7M377.8,731.7 363.1,736.6M360.3,748.1 363.2,744.2M375.9,590.6 375.9,575M375.9,575 371.9,572.8M371.9,572.8 358,579.8M358.9,650.9 366.1,640.6M360.8,723.1 367.3,719.4M367.3,719.4 367.7,716.3M367.7,716.3 358.6,707.1M365.3,671.5 370.9,669.9M370.9,669.9 369,658M369,658 365.9,656.2M365.9,656.2 363.6,656.4M367.8,781.4 366.5,778.7M366.5,778.7 358.9,775M359.9,785.4 367.8,781.4M366.5,778.7 369.6,766.2M369.6,766.2 365.9,762.5M365.9,656.2 368.8,642.4M367.6,687.5 374.9,686.7M374.9,686.7 378.4,684.3M378.4,684.3 371.2,670.1M377.8,731.7 380,727.8M380,727.8 367.3,719.4M367.7,716.3 376,706M376,706 374.9,704.7M374.9,704.7 362.4,700.5M379.7,793.3 374.2,791.6M374.2,791.6 367.6,796.3M381.9,809 379.7,793.3M374.2,791.6 371,783.2M371,783.2 367.8,781.4M374.3,533.3 378.2,522.5M378.2,522.5 361.6,508.6M363.6,535 374.3,533.3M371.9,572.8 366.6,558.6M366.6,558.6 361.2,556.8M366.6,558.6 383,551.3M383,551.3 381.3,541.1M381.3,541.1 374.3,533.3M366,762.3 373.8,754.4M373.8,754.4 369.8,746.4M371,783.2 378.3,776M378.3,776 377,768.3M377,768.3 369.6,766.2M374.4,483.8 386.6,477M386.6,477 386.9,472.4M386.9,472.4 385.8,458.4M385.8,458.4 383.6,457.3M385.8,458.4 394.3,455.6M394.3,455.6 406.3,435.6M406.3,435.6 392.2,425.3M392.2,425.3 382.7,429.3M382.7,429.3 358.8,414.4M378.2,522.5 389.4,515.8M389.4,515.8 390,513.7M390,513.7 384.2,502.1M384.2,502.1 369.1,496M380,727.8 385.9,725.1M385.9,725.1 385.9,714.6M385.9,714.6 381.1,707M381.1,707 376,706M374.9,704.7 374.9,686.7M377.9,633.4 377.9,623.9M377.9,623.9 375,616.1M377,768.3 384.4,763.4M384.4,763.4 384.6,762.9M384.6,762.9 380.4,754.4M380.4,754.4 373.8,754.4M416.9,357.4 425,373.6M425,373.6 428.5,375M428.5,375 436.4,382.9M436.4,382.9 445.5,381.7M445.5,381.7 462.6,357.7M407.1,344.9 416.9,357.1M386.5,403.5 383,384.1M359.1,411.7 386.5,403.5M375.9,575 389,570.6M389,570.6 392.2,558M392.2,558 383,551.3M369,658 373.5,656.5M373.5,656.5 378.9,649.3M378.9,649.3 375.4,642.4M381.3,541.1 397.4,533.1M397.4,533.1 399.3,528.9M399.3,528.9 389.4,515.8M377.9,623.9 390.6,632.6M390.6,632.6 395.2,613.4M395.2,613.4 377.3,614.4M371.2,670.1 381.6,665.9M381.6,665.9 382.3,664.4M382.3,664.4 382,662.1M382,662.1 373.5,656.5M381.1,707 385.9,701.4M385.9,701.4 385.9,684.3M385.9,684.3 378.4,684.3M378.9,649.3 385.9,651.7M385.9,651.7 389.9,649M389.9,649 389.9,646.3M389.9,646.3 388.5,638.3M388.5,638.3 378.7,638.3M385.9,684.3 388.9,682.8M388.9,682.8 389.1,680.8M389.1,680.8 381.6,665.9M380.4,754.4 384.2,746.7M384.2,746.7 379.2,741.7M386.5,403.5 393.6,408.2M393.6,408.2 403.6,404.3M403.6,404.3 407.9,396.5M407.9,396.5 407.9,384.6M407.9,384.6 388.2,375.6M382,662.1 385.9,654.5M385.9,654.5 385.9,651.7M392.2,425.3 393.6,408.2M379.7,793.3 385.8,790.5M385.8,790.5 386.5,785.7M386.5,785.7 382.5,777.7M382.5,777.7 378.3,776M392,792.8 385.8,790.5M396.3,805.8 392,792.8M384.2,502.1 396.7,487.1M396.7,487.1 386.6,477M384.2,746.7 392.5,745.7M392.5,745.7 389,727.9M389,727.9 387.5,725.8M387.5,725.8 385.9,725.1M378.6,592.8 389.9,591.2M389.9,591.2 398,584.1M398,584.1 389,570.6M382.5,777.7 389.2,773.2M389.2,773.2 384.4,763.4M388.5,638.3 391.5,635.1M391.5,635.1 390.6,632.6M382.3,664.4 396,664.4M396,664.4 385.9,654.5M386.5,785.7 396.3,776M396.3,776 389.2,773.2M384.6,762.9 395,759.9M395,759.9 392.6,745.7M426.2,440.6 424.1,435.9M424.1,435.9 421,433.9M421,433.9 406.3,435.6M386.9,472.4 410.9,472.3M410.9,472.3 410.9,464.8M410.9,464.8 418.6,459.6M418.6,459.6 426.2,440.6M395.2,613.4 395.7,613.3M395.7,613.3 389.9,591.2M392.2,558 397.5,556.5M397.5,556.5 402.6,548.7M402.6,548.7 397.4,533.1M389.1,680.8 397,665.1M397,665.1 396.7,664.6M396.7,664.6 396,664.4M396.3,776 398.5,775.7M398.5,775.7 395.4,760.2M395.4,760.2 395,759.9M385.9,714.6 402.9,707.7M403.1,707.4 401.7,702.7M401.7,702.7 399.4,701.4M399.4,701.4 385.9,701.4M388.9,682.8 390.4,683.3M390.4,683.3 409.5,683.3M409.5,683.3 404.1,666.9M404.1,666.9 397,665.1M389.9,646.3 401.2,640.3M401.2,640.3 400.8,637.8M400.8,637.8 394.7,635.3M394.7,635.3 391.5,635.1M395.7,613.3 405.5,613.9M405.5,613.9 407.6,606M407.6,606 401.5,584.6M401.5,584.6 398,584.1M401.5,584.6 405.9,582.8M405.9,582.8 411,564.9M411,564.9 397.5,556.5M390,513.7 408.2,505.6M408.2,505.6 405.1,488.4M405.1,488.4 396.7,487.1M396.7,664.6 398.8,652M398.8,652 389.9,649M394.7,635.3 405.8,614.3M399.4,701.4 390.4,683.3M387.5,725.8 404.5,720.2M404.5,720.2 402.9,707.7M400.4,788.6 392,792.8M408.2,794.9 400.4,788.6M400.4,788.6 401.7,779.4M401.7,779.4 398.6,775.7M405.1,488.4 412.6,482.3M412.6,482.3 410.9,472.3M399.3,528.9 414.9,527.3M414.9,527.3 422.1,520.1M422.1,520.1 422.9,515M422.9,515 408.2,505.6M398.8,652 404.1,648.9M404.1,648.9 401.2,640.3M404.1,666.9 406.3,665.4M406.3,665.4 410.3,650.3M410.3,650.3 404.1,648.9M392.6,745.7 401.9,743.4M401.9,743.4 401.9,734.4M401.9,734.4 389,727.9M398.6,775.7 411.4,762.9M411.4,762.6 405.9,758.7M405.9,758.7 395.4,760.2M401.7,702.7 413.2,685.3M413.2,685.3 409.5,683.3M421,433.9 419.9,418.3M419.9,418.3 403.6,404.3M400.8,637.8 402.7,636.3M402.7,636.3 407.6,615.6M407.6,615.6 405.8,614.3M410.4,650.3 413.4,644.4M413.4,644.4 413.7,642.3M413.7,642.3 407.9,636.3M407.9,636.3 402.7,636.3M405.9,758.7 405.9,745.4M405.9,745.4 401.9,743.4M401.9,734.4 410.7,725.5M410.7,725.5 404.5,720.2M402.6,548.7 414.9,544.1M414.9,544.1 414.9,527.3M407.9,384.6 425,373.6M422.9,515 428.9,510.3M428.9,510.3 428.9,490.6M428.9,490.6 417.4,483M417.4,483 412.6,482.3M407.6,615.6 412.6,617.8M412.6,617.8 436.8,604M436.8,604 436.6,603.1M436.6,603.1 428.9,596.3M428.9,596.3 420.9,595.4M420.9,595.4 407.6,606M413.5,685.3 419.6,682.5M419.6,682.5 420.6,673.7M420.6,673.7 414.4,665.4M414.4,665.4 406.3,665.4M403.1,707.4 415.9,707.4M415.9,707.4 420.1,705M420.1,705 413.5,685.3M414.4,665.4 418.7,656.6M418.7,656.6 418.9,655.1M418.9,655.1 410.4,650.3M405.9,745.4 413.9,743.4M413.9,743.4 413.9,727.7M413.9,727.7 412.5,725.8M412.5,725.8 410.7,725.5M412.5,725.8 415.9,721.8M415.9,721.8 415.9,707.4M431.9,727.7 431.9,721.8M431.9,721.8 427.9,717M427.9,717 415.9,721.8M413.9,727.7 425.9,731.7M425.9,731.7 431.9,727.7M425.9,731.7 425.9,743.4M425.9,743.4 436.9,743.4M436.9,743.4 439.9,740.4M439.9,740.4 436.7,730.9M436.7,730.9 431.9,727.7M407.9,636.3 415.5,628.9M415.5,628.9 412.8,618.1M401.7,779.4 415.8,779.4M416.7,779 411.4,762.9M417.4,483 430.8,469.4M430.8,469.4 418.6,459.6M411,564.9 419.5,563.2M419.5,563.2 416.5,545.4M416.5,545.4 414.9,544.1M416.5,545.4 434.9,545.4M434.9,545.4 441.3,542.1M441.3,542.1 422.1,520.1M419.9,418.3 433.1,400.8M433.1,400.8 407.9,396.5M420.9,595.4 411.7,583.9M411.7,583.9 405.9,582.8M413.7,642.3 419.4,634.7M419.4,634.7 415.5,628.9M411.4,762.6 415.9,760.4M415.9,760.4 415.9,744.4M415.9,744.4 413.9,743.4M439.8,766.4 438,758.4M438,758.4 426.8,756.8M426.8,756.8 422.5,760.4M422.5,760.4 427.9,773.9M435.9,775.2 439.8,766.4M459.9,766.4 439.8,766.4M461.9,770.4 459.9,766.4M535.1,300.8 551.3,291.8M523.5,291.2 535.1,300.8M567.5,308.1 574.2,310M556.9,293 567.5,308.1M433.1,400.8 434.1,400.2M434.1,400.2 436.4,382.9M424.1,435.9 450.1,420.2M450.1,420.2 447.4,410.8M447.4,410.8 434.1,400.2M411.7,583.9 422.9,578.4M422.9,578.4 422.9,564.5M422.9,564.5 419.5,563.2M419.4,634.7 424.3,636M424.3,636 432.1,625.9M432.1,625.9 412.8,618.1M413.4,644.4 429.8,644.4M429.8,644.3 424.3,636M418.9,655.1 430.6,652.2M430.6,652.2 429.8,644.4M420.6,673.7 424.5,668.8M424.5,668.8 418.7,656.6M422.5,760.4 415.9,760.4M415.9,744.4 424.7,744.4M424.7,744.4 425.9,743.4M426.8,756.8 424.7,744.4M428.9,596.3 428.9,582.4M428.9,582.4 422.9,578.4M422.9,564.5 423.5,564.3M423.5,564.3 434.9,545.4M510.5,375.8 521.6,376.8M521.6,376.8 527.9,361.3M527.9,361.3 517.5,350.9M495.3,358.8 510.5,375.8M430.8,469.4 432.9,469.4M432.9,469.4 447.5,454.8M447.5,454.8 426.2,440.6M432.1,625.9 434.5,625.3M434.5,625.3 438,618.1M438,618.1 441.1,608.7M441.1,608.7 436.8,604M420.1,705 427.9,706.7M427.9,706.7 429.9,705.4M429.9,705.4 429.9,685.1M429.9,685.1 419.6,682.5M427.9,717 427.9,706.7M429.8,644.3 437.6,638M437.6,638 439.9,633.4M439.9,633.4 434.5,625.3M424.5,668.8 431.9,664.3M431.9,664.3 431.9,653.4M431.9,653.4 430.6,652.2M429.9,685.1 438.9,682.8M438.9,682.8 438.9,676M438.9,676 431.9,664.4M428.9,490.6 438.9,485.1M438.9,485.1 439.4,482.6M439.4,482.6 432.9,469.4M428.9,582.4 441.9,575.9M442.2,575.5 441.9,570.3M441.9,570.3 440.7,568.6M440.7,568.6 423.5,564.3M441.3,542.1 444,542.6M444,542.6 448.9,541.2M448.9,541.2 443.7,510.3M443.7,510.3 428.9,510.3M443.7,510.3 448.7,508M448.7,508 449.9,506.5M449.9,506.5 449.9,492.9M449.9,492.9 438.9,485.1M431.9,653.4 443.5,653.4M443.5,653.4 445.9,646.4M445.9,646.4 437.6,638M436.6,603.1 441.9,594.6M441.9,594.6 441.9,575.9M438,758.4 439.1,756.7M439.1,756.7 436.9,743.4M431.9,721.8 442.9,717.4M442.9,717.4 447.1,707.5M447.1,707.5 443.6,705.4M443.6,705.4 429.9,705.4M439.4,482.6 456.2,469M456.2,469 456.8,460.4M456.8,460.4 454.9,455.6M454.9,455.6 447.5,454.8M440.7,568.6 444,542.6M454.9,455.6 460.2,448.3M460.2,448.3 456.1,423.7M456.1,423.7 450.1,420.2M443.6,705.4 439.9,683.3M439.9,683.3 438.9,682.8M459.9,766.4 459.9,753.6M459.9,753.6 454.6,751.5M454.6,751.5 439.1,756.7M439.9,633.4 447.9,633.4M447.9,633.4 450.9,631.7M450.9,631.7 438,618.1M441.1,608.7 454.5,611.6M454.5,611.6 466,596.8M466,596.8 465.8,594.4M465.8,594.4 458.4,588M458.4,588 441.9,594.6M431.9,664.4 443.9,664.4M443.9,664.4 447.4,657.4M447.4,657.4 446.2,655.6M446.2,655.6 443.5,653.4M454.6,751.5 447.2,740.4M447.2,740.4 439.9,740.4M528.5,320.9 535.5,303.4M535.5,303.4 535.1,300.8M516.1,321.9 528.5,320.9M441.9,570.3 454.1,566.2M454.1,566.2 456.6,563.7M456.6,563.7 459.5,543.2M459.5,543.2 458.2,541.7M458.2,541.7 448.9,541.2M458.4,588 456.6,582.6M456.6,582.6 442.2,575.5M436.7,730.9 446.4,726.1M446.4,726.1 442.9,717.4M447.1,707.5 451.6,707.1M451.6,707.1 454.8,704.4M454.8,704.4 457.4,683.3M457.4,683.3 439.9,683.3M449.9,492.9 462.2,484.1M462.2,484.1 456.2,469M445.9,646.4 447.9,644.4M447.9,644.4 447.9,633.4M438.9,676 443.9,669.4M443.9,669.4 443.9,664.4M450.9,631.7 451.5,631.4M451.5,631.4 456.2,614.5M456.2,614.5 454.5,611.6M457.4,683.3 458.9,682.3M458.9,682.3 455.7,669.4M455.7,669.4 443.9,669.4M446.2,655.6 459.9,645.6M459.9,645.6 459.9,644.4M459.9,644.4 447.9,644.4M455.7,669.4 456.5,662M456.5,662 447.4,657.4M447.2,740.4 449.9,736.4M449.9,736.4 449.9,727.9M449.9,727.9 446.4,726.1M456.1,423.7 472.8,418.1M472.8,418.1 477.9,410.4M477.9,410.4 478.4,406.6M478.4,406.6 460.6,397.7M460.6,397.7 458.7,388.3M458.7,388.3 445.5,381.7M458.2,541.7 465.2,528.7M465.2,528.7 448.7,508M459.9,644.4 462.6,638.8M462.6,638.8 451.5,631.4M449.9,727.9 457.6,724M457.6,724 458.2,718.7M458.2,718.7 451.6,707.1M478.4,406.6 488.6,394.4M488.6,394.4 476.9,376.9M476.9,376.9 476.9,362.9M456.5,662 460.7,659.6M460.7,659.6 462.7,654.6M462.7,654.6 459.9,645.6M449.9,736.4 460.9,736.4M460.9,736.4 460.9,727.4M460.9,727.4 457.6,724M459.9,753.6 461.4,752.4M461.4,752.4 464.3,740.7M464.3,740.7 460.9,736.4M477.9,752.4 461.4,752.4M465.2,528.7 467.7,526.9M467.7,526.9 473.2,510.3M473.2,510.3 468.7,504.5M468.7,504.5 449.9,506.5M456.8,460.4 478,468.3M478,468.3 493.8,465.1M493.8,465.1 480.9,450.1M480.9,450.1 469.3,446.2M469.3,446.2 460.2,448.3M462.2,484.1 464.2,485M464.2,485 474.6,477M474.6,477 478,468.3M456.6,582.6 459.9,577.2M459.9,577.2 454.1,566.2M468.7,504.5 471,492.9M471,492.9 464.2,485M462.9,638.7 466.8,620.4M466.8,620.4 456.2,614.5M462.7,654.6 473.2,652.5M473.2,652.5 474.9,647.4M474.9,647.4 471.6,640.7M471.6,640.7 463.8,638.8M463.8,638.8 462.9,638.7M458.9,682.3 461.9,682.3M461.9,682.3 467.2,678.3M467.2,678.3 471.3,666.1M471.3,666.1 460.7,659.6M465.8,594.4 474.9,585.4M474.9,585.4 470.7,570.7M470.6,570.7 459.9,577.2M470.6,570.7 456.6,563.7M459.5,543.2 462.7,544.9M462.7,544.9 487.9,547.5M487.9,547.5 487.9,538.3M487.9,538.3 481.5,528.7M481.5,528.7 467.7,526.9M454.8,704.4 463.9,704.4M463.9,704.4 473.9,694.3M473.9,694.3 461.9,682.3M466.8,620.4 476.9,620.4M476.9,620.4 472.5,600.9M472.5,600.9 466,596.8M464.3,740.7 474.4,735.6M474.4,735.6 472.1,727.4M472.1,727.4 460.9,727.4M480.9,738.9 474.4,735.6M470.7,570.7 473.8,567.2M473.8,567.2 462.7,544.9M458.2,718.7 473.7,715.6M473.7,715.6 473.9,714.4M473.9,714.4 463.9,704.4M493.8,465.1 498.5,466.6M501.2,443.9 491,436.6M491,436.6 489.8,433.9M489.8,433.9 479.3,431.3M479.3,431.3 472.8,418.1M471,492.9 486.9,489.3M486.9,489.3 474.6,477M471.3,666.1 478.8,662.9M478.8,662.9 478.1,660.6M478.1,660.6 473.2,652.5M473.9,714.4 477.9,710.4M477.9,710.4 477.9,695.2M477.9,695.2 473.9,694.3M472.1,727.4 475.2,720.1M475.2,720.1 473.7,715.6M486.1,723.8 475.2,720.1M463.8,638.8 480.1,621.7M480.1,621.7 476.9,620.4M477.9,695.2 491.8,689.6M487.4,678.3 467.2,678.3M488.6,394.4 491.9,394.4M491.9,394.4 506.7,406.2M506.7,406.2 509.1,406.6M509.1,406.6 525.5,382.1M525.5,382.1 521.6,376.8M473.2,510.3 495.9,510.3M494.5,489.3 486.9,489.3M489.8,433.9 496,423M496,423 495.9,422.4M495.9,422.4 477.9,410.4M472.5,600.9 486.6,601.9M486.6,601.9 491.9,597.9M491.9,597.9 491.9,592.5M491.9,592.5 482.9,585.4M482.9,585.4 474.9,585.4M473.8,567.2 481.6,565.6M481.6,565.6 488.3,547.8M480.1,621.7 481.3,622.1M481.3,622.1 483.6,621.3M483.6,621.3 486.6,601.9M487.3,666.7 478.8,662.9M490.6,710.4 477.9,710.4M471.6,640.7 479.8,634.3M479.8,634.3 481.3,622.1M474.9,647.4 485.1,647.4M485.1,647.4 490.9,645.4M490.9,645.4 479.9,634.4M478.1,660.6 485.1,647.4M531.8,598 518.4,604.7M518.4,604.7 523.3,615.7M523.3,615.7 525.7,617.5M540.1,601.1 531.8,598M482.9,585.4 488,571.2M488,571.2 481.6,565.6M493.5,645.9 490.9,645.4M481.5,528.7 496,510.5M479.9,634.4 494.8,634.4M494.8,634.4 487.3,621.9M487.3,621.9 483.6,621.3M488,571.2 492.3,571.4M492.4,571.4 502.6,551.1M502.6,551.1 488.3,547.8M502.6,551.1 504.6,551M504.6,551 504.9,550.2M504.9,550.2 504.9,521.3M504.9,521.3 487.9,538.3M487.3,621.9 489,621.3M489,621.3 502.9,607.4M502.9,607.4 503.2,606.3M503.2,606.3 491.9,597.9M504.9,521.3 505.6,519.5M491.9,592.5 498.8,586.1M498.8,586.1 492.3,571.4M498.4,640.3 494.8,634.4M504.9,550.2 527.7,531.9M502,624 489,621.3M504.4,630 502,624M495.9,422.4 506.7,406.2M508.7,429.3 496,423M492.4,571.4 513.9,571.4M513.9,571.4 510.3,556.7M510.3,556.7 504.6,551M523.3,615.7 512,620.2M512,620.2 511.9,624.4M503.2,606.3 513.9,602M513.9,602 513.9,596.4M513.9,596.4 506,584.5M506,584.5 498.8,586.1M518.6,414.1 509.1,406.6M506,584.5 514.1,571.6M512,620.2 506.5,617.9M506.5,617.9 502,624M510.3,556.7 529.2,551.3M514.1,571.6 525.3,575M525.3,575 536.9,561.7M506.5,617.9 502.9,607.4M513.9,596.4 527,583.4M527,583.4 527.7,579.8M527.7,579.8 525.3,575M518.4,604.7 513.9,602M533.4,386.9 525.5,382.1M539.2,394.9 533.4,386.9M531.8,598 527,583.4M533.4,386.9 556.4,364M556.4,364 540.9,353.7M540.9,353.7 527.9,361.3M540.9,337.7 540.9,353.7M556.4,364 568.7,366.1M570.7,352.1 558.8,335.5M558.8,335.5 545.3,333M545.3,333 542.1,334.5M542.1,334.5 540.9,337.7M542.1,334.5 528.5,320.9M527.7,579.8 552.4,586" fill="none" stroke="#6e6e6e" stroke-width="0.9"/><circle cx="490.9" cy="580.4" r="3.2" fill="#FFEBBE" stroke="#6e6e6e" stroke-width="0.9"/></g><use href="#swe" fill="none" stroke="#6e6e6e" stroke-width="1"/></g><g transform="translate(272.1,1394.2)"><g clip-path="url(#cl)"><use href="#swe" fill="#FFA77F"/><path d="M451.2,90 592.2,90 580.1,136.7 575.1,148.4 570.1,158.5 565,170.6 561,179.1 551.9,176.6 539.8,172.6 523.7,164.5 507.6,160.1 491.5,160.5 480.4,155.5 471.3,140.4Z" fill="#FF7F7F" stroke="#6e6e6e" stroke-width="0.9"/><path d="M451.2,150.4 471.3,140.4 480.4,155.5 491.5,160.5 507.6,160.1 523.7,164.5 539.8,172.6 551.9,176.6 561,179.1 561.6,188.7 567.6,199.8 571.7,208.9 567,214.9 570.5,227.4 552.9,235.5 543.9,218.9 531.8,210.9 519.7,198.8 507.6,190.7 497.5,184.3 485.4,174.6 471.3,167 459.2,160.9Z" fill="#FF7F7F" stroke="#6e6e6e" stroke-width="0.9"/><path d="M439.1,190.7 443.1,174.6 459.2,160.9 471.3,167 485.4,174.6 497.5,184.3 507.6,190.7 519.7,198.8 531.8,210.9 543.9,218.9 552.9,235.5 541.9,233.5 535.8,249.2 531.8,257.2 519.7,251.2 505.6,247.2 502.6,239.1 499.5,229 483.4,221 471.3,214.9 461.3,206.9 450.8,198.8Z" fill="#FF7F7F" stroke="#6e6e6e" stroke-width="0.9"/><path d="M414.9,231 431,210.9 450.8,198.8 461.3,206.9 471.3,214.9 483.4,221 499.5,229 502.6,239.1 505.6,247.2 498.5,255.2 497.5,267.3 493.9,276.4 493.9,284.4 479.4,272.3 467.3,266.3 451.2,258.2 435.1,251.2 419,249.2Z" fill="#FF7F7F" stroke="#6e6e6e" stroke-width="0.9"/><path d="M580.1,136.7 612.4,120.2 612.4,198.8 592.2,198.8 593.2,210.9 586.2,207.9 571.7,208.9 567.6,199.8 561.6,188.7 561,179.1 565,170.6 570.1,158.5 575.1,148.4Z" fill="#FF7F7F" stroke="#6e6e6e" stroke-width="0.9"/><path d="M590.8,197.1 611,197.1 611,236.4 605.9,237.4 598.9,243.5 594.8,238.4 591.8,225.3 588.8,213.2 594.8,211.2Z" fill="#FF7F7F" stroke="#6e6e6e" stroke-width="0.9"/><path d="M568.7,208.2 574.7,209.2 588.8,213.2 591.8,225.3 594.8,238.4 589.8,239.4 585.8,237.4 577.7,240.4 570.7,234.4 566.6,228.4 569.7,225.3 566.6,214.3Z" fill="#FF7F7F" stroke="#6e6e6e" stroke-width="0.9"/><path d="M547.5,232.4 554.5,235.4 566.6,228.4 570.7,235.4 568.7,245.5 567.6,251.5 571.7,256.6 568.7,263.6 558.6,268.1 545.5,256.6 535.9,252 539.9,242.5 542.5,236.4Z" fill="#FFA77F" stroke="#6e6e6e" stroke-width="0.9"/><path d="M535.9,252 545.5,256.6 558.6,268.1 554.5,275.7 550.5,275.7 542.5,271.7 535.4,272.7 532.4,261.6Z" fill="#FFA77F" stroke="#6e6e6e" stroke-width="0.9"/><path d="M570.7,235.4 577.7,240.4 580.7,245.5 584.8,258.6 590.8,264.6 597.9,280.7 604.9,295.8 590.8,300.9 578.7,295.8 575.7,290 568.7,280.7 558.6,268.1 568.7,263.6 571.7,256.6 567.6,251.5 568.7,245.5Z" fill="#FFA77F" stroke="#6e6e6e" stroke-width="0.9"/><path d="M577.7,240.4 585.8,237.4 589.8,239.4 594.8,238.4 598.9,243.5 604.9,252.5 606.9,265.6 612,276.2 600.9,281.7 597.9,280.7 590.8,264.6 584.8,258.6 580.7,245.5Z" fill="#FFA77F" stroke="#6e6e6e" stroke-width="0.9"/><path d="M598.9,243.5 605.9,237.4 610,240.4 615,250.5 618,260.6 617,270.7 612,276.2 606.9,265.6 604.9,252.5Z" fill="#FF7F7F" stroke="#6e6e6e" stroke-width="0.9"/><path d="M493.1,276.3 496.7,271.4 496.7,264.2 497.9,256.9 503.9,252.1 508.2,246.5 518.3,251.5 527.3,252.5 532.4,256.6 532.4,261.6 535.4,272.7 532.4,276.7 526.9,285.9 518.4,296.8 506.4,288.4 494.3,281.1Z" fill="#FFA77F" stroke="#6e6e6e" stroke-width="0.9"/><path d="M524.3,280.7 532.4,276.7 542.5,271.7 550.5,275.7 554.5,275.7 558.6,268.1 568.6,280.7 575,289 580,296 590,300 576,302 574,306 568,300 558.9,292.8 544.8,289.8 532.7,286.8 524.6,285.8Z" fill="#FFA77F" stroke="#6e6e6e" stroke-width="0.9"/><path d="M425.4,250.6 435.5,240.6 446.8,247.4 456.5,254.7 465.3,259.5 481.4,274.8 493.5,279.6 494.3,284.5 491.1,294.1 487.9,303 477.4,295.8 466.9,290.9 458.9,282.9 457.2,278 447.6,274 437.1,267.5 430.6,259.5Z" fill="#FFA77F" stroke="#6e6e6e" stroke-width="0.9"/><path d="M505,625 565,625 565,740 505,740 500,725 495.6,705 495.6,690 498,675 505,660Z" fill="#FFA77F" stroke="#6e6e6e" stroke-width="0.9"/><path d="M405,250 425.4,250.6 430.6,259.5 437.1,267.5 447.6,274 457.2,278 458.9,282.9 466.9,290.9 477.4,295.8 487.9,303 487.2,311.7 480.8,321.3 477.5,319.2 469,313.8 458.2,307.4 452.8,298.8 447.5,291.3 442.1,288 426,287 405,286Z" fill="#FF7F7F" stroke="#6e6e6e" stroke-width="0.9"/><path d="M405,286 426,287 442.1,288 447.5,291.3 452.8,298.8 458.2,307.4 469,313.8 477.5,319.2 480.8,321.3 484,331 479.7,334.2 467.9,340.7 461.4,337.5 453.9,333.2 448.5,326.7 443.2,320.3 434.6,314.9 426,311.7 419.5,309.5 411.5,303.1 405,303Z" fill="#FF7F7F" stroke="#6e6e6e" stroke-width="0.9"/><path d="M419.5,309.5 426,311.7 434.6,314.9 443.2,320.3 448.5,326.7 453.9,333.2 461.4,337.5 467.9,340.7 462.5,341.8 467.7,360.9 458.2,353.6 448.5,345 441,337.5 438.9,332.1 432.4,324.6 426,319.2Z" fill="#FF7F7F" stroke="#6e6e6e" stroke-width="0.9"/><path d="M461.6,341.5 474.9,335.5 485.8,333.1 496.7,337.9 508.8,352.4 496.7,357.3 487,363.3 474.9,362.1 467.7,360.9Z" fill="#FF7F7F" stroke="#6e6e6e" stroke-width="0.9"/><path d="M493.1,295.6 506.4,305.9 517.2,315 514.8,324.6 513.6,336.7 517.2,352.4 508.8,352.4 496.7,337.9 485.8,333.1 484,331 480.8,321.3 487.2,311.7 487.9,303 489.4,302.9Z" fill="#FFA77F" stroke="#6e6e6e" stroke-width="0.9"/><path d="M494.3,281.1 506.4,288.4 518.4,296.8 506.4,305.9 493.1,295.6 489.4,302.9 493.1,290.8Z" fill="#FFA77F" stroke="#6e6e6e" stroke-width="0.9"/><path d="M592.4,201.4 592,201.5 592.8,210.3 586.2,207.5 570.4,208.6 570.3,208.9 574.6,209.6 588.8,213.7 595.3,211.5Z" fill="#FF7F7F"/><path d="M532,256.8 532,263.5 532.1,263.5 536.3,252.2 540.3,242.6 542.8,236.7 546.3,233.9 541.6,233 535.4,249 531.7,256.5Z" fill="#FF7F7F"/><path d="M618.4,260 614.4,245.9 610.3,237.7 608.5,236.5 605,237.2 609.6,240.7 614.6,250.7 618.1,262.4 618.2,262.4Z" fill="#FF7F7F"/><path d="M498,257.4 504.2,252.4 508,247.4 505.5,246.7 498.1,255Z" fill="#FFA77F"/><path d="M494.3,284.6 493.9,284.5 490.7,294 487.3,303.4 489.7,303.3 493.5,290.9Z" fill="#FFA77F"/><path d="M535,272.6 531.1,277.8 542.5,272.1 550.4,276.1 552.2,276.1 542.5,271.3 535.7,272.2 534,265.8 533.2,266Z" fill="#FFA77F"/><path d="M486.5,333.3 484.1,330.5 479.5,333.9 477.1,335.2 477.1,335.4Z" fill="#FF7F7F"/><path d="M415.6,249.7 415.6,250.7 425.6,251 426.8,249.7 419.7,248.9Z" fill="#FF7F7F"/><path d="M567.2,228.5 566.4,228.8 570.4,235.7 579.1,241.9 579.5,241.4 571,234.1Z" fill="#FF7F7F"/><path d="M476.6,270.5 476.5,270.7 481.2,275.1 484.9,276.6 485,276.5 479.6,272Z" fill="#FFA77F"/><path d="M518.2,251.9 522.8,252.4 522.8,252.3 519.8,250.8 513.1,248.9 512.9,249.3Z" fill="#FFA77F"/><path d="M562,231.5 561.7,231 552.8,235.1 554.6,235.9Z" fill="#FFA77F"/><path d="M497.1,267.4 497.1,267.4 493.8,275.5 494.1,275.7 497.1,271.5Z" fill="#FFA77F"/><path d="M493.8,277.5 493.5,277.5 493.5,282.1 494,285 494.2,285 494.7,281.1Z" fill="#FF7F7F"/><path d="M605.8,276 605.3,275.4 599,280.7 597.1,280.1 597.8,281.6 596.2,283 596.7,283.6Z" fill="#FFA77F"/><path d="M522.1,525.7 515,522.9 512.1,521.7 500.2,515.8 498.9,513.6 494.4,545.2 503.3,546.3 510.9,551 512.4,568.6 522,575.5 507.4,590.1 517.9,597.9 507.8,610.4 506.7,610.4 502.5,628.1 505.2,636.2 505.3,636.2 505.3,625.3 519.1,625.3 528.2,616.2 536.2,606.2 552.3,590.2 553.4,585.7 554.3,581.9 548.2,573.8 540.2,563.8 530.3,553.9 529.6,544.7 529.3,540 528.3,527.8ZM501.3,607.5 501.3,590.8 500.2,589.6 488.5,589.6 478.5,604.6ZM491.2,627.4 482,632.1 479.2,618.1 470.4,610.5 467.3,611.9 465.6,613.2 460,616.7 460.4,620.7 463.7,633.8 471.6,640.1 474.4,640.1 477.5,638.3 481,637.5 494.7,645.2 495.3,643.2 498.2,641.4ZM495.3,490 495.9,486.5 471.5,492 465.3,483.7 461.2,481.6 449.1,489.1 450.9,507.1 467.8,504.1 473.9,510.1 496.3,510.1 496.7,510 494.3,505.9ZM363.6,613.8 360.3,617.1 350.1,619.4 346.2,622.8 338.2,621.5 331.9,616.1 330.1,607.7 325.9,606.7 321.9,609.7 311.8,613.8 309.8,617.8 307.7,619.9 307.9,622.7 308.7,632 311.7,644.1 313.3,648.8 316.3,647.2 319,645.2 338.2,648.1 339.3,656.5 344.6,664.1 344.6,666.4 345,667.2 358.1,674.1 360.1,672.1 362.1,665 364,657.2 372.1,659.3 372.9,658.7 386.9,658.7 388.9,654.6 388.8,654.6 390.5,654.1 402.2,647.8 402.4,647.4 403.3,642.9 400.6,638.2 406.4,625.9 392.4,620.3 391.2,615.5 401.1,607.2 411.5,622.8 424,610.3 431,617.3 428,623.3 427.2,628.9 433.5,632 434.2,635.8 441.8,641.8 441.3,647.1 437.7,649.8 434.9,651 432.7,665 435.7,668 435.7,673 452.3,681.3 452.3,681.4 459.4,686.1 467.2,686.1 475.8,692.5 492.9,689.7 489.3,683.9 487.3,672 487.6,670.3 478.3,668.6 473.1,668.6 460.3,660 460.3,658.4 460,657.5 460.3,655.7 458.1,641.5 452.2,638.6 445.3,638.6 448.7,619.1 451.9,617 438.8,595.9 446.3,589.2 446.3,580 461.2,565.1 461.2,564.8 460.4,562.9 474.8,545.6 464,530.5 458.3,530.5 450.3,537.8 434.8,535.4 424.7,549.9 425.7,552 435,561.3 433,571.2 424,578 423.4,581.4 416.9,586.3 405.1,584.8 403.7,583 385.7,578.5 380,573.9 379.5,573.9 376.8,576.6 360.6,583.3 360.6,602 363.6,605.4ZM388.8,654.6 378.5,646.1 375.3,644 374.7,642 378.1,639.1 387.7,639.1 387.7,646.4ZM445.2,717.1 455.7,712.9 462.5,723.2 467.7,725.3 474.4,711.9 470.2,703.6 457,703.6 456.7,703.2 449.7,701.5 441.9,703.7ZM335.7,706.1 341.7,718.1 342.3,719.5 346.7,730.1 364.1,727.6 366.7,725.2 364.3,717.9 370.7,705.1 364.7,698.6 349.8,698.6 349.5,698.3 350.2,690.8 342,680.7 327.9,687.2 329.7,690.1 332.7,696.1ZM327.2,660.1 316.1,657.4 319.7,670.1 322.1,676.1 327.4,672Z" fill="#FFBEBE"/><path d="M559,292.5 556.3,291.9 567.4,307.8 575.2,310.1 574.3,308 576.8,300.7 576.4,300.5 573.9,305.5 568.2,299.8ZM518.2,296.6 505.9,305.9 516.9,315.1 515.2,321.7 528.8,320.7 535.9,302.9 535.6,300.4 552.3,291.1 544.9,289.5 532.8,286.5 526.6,285.7 523.1,290.3ZM365.8,373.8 360.7,379.9 360,388.2 359.7,391.9 355.7,395.9 358.7,408 358.3,411.4 358,413.7 382.7,429.1 392.3,425.2 406.4,435.4 421.1,433.7 423.9,435.6 426,440.3 447.5,454.6 451.3,455 460.3,446 456.5,423.4 472.7,418 479.2,431 489.7,433.6 490.9,436.3 502,444.3 504.3,438.1 508.3,432.2 509.8,429 496.4,422.2 496.3,421.7 478.3,409.7 478.8,406.2 488.8,394.2 491.9,394.2 506.7,406 509.1,406.3 519.3,414.5 522.2,410.2 528.2,402.2 536.2,398.3 537.5,397.3 520.8,388.9 515.4,375.4 510.7,375 495.4,357.8 486.9,363 477,362 474.9,361.8 467.8,360.6 462.7,356.7 445.4,380.9 437.4,382 434.8,400.1 434,400.5 420.2,419.9 405.4,402.6 394.1,403.3 391.8,401.3 386.9,383 388.9,377.1 387.7,369.4 379.1,356.5 371.8,363.8ZM500.7,607.2 502.1,609 506.9,611 508.1,611.1 518.7,597.8 508,589.7 500.7,590.6ZM469.5,526.5 463.4,530.8 474.2,545.9 490.3,547.5 491.9,546.8 493.5,545.5 481.9,528.2 496.9,509.5 473.8,509.5ZM450.7,746.6 441.1,747.8 433.7,769.7 432.9,770.5 432.1,773.4 435.9,776.3 444,779.3 452.1,778.3 460.2,772.3 460.6,772.1 468.2,768.2 476.3,760.2 477.7,756 480.3,748.1 482.3,736.1 486.3,726.1 494.3,702 494.3,691.9 492.6,689.1 475.9,691.9 467.4,685.5 459.3,685.5 456.2,703.6 456.7,704.2 469.8,704.2 473.7,711.9 467.4,724.5 462.7,722.6 446.6,728 451,744.6ZM418.3,642.6 404.7,642.6 402.7,642.7 401.8,647.2 401.6,647.6 404.6,659.2 410.8,659.2 416.9,658 419.9,661.7 421.2,665.2 433.3,665.2 435.5,651.4 438,650.3 441.9,647.4 442.4,641.6 434.8,635.5 434.1,631.6 427.5,628.3 419.3,632 420.1,638.8ZM360.8,738 363.2,747.8 359.7,751.1 347.2,751.1 351.7,758.2 358.1,768.2 358.7,769.1 358,775.5 357.7,778 359.7,789 358.1,792.7 356.7,796 359.8,804.2 369.8,809.2 369.9,809.3 380,810.3 386,809.1 390.1,808.3 398.2,806.3 404.2,800.2 406.2,798.2 412.2,792.2 415.3,786.1 416.3,780.2 417.5,779.6 399,779.6 397,778.6 378.6,780.9 384.3,763.8 378.3,757.8 378.3,735.1 370.4,726.1 366.3,724.8 363.8,727 346.5,729.5 346.7,730.1 347.7,735.9 343.7,740.9 344,742.8ZM397.2,742.9 392.9,747.8 396.3,759.6 408.5,761.1 409.3,760.9 416.1,750.7 415.5,748.5 412.1,744.7ZM368.7,505.8 360.9,507.9 378,522.1 374.1,532.8 383.3,543.1 392.7,543.1 400.4,529.3 389.9,515.2 390.5,513.2 384.5,501.3 368.1,494.8ZM377.8,638.5 374.1,641.7 374.7,644.4 378.1,646.6 388.5,655.1 389.4,654.3 388.3,646.3 388.3,638.5ZM315.7,656.1 316.3,658.1 326.6,660.6 326.8,672.2 345.2,666.6 345.2,663.9 339.9,656.3 338.7,647.6 318.9,644.5 316,646.7 313.1,648.3Z" fill="#FFA77F"/><path d="M581.3,326 578.3,317.9 574.9,309.4 567.8,307.3 557.1,292.1 551.5,290.9 534.9,300.1 535.3,302.8 528.4,320.1 515.4,321.1 514.5,324.5 513.3,336.7 516.2,349.4 516.8,352.1 508.7,352.1 496.6,357 494.8,358.1 510.5,375.6 514.9,376 520.3,389.3 536.9,397.7 544.2,392.2 545,391.3 537.2,371.9 538.3,370.5 538.3,350.1 541.1,346.1 565.7,363.7 570.8,364.7 571.3,364.1 570.3,356 571.5,352.4 572.3,350.1 574.3,344.1 580.3,336.1ZM492.1,393.6 488.5,393.6 478.2,406 477.7,410 495.7,422.1 495.9,422.7 509.6,429.5 512.3,424.2 518.2,416.2 519.7,414 509.4,405.8 506.9,405.4ZM362.6,534.7 363.7,540 359.7,559.9 353.8,565.7 349.4,566.8 345.7,567.8 344.7,573.9 340.7,579.9 339.9,588.3 339.7,590 340.7,600 340.5,600.4 344,602.1 350,620 360.6,617.7 364.2,614 364.2,605.2 361.2,601.8 361.2,583.7 377.1,577.1 379.7,574.5 379.8,574.5 385.5,579.1 403.3,583.5 404.7,585.4 417.1,586.9 424,581.8 424.5,578.3 433.6,571.6 435.6,561.1 426.2,551.7 425.4,550 435.1,536.1 450.5,538.5 458.5,531.1 464,531.1 470.1,526.9 474.3,509.7 468,503.4 451.5,506.4 449.8,489.4 461.2,482.3 464.9,484.2 471.2,492.6 495.8,487.2 496.7,481.5 497.3,478.1 499.3,468 500.2,457.6 500.3,456 501.3,446.1 502.2,443.7 491.3,435.9 490.1,433.1 479.6,430.5 473,417.2 455.9,423 459.7,445.8 451.1,454.4 447.7,454 426.1,439.7 415.3,466.8 416,468.9 415.2,471.7 414,480.7 412.7,481.9 412.7,505.1 429.8,508.5 432.1,511.3 428.7,523.4 411.5,526.8 409.9,528.3 415.7,548.4 411.6,550.2 398.3,548.9 392.7,542.5 383.5,542.5 374.8,532.7 378.7,521.9 361.7,507.7 357.7,508.8 359.7,520.1 361.7,530.1ZM496.1,509.6 481.2,528.1 493,545.8 495,545.2 499.4,514.4 496.4,509.4ZM359.7,671.7 357.7,673.7 361.7,681.3 368.3,683.9 372.2,683.2 374.1,684 381.2,701 393.9,688.3 400.3,697.9 396.5,703.6 382.1,703.6 381.1,702.6 370.1,704.9 363.6,717.8 366.1,725.4 370.1,726.6 377.7,735.3 377.7,758 383.6,764 377.7,781.6 397.4,779.2 392.3,764 396.9,759.4 393.6,748 397.4,743.5 411.8,745.3 414.9,748.8 415.5,750.6 408.8,760.6 420.4,778.1 424.1,776.3 432,773.3 432.6,773.8 433.5,770.9 434.3,770.1 441.6,747.9 439,746.7 432.5,736.1 429,734.8 425,727.9 427.8,723 439.4,721.1 441.8,722 443.8,726.4 446.9,728.5 463.2,723.1 455.9,712.2 445.7,716.3 442.6,704.1 449.7,702.1 456.8,703.9 459.8,685.7 452.8,681 452.8,680.9 436.3,672.7 436.3,667.7 433.2,664.6 421.7,664.6 420.5,661.4 417.1,657.3 410.7,658.6 405.1,658.6 402.2,647.1 390.3,653.6 388.9,654 388.3,654.5 386.5,658.1 372.7,658.1 371.7,658.9 371.6,664.7ZM414.9,379.8 411,397.3 404.8,402.8 420.2,420.8 434.4,401 435.3,400.5 438,382.1 429,373.9 424.9,372.5ZM356.7,470 357.7,474.1 367.7,486.1 368,491.4 368.2,495.4 384.1,501.8 390,513.6 404.9,506.9 396.9,486.8 397,486.4 387,476.4 387.3,471.9 386.2,457.7 383.8,456.5 375.7,446.7 357.7,444.1 357.7,446 356.7,460Z" fill="#FF5500"/><path d="M568.2,368.2 571.2,364.2 566,363.1 541,345.3 537.7,349.9 537.7,370.3 536.5,371.8 544.5,391.9 556.2,378.2ZM437.5,382.6 445.8,381.5 463.2,357.1 458.4,353.4 448.7,344.8 441.3,337.3 439.2,331.9 432.6,324.4 426.2,319 419.7,309.3 411.6,302.8 410.2,302.8 405.7,309.9 401.7,319.9 397.6,328 404.7,336.1 405.7,342 405.9,343.3 416.7,356.7 416.7,356.9 424.8,373.1 428.7,374.4ZM424,609.5 411.6,621.8 401.2,606.3 390.5,615.2 391.9,620.7 405.6,626.2 399.9,638.2 402.8,643.3 404.7,643.2 418.6,643.2 420.8,638.9 420,632.3 427.8,628.9 428.6,623.4 431.7,617.2ZM413.1,482.4 414.6,481 415.8,471.8 416.6,468.9 415.9,466.8 426.6,440.1 424.4,435.2 421.2,433 406.5,434.8 392.4,424.5 382.8,428.5 358.1,413 357.7,416 356.7,428 357.7,438 357.7,444.8 375.3,447.3 383.5,457 385.7,458.1 386.7,471.9 386.4,476.6 396.6,486.9ZM396.4,759 391.6,763.8 396.7,779.1 398.9,780.2 416.3,780.2 421,777.8 409.3,760.3 408.5,760.5ZM361.5,664.8 359.4,672.5 372.2,665.1 372.2,664.9 372.3,658.8 363.6,656.4ZM349.6,690.7 348.9,698.5 349.6,699.2 364.8,699.2 368.7,683.4 361.9,680.7ZM347.6,751.7 359.9,751.7 363.9,748 361.2,737.3 343.9,742.2 344.7,747.1ZM340.7,599.9 337.7,607.8 332.1,613.4 330.2,607.7 329.4,607.5 331.3,616.4 337.9,622.1 346.4,623.4 350.5,619.8 344.5,601.7Z" fill="#FF7F7F"/><path d="M460.6,564.9 445.7,579.7 445.7,589 438,595.8 451.1,616.8 448.2,618.8 444.6,639.2 452,639.2 457.6,641.9 459.7,655.7 459.4,657.5 459.7,658.5 459.7,660.3 472.9,669.2 478.3,669.2 487.5,670.9 489.3,660.1 492.5,652 493.3,650.1 494.8,644.7 481.1,636.8 477.3,637.8 474.3,639.5 471.8,639.5 464.2,633.5 461,620.6 460.7,617.1 465.9,613.7 467.6,612.4 470.3,611.2 478.6,618.5 481.5,633 490.9,628.2 497.7,641.8 500.2,640.2 505.3,635.1 505.3,634.6 503.1,628.1 507.3,610.5 502.5,608.5 501.2,606.9 479.5,604.2 488.9,590.2 499.9,590.2 500.9,591.2 508,590.3 522.9,575.5 513,568.3 511.5,550.6 503.6,545.7 494.7,544.6 492.9,545.2 491.6,546.3 490.2,546.9 474.3,545.3 459.7,562.8ZM345.1,666 326.9,671.6 321.9,675.5 323.7,680.1 328.3,687.7 342.2,681.3 345.5,666.9Z" fill="#FFEBBE"/><path d="M438.6,747.2 441.2,748.3 451.2,747.1 451.7,744.5 447.2,728 444.3,726 442.3,721.5 439.5,720.5 427.4,722.5 424.4,727.9 428.6,735.3 432.1,736.6ZM396.4,486.3 396.3,486.9 404.2,506.6 389.9,513 389.2,515.3 399.9,529.6 410.4,528.6 411.8,527.4 429.1,523.9 432.8,511.1 430.1,508 413.3,504.6 413.3,481.7ZM391.2,401.7 393.9,403.9 405.3,403.2 411.5,397.7 415.4,380.2 425.3,373 417.3,356.8 417.3,356.5 405.7,342.1 406.7,347.9 401.8,356.7 388,354.7 379.9,355.7 378.6,356.9 387.1,369.6 388.3,377 386.2,382.9ZM401,697.9 394,687.4 381.1,700.3 380.7,703 381.8,704.2 396.8,704.2ZM358.3,673.5 345,666.5 341.6,681.1 349.9,691.3 362.3,681.1Z" fill="#E60000"/><path d="M364.2,698.9 370.2,705.5 381.2,703.1 381.6,700.4 374.6,683.5 372.3,682.6 368.1,683.4Z" fill="#A80000"/><path d="M398,549.5 411.7,550.8 416.4,548.7 410.5,528 399.9,529 392.2,542.9Z" fill="#730000"/><path d="M316.1,646.9 319,644.8M319,644.8 322.2,636.1M322.2,636.1 308.8,622.9M314,648.1 316.1,646.9M369.9,789.9 359.1,792.6M369.9,808.3 369.9,789.9M316.1,646.9 331.9,657.8M331.9,657.8 339.6,656.4M339.6,656.4 338.4,647.8M338.4,647.8 319,644.8M308.8,622.9 325,622.9M325,622.9 331.6,616.2M331.6,616.2 330.6,611.8M360.2,583.3 349.8,567.7M340.8,588.2 360.2,583.3M386.6,382.9 388.6,377.1M388.6,377.1 387.4,369.5M387.4,369.5 379.4,357.5M360.9,388.1 386.6,382.9M327.1,671.8 326.9,660.4M326.9,660.4 317.2,658M322.7,675.2 327.1,671.8M322.2,636.1 324.9,633.9M324.9,633.9 325,622.9M326.9,660.4 331.9,657.8M327.1,671.8 344.9,666.3M344.9,666.3 344.9,664M344.9,664 339.6,656.4M338.4,647.8 340.8,643.1M340.8,643.1 333.4,633.9M333.4,633.9 324.9,633.9M341.3,642.8 346.4,623.6M346.3,623.1 338.1,621.8M338.1,621.8 333.4,633.9M340.8,643.1 341.3,642.8M344.9,664 357.8,654.8M357.8,654.8 355.8,641M355.8,641 341.3,642.8M338.1,621.8 331.6,616.2M346.3,623.1 350.2,619.7M350.2,619.7 344.3,601.9M344.3,601.9 341.4,600.5M328.9,687 341.9,681M341.9,681 345.2,666.9M345.2,666.9 344.9,666.3M349.2,698.4 349.9,690.8M349.9,690.8 341.9,681M335.2,701.2 349.2,698.4M345.2,666.9 358.1,673.7M358.1,673.7 359.9,671.9M359.9,671.9 361.8,664.9M361.8,664.9 363.8,656.8M363.8,656.8 362.3,655.9M362.3,655.9 357.8,654.8M353.1,712.4 349.7,698.9M349.7,698.9 349.2,698.4M343.1,719.1 353.1,712.4M355.8,641 357.9,638.6M357.9,638.6 346.4,623.6M357.9,638.6 362.2,636.9M362.2,636.9 363,633.6M363,633.6 360.4,617.4M360.4,617.4 350.2,619.7M361,737.6 364,727.3M364,727.3 347.5,729.6M344.8,742.3 361,737.6M363.8,763.5 359.8,751.4M359.8,751.4 348.5,751.4M358.8,767.6 363.8,763.5M349.7,698.9 364.6,698.9M364.6,698.9 368.4,683.6M368.4,683.6 361.9,681M361.9,681 349.9,690.8M374.5,483.3 367,467.9M367,467.9 357.6,467.9M368.8,490.7 374.5,483.3M344.3,601.9 360.9,601.9M360.9,601.9 360.9,583.5M360.9,583.5 360.2,583.3M367,467.9 383.7,456.8M383.7,456.8 375.5,447M375.5,447 358.6,444.6M360.4,617.4 363.9,613.9M363.9,613.9 363.9,605.3M363.9,605.3 360.9,601.9M361.9,681 358.1,673.7M364,727.3 366.4,725.2M366.4,725.2 363.9,717.9M363.9,717.9 353.1,712.4M363.9,717.9 370.3,705.1M370.3,705.1 364.6,698.9M363,633.6 376.1,624.7M376.1,624.7 374.8,619.3M374.8,619.3 363.9,613.9M362.3,655.9 370.1,640.9M370.1,640.9 362.2,636.9M363.9,605.3 377,600.4M377,600.4 377,576.9M377,576.9 360.9,583.5M363.6,747.9 361,737.6M359.8,751.4 363.6,747.9M363.8,763.5 368.6,764.1M368.6,764.1 378,757.9M378,757.9 378,747.9M378,747.9 363.6,747.9M369.9,789.9 375.1,784.8M375.1,784.8 375.2,784M375.2,784 358.8,775.9M374.4,532.8 378.3,522M378.3,522 362.1,508.5M363.5,534.6 374.4,532.8M377,576.9 379.6,574.2M379.6,574.2 373.2,561.3M373.2,561.3 361.3,556.4M361.8,664.9 371.9,664.9M371.9,664.9 372,659M372,659 363.8,656.8M378,747.9 378,735.2M378,735.2 370.2,726.3M370.2,726.3 366.4,725.2M368.4,683.6 372.3,682.9M372.3,682.9 374.5,669.4M374.5,669.4 371.9,664.9M371.9,664.9 359.9,671.9M375.2,784 376.1,782.7M376.1,782.7 368.6,764.1M373.2,561.3 383.4,542.8M383.4,542.8 374.4,532.8M372,659 372.8,658.4M372.8,658.4 375,644.2M375,644.2 374.4,641.9M374.4,641.9 370.1,640.9M386,797.4 399,790.9M399,790.9 399,779.9M399,779.9 397,778.9M397,778.9 378.2,781.3M378.2,781.3 376.1,782.7M375.1,784.8 386,797.4M386,808.2 386,797.4M378.3,522 389.5,515.3M389.5,515.3 390.1,513.2M390.1,513.2 384.3,501.6M384.3,501.6 369.1,495.5M385.9,457.9 387,471.9M387,471.9 415.5,471.8M415.5,471.8 416.3,468.9M416.3,468.9 415.6,466.8M415.6,466.8 426.3,440.1M426.3,440.1 424.2,435.4M424.2,435.4 421.1,433.4M421.1,433.4 406.4,435.1M406.4,435.1 392.3,424.8M392.3,424.8 382.8,428.8M382.8,428.8 358.9,413.9M383.7,456.8 385.9,457.9M374.5,483.3 386.7,476.5M386.7,476.5 387,471.9M378.2,781.3 384,763.9M384,763.9 378,757.9M374.4,641.9 378,638.8M378,638.8 378,626.9M378,626.9 376.1,624.7M374.5,669.4 390.2,669.4M390.2,669.4 386.7,658.4M386.7,658.4 372.8,658.4M374.8,619.3 384.4,612.9M384.4,612.9 381.5,602.6M381.5,602.6 377,600.4M370.3,705.1 381,702.9M381,702.9 381.3,700.5M381.3,700.5 374.4,683.7M374.4,683.7 372.3,682.9M370.2,726.3 385.1,716.4M385.1,716.4 382,703.9M382,703.9 381,702.9M386.7,658.4 388.5,654.7M388.5,654.7 378.3,646.4M378.3,646.4 375,644.2M417,356.9 425,372.9M425,372.9 428.9,374.2M428.9,374.2 437.6,382.2M437.6,382.2 445.6,381.2M445.6,381.2 462.4,357.6M407,344.1 417,356.6M391.5,401.5 386.6,382.9M359.2,411.2 391.5,401.5M381.5,602.6 391.8,597.5M391.8,597.5 385.6,578.8M385.6,578.8 379.9,574.2M378.3,646.4 388,646.4M388,646.4 388,638.8M388,638.8 378,638.8M391.5,401.5 394,403.6M394,403.6 405.2,402.9M405.2,402.9 411.3,397.5M411.3,397.5 415.1,380M415.1,380 425,372.9M383.4,542.8 392.5,542.8M392.5,542.8 400.1,529.3M400.1,529.3 389.5,515.3M392.3,424.8 394,403.6M379.9,574.2 394.3,564.7M394.3,564.7 398.1,549.2M398.1,549.2 392.5,542.8M378,626.9 389,626.9M389,626.9 392.1,620.5M392.1,620.5 390.8,615.3M390.8,615.3 384.4,612.9M384.3,501.6 396.6,486.9M396.7,486.5 386.7,476.5M374.4,683.7 392.5,679.2M392.5,679.2 391.8,671.3M391.8,671.3 390.2,669.4M378,747.9 393.2,747.9M393.2,747.9 397.3,743.2M397.3,743.2 394.8,733.3M394.8,733.3 391.1,731.4M391.1,731.4 378,735.2M381.3,700.5 394,687.8M394,687.8 394,680.8M394,680.8 392.5,679.2M391.1,731.4 388.9,718.3M388.9,718.3 385.1,716.4M388,638.8 392.2,636.4M392.2,636.4 389,626.9M382,703.9 396.6,703.9M396.6,703.9 400.6,697.9M400.6,697.9 394,687.8M389,654.2 388,646.4M388.5,654.7 389,654.2M391.8,671.3 402.3,664.3M402.3,664.3 402.8,662.4M402.8,662.4 390.4,653.8M390.4,653.8 389,654.2M390.8,615.3 401.2,606.7M401.2,606.7 401.9,603M401.9,603 400.5,600.7M400.5,600.7 391.8,597.5M392.2,636.4 400.2,638.2M400.2,638.2 406,626.1M406,626.1 392.1,620.5M390.4,653.8 402,647.6M402.1,647.3 403,643M403,643 400.2,638.2M384,763.9 392,763.9M392,763.9 396.5,759.3M396.5,759.3 393.2,747.9M398.1,549.2 411.7,550.5M411.7,550.5 416,548.6M416,548.6 410.3,528.4M410.3,528.4 400.1,529.3M390.1,513.2 404.6,506.8M404.6,506.8 396.6,486.9M400.5,600.7 404.9,585.1M404.9,585.1 403.5,583.3M403.5,583.3 385.6,578.8M388.9,718.3 400.4,715M400.4,715 396.6,703.9M394.8,733.3 402,728.5M402,728.5 402,715.8M402,715.8 400.4,715M397,778.9 392,763.9M399,779.9 408.5,760.8M408.5,760.8 396.5,759.3M403.5,583.3 408.4,568.7M408.4,568.7 394.3,564.7M394,680.8 407,680.8M407,680.8 414,673.8M414,673.8 411.3,671.2M411.3,671.2 402.3,664.3M410.3,528.4 411.7,527.1M411.7,527.1 408.4,507.1M408.4,507.1 404.6,506.8M405.6,797.5 399,790.9M406,626.1 411.5,622.5M411.6,622.3 401.2,606.7M408.5,760.8 409.1,760.6M409.1,760.6 415.8,750.6M415.8,750.6 415.2,748.7M415.2,748.7 412,745M412,745 397.3,743.2M396.7,486.5 413,482.1M413,482.1 414.3,480.9M414.3,480.9 415.5,471.8M408.4,507.1 413,504.8M413,504.8 413,482.1M401.9,603 417,601.1M417,601.1 417,586.6M417,586.6 404.9,585.1M400.6,697.9 407.5,697.9M407.5,697.9 412.5,691.8M412.5,691.8 407,680.8M402.8,662.4 404.9,658.9M404.9,658.9 402,647.6M433.2,770.7 432.6,772.7M460.2,771.2 457,762.2M457,762.2 434,769.9M434,769.9 433.2,770.7M434,769.9 441.3,748M441.3,748 438.8,746.9M438.8,746.9 421.3,752.8M421.3,752.8 433.2,770.7M403,643 404.7,642.9M404.7,642.9 417,629.2M417,629.2 412.4,623.4M412.4,623.4 411.5,622.5M404.9,658.9 410.7,658.9M410.7,658.9 417,657.6M417,657.6 417,655M417,655 402.1,647.3M421.1,433.4 420.2,420.3M420.2,420.3 405.2,402.9M408.7,568.5 411.7,550.5M412,745 412,731.9M412,731.9 402,728.5M399,779.9 415.4,779.9M420.2,777.2 409.1,760.6M402,715.8 411.3,713.7M411.3,713.7 413.9,710.7M413.9,710.7 407.5,697.9M411.3,671.2 410.7,658.9M414.3,480.9 430,489.6M430,489.6 440,484M440,484 440,483.1M440,483.1 433,468.9M433,468.9 416.3,468.9M417,586.6 423.7,581.6M423.7,581.6 424.3,578.2M424.3,578.2 416.6,570.5M416.6,570.5 408.7,568.5M411.6,622.3 424,609.9M424,609.9 424,606.4M424,606.4 417,601.1M412.5,691.8 419.3,691.8M419.3,691.8 426,681.8M426,681.8 417.3,673.2M417.3,673.2 414,673.8M415.2,748.7 428.8,735.1M428.8,735.1 424.7,727.9M424.7,727.9 416,727.9M416,727.9 412,731.9M416,727.9 411.3,713.7M420.2,420.3 434.2,400.8M434.2,400.8 435,400.3M435,400.3 437.6,382.2M416,548.6 425,549.9M425,549.9 434.9,535.8M434.9,535.8 428.9,523.7M428.9,523.7 411.7,527.1M413,504.8 430,508.2M430,508.2 430,489.6M428.9,523.7 432.5,511.2M432.5,511.2 430,508.2M417.3,673.2 421.5,664.9M421.5,664.9 420.2,661.5M420.2,661.5 417,657.6M535.2,300.3 550.7,291.7M523.8,290.9 535.2,300.3M567.6,307.6 573.9,309.4M557.5,293.1 567.6,307.6M416.6,570.5 426,551.9M426,551.9 425,549.9M417,655 419.8,646.3M419.8,646.3 418.5,642.9M418.5,642.9 404.7,642.9M418.5,642.9 420.5,638.9M420.5,638.9 419.7,632.1M419.7,632.1 417,629.2M424.3,578.2 433.3,571.4M433.3,571.4 435.3,561.2M435.3,561.2 426,551.9M412.4,623.4 428.3,623.4M428.3,623.4 431.3,617.2M431.3,617.2 424,609.9M424,606.4 438,595.9M438,595.9 423.7,581.6M413.9,710.7 419.4,709.6M419.4,709.6 423.3,697.9M423.3,697.9 419.3,691.8M419.7,632.1 427.5,628.7M427.5,628.7 428.3,623.4M424.7,727.9 427.6,722.8M427.6,722.8 424,711.9M424,711.9 419.4,709.6M420.2,661.5 431.1,650.9M431.1,650.9 419.8,646.3M433,468.9 447.6,454.3M447.6,454.3 426.3,440.1M431.1,650.9 433.8,650.9M433.8,650.9 428.1,638.9M428.1,638.9 420.5,638.9M510.6,375.3 515.2,375.7M515.2,375.7 520.8,371.9M520.8,371.9 536.8,371.9M536.8,371.9 538,370.4M538,370.4 538,350M538,350 521.8,354.6M521.8,354.6 517.3,350.1M495.7,358.6 510.6,375.3M424.2,435.4 450.2,419.7M450.2,419.7 447.5,410.3M447.5,410.3 435,400.3M435.3,561.2 453.6,557.5M453.6,557.5 450.4,538.1M450.4,538.1 434.9,535.8M426,681.8 430,681.8M430,681.8 436,672.8M436,672.8 436,667.8M436,667.8 433,664.9M433,664.9 421.5,664.9M432.5,511.2 449.6,508.7M449.6,508.7 451.2,506.8M451.2,506.8 449.4,489.3M449.4,489.3 440,484M421.3,752.8 415.8,750.6M438.8,746.9 432.3,736.4M432.3,736.4 428.8,735.1M431.3,617.2 442.5,620M442.5,620 448.4,618.9M448.4,618.9 451.5,616.9M451.5,616.9 438.4,595.9M433,664.9 435.2,651.2M435.2,651.2 433.8,650.9M438.4,595.9 446,589.1M446,589.1 446,579.9M446,579.9 433.3,571.4M427.5,628.7 433.8,631.8M433.8,631.8 442.5,620M423.3,697.9 435,697.9M435,697.9 437.2,689M437.2,689 430,681.8M428.1,638.9 434.5,635.7M434.5,635.7 433.8,631.8M435.2,651.2 437.8,650.1M437.8,650.1 441.6,647.2M441.6,647.2 442.1,641.7M442.1,641.7 434.5,635.7M424,711.9 433.4,708.7M433.4,708.7 437.4,702.7M437.4,702.7 435,697.9M432.3,736.4 444,726.2M444,726.2 442.1,721.8M442.1,721.8 439.5,720.8M439.5,720.8 427.6,722.8M436,667.8 444.8,664.9M444.8,664.9 437.8,650.1M439.5,720.8 433.4,708.7M440,483.1 454.7,463M454.7,463 451.2,454.7M451.2,454.7 447.6,454.3M451.2,454.7 460,445.9M460,445.9 456.2,423.2M456.2,423.2 450.2,419.7M437.4,702.7 442.3,703.9M442.3,703.9 449.7,701.8M449.7,701.8 446,686.8M446,686.8 437.2,689M442.1,641.7 444.9,638.9M444.9,638.9 448.4,618.9M446,686.8 452.6,681.2M452.5,681.1 436,672.8M457,762.2 457.9,755.9M457.9,755.9 456.1,752M456.1,752 450.9,746.8M450.9,746.8 441.3,748M528.6,320.4 535.6,302.9M535.6,302.9 535.2,300.3M516.2,321.4 528.6,320.4M450.4,538.1 458.4,530.8M458.4,530.8 449.6,508.7M442.1,721.8 445.5,716.7M445.5,716.7 442.3,703.9M450.9,746.8 451.3,744.5M451.3,744.5 447,728.2M447,728.2 444,726.2M446,579.9 460.9,565M460.9,564.9 460,562.9M460,562.9 453.6,557.5M451.5,616.9 460.3,616.9M460.3,616.9 465.8,613.5M465.8,613.5 467.4,612.1M467.4,612.1 451,590.2M451,590.2 446,589.1M444.8,664.9 455.8,664.9M455.8,664.9 460,660.2M460,660.2 460,658.4M460,658.4 459.7,657.5M459.7,657.5 441.6,647.2M452.5,681.1 455.8,664.9M447,728.2 462.7,723M462.7,723 455.8,712.5M455.8,712.5 445.5,716.7M449.4,489.3 461.2,482M461.2,482 458.3,466.9M458.3,466.9 454.7,463M456.2,423.2 472.9,417.6M472.9,417.6 478,409.9M478,409.9 478.5,406.1M478.5,406.1 460.7,397.2M460.7,397.2 458.8,387.8M458.8,387.8 445.6,381.2M459.7,657.5 460,655.7M460,655.7 457.8,641.7M457.8,641.7 452.1,638.9M452.1,638.9 444.9,638.9M458.3,466.9 476.7,466.9M476.7,466.9 480.2,453.2M480.2,453.2 479.3,451.9M479.3,451.9 469.3,445.9M469.3,445.9 460,445.9M460,562.9 474.4,545.6M474.4,545.6 463.9,530.8M463.9,530.8 458.4,530.8M452.1,638.9 460.7,620.7M460.7,620.7 460.3,616.9M449.7,701.8 456.6,703.5M456.6,703.5 459.5,685.8M459.5,685.8 452.6,681.2M451.2,506.8 467.9,503.7M467.9,503.7 471.4,492.3M471.4,492.3 465.1,483.9M465.1,483.9 461.2,482M455.8,712.5 456.9,703.9M451.3,744.5 468.7,727.2M468.7,727.2 467.5,724.9M467.5,724.9 462.7,723M478.5,406.1 488.7,393.9M488.7,393.9 477,376.4M477,376.4 477,362.9M451,590.2 468.5,584.4M468.6,584.2 460.9,565M460,658.4 477.1,651.6M477.1,651.6 474.3,639.8M474.3,639.8 471.7,639.8M471.7,639.8 460,655.7M476.7,755.9 457.9,755.9M463.9,530.8 469.8,526.7M469.8,526.7 474,509.8M474,509.8 467.9,503.7M460.7,620.7 464,633.7M464,633.7 471.7,639.8M474.3,639.8 477.4,638.1M477.4,638.1 465.8,613.5M457.8,641.7 464,633.7M459.5,685.8 467.3,685.8M467.3,685.8 473,668.9M473,668.9 460,660.2M456.1,752 478.6,735.2M478.6,735.2 468.7,727.2M456.9,703.9 470,703.9M470,703.9 475.8,692.2M475.8,692.2 467.3,685.8M480.2,453.2 499.3,457.4M501.3,443.4 491.1,436.1M491.1,436.1 489.9,433.4M489.9,433.4 479.4,430.8M479.4,430.8 472.9,417.6M467.4,612.1 470.4,610.8M470.4,610.8 473,606.9M473,606.9 468.5,584.4M467.5,724.9 474,711.9M474,711.9 470,703.9M468.6,584.2 482.6,580.7M482.6,580.7 486.3,573.4M486.3,573.4 480.2,564.9M480.2,564.9 460.9,564.9M465.1,483.9 480.2,472.4M480.2,472.4 476.7,466.9M480.2,564.9 490.3,547.2M490.3,547.2 474.4,545.6M471.4,492.3 494.9,487.1M495.9,481.2 480.2,472.4M477.4,638.1 481,637.2M481,637.2 481.8,632.6M481.8,632.6 478.9,618.3M478.9,618.3 470.4,610.8M474,509.8 495.6,509.8M481.4,736.1 478.6,735.2M490.1,711.9 474,711.9M488.7,393.9 492,393.9M492,393.9 510.6,375.3M473,668.9 478.3,668.9M478.3,668.9 477.9,651.9M477.9,651.9 477.1,651.6M489.9,433.4 496.1,422.5M496.1,422.5 496,421.9M496,421.9 478,409.9M475.8,692.2 491.8,689.6M486.7,670.4 478.3,668.9M526.1,578.9 526.1,595.9M526.1,595.9 534.1,603.9M534.1,603.9 536.2,605M552.5,585.5 526.1,578.9M473,606.9 479,604.4M479,604.4 488.7,589.9M488.7,589.9 482.6,580.7M490.3,547.2 491.8,546.5M491.8,546.5 493.1,545.4M493.1,545.4 481.6,528.2M481.6,528.2 469.8,526.7M477.9,651.9 491.6,651.9M493.9,644.5 481,637.2M486.3,573.4 496.9,572.2M496.9,572.2 491.8,546.5M481.6,528.2 495.9,510.3M478.9,618.3 491,621.7M491,621.7 492.5,621.1M492.5,621.1 502.3,608.8M502.3,608.8 501,607.1M501,607.1 479,604.4M493.1,545.4 494.7,544.9M494.7,544.9 498.9,515.4M481.8,632.6 491,627.8M491,627.8 491,621.7M497.5,640.8 491,627.8M513.2,614.3 507.9,610.8M507.9,610.8 506.9,610.7M506.9,610.7 502.8,628.1M502.8,628.1 504.4,632.9M519.2,624 513.2,614.3M534.1,603.9 513.2,614.3M496.1,422.5 508.9,428.8M518.8,413.7 509.2,406.1M509.2,406.1 506.8,405.7M506.8,405.7 492,393.9M502.8,628.1 492.5,621.1M494.7,544.9 503.4,546M503.4,546 514.6,523.7M488.7,589.9 500,589.9M500,589.9 500,573.5M500,573.5 496.9,572.2M500,573.5 512.7,568.4M512.7,568.4 511.2,550.8M511.2,550.8 503.4,546M501,607.1 501,590.9M501,590.9 500,589.9M501,590.9 507.9,590M507.9,590 522.4,575.5M522.4,575.5 512.7,568.4M506.9,610.7 502.3,608.8M511.2,550.8 528.8,545M507.9,610.8 518.3,597.8M518.3,597.8 507.9,590M520.5,389.1 509.2,406.1M536.3,397 520.5,389.1M522.4,575.5 524.1,576M524.1,576 536.7,561.6M520.5,389.1 515.2,375.7M518.3,597.8 526.1,595.9M526.1,578.9 524.1,576M544.4,390.7 536.8,371.9M538,350 541,345.7M541,345.7 541,337.2M541,337.2 542.2,334M542.2,334 528.6,320.4M541,345.7 565.8,363.4M565.8,363.4 570.1,364.3M570.8,351.7 558.9,335M558.9,335 545.4,332.5M545.4,332.5 542.2,334" fill="none" stroke="#6e6e6e" stroke-width="0.9"/></g><use href="#swe" fill="none" stroke="#6e6e6e" stroke-width="1"/></g><g transform="translate(846.7,1398.2)"><g clip-path="url(#cl)"><use href="#swe" fill="#F58A7F"/><path d="M451.2,90 592.2,90 580.1,136.7 575.1,148.4 570.1,158.5 565,170.6 561,179.1 551.9,176.6 539.8,172.6 523.7,164.5 507.6,160.1 491.5,160.5 480.4,155.5 471.3,140.4Z" fill="#D62F27" stroke="#5e5e5e" stroke-width="0.9"/><path d="M451.2,150.4 471.3,140.4 480.4,155.5 491.5,160.5 507.6,160.1 523.7,164.5 539.8,172.6 551.9,176.6 561,179.1 561.6,188.7 567.6,199.8 571.7,208.9 567,214.9 570.5,227.4 552.9,235.5 543.9,218.9 531.8,210.9 519.7,198.8 507.6,190.7 497.5,184.3 485.4,174.6 471.3,167 459.2,160.9Z" fill="#D62F27" stroke="#5e5e5e" stroke-width="0.9"/><path d="M439.1,190.7 443.1,174.6 459.2,160.9 471.3,167 485.4,174.6 497.5,184.3 507.6,190.7 519.7,198.8 531.8,210.9 543.9,218.9 552.9,235.5 541.9,233.5 535.8,249.2 531.8,257.2 519.7,251.2 505.6,247.2 502.6,239.1 499.5,229 483.4,221 471.3,214.9 461.3,206.9 450.8,198.8Z" fill="#E8604F" stroke="#5e5e5e" stroke-width="0.9"/><path d="M414.9,231 431,210.9 450.8,198.8 461.3,206.9 471.3,214.9 483.4,221 499.5,229 502.6,239.1 505.6,247.2 498.5,255.2 497.5,267.3 493.9,276.4 493.9,284.4 479.4,272.3 467.3,266.3 451.2,258.2 435.1,251.2 419,249.2Z" fill="#D62F27" stroke="#5e5e5e" stroke-width="0.9"/><path d="M580.1,136.7 612.4,120.2 612.4,198.8 592.2,198.8 593.2,210.9 586.2,207.9 571.7,208.9 567.6,199.8 561.6,188.7 561,179.1 565,170.6 570.1,158.5 575.1,148.4Z" fill="#B2C6F5" stroke="#5e5e5e" stroke-width="0.9"/><path d="M590.8,197.1 611,197.1 611,236.4 605.9,237.4 598.9,243.5 594.8,238.4 591.8,225.3 588.8,213.2 594.8,211.2Z" fill="#F58A7F" stroke="#5e5e5e" stroke-width="0.9"/><path d="M568.7,208.2 574.7,209.2 588.8,213.2 591.8,225.3 594.8,238.4 589.8,239.4 585.8,237.4 577.7,240.4 570.7,234.4 566.6,228.4 569.7,225.3 566.6,214.3Z" fill="#B2C6F5" stroke="#5e5e5e" stroke-width="0.9"/><path d="M547.5,232.4 554.5,235.4 566.6,228.4 570.7,235.4 568.7,245.5 567.6,251.5 571.7,256.6 568.7,263.6 558.6,268.1 545.5,256.6 535.9,252 539.9,242.5 542.5,236.4Z" fill="#FCACA6" stroke="#5e5e5e" stroke-width="0.9"/><path d="M535.9,252 545.5,256.6 558.6,268.1 554.5,275.7 550.5,275.7 542.5,271.7 535.4,272.7 532.4,261.6Z" fill="#FCACA6" stroke="#5e5e5e" stroke-width="0.9"/><path d="M570.7,235.4 577.7,240.4 580.7,245.5 584.8,258.6 590.8,264.6 597.9,280.7 604.9,295.8 590.8,300.9 578.7,295.8 575.7,290 568.7,280.7 558.6,268.1 568.7,263.6 571.7,256.6 567.6,251.5 568.7,245.5Z" fill="#F58A7F" stroke="#5e5e5e" stroke-width="0.9"/><path d="M577.7,240.4 585.8,237.4 589.8,239.4 594.8,238.4 598.9,243.5 604.9,252.5 606.9,265.6 612,276.2 600.9,281.7 597.9,280.7 590.8,264.6 584.8,258.6 580.7,245.5Z" fill="#F58A7F" stroke="#5e5e5e" stroke-width="0.9"/><path d="M598.9,243.5 605.9,237.4 610,240.4 615,250.5 618,260.6 617,270.7 612,276.2 606.9,265.6 604.9,252.5Z" fill="#F58A7F" stroke="#5e5e5e" stroke-width="0.9"/><path d="M493.1,276.3 496.7,271.4 496.7,264.2 497.9,256.9 503.9,252.1 508.2,246.5 518.3,251.5 527.3,252.5 532.4,256.6 532.4,261.6 535.4,272.7 532.4,276.7 526.9,285.9 518.4,296.8 506.4,288.4 494.3,281.1Z" fill="#F58A7F" stroke="#5e5e5e" stroke-width="0.9"/><path d="M524.3,280.7 532.4,276.7 542.5,271.7 550.5,275.7 554.5,275.7 558.6,268.1 568.6,280.7 575,289 580,296 590,300 576,302 574,306 568,300 558.9,292.8 544.8,289.8 532.7,286.8 524.6,285.8Z" fill="#F58A7F" stroke="#5e5e5e" stroke-width="0.9"/><path d="M425.4,250.6 435.5,240.6 446.8,247.4 456.5,254.7 465.3,259.5 481.4,274.8 493.5,279.6 494.3,284.5 491.1,294.1 487.9,303 477.4,295.8 466.9,290.9 458.9,282.9 457.2,278 447.6,274 437.1,267.5 430.6,259.5Z" fill="#F58A7F" stroke="#5e5e5e" stroke-width="0.9"/><path d="M505,625 565,625 565,740 505,740 500,725 495.6,705 495.6,690 498,675 505,660Z" fill="#E8604F" stroke="#5e5e5e" stroke-width="0.9"/><path d="M405,250 425.4,250.6 430.6,259.5 437.1,267.5 447.6,274 457.2,278 458.9,282.9 466.9,290.9 477.4,295.8 487.9,303 487.2,311.7 480.8,321.3 477.5,319.2 469,313.8 458.2,307.4 452.8,298.8 447.5,291.3 442.1,288 426,287 405,286Z" fill="#F58A7F" stroke="#5e5e5e" stroke-width="0.9"/><path d="M405,286 426,287 442.1,288 447.5,291.3 452.8,298.8 458.2,307.4 469,313.8 477.5,319.2 480.8,321.3 484,331 479.7,334.2 467.9,340.7 461.4,337.5 453.9,333.2 448.5,326.7 443.2,320.3 434.6,314.9 426,311.7 419.5,309.5 411.5,303.1 405,303Z" fill="#E8604F" stroke="#5e5e5e" stroke-width="0.9"/><path d="M419.5,309.5 426,311.7 434.6,314.9 443.2,320.3 448.5,326.7 453.9,333.2 461.4,337.5 467.9,340.7 462.5,341.8 467.7,360.9 458.2,353.6 448.5,345 441,337.5 438.9,332.1 432.4,324.6 426,319.2Z" fill="#FCACA6" stroke="#5e5e5e" stroke-width="0.9"/><path d="M461.6,341.5 474.9,335.5 485.8,333.1 496.7,337.9 508.8,352.4 496.7,357.3 487,363.3 474.9,362.1 467.7,360.9Z" fill="#B2C6F5" stroke="#5e5e5e" stroke-width="0.9"/><path d="M493.1,295.6 506.4,305.9 517.2,315 514.8,324.6 513.6,336.7 517.2,352.4 508.8,352.4 496.7,337.9 485.8,333.1 484,331 480.8,321.3 487.2,311.7 487.9,303 489.4,302.9Z" fill="#F58A7F" stroke="#5e5e5e" stroke-width="0.9"/><path d="M494.3,281.1 506.4,288.4 518.4,296.8 506.4,305.9 493.1,295.6 489.4,302.9 493.1,290.8Z" fill="#FCACA6" stroke="#5e5e5e" stroke-width="0.9"/><path d="M592.4,201.4 592,201.5 592.8,210.3 586.2,207.5 570.4,208.6 570.3,208.9 574.6,209.6 588.8,213.7 595.3,211.5Z" fill="#B2C6F5"/><path d="M532,256.8 532,263.5 532.1,263.5 536.3,252.2 540.3,242.6 542.8,236.7 546.3,233.9 541.6,233 535.4,249 531.7,256.5Z" fill="#E8604F"/><path d="M618.4,260 614.4,245.9 610.3,237.7 608.5,236.5 605,237.2 609.6,240.7 614.6,250.7 618.1,262.4 618.2,262.4Z" fill="#F58A7F"/><path d="M498,257.4 504.2,252.4 508,247.4 505.5,246.7 498.1,255Z" fill="#F58A7F"/><path d="M494.3,284.6 493.9,284.5 490.7,294 487.3,303.4 489.7,303.3 493.5,290.9Z" fill="#F58A7F"/><path d="M535,272.6 531.1,277.8 542.5,272.1 550.4,276.1 552.2,276.1 542.5,271.3 535.7,272.2 534,265.8 533.2,266Z" fill="#FCACA6"/><path d="M486.5,333.3 484.1,330.5 479.5,333.9 477.1,335.2 477.1,335.4Z" fill="#B2C6F5"/><path d="M415.6,249.7 415.6,250.7 425.6,251 426.8,249.7 419.7,248.9Z" fill="#F58A7F"/><path d="M567.2,228.5 566.4,228.8 570.4,235.7 579.1,241.9 579.5,241.4 571,234.1Z" fill="#B2C6F5"/><path d="M476.6,270.5 476.5,270.7 481.2,275.1 484.9,276.6 485,276.5 479.6,272Z" fill="#F58A7F"/><path d="M518.2,251.9 522.8,252.4 522.8,252.3 519.8,250.8 513.1,248.9 512.9,249.3Z" fill="#F58A7F"/><path d="M562,231.5 561.7,231 552.8,235.1 554.6,235.9Z" fill="#FCACA6"/><path d="M497.1,267.4 497.1,267.4 493.8,275.5 494.1,275.7 497.1,271.5Z" fill="#F58A7F"/><path d="M493.8,277.5 493.5,277.5 493.5,282.1 494,285 494.2,285 494.7,281.1Z" fill="#D62F27"/><path d="M605.8,276 605.3,275.4 599,280.7 597.1,280.1 597.8,281.6 596.2,283 596.7,283.6Z" fill="#F58A7F"/><path d="M568.2,299.8 559,292.5 556.7,292 567.8,307.8 575.1,310 574.3,308 576.8,300.7 576.4,300.5 573.9,305.5ZM570.3,356 571.7,351.9 559.4,334.7 545.8,332.2 542.4,333.8 541.1,337.1 541.1,345 555.7,361.6 570.9,364.6 571.3,364.1ZM541.3,601.1 552.3,590.2 554.3,581.9 548.2,573.8 540.2,563.8 530.3,553.9 529.6,544.5 510.3,550.9 514.1,573.6 521.7,577.2 523.6,577.2 525.8,579 532.1,597.7ZM523.2,290.1 518.2,296.6 505.9,305.9 516.9,315.1 515.2,321.8 529.2,320.7 536.3,302.9 536,300.4 552.6,291.2 544.9,289.5 532.8,286.5 526.6,285.7ZM505.3,625.3 512.7,625.3 512.8,619.5 505.2,616.4 510.1,601.9 504.7,599.2 491.1,604.6 489.6,618.9 490.2,620 494.9,622.4 500.7,634 502.6,637.8 505.3,635.1ZM501.3,446.1 504.3,438.1 508.3,432.2 509.9,428.8 496.8,422.2 496.7,421.7 478.3,409.5 472.9,417.6 480.9,433.5 489.2,435.2 498.2,448.6 500.9,450ZM494.3,505.9 495.3,490 495.9,486.6 470.1,492.4 468.1,503.1 473.4,509.9 468,526.3 460.4,531.7 456.9,541.8 458.1,543.1 475.7,553.2 476,553.1 487.5,535.8 482.3,528.2 496.8,510.1 496.6,509.7ZM472.5,568.2 461.6,571.4 458.3,581.4 460.5,587.2 468.4,594.2 473.2,593.6 475.2,592.6 475.7,590.9ZM420.1,417.7 421.2,433.5 424.3,435.6 426.4,440.3 447.9,454.6 451.4,455 460.5,445 456.9,423 450.9,419.5 448.2,410.2 435.5,400 432.2,401.6ZM456.7,703.2 456.7,686.3 439.9,684.6 436.8,700.1 443.3,704.9ZM436.5,641 440.5,653.2 447.2,653.2 454.5,642.2 455,641 456.6,638.9 452.6,632.6 436.9,632.6 434.6,638.7ZM401.6,549.2 399.1,552.2 399.1,559 402,563.4 413.9,567.4 423.9,552.3 414.9,545.9ZM402.6,611.7 416.8,609.6 419.2,594.3 409,586.3 406.4,587ZM396.1,759 390.1,763.1 390.1,775.1 394.1,777.1 394.1,791.1 402.2,793.2 407.1,797.3 412.2,792.2 415.3,786.1 416.3,780.2 418.3,779.2 414.7,776.7 414.7,760.7 406.3,758.6 402.3,760.6ZM380.3,703.9 371.4,704.7 361.9,717.9 372,728 377.1,733 378.9,744.2 388,746.8 389.4,746.5 391.6,733 392.5,732.2 403.1,732.2 406,720.6 404.7,717.7 401.6,716.1 394.9,706.1 383.5,706.1 382,704.6ZM380.3,637.5 375.2,642.6 376.4,645.4 380.6,651.7 382.7,652.2 389.7,650.2 389.7,637.5ZM371.2,601.5 359.9,599.4 356.8,618.4 366.1,623.1 375.7,619.2 378.6,612.2 374.8,604.7ZM307.7,619.9 308.7,632 310.4,638.9 316.1,637.6 321.8,634.3 322.2,634.2 334.6,646.5 340.4,643.6 342,640.1 348.3,635.9 348.6,634.3 348.6,620 333,616.5 332.7,617 328.4,619.6 315.1,619.6 309.6,618Z" fill="#F58A7F"/><path d="M509.7,602.3 514.6,601.9 518.7,604.4 523.5,615.4 526.7,617.8 528.2,616.2 536.2,606.2 541.7,600.7 532.6,597.2 526.3,578.6 523.8,576.6 521.8,576.6 514.4,573.1 502.1,577.8 500.4,586.7 504.4,599.7ZM396,759.6 402.4,761.2 406.4,759.2 414.4,761.2 418.4,759.2 425.2,760.9 432.3,746.7 441.1,748.7 435.6,765.3 438.1,768.7 438.1,777.1 444,779.3 452.1,778.3 460.2,772.3 468.2,768.2 476.3,760.2 477.7,756 480.3,748.1 481.3,742.2 482.3,736.1 485.9,727.1 486.3,726.1 494.3,702 494.3,691.9 491.1,686.7 489.3,683.9 487.3,672 489.3,660.1 490.9,656 493.3,650.1 494.8,644.8 495.3,643.2 500.2,640.2 503.1,637.4 501.2,633.7 495.4,622 490.3,619.5 485.2,624.7 480.6,633.7 478.2,638.6 468.7,638.6 468.4,638.5 468.2,638.6 456,638.6 454.4,640.7 454,641.9 446.9,652.6 440.6,652.6 437.3,655.4 430.8,654.5 422.4,659.5 419.6,658.8 414.2,669.4 406.3,665.5 401.6,670.2 403.6,681.8 407.1,683.2 407.1,698.8 415.3,703.9 404.2,717.9 405.4,720.6 402.5,731.9 404.1,734 404.1,743.7 392,747.7ZM445.1,736 454.7,732.8 454.7,720.7 457.5,718.9 471.6,722.5 468.9,736.1 464.1,738.9 458.2,753.5 443.6,747.6ZM421.7,703.2 421.7,681.1 422.9,680.7 439,683.9 440,685.2 456.1,686.8 456.1,702.7 443.5,704.3 437.2,699.6 426.7,703.8 431.5,718.2 443.3,718.2 444.3,719.3 440.5,730.6 431.9,730.6 429.4,733.6 418.7,733.6 418.7,722.8 419.7,722 419.7,704.1ZM476.6,614.4 490.1,619.2 491.7,604.7 481.9,594.9 474.9,592.1 472.7,593.1ZM458.8,581.7 462.2,571.5 455,565.7 446.1,570.2 446.1,576.7ZM416.6,574.5 408.5,586.7 418.8,594.8 434.3,592.8 437.1,590.8 436.9,588.1 428,576.2ZM399.1,648.7 398.7,649.9 404.9,656.8 406.4,657.3 414.8,654.2 414.9,653.6 410.7,643.4 410.7,638.9 400.3,635.5 399.1,636.1ZM378.4,522.1 374.5,532.8 381.5,540.8 382.3,545.3 399.4,552.6 402.1,549.6 399.2,532.1 400.8,529.3 390.3,515.2 390.9,513.2 384.9,501.3 368.1,494.6 368.7,505.8 361.2,507.8ZM390.5,590.8 374.2,604.8 378.1,612.6 395.6,610.9ZM389.4,649.7 382.7,651.6 380.7,651.1 371.6,660.1 373.2,666.6 363.9,671.2 366.8,685.7 376.3,684.6 376.7,684.8 380,704.4 381.9,705.2 392.7,688 392.7,684 390.8,682.8 388.7,668.1 392,666.4 392.7,664.8 392.7,657.4 391.8,650.7ZM379.5,743.7 377.6,732.7 372.4,727.5 372.1,727.5 361.7,740 362.4,743.5 374,747.4 374,759.1 380.4,760.7 381.4,760.4 388.5,746.3ZM358.5,782.5 359.7,789 358.6,791.4 368,794.8 374.5,789.9 368.1,779ZM346.7,730.1 347.6,735.2 353,735.2 361.5,718.2 362.5,718.2 371.9,705 363.2,696.3 353.4,698.8 349.1,696.1 334.6,702.3 335.7,706.1 341.7,718.1 341.7,718.2ZM332.2,648.6 327.1,648.6 324.6,649.6 313.5,649.6 315.7,656.1 317.9,663.7 318.2,664.8 319.7,670.1 323.7,680.1 327.4,686.3 330.6,684.1 347.6,684.1 347.9,683.8 353.4,682.4 359.6,669.9 356.4,666.1 345.7,670.4 339.6,666.3 340,664.6 345.6,659 345.7,649.6 340.2,643 334.5,645.9Z" fill="#D62F27"/><path d="M515.4,321.1 514.5,324.5 513.3,336.7 516.1,348.9 526.9,359.8 541.7,345 541.7,337.2 543,333.9 529.1,320.1ZM497.5,553.2 505.3,549.3 495.4,535.5 486.9,535.5 475.2,553.2ZM493.3,573.6 492.5,573.6 476.3,562 471.9,568.6 475.1,590.9 474.5,592.6 481.7,595.5 500.9,586.9 502.7,577.9ZM378.9,356.7 387.5,369.6 388.4,374.9 387.5,382.8 389.8,387.5 409.5,392.9 422.8,375.1 425.4,373.2 429.1,374.4 437.7,382.4 435.1,400.5 447.7,410.5 450.4,419.9 456.3,423.3 460,445.2 469.3,445.2 479,453.6 498.9,448.6 489.6,434.6 481.3,433 473.6,417.6 478.7,410 479.2,406.2 489.4,393.9 477.7,376.3 477.7,362.1 474.9,361.8 467.8,360.6 463.2,357.1 458.4,353.4 448.7,344.8 441.3,337.3 439.2,331.9 432.6,324.4 426.2,319 419.7,309.3 411.6,302.8 410.2,302.8 405.7,309.9 401.7,319.9 397.6,328 404.7,336.1 405.7,342 405.8,342.6 406.7,347.9 401.8,356.7 388,354.7 379.9,355.7ZM485.6,625 490.8,619.9 490.1,618.6 476.9,613.8 466,619.3 468.1,624.9 468.1,639.1 468.7,639.2 478.5,639.2 481.2,634ZM418.3,511.1 411.5,528.3 413.7,531.2 429,533.5 434.8,529.3 454.9,541.9 444.3,548.7 427.3,550.4 424.7,552.1 433,567.4 427.5,576.5 436.6,588.7 446.7,576.6 446.7,570.6 455.2,566.3 458.6,542.8 457.6,541.6 461,531.9 452.6,516.8 455,506 447.7,498.7 447.7,489.8 440.5,484.1 427.1,488.6 427.1,509.4ZM390.2,591.9 394.8,610.4 378.1,612 375.1,619 378.1,623.7 378.1,628.1 380.1,638.1 389.5,638.1 392.3,635.7 399.4,636.6 400.4,636.1 410.4,639.5 414.2,637 417.6,633.2 418.1,629.3 421,626.8 428.5,618 433.6,619.5 451.9,609.4 438.3,591.3 436.8,590.3 434.1,592.2 418.6,594.2 416.3,609.1 403.3,611 406.9,587.4 409.1,586.9 417.1,574.8 414,566.8 402.1,562.8 391.9,583.1 379.3,577.3 372.2,569.6 369.1,572.7 358.6,598.9 360.1,600.1 370.9,602 374.6,605.3ZM438.7,777.3 438.7,768.5 436.1,765 427.9,763 425.2,760.3 418.3,758.6 414.1,760.7 414.1,777.1 417.7,779.5 420.6,778 424.1,776.3 432,773.3 435.9,776.3ZM414.3,653.5 414.2,654 419.6,659.4 422.5,660.2 431.3,654.9 426,644.4 420.6,647.2ZM406.7,656.8 405,656.2 403.4,657.1 392.2,664.6 391.3,666.3 402,670.6 406.7,666ZM394.8,706.7 400.5,700.4 392.4,687.4 381.4,704.9 383.2,706.7ZM380.4,773.6 371.2,773.6 368.6,775.8 367.7,779.4 373.9,790.1 379.4,790.6 379.8,790.4 384.5,776.3ZM361.1,745.6 346.2,749.4 351.7,758.2 352.7,759.7 361.3,753.3 368.3,760.3 371.4,760.7 374.6,759.1 374.6,747 362.5,742.9ZM360,654.5 356.2,661.3 345.2,658.5 339.4,664.3 338.9,666.6 345.6,671 356.2,666.8 359.1,670.2 364.3,671.7 373.9,666.9 372.2,660 366.3,656.1 362.7,654.5ZM348,634.2 347.7,635.5 341.5,639.7 339.8,643.5 345.2,650 358.6,652.6 358.6,640.4 365.7,637.3 365.6,626 366.5,622.6 357.2,617.9 348,620ZM330.2,607.7 325.9,606.7 321.9,609.7 311.8,613.8 309.8,617.8 309.1,618.5 315,620.2 328.6,620.2 333.1,617.4 333.5,616.9 332.8,612.8 332.1,613.4Z" fill="#FCACA6"/><path d="M516.8,352.1 508.7,352.1 496.6,357 495.1,357.9 510.4,375 527.1,362.2 527.2,359.2 515.8,347.8ZM497.2,478.4 499.3,468 500.3,456 501,449.4 498.4,448.1 479.2,452.9 469.5,444.6 460.1,444.6 450.9,454.6 455,462.9 458.3,466.2 477.4,466.2 482,471.4ZM454.4,505.8 452,516.9 460.6,532.4 468.5,526.6 474.1,509.8 468.6,502.7ZM413.8,636.5 410.1,639 410.1,643.5 414.5,654.2 420.9,647.7 426.1,645.1 427.7,641.7 417.3,632.7ZM396.8,486.3 396.7,486.9 404.6,506.6 390.3,513 389.6,515.3 400.3,529.6 412,528.5 418.9,511.3 412.7,507.3 412.7,482ZM369.9,809.3 379.3,810.2 380,810.3 390.1,808.3 390.7,808.1 390.7,792.7 379.6,789.9 379.3,790 374,789.5 367.9,794.1 358.9,790.8 356.7,796 359.8,804.2 366,807.4ZM359.7,520.1 361.7,530.1 362.7,534.8 363.7,540 361.7,549.9 359.8,559.3 371,566.4 382.9,545.1 382.1,540.5 375.2,532.7 379.1,521.9 362,507.6 357.7,508.8ZM368.4,759.7 357.8,767.7 358.3,768.5 358.7,769.1 357.7,778 358.6,783.1 368.2,779.6 369.1,776.2 371.6,774 371.6,760.1ZM339.7,590 340.6,599.5 340.7,600 337.7,607.8 332.3,613.3 332.9,617 348.3,620.5 357.4,618.5 360.5,599.6 359.1,598.5 355.9,597.7 350.7,582.1 341.5,578.6 340.7,579.9Z" fill="#8FA9DE"/><path d="M522.2,410.2 528.2,402.2 530.6,401.1 522.7,391.9 522.7,387.7 510.7,375.7 510.7,374.5 495.6,357.6 486.9,363 477.1,362 477.1,376.5 488.9,394.2 492.3,394.2 506.3,405.4 506.6,406.3 518.1,416.4ZM494.9,535.9 504.4,549.1 497.4,552.6 475.7,552.6 475.4,552.7 476.1,562.6 492.3,574.2 493.2,574.2 502.4,578.4 514.7,573.6 511,551.3 529.7,545.1 529.3,540 528.3,527.8 522.1,525.7 512.1,521.7 503,517.2ZM504.5,616.8 512.2,619.9 512.1,625.3 519.1,625.3 527.1,617.3 524,615 519.1,604 514.7,601.3 509.5,601.7ZM468.6,593.6 460.8,586.7 437.6,591.3 451,609.2 433.2,619.1 433.6,620.1 436.9,633.2 452.2,633.2 456,639.2 468.4,639.2 468.7,639 468.7,624.8 466.8,619.6 477.2,614.3 473.3,593ZM444.5,735.5 443,748 458.6,754.3 464.5,739.3 469.4,736.4 472.2,722.3 472.1,722 457.4,718.3 454.1,720.3 454.1,732.3ZM447.1,498.9 454.6,506.4 468.7,503.3 470.7,492.5 464.5,484.6 461.9,483.2 447.1,489.7ZM444.5,549.2 456,541.9 434.8,528.6 428.6,533 427.1,551ZM421.1,680.6 421.1,702.8 419.1,703.7 419.1,721.7 418.1,722.6 418.1,734.2 429.7,734.2 432.2,731.2 440.9,731.2 444.9,719.2 443.5,717.6 431.9,717.6 427.5,704.1 437.4,700.2 440.5,684.9 439.4,683.3 422.9,680ZM436.1,765.6 441.9,748.3 432,746 424.7,760.6 427.6,763.5ZM379.3,356.3 371.8,363.8 365.8,373.8 360.7,379.9 359.7,391.9 355.7,395.9 358.7,408 358.3,411.5 358,413.2 357.7,416 356.7,428 357.7,438 357.7,446 356.7,460 356.7,470 357.7,474.1 367.7,486.1 368,491.9 368.2,495.3 384.5,501.8 390.4,513.6 405.3,506.9 397.3,486.8 397.3,486.8 412.1,482.7 412.1,507.6 418.5,511.7 427.7,509.9 427.7,488.7 418.4,482.4 431.7,468.8 419.4,459 427,440.1 424.8,435.2 421.8,433.2 420.7,417.7 409.1,407.7 410.6,394.5 409.6,392.3 390.2,387 388.1,382.7 389,374.9 388.1,369.4ZM414.5,670.2 420.1,659.1 414.6,653.6 406.1,656.8 406.1,666ZM392.1,684.3 392.1,688 399.8,700.4 394.3,706.3 401.2,716.6 404.6,718.3 416.2,703.8 407.7,698.4 407.7,682.8 404.1,681.4 402.2,670 391.7,665.9 388,667.7 390.2,683.1ZM381,759.9 380.1,760.2 380.1,774.1 383.8,776.6 379.2,790.4 390.4,793.2 394.7,791.1 394.7,776.7 390.7,774.7 390.7,763.4 396.5,759.5 392.7,748.1 404.7,744.1 404.7,733.8 403,731.6 392.2,731.6 391.1,732.7 388.9,746 387.8,746.2ZM392.1,635.1 389.1,637.7 389.1,650.2 391.5,651.3 399.2,650.1 399.7,648.8 399.7,636ZM362.1,740.5 372.7,727.8 362.5,717.6 361.2,717.6 352.4,735ZM330.4,683.5 327.1,685.8 329.7,690.1 332.7,696.1 334.7,702.9 349,696.7 353.3,699.4 363.4,696.9 366.1,686.1 353.2,681.8 347.6,683.2 347.3,683.5ZM356.5,662 360.5,654.8 358.5,652 345.1,649.3 345,659.1ZM321.6,633.8 315.8,637.1 310.3,638.3 311.7,644.1 313.7,650.2 324.7,650.2 327.2,649.2 332.5,649.2 335.1,646.1 322.4,633.6Z" fill="#E8604F"/><path d="M574.3,344.1 580.3,336.1 581.3,326 578.3,317.9 574.8,309.3 568.2,307.3 557.6,292.2 551.7,291 535.3,300.1 535.7,302.8 528.7,320.5 542.6,334.4 545.8,332.8 559.1,335.3 571.5,352.6 572.3,350.1ZM541.5,344.4 526.6,359.2 526.5,361.9 510.1,374.5 510.1,376 522.1,388 522.1,392.2 530,401.3 536.2,398.3 544.2,392.2 547.3,388.7 556.2,378.2 568.2,368.2 571.3,364.1 556,361.1ZM518.4,415.9 507.2,406 506.9,405.1 492.5,393.6 488.9,393.6 478.6,406 478.1,410 496.1,422.1 496.3,422.7 509.7,429.4 512.3,424.2 518.2,416.2ZM505,599.7 500.9,586.3 481.2,595.1 491.3,605.2ZM496.5,509.5 481.6,528.1 486.9,536.1 495.5,536.1 503.5,517.4 500.2,515.8ZM461.9,483.8 464.1,485.1 470.2,492.9 495.8,487.3 497.3,478.1 497.3,477.8 482.3,470.9 477.7,465.6 458.6,465.6 455.5,462.5 451.5,454.4 448.1,454 426.5,439.7 418.7,459.2 430.8,468.9 417.4,482.5 427.3,489.1 440.3,484.8 447.4,490.3ZM454.6,566.2 461.8,571.9 472.4,568.9 476.7,562.5 476,552.7 458,542.4ZM436.3,588.1 436.5,590.9 438.1,591.9 461.1,587.2 458.8,581.1 446.3,576.1ZM420.6,626.4 417.5,629 417,633.2 426.9,641.8 425.6,644.8 430.7,655.1 437.5,656 441.1,653 437,640.7 435.3,638.6 437.5,632.9 434.2,619.9 433.8,619 428.3,617.3ZM438.4,382.1 429.4,373.9 425.3,372.5 422.4,374.6 409,392.5 410,394.6 408.5,408 420.5,418.2 432.6,402.1 435.7,400.5ZM414.5,546.4 423.1,552.5 413.4,567 416.5,575.1 428,576.8 433.7,567.4 425.5,552.3 427.7,550.8 429.2,532.9 413.5,530.5ZM404.2,800.2 407.5,796.9 402.5,792.6 394.3,790.6 390.1,792.7 390.1,808.3 398.2,806.3ZM392.2,665.3 403.7,657.6 405.5,656.6 399.1,649.5 391.2,650.7 392.1,657.4ZM365,625.9 365.1,636.9 358,640 358,652.4 360,655.1 362.5,655.1 366,656.6 372,660.6 381.1,651.5 376.9,645.1 375.9,642.8 380.7,637.9 378.7,628.1 378.7,623.5 375.6,618.6 365.9,622.5ZM371,774.2 380.7,774.2 380.7,760.2 374.3,758.6 371,760.2ZM377.3,684.4 376.4,684 367.3,685 364.5,671.1 359.1,669.6 352.8,682.3 365.4,686.5 362.8,696.7 371.4,705.3 380.6,704.5ZM360,558.6 359.7,559.9 353.8,565.7 345.7,567.8 344.7,573.9 341.2,579.1 350.2,582.5 355.5,598.2 359.2,599.2 369.6,573 372.5,570.1 372.2,567.9 371.2,565.8ZM352.4,759.2 358.1,768.2 368.9,760.1 361.4,752.5ZM347.7,735.9 343.7,740.9 344.7,747.1 346.5,749.9 361.5,746.1 362.9,743.4 362.3,739.9 352.9,734.6 347.5,734.6Z" fill="#B2C6F5"/><path d="M399.7,552.1 382.4,544.7 370.6,566 371.6,568.1 371.9,570.1 379,577.8 392.2,583.9 402.6,563.1 399.7,558.8Z" fill="#6B8FCC"/><path d="M398.6,532 401.6,549.9 415.1,546.5 414.1,530.8 411.9,527.9 400.3,529Z" fill="#4575B5"/><path d="M315.9,637.3 321.7,634.1M321.7,634.1 315,619.9M315,619.9 310.3,618.5M311.2,638.4 315.9,637.3M324.7,649.9 314.6,649.9M318.6,662.8 324.7,649.9M321.7,634.1 322.3,633.9M322.3,633.9 323.3,632.9M323.3,632.9 328.5,619.9M328.5,619.9 315,619.9M328.5,619.9 332.9,617.2M333.1,616.8 332.7,614.2M348.3,600.2 355.7,598M355.7,598 350.5,582.3M350.5,582.3 342.2,579.2M341.6,599.5 348.3,600.2M386.3,403.2 390,387.2M390,387.2 387.8,382.8M387.8,382.8 388.7,374.9M388.7,374.9 387.8,369.5M387.8,369.5 379.6,357.3M359.2,411.3 386.3,403.2M315.9,637.3 327.2,648.9M327.2,648.9 332.3,648.9M332.3,648.9 334.7,646.1M334.7,646.1 322.3,633.9M323.3,632.9 336.2,632.9M336.2,632.9 332.9,617.2M334.7,646.1 340.2,643.4M340.2,643.4 341.8,639.9M341.8,639.9 336.2,632.9M324.7,649.9 327.2,648.9M368,794.5 359.6,791.4M366.3,806.5 368,794.5M332.3,650.1 339.7,664.5M339.7,664.5 345.3,658.9M345.3,658.9 345.4,649.7M345.4,649.7 340.2,643.4M332.3,648.9 332.3,650.1M319.1,664.6 325.3,663.8M325.3,663.8 332.3,650.1M330.5,683.8 334.8,668.6M334.8,668.6 325.3,663.8M328,685.5 330.5,683.8M339.2,666.4 339.7,664.5M334.8,668.6 339.2,666.4M330.5,683.8 347.5,683.8M347.8,683.5 345.6,670.7M345.6,670.7 339.2,666.4M341.8,639.9 348,635.7M348,635.7 348.3,634.2M348.3,634.2 348.3,620.2M348.3,620.2 333.1,616.8M345.4,649.7 358.3,652.3M358.3,652.3 358.3,640.2M358.3,640.2 348,635.7M345.3,658.9 356.3,661.7M356.3,661.7 360.2,654.8M360.2,654.8 358.3,652.3M347.8,683.5 353.2,682.1M353.2,682.1 359.3,670M359.3,670 356.3,666.4M356.3,666.4 345.6,670.7M356.3,666.4 356.3,661.7M353.3,714.7 353.3,699.1M353.3,699.1 349,696.4M349,696.4 335.5,702.2M342.6,717.9 353.3,714.7M349,696.4 347.5,683.8M348.3,620.2 348.3,600.2M348.3,620.2 357.1,618.2M357.1,618.2 360.2,599.8M360.2,599.8 359,598.8M359,598.8 355.7,598M350.5,582.3 369.3,572.9M369.3,572.9 372.2,570M372.2,570 371.9,568M371.9,568 370.9,566M370.9,566 360.7,559.5M361.3,745.9 362.6,743.3M362.6,743.3 362,740.1M362,740.1 352.8,734.9M352.8,734.9 348.4,734.9M347.2,749.4 361.3,745.9M353.3,699.1 363.1,696.7M363.1,696.7 365.7,686.3M365.7,686.3 353.2,682.1M348.3,634.2 365.3,626M365.3,626 366.1,622.8M366.1,622.8 357.1,618.2M359.3,670 364.3,671.4M364.3,671.4 373.6,666.7M373.6,666.7 371.9,660.2M371.9,660.2 366.1,656.4M366.1,656.4 362.6,654.8M362.6,654.8 360.2,654.8M374.8,532.8 378.7,522M378.7,522 362.4,508.4M363.5,534.6 374.8,532.8M374.9,483.3 387.1,476.5M387.1,476.5 387.4,471.9M387.4,471.9 411.4,471.8M411.4,471.8 413.1,481.8M413.1,481.8 417.9,482.5M417.9,482.5 431.3,468.9M431.3,468.9 419.1,459.1M419.1,459.1 411.4,464.3M411.4,464.3 394.8,455.1M394.8,455.1 386.3,457.9M386.3,457.9 384.1,456.8M384.1,456.8 375.9,447M375.9,447 358.6,444.5M357.6,467.9 367.4,467.9M367.4,467.9 374.9,483.3M359,598.8 369.3,572.9M358.3,640.2 365.4,637.1M365.4,637.1 365.3,626M362.6,654.8 371.6,641.7M371.6,641.7 367.6,638.4M367.6,638.4 365.4,637.1M362,740.1 372.3,727.8M372.3,727.8 362.3,717.9M362.3,717.9 361.3,717.9M361.3,717.9 352.8,734.9M361.3,717.9 353.3,714.7M362.3,717.9 371.5,705M371.5,705 363.1,696.7M361.3,752.9 361.3,745.9M353.3,758.9 361.3,752.9M361.3,752.9 368.5,760M368.5,760 371.3,760.4M371.3,760.4 374.3,758.9M374.3,758.9 374.3,747.2M374.3,747.2 362.6,743.3M366.1,622.8 375.5,619M375.5,619 378.3,612.3M378.3,612.3 374.6,604.9M374.6,604.9 371.1,601.7M371.1,601.7 360.2,599.8M367.6,638.4 378.4,628.1M378.4,628.1 378.4,623.6M378.4,623.6 375.5,619M365.7,686.3 367,685.3M367,685.3 364.3,671.4M371.5,705 380.2,704.2M380.2,704.2 377,684.6M377,684.6 376.4,684.3M376.4,684.3 367,685.3M376.4,684.3 376.4,668.5M376.4,668.5 373.6,666.7M358.7,767.4 368.5,760M359.6,769.1 368.8,776M368.8,776 371.3,773.9M371.3,773.9 371.3,760.4M374.3,747.2 379.2,744M379.2,744 377.4,732.9M377.4,732.9 372.3,727.8M379.4,790.3 374.1,789.8M374.1,789.8 368,794.5M379.4,809.3 379.4,790.3M368,779.4 368.8,776M359.4,782.5 368,779.4M371.1,601.7 379.1,577.5M379.1,577.5 372.2,570M366.1,656.4 376.7,645.3M376.7,645.3 375.5,642.7M375.5,642.7 371.6,641.7M374.1,789.8 368,779.4M371.3,773.9 380.4,773.9M380.4,773.9 380.4,760.4M380.4,760.4 374.3,758.9M378.7,522 389.9,515.3M389.9,515.3 390.5,513.2M390.5,513.2 384.7,501.6M384.7,501.6 369.1,495.3M368.9,491.2 374.9,483.3M419.1,459.1 426.7,440.1M426.7,440.1 424.6,435.4M424.6,435.4 421.5,433.4M421.5,433.4 406.8,435.1M406.8,435.1 392.7,424.8M392.7,424.8 383.2,428.8M383.2,428.8 358.9,413.6M372.3,727.8 383.4,718.5M383.4,718.5 383.4,706.4M383.4,706.4 381.8,704.9M381.8,704.9 380.2,704.2M379.6,790.2 384.2,776.5M384.2,776.5 380.4,773.9M371.9,568 399.4,558.9M399.4,558.9 399.4,552.3M399.4,552.3 382.6,545.1M382.6,545.1 370.9,566M382.6,545.1 381.8,540.6M381.8,540.6 374.8,532.8M417.4,356.9 425.4,372.9M425.4,372.9 429.3,374.2M429.3,374.2 438,382.2M438,382.2 446,381.2M446,381.2 462.7,357.8M406.9,343.5 417.4,356.6M371.9,660.2 380.8,651.4M380.8,651.4 376.7,645.3M378.4,623.6 389.8,628.3M389.8,628.3 395.4,620.7M395.4,620.7 398.3,612M398.3,612 395.2,610.7M395.2,610.7 378.3,612.3M376.4,668.5 386.3,667.2M386.3,667.2 382.7,651.9M382.7,651.9 380.8,651.4M374.6,604.9 390.4,591.4M390.4,591.4 392.1,583.6M392,583.5 379.1,577.5M375.5,642.7 380.4,637.8M380.4,637.8 378.4,628.1M382.7,651.9 389.4,650M389.4,650 389.4,637.8M389.4,637.8 380.4,637.8M380.4,760.4 381.2,760.2M381.2,760.2 388,746.5M388,746.5 379.2,744M390,387.2 409.4,392.5M409.4,392.5 422.6,374.9M422.6,374.9 388.7,374.9M392.7,424.8 393.6,413.5M393.6,413.5 386.3,403.2M381.8,540.6 398.9,532.1M398.9,532.1 400.5,529.3M400.5,529.3 389.9,515.3M377,684.6 390.5,682.9M390.5,682.9 388.4,667.9M388.4,667.9 386.3,667.2M379.6,790.2 390.4,792.9M390.4,792.9 394.4,790.9M394.4,790.9 394.4,776.9M394.4,776.9 390.4,774.9M390.4,774.9 384.2,776.5M392,583.5 402.2,563.1M402.2,563.1 399.4,558.9M384.7,501.6 397,486.9M397.1,486.5 387.1,476.5M389.4,637.8 392.2,635.4M392.2,635.4 389.8,628.3M390.4,774.9 390.4,763.2M390.4,763.2 381.2,760.2M393.6,413.5 408.8,407.8M408.8,407.8 410.3,394.5M410.3,394.5 409.4,392.5M377.4,732.9 391.4,732.9M391.4,732.9 392.4,731.9M392.4,731.9 389.2,722.4M389.2,722.4 383.4,718.5M388,746.5 389.1,746.3M389.1,746.3 391.4,732.9M381.8,704.9 392.4,687.9M392.4,687.9 392.4,684.2M392.4,684.2 390.5,682.9M388.4,667.9 391.8,666.2M391.8,666.2 392.4,664.8M392.4,664.8 392.4,657.4M392.4,657.4 391.6,651M391.6,651 389.4,650M395.2,610.7 390.4,591.4M391.6,651 399,649.8M399,649.8 399.4,648.8M399.4,648.8 399.4,636.3M399.4,636.3 392.2,635.4M383.4,706.4 394.7,706.4M394.7,706.4 400.2,700.4M400.2,700.4 392.4,687.9M392.4,684.2 403.8,681.6M403.8,681.6 401.9,670.3M401.9,670.3 391.8,666.2M390.4,807.3 390.4,792.9M390.4,763.2 396.2,759.3M396.2,759.3 392.4,747.9M392.4,747.9 389.1,746.3M414.4,776.9 406.4,776.9M406.4,776.9 402.4,792.9M402.4,792.9 406.6,796.5M417.1,778.8 414.4,776.9M438.4,768.6 435.9,765.3M435.9,765.3 427.7,763.2M427.7,763.2 420.9,776.9M438.4,776.3 438.4,768.6M389.2,722.4 401.4,716.4M401.4,716.4 394.7,706.4M399.4,552.3 401.8,549.5M401.8,549.5 398.9,532.1M390.5,513.2 405,506.8M405,506.8 397,486.9M392.4,731.9 402.9,731.9M402.9,731.9 405.7,720.6M405.7,720.6 404.5,717.9M404.5,717.9 401.4,716.4M398.3,612 402.6,611.7M402.9,611.4 406.7,587.2M406.7,587.2 392.1,583.6M392.4,664.8 403.5,657.4M403.5,657.4 392.4,657.4M402.4,792.9 394.4,790.9M394.4,776.9 402.4,774.9M402.4,774.9 402.4,760.9M402.4,760.9 396.2,759.3M421.5,433.4 420.4,417.8M420.4,417.8 408.8,407.8M400.5,529.3 411.8,528.3M411.8,528.3 418.6,511.4M418.6,511.4 412.4,507.5M412.4,507.5 405,506.8M399.4,636.3 400.4,635.8M400.4,635.8 401.3,633M401.3,633 395.4,620.7M403.5,657.4 405,656.5M405,656.5 399,649.8M392.4,747.9 404.4,743.9M404.4,743.9 404.4,733.9M404.4,733.9 402.9,731.9M400.2,700.4 407.4,698.6M407.4,698.6 407.4,683M407.4,683 403.8,681.6M406.7,587.2 408.9,586.6M408.9,586.6 416.8,574.8M416.8,574.8 413.8,567M413.8,567 402.2,563.1M413.8,567 423.5,552.4M423.5,552.4 414.8,546.2M414.8,546.2 401.8,549.5M397.1,486.5 412.4,482.4M412.4,482.4 413.1,481.8M401.3,633 407.9,624.1M407.9,624.1 402.6,611.7M405,656.5 406.4,657M406.4,657 414.5,653.9M414.6,653.6 410.4,643.4M410.4,643.4 399.4,648.8M410.4,643.4 410.4,639.1M410.4,639.1 400.4,635.8M401.9,670.3 406.4,665.8M406.4,665.8 406.4,657M404.5,717.9 415.8,703.9M415.8,703.9 407.4,698.6M402.4,760.9 406.4,758.9M406.4,758.9 406.4,745.9M406.4,745.9 404.4,743.9M406.4,776.9 402.4,774.9M387.8,369.5 417.4,356.9M422.6,374.9 425.4,372.9M412.4,507.5 412.4,482.4M414.8,546.2 413.8,530.9M413.8,530.9 411.8,528.3M407.9,624.1 417.8,629.1M417.8,629.1 420.8,626.6M420.8,626.6 428.4,617.6M428.4,617.6 426.7,615M426.7,615 416.6,609.3M416.6,609.3 402.9,611.4M404.4,733.9 418.4,733.9M418.4,733.9 418.4,722.7M418.4,722.7 405.7,720.6M410.4,639.1 414,636.7M414,636.7 417.4,633.1M417.4,633.1 417.8,629.1M407.4,683 417.7,679.9M417.7,679.9 414.4,669.8M414.4,669.8 406.4,665.8M414.4,776.9 414.4,760.9M414.4,760.9 406.4,758.9M406.4,745.9 418.4,745.9M418.4,745.9 418.4,733.9M420.4,417.8 432.4,401.9M432.4,401.9 435.4,400.3M435.4,400.3 438,382.2M418.6,511.4 427.4,509.6M427.4,509.6 427.4,488.8M427.4,488.8 417.9,482.5M413.8,530.9 428.9,533.2M428.9,533.2 434.8,529M434.8,529 433.6,516.8M433.6,516.8 428,509.9M428,509.9 427.4,509.6M414.4,669.8 419.7,659.2M419.7,659.2 414.5,653.9M416.6,609.3 418.9,594.4M418.9,594.4 408.9,586.6M414.6,653.6 420.8,647.4M420.8,647.4 414,636.7M415.8,703.9 419.4,703.9M419.4,703.9 421.4,703M421.4,703 421.4,680.8M421.4,680.8 417.7,679.9M458.4,761.9 438.4,768.6M461.3,770.7 458.4,761.9M535.6,300.3 551,291.7M523.9,290.7 535.6,300.3M568,307.6 573.9,309.3M557.9,293.2 568,307.6M423.5,552.4 425.1,552.2M425.1,552.2 427.4,550.6M427.4,550.6 428.9,533.2M416.8,574.8 427.8,576.5M427.8,576.5 433.4,567.4M433.4,567.4 425.1,552.2M418.4,722.7 419.4,721.9M419.4,721.9 419.4,703.9M418.9,594.4 434.2,592.5M434.2,592.5 436.8,590.7M436.8,590.7 436.6,588.2M436.6,588.2 427.8,576.5M421.4,680.8 422.9,680.3M422.9,680.3 427.1,667.8M427.1,667.8 422.4,659.8M422.4,659.8 419.7,659.2M414.4,760.9 418.4,758.9M418.4,758.9 418.4,745.9M419.4,721.9 429.1,721.9M429.1,721.9 431.7,717.9M431.7,717.9 427.1,704M427.1,704 421.4,703M427.7,763.2 425.1,760.6M425.1,760.6 418.4,758.9M424.6,435.4 450.6,419.7M450.6,419.7 447.9,410.3M447.9,410.3 435.4,400.3M418.4,733.9 429.6,733.9M429.6,733.9 432.1,730.9M432.1,730.9 429.1,721.9M422.4,659.8 430.9,654.8M430.9,654.8 425.9,644.8M425.9,644.8 420.8,647.4M418.4,745.9 431.6,745.9M431.6,745.9 429.6,733.9M425.9,644.8 427.3,641.8M427.3,641.8 417.4,633.1M427.3,641.8 433.8,639M433.8,639 420.8,626.6M431.3,468.9 433.4,468.9M433.4,468.9 448,454.3M448,454.3 426.7,440.1M510.4,374.6 526.8,362.1M526.8,362.1 526.9,359.4M526.9,359.4 517.2,349.6M496,358.5 510.4,374.6M426.7,615 434.2,592.5M435.9,765.3 441.5,748.5M441.5,748.5 432.1,746.4M432.1,746.4 425.1,760.6M428,509.9 447.4,498.8M447.4,498.8 447.4,489.9M447.4,489.9 440.4,484.5M440.4,484.5 427.4,488.8M440.4,484.5 440.4,483.1M440.4,483.1 433.4,468.9M433.8,639 434.9,638.7M434.9,638.7 437.2,632.9M437.2,632.9 433.9,620M433.9,620 433.6,619.2M433.6,619.2 428.4,617.6M430.9,654.8 437.4,655.7M437.4,655.7 440.7,652.9M440.7,652.9 436.7,640.9M436.7,640.9 434.9,638.7M427.1,704 437.2,699.9M437.2,699.9 440.2,684.9M440.2,684.9 439.2,683.6M439.2,683.6 422.9,680.3M427.1,667.8 436.9,665.8M436.9,665.8 437.4,663.9M437.4,663.9 437.4,655.7M432.1,746.4 431.6,745.9M432.1,730.9 440.7,730.9M440.7,730.9 444.6,719.3M444.6,719.3 443.4,717.9M443.4,717.9 431.7,717.9M436.6,588.2 446.4,576.5M446.4,576.5 446.4,570.4M446.4,570.4 441.5,566.3M441.5,566.3 433.4,567.4M427.4,550.6 444.4,549M444.4,549 455.5,541.9M455.5,541.9 434.8,529M441.5,748.5 443.3,747.8M443.3,747.8 444.8,735.7M444.8,735.7 440.7,730.9M433.6,619.2 451.5,609.3M451.5,609.3 438.1,591.5M438.1,591.5 436.8,590.7M441.5,566.3 444.4,549M439.2,683.6 441.2,674.5M441.2,674.5 436.9,665.8M458.4,761.9 459.3,755.9M459.3,755.9 458.4,753.9M458.4,753.9 443.3,747.8M440.4,483.1 455.3,462.7M455.3,462.7 451.3,454.7M451.3,454.7 448,454.3M451.3,454.7 460.2,444.9M460.2,444.9 456.6,423.2M456.6,423.2 450.6,419.7M443.4,717.9 443.4,704.6M443.4,704.6 437.2,699.9M440.7,652.9 447,652.9M447,652.9 454.2,642.1M454.2,642.1 454.7,640.9M454.7,640.9 436.7,640.9M529,320.4 536,302.9M536,302.9 535.6,300.3M516.2,321.4 529,320.4M437.2,632.9 452.4,632.9M452.4,632.9 452.4,629.4M452.4,629.4 433.9,620M447.4,489.9 461.9,483.5M461.9,483.5 458.5,465.9M458.5,465.9 455.3,462.7M433.6,516.8 452.3,516.8M452.3,516.8 454.7,506.1M454.7,506.1 447.4,498.8M455.5,541.9 457.2,541.7M457.2,541.7 460.7,531.9M460.7,531.9 452.3,516.8M454.7,640.9 456.2,638.9M456.2,638.9 452.4,632.9M452.4,629.4 456.7,614M456.7,614 454.3,609.9M454.3,609.9 451.5,609.3M441.2,674.5 455.2,666.1M455.2,666.1 455.9,663.9M455.9,663.9 437.4,663.9M446.4,570.4 454.9,566.1M454.9,566.1 458.3,542.9M458.3,542.9 457.2,541.7M443.4,704.6 456.4,703M456.4,703 456.4,686.5M456.4,686.5 440.2,684.9M438.1,591.5 460.7,587M460.7,587 458.6,581.3M458.6,581.3 446.4,576.5M456.6,423.2 473.3,417.6M473.3,417.6 478.4,409.9M478.4,409.9 478.9,406.1M478.9,406.1 461.1,397.2M461.1,397.2 459.2,387.8M459.2,387.8 446,381.2M456,663.6 447,652.9M454.7,506.1 468.5,503M468.5,503 470.4,492.6M470.4,492.6 464.3,484.8M464.3,484.8 461.9,483.5M456.2,638.9 468.3,638.9M468.4,638.8 468.4,624.9M468.4,624.9 466.4,619.4M466.4,619.4 456.7,614M456.4,686.5 460.3,683.8M460.3,683.8 455.2,666.1M454.2,642.1 463.1,660.8M463.1,660.8 464.9,660.4M464.9,660.4 468.3,638.9M456,663.6 463.1,660.8M444.6,719.3 454.4,720.5M454.4,720.5 457.4,718.6M457.4,718.6 457.4,703.9M457.4,703.9 456.4,703M444.8,735.7 454.4,732.5M454.4,732.5 454.4,720.5M458.4,753.9 464.3,739.1M464.3,739.1 454.4,732.5M478.9,406.1 489.1,393.9M489.1,393.9 477.4,376.4M477.4,376.4 477.4,363M460.3,683.8 467.1,683.8M467.1,683.8 473.6,664.4M473.6,664.4 473.1,663.7M473.1,663.7 464.9,660.4M460.7,531.9 468.2,526.4M468.2,526.4 473.7,509.8M473.7,509.8 468.5,503M454.3,609.9 468.5,593.9M468.5,593.9 460.7,587M476.7,755.9 459.3,755.9M480.4,741.9 469.1,736.2M469.1,736.2 464.3,739.1M469.1,736.2 471.9,722.4M471.9,722.2 457.4,718.6M458.5,465.9 477.5,465.9M477.5,465.9 479.1,453.2M479.1,453.2 469.4,444.9M469.4,444.9 460.2,444.9M458.6,581.3 461.8,571.6M461.8,571.6 454.9,566.1M469.4,444.9 481.1,433.2M481.1,433.2 473.3,417.6M457.4,703.9 466.2,703.9M466.2,703.9 477.3,690M477.3,690 467.1,683.8M468.5,593.9 473.1,593.3M473.1,593.3 474.9,592.4M474.9,592.4 475.4,590.9M475.4,590.9 472.2,568.6M472.2,568.6 461.8,571.6M466.4,619.4 476.9,614.2M476.9,614.2 473.1,593.3M458.3,542.9 475.7,552.9M475.8,552.9 487.1,535.8M487.1,535.8 482,528.2M482,528.2 468.2,526.4M472.2,568.6 476.4,562.4M476.4,562.4 475.7,552.9M473.1,663.7 477.5,657.3M477.5,657.3 468.7,638.9M479.4,711.9 474.9,714.7M474.9,714.7 471.9,722.2M471.9,722.4 485.1,726.7M490.1,711.9 479.4,711.9M464.3,484.8 482.1,471.2M482.1,471.2 477.5,465.9M474.9,714.7 466.2,703.9M479.4,711.9 479.4,690.1M479.4,690.1 477.3,690M470.4,492.6 494.9,487.2M496.4,477.7 482.1,471.2M489.1,393.9 492.4,393.9M492.4,393.9 506.6,405.2M506.6,405.2 506.9,406.2M506.9,406.2 517.6,415.5M529.7,400.5 522.4,392M522.4,392 522.4,387.9M522.4,387.9 510.4,375.9M510.4,375.9 510.4,374.6M500.1,449.2 498.4,448.4M498.4,448.4 479.1,453.2M481.1,433.2 489.4,434.9M489.4,434.9 496.5,422.5M496.5,422.5 496.4,421.9M496.4,421.9 478.4,409.9M473.7,509.8 495.6,509.8M468.4,624.9 485.4,624.9M485.4,624.9 490.4,619.8M490.4,619.8 489.9,618.8M489.9,618.8 476.9,614.2M489.9,618.8 491.4,604.8M491.4,604.8 481.7,595.2M481.7,595.2 474.9,592.4M479.4,690.1 490.2,687.1M486.6,671 473.6,664.4M498.4,448.4 489.4,434.9M526.1,578.8 532.3,597.5M532.3,597.5 540.6,600.6M552.5,585.4 526.1,578.8M490,655.9 479.2,655.9M479.2,655.9 477.5,657.3M468.7,638.9 478.4,638.9M478.4,638.9 480.9,633.9M480.9,633.9 485.4,624.9M482,528.2 496,510.6M475.4,590.9 492.4,573.9M492.4,573.9 476.4,562.4M492.4,573.9 493.2,573.9M493.2,573.9 497.4,552.9M497.4,552.9 475.8,552.9M479.2,655.9 482.5,642M482.5,642 478.4,638.9M482.5,642 493.9,644.5M502.4,636.7 501,633.9M501,633.9 480.9,633.9M487.1,535.8 495.3,535.8M495.3,535.8 502.9,518.1M501,633.9 495.1,622.2M495.1,622.2 490.4,619.8M481.7,595.2 500.7,586.7M500.7,586.7 502.4,578M502.4,578 493.2,573.9M497.4,552.9 504.8,549.2M504.8,549.2 495.3,535.8M495.1,622.2 504.9,616.6M504.9,616.6 509.7,602M509.7,602 504.7,599.5M504.7,599.5 491.4,604.8M512.5,619.7 504.9,616.6M512.4,624.4 512.5,619.7M532.3,597.5 518.9,604.2M518.9,604.2 523.8,615.2M523.8,615.2 526.2,617M509,428.7 496.5,422.5M504.8,549.2 508,549.6M508,549.6 512.4,522.8M523.8,615.2 512.5,619.7M502.4,578 514.4,573.4M514.4,573.4 510.7,551.1M510.7,551.1 508,549.6M504.7,599.5 500.7,586.7M510.7,551.1 528.8,545.1M509.7,602 514.7,601.6M514.7,601.6 521.7,576.9M521.7,576.9 514.4,573.4M521.7,576.9 523.7,576.9M523.7,576.9 536.9,561.8M518.9,604.2 514.7,601.6M526.9,359.4 541.4,344.8M541.4,344.8 541.4,337.2M541.4,337.2 542.6,334M542.6,334 529,320.4M546.6,388 538.4,379.9M538.4,379.9 538.4,372.2M538.4,372.2 526.8,362.1M526.1,578.8 523.7,576.9M570.1,364.2 555.9,361.3M555.9,361.3 541.4,344.8M542.6,334 545.8,332.5M545.8,332.5 559.3,335M559.3,335 570.9,351.3" fill="none" stroke="#5e5e5e" stroke-width="0.9"/></g><use href="#swe" fill="none" stroke="#5a5a5a" stroke-width="1"/></g>
<text x="397.5" y="22" font-size="30">excreta supply</text><text x="732.7" y="22.8" font-size="30">crop need</text><text x="1299.8" y="25.6" font-size="30">balance</text><text x="74.5" y="375.8" font-size="37.4" font-weight="bold">kg/ha</text><rect x="75.0" y="406.7" width="76.2" height="38.2" fill="#FFEBBE" stroke="#707070" stroke-width="1"/><text x="165.0" y="434.1" font-size="25">0 - 13</text><rect x="75.0" y="458.9" width="76.2" height="38.2" fill="#FFBEBE" stroke="#707070" stroke-width="1"/><text x="165.0" y="486.3" font-size="25">14 - 26</text><rect x="75.0" y="511.1" width="76.2" height="38.2" fill="#FFA77F" stroke="#707070" stroke-width="1"/><text x="165.0" y="538.5" font-size="25">27 - 39</text><rect x="75.0" y="563.3" width="76.2" height="38.2" fill="#FF7F7F" stroke="#707070" stroke-width="1"/><text x="165.0" y="590.7" font-size="25">40 - 52</text><rect x="75.0" y="615.5" width="76.2" height="38.2" fill="#FF5500" stroke="#707070" stroke-width="1"/><text x="165.0" y="642.9" font-size="25">53 - 64</text><rect x="75.0" y="667.7" width="76.2" height="38.2" fill="#E60000" stroke="#707070" stroke-width="1"/><text x="165.0" y="695.1" font-size="25">65 - 77</text><rect x="75.0" y="719.9" width="76.2" height="38.2" fill="#A80000" stroke="#707070" stroke-width="1"/><text x="165.0" y="747.3" font-size="25">78 - 90</text><rect x="75.0" y="772.1" width="76.2" height="38.2" fill="#730000" stroke="#707070" stroke-width="1"/><text x="165.0" y="799.5" font-size="25">91 - &gt;103</text><text x="933.4" y="375.8" font-size="37.4" font-weight="bold">kg/ha</text><rect x="934.4" y="406.7" width="76" height="38.2" fill="#4575B5" stroke="#707070" stroke-width="1"/><text x="1023.9" y="434.1" font-size="25">-83 - -62</text><rect x="934.4" y="458.9" width="76" height="38.2" fill="#6B8FCC" stroke="#707070" stroke-width="1"/><text x="1023.9" y="486.3" font-size="25">-61 - -42</text><rect x="934.4" y="511.1" width="76" height="38.2" fill="#8FA9DE" stroke="#707070" stroke-width="1"/><text x="1023.9" y="538.5" font-size="25">-41 - -21</text><rect x="934.4" y="563.3" width="76" height="38.2" fill="#B2C6F5" stroke="#707070" stroke-width="1"/><text x="1023.9" y="590.7" font-size="25">-20 - 0</text><rect x="934.4" y="615.5" width="76" height="38.2" fill="#FCACA6" stroke="#707070" stroke-width="1"/><text x="1023.9" y="642.9" font-size="25">1 - 21</text><rect x="934.4" y="667.7" width="76" height="38.2" fill="#F58A7F" stroke="#707070" stroke-width="1"/><text x="1023.9" y="695.1" font-size="25">22 - 42</text><rect x="934.4" y="719.9" width="76" height="38.2" fill="#E8604F" stroke="#707070" stroke-width="1"/><text x="1023.9" y="747.3" font-size="25">43 - 62</text><rect x="934.4" y="772.1" width="76" height="38.2" fill="#D62F27" stroke="#707070" stroke-width="1"/><text x="1023.9" y="799.5" font-size="25">&gt;62</text><text x="74.5" y="1075.8" font-size="37.4" font-weight="bold">kg/ha</text><rect x="75.0" y="1107.3" width="76.2" height="38.2" fill="#FFEBBE" stroke="#707070" stroke-width="1"/><text x="165.0" y="1135.0" font-size="25">0 - 4</text><rect x="75.0" y="1159.5" width="76.2" height="38.2" fill="#FFBEBE" stroke="#707070" stroke-width="1"/><text x="165.0" y="1187.2" font-size="25">5 - 7</text><rect x="75.0" y="1211.7" width="76.2" height="38.2" fill="#FFA77F" stroke="#707070" stroke-width="1"/><text x="165.0" y="1239.4" font-size="25">8 - 11</text><rect x="75.0" y="1263.9" width="76.2" height="38.2" fill="#FF7F7F" stroke="#707070" stroke-width="1"/><text x="165.0" y="1291.6" font-size="25">12 - 15</text><rect x="75.0" y="1316.1" width="76.2" height="38.2" fill="#FF5500" stroke="#707070" stroke-width="1"/><text x="165.0" y="1343.8" font-size="25">16 - 18</text><rect x="75.0" y="1368.3" width="76.2" height="38.2" fill="#E60000" stroke="#707070" stroke-width="1"/><text x="165.0" y="1396.0" font-size="25">19 - 22</text><rect x="75.0" y="1420.5" width="76.2" height="38.2" fill="#A80000" stroke="#707070" stroke-width="1"/><text x="165.0" y="1448.2" font-size="25">23 - 25</text><rect x="75.0" y="1472.7" width="76.2" height="38.2" fill="#730000" stroke="#707070" stroke-width="1"/><text x="165.0" y="1500.4" font-size="25">26 - 29</text><text x="936.0" y="1041.1" font-size="37.4" font-weight="bold">kg/ha</text><rect x="936.9" y="1072.6" width="76" height="37.8" fill="#4575B5" stroke="#707070" stroke-width="1"/><text x="1027.1000000000001" y="1100.0" font-size="25">-21 - -16</text><rect x="936.9" y="1124.8" width="76" height="37.8" fill="#6B8FCC" stroke="#707070" stroke-width="1"/><text x="1027.1000000000001" y="1152.2" font-size="25">-15 - -11</text><rect x="936.9" y="1177.0" width="76" height="37.8" fill="#8FA9DE" stroke="#707070" stroke-width="1"/><text x="1027.1000000000001" y="1204.4" font-size="25">-10 - -5</text><rect x="936.9" y="1229.2" width="76" height="37.8" fill="#B2C6F5" stroke="#707070" stroke-width="1"/><text x="1027.1000000000001" y="1256.6" font-size="25">-4 - 0</text><rect x="936.9" y="1281.4" width="76" height="37.8" fill="#FCACA6" stroke="#707070" stroke-width="1"/><text x="1027.1000000000001" y="1308.8" font-size="25">1 - 5</text><rect x="936.9" y="1333.6" width="76" height="37.8" fill="#F58A7F" stroke="#707070" stroke-width="1"/><text x="1027.1000000000001" y="1361.0" font-size="25">6 - 11</text><rect x="936.9" y="1385.8" width="76" height="37.8" fill="#E8604F" stroke="#707070" stroke-width="1"/><text x="1027.1000000000001" y="1413.2" font-size="25">12 - 16</text><rect x="936.9" y="1438.0" width="76" height="37.8" fill="#D62F27" stroke="#707070" stroke-width="1"/><text x="1027.1000000000001" y="1465.4" font-size="25">&gt;16</text><text x="70.1" y="1770.5" font-size="37.4" font-weight="bold">kg/ha</text><rect x="70.4" y="1802.0" width="76.3" height="37.2" fill="#FFEBBE" stroke="#707070" stroke-width="1"/><text x="160.0" y="1829.0" font-size="25">0 - 13</text><rect x="70.4" y="1854.0" width="76.3" height="37.2" fill="#FFBEBE" stroke="#707070" stroke-width="1"/><text x="160.0" y="1881.0" font-size="25">14 - 26</text><rect x="70.4" y="1905.9" width="76.3" height="37.2" fill="#FFA77F" stroke="#707070" stroke-width="1"/><text x="160.0" y="1932.9" font-size="25">27 - 39</text><rect x="70.4" y="1957.9" width="76.3" height="37.2" fill="#FF7F7F" stroke="#707070" stroke-width="1"/><text x="160.0" y="1984.9" font-size="25">40 - 52</text><rect x="70.4" y="2009.8" width="76.3" height="37.2" fill="#FF5500" stroke="#707070" stroke-width="1"/><text x="160.0" y="2036.8" font-size="25">53 - 64</text><rect x="70.4" y="2061.8" width="76.3" height="37.2" fill="#E60000" stroke="#707070" stroke-width="1"/><text x="160.0" y="2088.8" font-size="25">65 - 77</text><rect x="70.4" y="2113.8" width="76.3" height="37.2" fill="#A80000" stroke="#707070" stroke-width="1"/><text x="160.0" y="2140.8" font-size="25">78 - 90</text><rect x="70.4" y="2165.7" width="76.3" height="37.2" fill="#730000" stroke="#707070" stroke-width="1"/><text x="160.0" y="2192.7" font-size="25">91 - 103</text><text x="938.4" y="1769.4" font-size="37.4" font-weight="bold">kg/ha</text><rect x="939.6" y="1800.9" width="76" height="37.4" fill="#4575B5" stroke="#707070" stroke-width="1"/><text x="1028.9" y="1827.9" font-size="25">-50 - -38</text><rect x="939.6" y="1852.9" width="76" height="37.4" fill="#6B8FCC" stroke="#707070" stroke-width="1"/><text x="1028.9" y="1879.9" font-size="25">-37 - -25</text><rect x="939.6" y="1904.8" width="76" height="37.4" fill="#8FA9DE" stroke="#707070" stroke-width="1"/><text x="1028.9" y="1931.8" font-size="25">-24 - -13</text><rect x="939.6" y="1956.8" width="76" height="37.4" fill="#B2C6F5" stroke="#707070" stroke-width="1"/><text x="1028.9" y="1983.8" font-size="25">-12 - 0</text><rect x="939.6" y="2008.7" width="76" height="37.4" fill="#FCACA6" stroke="#707070" stroke-width="1"/><text x="1028.9" y="2035.7" font-size="25">1 - 13</text><rect x="939.6" y="2060.7" width="76" height="37.4" fill="#F58A7F" stroke="#707070" stroke-width="1"/><text x="1028.9" y="2087.7" font-size="25">14 - 25</text><rect x="939.6" y="2112.7" width="76" height="37.4" fill="#E8604F" stroke="#707070" stroke-width="1"/><text x="1028.9" y="2139.7" font-size="25">26 - 38</text><rect x="939.6" y="2164.6" width="76" height="37.4" fill="#D62F27" stroke="#707070" stroke-width="1"/><text x="1028.9" y="2191.6" font-size="25">&gt; 38</text><text transform="translate(38.2,650.4) rotate(-90)" font-size="30.8" textLength="111.6" lengthAdjust="spacingAndGlyphs">Nitrogen</text><text transform="translate(38.9,1358.8) rotate(-90)" font-size="30.8" textLength="158.8" lengthAdjust="spacingAndGlyphs">Phosphorus</text><text transform="translate(23.6,2046.6) rotate(-90)" font-size="30.8" textLength="139.6" lengthAdjust="spacingAndGlyphs">Potassium</text><g stroke="#000" stroke-width="0.7" stroke-linejoin="miter"><polygon points="132.4,156.8 132.4,105.6 124.2,147.9" fill="#fff"/><polygon points="132.4,156.8 132.4,105.6 141.1,147.9" fill="#000"/><polygon points="132.4,156.8 183.4,156.6 141.1,147.9" fill="#fff"/><polygon points="132.4,156.8 183.4,156.6 141.1,164.9" fill="#000"/><polygon points="132.4,156.8 132.4,208.0 141.1,164.9" fill="#fff"/><polygon points="132.4,156.8 132.4,208.0 124.2,164.9" fill="#000"/><polygon points="132.4,156.8 81.4,156.4 124.2,164.9" fill="#fff"/><polygon points="132.4,156.8 81.4,156.4 124.2,147.9" fill="#000"/></g><text x="132.4" y="98" font-size="26" text-anchor="middle" font-family="Liberation Serif, serif">N</text><g stroke="#000" stroke-width="2"><line x1="954.4" y1="2284.8" x2="1339.2" y2="2284.8"/><line x1="954.4" y1="2274.5" x2="954.4" y2="2296"/><line x1="1002.5" y1="2277.9" x2="1002.5" y2="2291.4"/><line x1="1050.6" y1="2277.9" x2="1050.6" y2="2291.4"/><line x1="1098.7" y1="2277.9" x2="1098.7" y2="2291.4"/><line x1="1146.8" y1="2274.5" x2="1146.8" y2="2296"/><line x1="1194.9" y1="2277.9" x2="1194.9" y2="2291.4"/><line x1="1243.0" y1="2277.9" x2="1243.0" y2="2291.4"/><line x1="1291.1" y1="2277.9" x2="1291.1" y2="2291.4"/><line x1="1339.2" y1="2274.5" x2="1339.2" y2="2296"/></g><text x="954.2" y="2262.3" font-size="25" text-anchor="middle">0</text><text x="1049.7" y="2262.3" font-size="25" text-anchor="middle">210</text><text x="1144.8" y="2262.3" font-size="25" text-anchor="middle">420</text><text x="1316.3" y="2262.3" font-size="25" textLength="171.5" lengthAdjust="spacingAndGlyphs">840 Kilometers</text>
</svg></body></html>
